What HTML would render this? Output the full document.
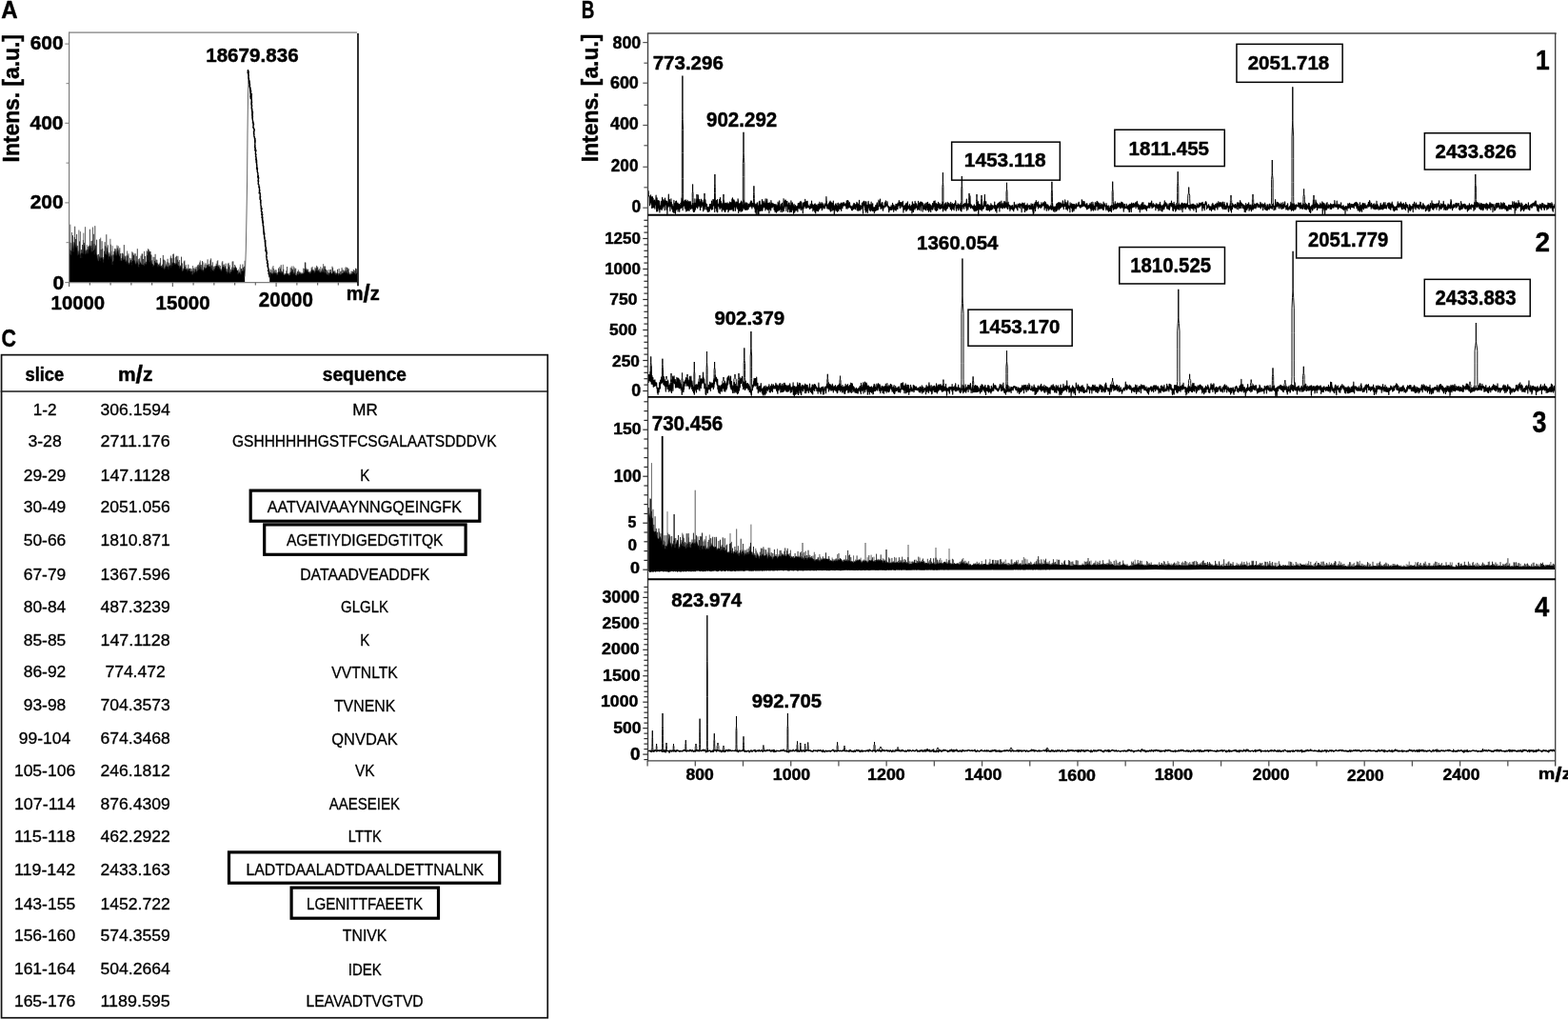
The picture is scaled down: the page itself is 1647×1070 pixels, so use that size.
<!DOCTYPE html>
<html lang="en">
<head>
<meta charset="utf-8">
<title>Figure: MALDI-TOF spectra and peptide table</title>
<style>
html,body{margin:0;padding:0;background:#fff;}
body{width:1647px;height:1070px;overflow:hidden;}
svg{display:block;font-family:"Liberation Sans",sans-serif;}
</style>
</head>
<body>
<svg width="1647" height="1070" viewBox="0 0 1647 1070">
<rect width="1647" height="1070" fill="#fff"/>
<text transform="translate(1.30,18.70) scale(0.9060,1)" font-size="26.52" font-weight="bold" fill="#000" stroke="#000" stroke-width="0.45" stroke-linejoin="round">A</text>
<text transform="translate(610.70,18.70) scale(0.7122,1)" font-size="26.52" font-weight="bold" fill="#000" stroke="#000" stroke-width="0.45" stroke-linejoin="round">B</text>
<text transform="translate(1.40,363.54) scale(0.8121,1)" font-size="26.34" font-weight="bold" fill="#000" stroke="#000" stroke-width="0.45" stroke-linejoin="round">C</text>
<path d="M73.0 296.4L73.0 261.0L73.5 261.8L74.0 263.5L74.5 263.0L75.0 263.1L75.5 259.8L76.0 252.7L76.5 257.0L77.0 262.0L77.5 258.2L78.0 254.7L78.5 254.2L79.0 255.8L79.5 258.6L80.0 261.0L80.5 259.1L81.0 256.7L81.5 263.1L82.0 267.9L82.5 265.7L83.0 261.6L83.5 264.9L84.0 268.6L84.5 266.6L85.0 265.7L85.5 265.5L86.0 266.3L86.5 265.6L87.0 265.7L87.5 260.6L88.0 257.1L88.5 257.3L89.0 259.0L89.5 263.5L90.0 267.3L90.5 263.9L91.0 261.0L91.5 263.4L92.0 266.8L92.5 265.8L93.0 262.5L93.5 260.9L94.0 256.1L94.5 258.6L95.0 259.3L95.5 261.2L96.0 265.4L96.5 260.9L97.0 255.5L97.5 259.1L98.0 263.0L98.5 263.1L99.0 262.3L99.5 260.7L100.0 257.1L100.5 262.9L101.0 266.4L101.5 267.6L102.0 269.7L102.5 271.6L103.0 274.3L103.5 274.3L104.0 273.6L104.5 271.5L105.0 269.5L105.5 270.8L106.0 271.4L106.5 270.2L107.0 270.1L107.5 270.6L108.0 271.9L108.5 272.6L109.0 272.5L109.5 269.7L110.0 265.8L110.5 266.8L111.0 267.6L111.5 267.1L112.0 263.8L112.5 263.7L113.0 262.9L113.5 265.3L114.0 268.9L114.5 269.4L115.0 269.4L115.5 268.4L116.0 265.6L116.5 267.3L117.0 267.8L117.5 271.4L118.0 275.8L118.5 274.5L119.0 273.9L119.5 270.0L120.0 265.9L120.5 263.6L121.0 262.5L121.5 265.9L122.0 269.1L122.5 265.6L123.0 262.2L123.5 264.2L124.0 263.4L124.5 266.5L125.0 267.7L125.5 268.9L126.0 269.4L126.5 271.7L127.0 273.3L127.5 273.4L128.0 274.5L128.5 270.3L129.0 268.1L129.5 270.2L130.0 273.3L130.5 272.4L131.0 270.9L131.5 273.3L132.0 275.5L132.5 274.1L133.0 272.5L133.5 274.1L134.0 275.0L134.5 275.6L135.0 276.9L135.5 277.6L136.0 277.8L136.5 275.6L137.0 272.8L137.5 275.3L138.0 276.2L138.5 275.0L139.0 273.8L139.5 274.1L140.0 273.7L140.5 272.5L141.0 273.1L141.5 273.4L142.0 275.0L142.5 276.9L143.0 277.7L143.5 274.8L144.0 273.3L144.5 275.6L145.0 276.8L145.5 277.8L146.0 277.9L146.5 277.9L147.0 276.7L147.5 275.7L148.0 276.0L148.5 277.2L149.0 278.1L149.5 277.8L150.0 277.7L150.5 278.4L151.0 277.7L151.5 276.4L152.0 275.7L152.5 276.5L153.0 278.1L153.5 277.3L154.0 276.3L154.5 275.0L155.0 273.0L155.5 273.0L156.0 272.9L156.5 274.7L157.0 275.8L157.5 275.4L158.0 274.2L158.5 274.0L159.0 274.2L159.5 276.3L160.0 277.2L160.5 276.9L161.0 278.2L161.5 278.3L162.0 279.3L162.5 277.1L163.0 275.0L163.5 275.8L164.0 276.3L164.5 276.4L165.0 274.9L165.5 277.6L166.0 281.0L166.5 279.5L167.0 277.9L167.5 279.1L168.0 280.1L168.5 279.8L169.0 279.2L169.5 280.8L170.0 281.1L170.5 279.3L171.0 277.5L171.5 279.8L172.0 282.5L172.5 281.6L173.0 280.4L173.5 280.2L174.0 279.3L174.5 279.3L175.0 279.5L175.5 279.4L176.0 280.1L176.5 280.3L177.0 280.4L177.5 280.7L178.0 280.1L178.5 279.0L179.0 278.1L179.5 278.7L180.0 279.5L180.5 278.2L181.0 276.3L181.5 276.5L182.0 275.6L182.5 275.6L183.0 276.3L183.5 277.0L184.0 277.9L184.5 277.2L185.0 277.0L185.5 276.2L186.0 276.6L186.5 278.0L187.0 278.7L187.5 278.9L188.0 279.1L188.5 280.2L189.0 280.4L189.5 280.6L190.0 280.3L190.5 280.6L191.0 280.9L191.5 283.5L192.0 284.8L192.5 283.7L193.0 283.2L193.5 282.3L194.0 281.9L194.5 282.1L195.0 282.4L195.5 283.1L196.0 283.5L196.5 283.8L197.0 284.9L197.5 284.1L198.0 282.9L198.5 283.7L199.0 283.8L199.5 284.6L200.0 285.1L200.5 285.0L201.0 283.9L201.5 285.9L202.0 288.4L202.5 285.7L203.0 284.1L203.5 285.0L204.0 286.4L204.5 284.2L205.0 282.2L205.5 283.3L206.0 283.1L206.5 284.4L207.0 285.2L207.5 284.2L208.0 283.5L208.5 283.5L209.0 283.2L209.5 282.4L210.0 281.9L210.5 280.2L211.0 279.4L211.5 281.4L212.0 283.0L212.5 283.9L213.0 284.7L213.5 283.8L214.0 283.7L214.5 281.8L215.0 280.6L215.5 281.8L216.0 281.6L216.5 281.2L217.0 281.6L217.5 279.2L218.0 278.0L218.5 278.6L219.0 278.7L219.5 280.0L220.0 280.2L220.5 279.4L221.0 279.2L221.5 281.4L222.0 282.9L222.5 282.9L223.0 282.9L223.5 284.1L224.0 284.6L224.5 283.9L225.0 283.4L225.5 282.5L226.0 281.0L226.5 280.6L227.0 279.5L227.5 278.8L228.0 278.6L228.5 279.4L229.0 279.7L229.5 280.0L230.0 279.7L230.5 281.1L231.0 281.8L231.5 282.8L232.0 284.0L232.5 283.4L233.0 282.5L233.5 280.8L234.0 279.9L234.5 279.8L235.0 279.8L235.5 280.8L236.0 281.4L236.5 281.5L237.0 281.5L237.5 283.5L238.0 285.5L238.5 286.3L239.0 286.8L239.5 286.0L240.0 285.6L240.5 286.3L241.0 287.4L241.5 287.1L242.0 286.6L242.5 285.6L243.0 284.6L243.5 284.0L244.0 282.8L244.5 283.3L245.0 283.4L245.5 283.2L246.0 283.6L246.5 282.2L247.0 281.2L247.5 281.2L248.0 281.5L248.5 282.9L249.0 284.2L249.5 285.3L250.0 287.0L250.5 287.2L251.0 287.1L251.5 285.5L252.0 283.7L252.5 286.0L253.0 287.8L253.5 286.2L254.0 284.2L254.5 284.6L255.0 284.5L255.5 284.6L256.0 285.4L256.5 283.7L257.0 282.0L257.2 296.4L257.2 296.4L245.2 296.4L233.2 296.4L221.2 296.4L209.2 296.4L197.2 296.4L185.2 296.4L173.2 296.4L161.2 296.4L149.2 296.4L137.2 296.4L125.2 296.4L113.2 296.4L101.2 296.4L89.2 296.4L77.2 296.4Z" fill="#000"/>
<path d="M73.2 266.0V254.2M73.8 267.1V235.7M74.7 267.8V255.1M75.4 264.0V244.0M77.2 264.4V254.2M81.6 268.3V258.1M82.9 266.8V241.5M84.4 270.9V243.1M85.9 270.6V262.1M87.4 266.6V252.0M87.8 263.1V244.6M89.5 267.2V238.2M91.2 266.4V257.1M97.5 264.1V238.5M99.0 267.3V256.0M105.7 274.2V249.6M108.6 275.6V270.1M112.2 268.3V259.5M112.6 267.6V260.8M114.2 272.5V266.8M115.9 269.8V250.8M116.4 270.5V256.7M117.0 272.0V263.6M118.1 278.0V258.1M119.4 273.9V268.2M122.9 267.7V257.5M126.3 273.8V266.5M129.4 272.8V266.4M133.6 276.6V263.5M138.3 278.3V271.0M141.2 276.2V266.3M145.3 279.8V272.0M145.9 280.5V273.4M151.5 279.2V263.8M158.4 277.4V267.5M160.9 280.2V269.7M170.6 281.3V277.6M172.6 283.2V272.7M173.6 282.1V273.6M175.1 281.5V275.3M176.7 282.6V275.4M177.4 282.6V279.2M179.5 281.1V268.5M180.9 279.3V275.3M182.8 278.2V270.8M188.6 282.2V273.0M191.0 283.2V275.9M191.6 285.1V276.7M196.6 285.7V281.9M200.3 286.4V281.8M202.1 288.7V284.4M202.6 286.9V279.0M204.1 287.2V282.2M205.9 285.0V281.9M206.8 286.3V280.0M210.3 282.8V273.5M211.8 284.0V278.2M213.8 285.4V275.4M215.0 282.7V277.8M222.1 284.9V281.1M224.7 285.2V282.2M228.8 281.7V273.2M230.3 282.6V278.2M232.3 285.1V282.3M233.2 283.5V275.5M235.6 282.7V277.5M238.9 287.7V284.5M241.8 287.8V285.5M243.5 285.3V280.7M245.4 284.9V280.8M249.9 287.8V284.0M250.3 288.1V282.7M252.0 285.5V280.5M252.4 286.8V277.6M252.9 288.4V286.1M257.1 284.2V273.8" fill="none" stroke="#333" stroke-width="0.75"/>
<path d="M76.5 262.4V247.1M78.3 260.3V249.0M78.7 260.4V237.7M79.6 263.9V251.0M80.6 264.0V246.0M82.0 271.4V263.6M83.5 269.4V253.4M85.3 269.6V262.3M86.5 270.2V257.0M88.4 262.8V254.9M90.1 269.6V262.9M91.8 269.7V262.0M92.6 268.4V259.1M93.2 265.9V258.1M94.3 262.2V240.7M95.3 265.3V257.9M96.0 268.6V253.1M96.8 262.1V252.6M98.3 267.6V245.8M99.8 263.8V237.2M100.5 266.1V257.5M101.6 271.4V251.7M102.4 274.7V267.5M103.5 277.1V266.9M104.3 275.4V269.3M104.8 273.3V251.1M106.1 274.8V262.0M107.1 273.1V253.2M107.7 274.8V261.2M109.6 271.9V263.6M110.1 269.9V254.1M110.7 270.8V258.3M111.8 269.3V246.2M113.3 268.5V257.3M114.9 273.0V265.2M117.4 274.7V268.4M118.9 276.4V267.3M119.9 270.8V263.9M120.7 267.6V260.9M121.8 271.1V261.4M123.4 267.5V260.5M124.1 268.1V258.3M124.9 270.5V262.4M125.8 272.5V260.3M126.9 275.8V266.0M127.8 276.5V271.1M128.5 273.6V265.7M130.3 275.4V257.1M131.1 274.5V268.5M131.8 277.4V269.4M132.9 275.7V268.3M134.4 278.2V268.4M134.9 279.2V266.3M135.7 280.2V275.8M136.6 277.8V270.8M137.6 277.9V272.7M138.8 277.4V264.3M139.7 276.5V265.4M140.2 276.2V267.7M140.6 275.9V268.2M142.2 278.4V266.3M143.3 278.7V268.8M144.3 277.0V261.2M146.6 279.7V271.3M147.2 278.8V274.6M148.1 278.2V268.6M149.1 280.5V266.5M149.7 280.5V266.5M150.6 280.2V272.0M152.6 279.3V269.0M153.4 279.4V274.8M154.2 277.9V263.3M154.6 276.8V268.1M155.2 275.9V264.2M155.6 275.9V261.2M156.1 276.2V265.0M156.5 277.0V262.4M157.0 278.0V265.8M157.5 277.6V264.0M158.1 277.4V264.1M159.0 277.4V267.6M159.8 278.9V273.2M162.0 281.2V269.9M162.5 279.5V273.9M163.1 277.8V266.8M164.0 278.8V272.6M164.9 278.0V272.8M165.7 281.4V276.5M166.5 281.6V277.9M167.2 280.7V277.0M168.0 281.8V275.7M168.6 281.5V270.9M169.5 282.4V278.9M171.3 281.3V267.9M171.7 283.1V272.6M174.7 281.6V277.5M176.1 282.4V271.8M177.8 282.5V276.3M178.3 281.8V278.4M179.1 280.6V270.7M180.3 280.9V271.2M181.8 278.2V267.1M182.3 278.1V266.4M183.8 279.9V276.0M184.7 279.5V269.8M185.4 279.2V268.7M186.4 279.9V272.7M186.9 280.9V268.8M187.7 281.2V274.8M189.2 282.8V278.5M189.8 282.5V279.0M190.5 282.8V269.6M192.7 285.2V281.8M193.3 284.2V274.5M193.9 283.5V273.5M194.4 283.6V279.8M195.2 284.1V278.1M196.2 285.1V281.6M197.0 286.3V283.2M197.8 285.3V277.7M198.4 285.2V282.0M198.9 285.6V281.9M199.3 286.0V281.8M201.2 286.2V282.3M201.6 287.7V284.9M203.3 286.0V281.5M205.1 284.2V280.4M207.4 286.0V278.4M208.2 285.0V280.5M208.7 284.9V277.7M209.2 284.6V278.9M209.8 283.8V275.5M210.9 281.6V278.0M212.5 285.1V274.1M213.1 285.8V283.1M214.4 284.3V280.4M216.0 283.8V276.3M217.1 282.7V277.8M218.1 280.3V272.4M218.9 281.2V277.7M219.9 282.2V277.1M220.9 281.6V273.3M221.6 283.5V271.4M222.5 284.8V278.6M223.3 285.1V275.3M224.2 285.9V279.8M225.3 284.3V279.5M226.3 282.6V279.0M227.2 281.3V276.8M228.2 280.9V274.2M229.3 281.9V278.5M231.3 284.4V278.9M233.8 282.5V274.2M234.8 281.8V277.9M236.5 283.4V279.4M237.2 284.2V276.6M238.3 287.2V282.3M239.6 287.5V277.1M240.0 287.2V275.9M240.6 287.9V280.3M241.3 288.1V278.3M242.4 287.1V282.8M244.1 284.5V274.6M244.9 284.7V274.4M246.2 284.8V281.0M246.7 283.6V278.0M247.5 283.0V279.6M248.4 284.1V281.2M249.5 286.9V283.9M250.9 288.3V285.7M253.5 287.4V282.2M253.9 286.2V282.0M254.9 286.0V277.5M255.5 286.4V280.8M256.6 285.1V279.8" fill="none" stroke="#000" stroke-width="0.75"/>
<path d="M257 290.5l0.6 -7.5l0.7 -21l0.7 -37l0.6 -35l0.4 -50l0.5 -40l0.5 -16l0.5 -9.2" fill="none" stroke="#555" stroke-width="0.9" stroke-linejoin="round" />
<path d="M259.9 74.8l0.7 -1.3l-0.5 2.9l1 -1.6l-0.5 3.2l0.1 -0.2l0.3 1.8l0.3 -0.7l-0.5 2.3l0.3 -0.1l-0.1 1.7l0.5 -0.5l-0.1 2.1l0.1 -0.9l-0.1 2.5l0.2 -1l-0.1 2.6l0.4 -2.4l0.6 4l0.2 -0.1l-0.7 1.7l0.2 -1.5l0.4 3.1l0 -1.2l0.5 2.8l-0.1 -2l0.2 3.6l0.2 -0.2l-0.5 1.8l0.8 -2.2l-0.3 3.8l0.1 0l0 1.6l0.3 -2.3l-0.8 3.9l0.9 -0.9l-0.4 2.5l0.6 -1.1l0.1 2.7l0.3 -0.3l-0.4 1.9l0.3 -1.1l-0.4 2.7l0.7 -1.3l-0.7 2.9l0.5 -0.1l0.2 1.7l-0.1 -1.1l-0.4 2.7l0.1 -0.1l0.1 1.7l0.5 -0.8l-0.4 2.4l0.6 -0.5l-0.3 2.1l0.4 -0.1l0.2 1.7l0.1 -2.2l-0.8 3.8l0.4 -2.3l0.4 3.9l-0.3 -0.3l-0.2 1.9l0.4 -0.7l-0.2 2.3l0.1 -0.9l0.3 2.5l0.2 -0.5l-0.5 2.1l0.7 -1.2l0.4 2.8l-0.5 -0.3l0.1 1.9l0.6 -2.2l-0.9 3.8l0.8 -0.1l0.2 1.7l0.4 -0.2l-0.2 1.8l0.1 -0.4l-0.6 2l0.9 -2.4l-0.9 4l0.4 -1l0.2 2.6l-0.3 -1.7l0.2 3.3l0.4 -0.2l0 1.8l0.1 -0.8l0.3 2.4l0.3 -1.4l-0.1 3l-0.3 -2l0.1 3.6l0.5 -2.4l-0.4 4l-0.1 -0.5l0.4 2.1l-0.3 -1.5l-0.3 3.1l0.5 -0.6l-0.1 2.2l0.6 -0.8l-0.8 2.4l0.4 -0.5l0.5 2.1l0.4 -1.9l-0.8 3.5l0.2 -0.7l0.1 2.3l0.6 -0.7l-0.7 2.3l0.3 -0.2l0.3 1.8l0.2 -1.2l-0.5 2.8l0.3 -2.2l0.7 3.8l-0.6 -1.6l0 3.2l0.6 -0.5l-0.2 2.1l0.1 -1.6l0 3.2l0.2 -1.5l0.2 3.1l-0.1 -1.7l-0.4 3.3l0.9 0l-0.4 1.6l0.5 -2.2l-0.3 3.8l0.2 -0.3l0.4 1.9l0.2 -0.3l-0.2 1.9l0.1 -0.5l0.2 2.1l-0.5 -0.1l0.4 1.7l0.4 -2.5l0 4.1l0.4 -1.7l-0.9 3.3l0.2 -0.4l0.3 2l0.3 -1.6l-0.6 3.2l0.5 -0.1l0.4 1.7l0 -0.6l-0.1 2.2l-0.1 -0.1l0.7 1.7l0 -2l0.1 3.6l-0.1 -1.5l-0.1 3.1l0.6 -1.3l-0.9 2.9l1 0l0.1 1.6l0 -2l0.1 3.6l0 -2.4l-0.3 4l0.7 -1.1l-0.8 2.7l0.5 -0.9l0.3 2.5l0.4 -0.3l-0.6 1.9l0.4 -2.4l0.1 4l-0.4 -2.5l0.4 4.1l-0.2 -0.6l0.4 2.2l0.2 -0.8l-0.3 2.4l0.2 -1.5l0.1 3.1l0.8 -1.5l-0.9 3.1l0.2 -0.3l0.7 1.9l0.2 -1.3l-0.8 2.9l0.7 -0.4l-0.1 2l0.7 -1.8l-1 3.4l1 -0.6l-0.1 2.2l-0.4 -1.8l0.1 3.4l0.2 -1.5l0 3.1l0.4 -2.3l-0.1 3.9l0.6 -1.9l-0.5 3.5l0.2 -0.5l0.1 2.1l0.4 -1l0.1 2.6l-0.4 -2.5l0.3 4.1l-0.1 -2.5l0.6 4.1l-0.5 -1.6l0.1 3.2l0.6 -0.6l-0.6 2.2l1 -1l-0.3 2.6l0 -0.3l-0.1 1.9l0.5 -0.4l-0.3 2l0.3 -2l0.2 3.6l0.3 -0.1l-0.4 1.7l0.9 -1.3l-0.6 2.9l0.5 -0.9l-0.2 2.5l-0.2 -1.7l0.1 3.3l0.2 -2.4l0.3 4l0.5 -0.5l-0.2 2.1l-0.4 -0.5l-0.1 2.1l1 -0.9l0 2.5l-0.4 -1.5l0.5 3.1l0.4 -1.6l-0.6 3.2l0 -1.4l-0.1 3l0.6 -0.6l-0.3 2.2l0.1 -0.4l0 2l0.4 -0.7l0.7 2.3l-0.3 -1l-0.5 2.6l0.4 -0.9l0.4 2.5l0.2 -1.7l-0.5 3.3l0.7 -2.1l-0.2 3.7l0.1 -1.6l0.5 3.2l0.2 -0.4l-0.8 2l0.9 -0.4l-0.1 2l0.3 -2l-0.4 3.6l0.8 -1.8l-0.2 3.4l0.4 -0.9l-0.2 2.5l0.2 -1.8" fill="none" stroke="#000" stroke-width="1.3" stroke-linejoin="round" />
<path d="M262 84l0.6 12l-0.4 -8l1 16l1.4 -6l-0.4 12l0.8 14" fill="none" stroke="#000" stroke-width="0.8" stroke-linejoin="round" />
<path d="M283.2 296.4L283.2 288.0L283.7 286.8L284.2 285.9L284.7 286.3L285.2 286.5L285.7 287.2L286.2 287.1L286.7 286.5L287.2 285.5L287.7 285.3L288.2 285.6L288.7 286.0L289.2 286.4L289.7 286.3L290.2 286.9L290.7 287.3L291.2 288.3L291.7 287.5L292.2 285.8L292.7 286.0L293.2 285.7L293.7 286.1L294.2 286.7L294.7 286.0L295.2 285.3L295.7 286.3L296.2 286.7L296.7 285.8L297.2 285.2L297.7 287.0L298.2 288.9L298.7 288.8L299.2 288.3L299.7 288.0L300.2 287.6L300.7 286.9L301.2 287.0L301.7 286.9L302.2 287.7L302.7 288.2L303.2 288.7L303.7 288.4L304.2 288.7L304.7 287.6L305.2 286.4L305.7 285.5L306.2 284.8L306.7 284.7L307.2 284.6L307.7 286.1L308.2 287.0L308.7 285.8L309.2 285.4L309.7 286.9L310.2 288.6L310.7 288.9L311.2 289.2L311.7 288.6L312.2 287.8L312.7 288.1L313.2 288.2L313.7 288.1L314.2 287.9L314.7 287.1L315.2 286.3L315.7 287.0L316.2 287.9L316.7 287.9L317.2 287.8L317.7 287.5L318.2 287.0L318.7 286.9L319.2 286.2L319.7 285.1L320.2 283.1L320.7 283.2L321.2 283.1L321.7 283.1L322.2 283.1L322.7 284.4L323.2 285.1L323.7 285.8L324.2 286.1L324.7 286.2L325.2 286.8L325.7 286.5L326.2 286.0L326.7 284.5L327.2 282.3L327.7 283.2L328.2 284.0L328.7 284.6L329.2 284.4L329.7 285.2L330.2 285.4L330.7 284.9L331.2 284.0L331.7 283.5L332.2 283.5L332.7 284.4L333.2 284.6L333.7 284.7L334.2 283.9L334.7 284.1L335.2 283.2L335.7 284.7L336.2 285.7L336.7 285.7L337.2 284.5L337.7 285.1L338.2 286.2L338.7 285.2L339.2 283.6L339.7 284.6L340.2 285.4L340.7 286.2L341.2 286.8L341.7 286.3L342.2 286.2L342.7 286.8L343.2 287.5L343.7 287.9L344.2 288.0L344.7 288.4L345.2 288.7L345.7 287.5L346.2 286.1L346.7 286.0L347.2 285.3L347.7 286.5L348.2 287.8L348.7 287.4L349.2 286.7L349.7 285.9L350.2 285.8L350.7 285.7L351.2 286.1L351.7 287.0L352.2 287.7L352.7 288.2L353.2 288.4L353.7 287.3L354.2 286.6L354.7 287.6L355.2 288.7L355.7 288.1L356.2 287.1L356.7 287.6L357.2 287.9L357.7 287.9L358.2 288.5L358.7 287.5L359.2 286.9L359.7 286.9L360.2 287.1L360.7 286.8L361.2 285.7L361.7 285.5L362.2 285.4L362.7 285.5L363.2 285.6L363.7 286.1L364.2 286.6L364.7 286.6L365.2 287.2L365.7 287.4L366.2 287.2L366.7 287.8L367.2 288.4L367.7 288.6L368.2 288.5L368.7 287.7L369.2 287.0L369.7 287.5L370.2 287.7L370.7 286.8L371.2 286.1L371.7 286.5L372.2 286.0L372.7 287.0L373.2 288.4L373.7 288.0L374.2 287.3L374.7 287.0L375.2 287.1L375.4 296.4L375.4 296.4L363.4 296.4L351.4 296.4L339.4 296.4L327.4 296.4L315.4 296.4L303.4 296.4L291.4 296.4Z" fill="#000"/>
<path d="M283.4 288.8V286.7M285.2 287.8V283.5M286.2 288.4V280.5M287.0 287.4V279.0M287.6 286.9V282.0M288.7 287.1V284.0M289.1 287.4V283.1M291.0 289.1V285.8M291.8 288.2V286.1M295.7 287.3V284.2M297.3 286.9V277.8M299.7 289.0V287.0M300.6 288.3V284.3M303.8 289.6V286.9M304.7 288.4V285.7M306.2 286.5V279.5M308.1 288.0V279.3M311.8 289.4V286.8M313.4 289.0V283.3M315.8 288.5V285.7M318.6 288.0V281.6M319.6 286.5V282.0M321.7 284.8V281.5M325.6 287.6V285.4M326.3 287.0V284.5M328.1 285.4V279.9M330.1 286.8V284.1M330.9 285.8V280.6M331.3 285.3V281.9M334.7 285.5V282.9M335.7 286.2V282.1M336.8 286.7V280.0M337.2 286.3V283.5M339.6 285.9V277.1M341.9 287.5V282.7M343.5 288.6V284.1M344.9 289.3V283.2M346.4 287.3V283.2M351.1 287.6V284.8M352.3 288.9V286.1M355.5 289.3V287.1M357.0 288.7V286.7M357.6 289.0V285.1M362.8 286.9V281.4M363.2 287.2V280.2M365.1 288.3V280.9M368.9 288.5V284.5M371.9 287.4V284.5M375.1 288.0V285.5" fill="none" stroke="#333" stroke-width="0.75"/>
<path d="M284.1 287.5V282.7M290.1 287.8V283.4M292.5 287.2V281.6M293.3 287.0V284.7M293.9 287.4V280.1M294.4 287.5V282.1M295.2 286.9V278.2M296.3 287.7V285.2M297.8 288.8V282.7M298.8 289.7V287.5M301.6 288.2V280.0M302.8 289.2V287.0M305.2 287.5V281.2M306.7 286.3V281.8M307.4 286.5V283.0M309.1 286.7V280.7M309.8 288.4V282.7M310.7 289.7V281.7M312.4 289.0V285.3M313.0 289.0V284.8M314.2 289.1V286.4M314.7 288.2V285.1M316.6 289.0V286.6M317.7 288.5V286.4M320.4 284.9V275.5M320.9 284.9V275.6M322.8 285.7V282.5M323.7 286.8V282.8M324.8 287.6V285.1M327.2 284.2V280.9M328.9 285.8V282.8M329.3 286.0V283.6M332.1 285.4V281.4M332.7 285.8V278.9M333.2 286.2V280.5M333.8 285.9V280.5M338.3 287.0V281.5M338.8 286.1V282.8M340.3 286.7V279.5M340.9 287.4V282.4M341.5 287.7V279.5M342.6 287.7V282.9M344.4 289.2V285.9M345.6 288.6V286.7M347.4 287.2V283.0M348.2 288.9V286.9M349.0 288.2V279.7M349.6 287.5V281.3M350.4 287.1V284.5M351.9 288.4V284.2M352.9 289.2V287.0M353.8 288.4V286.4M354.5 288.3V282.8M356.1 288.5V282.0M358.2 289.3V284.6M359.1 288.4V281.1M360.2 288.4V283.1M361.0 287.5V284.3M362.0 286.6V283.9M363.6 287.4V284.3M364.4 287.9V280.9M365.7 288.2V283.1M366.1 288.2V282.0M366.8 288.9V285.9M367.4 289.5V287.7M368.2 289.5V287.1M369.9 288.5V285.0M370.6 288.3V285.1M371.3 287.6V283.0M372.8 288.6V283.9M373.5 289.1V281.7M374.4 288.1V282.3" fill="none" stroke="#000" stroke-width="0.75"/>
<line x1="72.60" y1="34.10" x2="375.00" y2="34.10" stroke="#7f7f7f" stroke-width="1.2"/>
<line x1="72.60" y1="33.50" x2="72.60" y2="297.20" stroke="#7f7f7f" stroke-width="1.2"/>
<line x1="72.60" y1="296.60" x2="376.00" y2="296.60" stroke="#7f7f7f" stroke-width="1.2"/>
<line x1="376.00" y1="35.00" x2="376.00" y2="300.30" stroke="#000" stroke-width="1.6"/>
<line x1="68.30" y1="46.10" x2="72.60" y2="46.10" stroke="#7f7f7f" stroke-width="1.1"/>
<line x1="68.30" y1="129.30" x2="72.60" y2="129.30" stroke="#7f7f7f" stroke-width="1.1"/>
<line x1="68.30" y1="212.90" x2="72.60" y2="212.90" stroke="#7f7f7f" stroke-width="1.1"/>
<line x1="68.30" y1="296.60" x2="72.60" y2="296.60" stroke="#7f7f7f" stroke-width="1.1"/>
<line x1="69.50" y1="87.70" x2="72.60" y2="87.70" stroke="#7f7f7f" stroke-width="1.0"/>
<line x1="69.50" y1="171.10" x2="72.60" y2="171.10" stroke="#7f7f7f" stroke-width="1.0"/>
<line x1="69.50" y1="254.70" x2="72.60" y2="254.70" stroke="#7f7f7f" stroke-width="1.0"/>
<line x1="72.60" y1="296.60" x2="72.60" y2="301.00" stroke="#666" stroke-width="1.2"/>
<line x1="94.35" y1="296.60" x2="94.35" y2="299.60" stroke="#666" stroke-width="1.2"/>
<line x1="116.10" y1="296.60" x2="116.10" y2="299.60" stroke="#666" stroke-width="1.2"/>
<line x1="137.85" y1="296.60" x2="137.85" y2="299.60" stroke="#666" stroke-width="1.2"/>
<line x1="159.60" y1="296.60" x2="159.60" y2="299.60" stroke="#666" stroke-width="1.2"/>
<line x1="181.35" y1="296.60" x2="181.35" y2="301.00" stroke="#666" stroke-width="1.2"/>
<line x1="203.10" y1="296.60" x2="203.10" y2="299.60" stroke="#666" stroke-width="1.2"/>
<line x1="224.85" y1="296.60" x2="224.85" y2="299.60" stroke="#666" stroke-width="1.2"/>
<line x1="246.60" y1="296.60" x2="246.60" y2="299.60" stroke="#666" stroke-width="1.2"/>
<line x1="268.35" y1="296.60" x2="268.35" y2="299.60" stroke="#666" stroke-width="1.2"/>
<line x1="290.10" y1="296.60" x2="290.10" y2="301.00" stroke="#666" stroke-width="1.2"/>
<line x1="311.85" y1="296.60" x2="311.85" y2="299.60" stroke="#666" stroke-width="1.2"/>
<line x1="333.60" y1="296.60" x2="333.60" y2="299.60" stroke="#666" stroke-width="1.2"/>
<line x1="355.35" y1="296.60" x2="355.35" y2="299.60" stroke="#666" stroke-width="1.2"/>
<text transform="translate(31.70,52.49) scale(1.0025,1)" font-size="20.85" font-weight="bold" fill="#000" stroke="#000" stroke-width="0.45" stroke-linejoin="round">600</text>
<text transform="translate(31.50,135.90) scale(1.0363,1)" font-size="20.28" font-weight="bold" fill="#000" stroke="#000" stroke-width="0.45" stroke-linejoin="round">400</text>
<text transform="translate(31.70,219.20) scale(1.0233,1)" font-size="20.42" font-weight="bold" fill="#000" stroke="#000" stroke-width="0.45" stroke-linejoin="round">200</text>
<text transform="translate(55.40,303.99) scale(1.0182,1)" font-size="20.70" font-weight="bold" fill="#000" stroke="#000" stroke-width="0.45" stroke-linejoin="round">0</text>
<text transform="translate(53.60,324.69) scale(0.9901,1)" font-size="20.56" font-weight="bold" fill="#000" stroke="#000" stroke-width="0.45" stroke-linejoin="round">10000</text>
<text transform="translate(163.60,325.20) scale(1.0127,1)" font-size="20.28" font-weight="bold" fill="#000" stroke="#000" stroke-width="0.45" stroke-linejoin="round">15000</text>
<text transform="translate(271.80,321.78) scale(0.9470,1)" font-size="21.69" font-weight="bold" fill="#000" stroke="#000" stroke-width="0.45" stroke-linejoin="round">20000</text>
<text transform="translate(363.80,314.70) scale(0.9913,1)" font-size="20.19" font-weight="bold" fill="#000" stroke="#000" stroke-width="0.45" stroke-linejoin="round">m<tspan font-size="25.77" dy="2.78">/</tspan><tspan dy="-2.78">z</tspan></text>
<text transform="translate(216.20,65.10) scale(1.0164,1)" font-size="20.28" font-weight="bold" fill="#000" stroke="#000" stroke-width="0.45" stroke-linejoin="round">18679.836</text>
<text transform="translate(19.60,170.40) rotate(-90) scale(0.9659,1)" font-size="23.62" font-weight="bold" fill="#000" stroke="#000" stroke-width="0.45" stroke-linejoin="round">Intens. [a.u.]</text>
<path d="M681.1 200.4l0.2 4.5l0.2 0.9l0.2 0.1l0.2 -0.1l0.2 0.1l0.2 1.8l0.2 8l0.2 -3.9l0.2 -3.4l0.2 0.4l0.2 3.4l0.2 -7.3l0.2 6l0.2 -0.5l0.2 3.7l0.2 -1.2l0.2 -6.1l0.2 11.7l0.2 -7.3l0.2 -0.4l0.2 -4.3l0.2 8.6l0.2 -7.2l0.2 10.2l0.2 -9.8l0.2 7.6l0.2 -1.9l0.2 1.6l0.2 2.1l0.2 -6.8l0.2 5.6l0.2 -6.4l0.2 3.2l0.2 5.9l0.2 -3.9l0.2 -3.3l0.2 3.2l0.2 -0.8l0.2 -5l0.2 -4.4l0.2 8.2l0.2 0.3l0.2 8.4l0.2 -6.2l0.2 -7.8l0.2 8.3l0.2 -5.6l0.2 11.2l0.2 -4.2l0.2 -6.6l0.2 4.2l0.2 -4.6l0.2 3.8l0.2 3.9l0.2 -2l0.2 3.8l0.2 -9.1l0.2 4.8l0.2 7.1l0.2 -6.3l0.2 -0.6l0.2 3.8l0.2 -0.8l0.2 -1l0.2 1.2l0.2 -4.8l0.2 -3l0.2 7.2l0.2 -3.2l0.2 5.3l0.2 -1.3l0.2 -10.2l0.2 -1.9l0.2 10.3l0.2 1l0.2 -6.6l0.2 -2.1l0.2 5.3l0.2 -5.5l0.2 0.5l0.2 6.6l0.2 0l0.2 -1.7l0.2 -3.5l0.2 9.2l0.2 -6.7l0.2 -6l0.2 7.1l0.2 -1.3l0.2 -1.2l0.2 1.1l0.2 -0.2l0.2 -2.8l0.2 5.6l0.2 3.7l0.2 -0.9l0.2 -1l0.2 -6.6l0.2 14.2l0.2 -10l0.2 2l0.2 -4.4l0.2 3.3l0.2 0.8l0.2 -4.4l0.2 -9l0.2 11.3l0.2 0.8l0.2 -0.8l0.2 -0.8l0.2 -5.1l0.2 3.3l0.2 4.1l0.2 4.7l0.2 -9.1l0.2 3l0.2 0l0.2 1.1l0.2 -7.8l0.2 7.3l0.2 -3.9l0.2 6l0.2 -0.9l0.2 2.3l0.2 -5l0.2 2.2l0.2 -0.6l0.2 6.1l0.2 -0.6l0.2 -1l0.2 -3.9l0.2 0.6l0.2 5.5l0.2 -12.5l0.2 13.1l0.2 -6.6l0.2 4l0.2 -3.6l0.2 -0.4l0.2 -3.4l0.2 0.8l0.2 10l0.2 -12.8l0.2 5.7l0.2 3.6l0.2 -6.8l0.2 -2.9l0.2 3.8l0.2 3.3l0.2 1.3l0.2 -4.2l0.2 3.7l0.2 -4.5l0.2 -1.5l0.2 9l0.2 -8.3l0.2 6l0.2 -3.7l0.2 0.8l0.2 -2l0.2 0.9l0.2 -1.1l0.2 7.6l0.2 -3.6l0.2 1l0.2 -1.4l0.2 -2.7l0.2 1.9l0.2 -4.1l0.2 5.2l0.2 -4.1l0.2 2.1l0.2 -1.4l0.2 2.8l0.2 -9.8l0.2 6.2l0.2 -1.4l0.2 0.8l0.2 -4l0.2 11l0.2 -7.7l0.2 3.6l0.2 -5.4l0.2 2.9l0.2 0.8l0.2 -1.9l0.2 0.6l0.2 2.5l0.2 0l0.2 -5.6l0.2 8.6l0.2 -8.5l0.2 3.4l0.2 -1.3l0.2 -2.8l0.2 2.9l0.2 2.9l0.2 6.2l0.2 -10.4l0.2 5.6l0.2 -0.7l0.2 2.9l0.2 1.9l0.2 -7.2l0.2 -3.8l0.2 5.9l0.2 -4.2l0.2 9l0.2 -5.4l0.2 1.9l0.2 3.5l0.2 -6.7l0.2 -2.7l0.2 7.7l0.2 1.9l0.2 -3.1l0.2 -6.2l0.2 6.2l0.2 -2.3l0.2 -2.4l0.2 -1.6l0.2 7.7l0.2 -3.8l0.2 2.1l0.2 1.1l0.2 -0.8l0.2 -2.1l0.2 2.7l0.2 -0.1l0.2 0.4l0.2 -2.1l0.2 -3.2l0.2 0l0.2 2.5l0.2 5.2l0.2 -4.1l0.2 5.2l0.2 -0.8l0.2 -4.9l0.2 1.2l0.2 -4.9l0.2 9.2l0.2 -1l0.2 -12.3l0.2 5.8l0.2 5l0.2 0.2l0.2 -6.3l0.2 2.9l0.2 -3.5l0.2 4.6l0.2 -0.5l0.2 -6.2l0.2 2.1l0.2 4.1l0.2 -7.4l0.2 1.5l0.2 7.6l0.2 -4.1l0.2 -0.2l0.2 -9.7l0.2 6.9l0.2 -1.8l0.2 2.1l0.2 4.9l0.2 -6.9l0.2 2l0.2 -2.7l0.2 5.8l0.2 -2.5l0.2 0l0.2 8l0.2 -7.6l0.2 4.2l0.2 -5.9l0.2 2.5l0.2 -4.6l0.2 8.5l0.2 -5.1l0.2 -2.2l0.2 5.3l0.2 0l0.2 -0.2l0.2 -0.6l0.2 -2l0.2 3.8l0.2 1.6l0.2 3.3l0.2 -2.8l0.2 -8.3l0.2 5l0.2 -1l0.2 -4.6l0.2 6.4l0.2 3.7l0.2 -2.2l0.2 -4.2l0.2 0.5l0.2 -4.4l0.2 4.1l0.2 0.1l0.2 2.6l0.2 -2.5l0.2 5.7l0.2 -4l0.2 -1.3l0.2 0.6l0.2 5.1l0.2 0.8l0.2 -3.5l0.2 5l0.2 -2.5l0.2 -0.4l0.2 -1.5l0.2 0.7l0.2 -0.7l0.2 0.7l0.2 3.6l0.2 -5.4l0.2 4.8l0.2 -0.4l0.2 -6.6l0.2 3.2l0.2 1.4l0.2 -5l0.2 2.6l0.2 -2.4l0.2 3.7l0.2 -1.2l0.2 -1.5l0.2 4.1l0.2 -8.5l0.2 9.2l0.2 -3.6l0.2 -0.9l0.2 3.1l0.2 -2l0.2 2.6l0.2 -10l0.2 6.5l0.2 -1.4l0.2 1.4l0.2 -0.3l0.2 -2.8l0.2 -3.4l0.2 0l0.2 -0.5l0.2 13.5l0.2 -4.2l0.2 -6.1l0.2 0.8l0.2 0.6l0.2 4.8l0.2 -6.9l0.2 6.6l0.2 -3.2l0.2 -4.3l0.2 9.6l0.2 1.7l0.2 -4.5l0.2 -0.9l0.2 -6.9l0.2 13.2l0.2 -8.4l0.2 2.1l0.2 -0.1l0.2 -1.1l0.2 0.9l0.2 -1.8l0.2 0.9l0.2 -2.5l0.2 5l0.2 -8.3l0.2 6.1l0.2 4l0.2 -2.5l0.2 -9.6l0.2 6l0.2 -0.9l0.2 5.5l0.2 -6.7l0.2 5.7l0.2 -3.5l0.2 1l0.2 1.4l0.2 6l0.2 -3.9l0.2 -2.3l0.2 3.9l0.2 -6.6l0.2 4l0.2 -1.1l0.2 4l0.2 -9.4l0.2 8l0.2 2.2l0.2 -9.6l0.2 9.4l0.2 0.4l0.2 -1.9l0.2 -5.9l0.2 9.2l0.2 -6l0.2 5.5l0.2 -4.5l0.2 -1.2l0.2 -2.3l0.2 -0.7l0.2 6.9l0.2 -5.2l0.2 1.5l0.2 -2.1l0.2 -0.4l0.2 5.5l0.2 -6.6l0.2 6.6l0.2 -2.7l0.2 -1.9l0.2 7.9l0.2 -4l0.2 -4.8l0.2 7.4l0.2 -7.3l0.2 4.3l0.2 -2.4l0.2 0.5l0.2 -4.2l0.2 8l0.2 -8l0.2 6l0.2 -4.9l0.2 2.7l0.2 -0.1l0.2 4.3l0.2 -7.4l0.2 -0.1l0.2 1.8l0.2 5.1l0.2 -10.5l0.2 6.2l0.2 3.4l0.2 -10.8l0.2 5.5l0.2 7.8l0.2 -5.5l0.2 -5.9l0.2 10.2l0.2 1.4l0.2 -10.1l0.2 -1.3l0.2 6.6l0.2 -4.1l0.2 3.1l0.2 -3.8l0.2 5.9l0.2 -3l0.2 6.6l0.2 -3.7l0.2 -2.4l0.2 -1.1l0.2 -1.9l0.2 2.5l0.2 -2.7l0.2 5.1l0.2 -0.3l0.2 1.6l0.2 -1.8l0.2 -4.3l0.2 7.3l0.2 -10.8l0.2 1.4l0.2 2.6l0.2 10.7l0.2 -9.2l0.2 2.2l0.2 0.9l0.2 2.9l0.2 1l0.2 -7.7l0.2 0.8l0.2 6.5l0.2 -1.6l0.2 -2.2l0.2 -4.3l0.2 9.5l0.2 -10.2l0.2 8.8l0.2 -9.9l0.2 6.8l0.2 -0.3l0.2 -5l0.2 9.2l0.2 -5l0.2 -0.2l0.2 4.2l0.2 -2.7l0.2 -3.2l0.2 0.4l0.2 2.3l0.2 -7.3l0.2 1.8l0.2 6.5l0.2 0.7l0.2 -2.8l0.2 2.4l0.2 -4.3l0.2 5.8l0.2 -4.8l0.2 -2.3l0.2 2l0.2 -2.4l0.2 2.7l0.2 4.8l0.2 -1.8l0.2 0.3l0.2 -3.1l0.2 -2.6l0.2 4.9l0.2 2.5l0.2 -3.3l0.2 -0.7l0.2 1.8l0.2 -0.9l0.2 -3.5l0.2 5.6l0.2 -4.5l0.2 2.2l0.2 -2l0.2 -0.6l0.2 2.8l0.2 -0.6l0.2 -0.1l0.2 -1.4l0.2 -1.9l0.2 -0.3l0.2 -0.9l0.2 2.4l0.2 1.8l0.2 -5.6l0.2 6.4l0.2 -4.3l0.2 -1.5l0.2 3.3l0.2 4.3l0.2 -5.9l0.2 0.9l0.2 1.9l0.2 -1.9l0.2 1.7l0.2 -2.2l0.2 3.7l0.2 -2.5l0.2 -0.9l0.2 2.5l0.2 -3.7l0.2 3.9l0.2 -0.8l0.2 3.2l0.2 -3l0.2 -1.8l0.2 8.7l0.2 -7.9l0.2 4.6l0.2 -2.9l0.2 5l0.2 3l0.2 -7.2l0.2 -3.3l0.2 5.5l0.2 -2l0.2 -4.8l0.2 0.5l0.2 5.8l0.2 5.6l0.2 -6.8l0.2 0.3l0.2 -0.2l0.2 -2.1l0.2 9.8l0.2 -6.7l0.2 -7.1l0.2 5.7l0.2 3.7l0.2 -2.6l0.2 -7.7l0.2 4.2l0.2 6.3l0.2 -0.6l0.2 -1.9l0.2 0.2l0.2 -4.2l0.2 1.9l0.2 0.9l0.2 2l0.2 1.7l0.2 -5.9l0.2 -6.1l0.2 3.6l0.2 7.9l0.2 -1.8l0.2 -0.8l0.2 -1l0.2 -4.2l0.2 3.8l0.2 -5.7l0.2 0.8l0.2 2.6l0.2 2.6l0.2 0.6l0.2 -0.8l0.2 -0.9l0.2 -0.2l0.2 -3.1l0.2 8l0.2 -12.1l0.2 3.2l0.2 -0.3l0.2 3.5l0.2 0.5l0.2 3.6l0.2 -6l0.2 3.6l0.2 -7.9l0.2 3.9l0.2 1.4l0.2 6.3l0.2 -6.3l0.2 -0.1l0.2 -0.9l0.2 6.2l0.2 -0.2l0.2 -5.1l0.2 -0.5l0.2 10l0.2 -6.9l0.2 -4.1l0.2 5.4l0.2 -3.6l0.2 4.8l0.2 -5l0.2 2.4l0.2 0.8l0.2 3.5l0.2 -10.5l0.2 2.9l0.2 2l0.2 -2.3l0.2 1.3l0.2 3.5l0.2 -0.3l0.2 0.2l0.2 -3.4l0.2 1.6l0.2 -2.7l0.2 1.7l0.2 1.1l0.2 0.2l0.2 0.9l0.2 -2.6l0.2 5.6l0.2 0.3l0.2 -4.4l0.2 3.6l0.2 -5.1l0.2 8l0.2 -6.5l0.2 5.1l0.2 -2.1l0.2 2.3l0.2 -6.7l0.2 1.1l0.2 7.3l0.2 -3.3l0.2 1.9l0.2 -5.2l0.2 -0.5l0.2 -0.3l0.2 6.1l0.2 -0.3l0.2 -9.5l0.2 9.3l0.2 -4.5l0.2 0.2l0.2 -0.1l0.2 -3.1l0.2 2.4l0.2 4.6l0.2 -9.9l0.2 5.7l0.2 -1.9l0.2 3.2l0.2 1.6l0.2 0.2l0.2 -1.5l0.2 4.2l0.2 -4.2l0.2 -1.8l0.2 -2l0.2 4.2l0.2 -0.2l0.2 1.9l0.2 -7.1l0.2 8.4l0.2 1.1l0.2 -3.4l0.2 -2l0.2 0.6l0.2 1.7l0.2 -2.5l0.2 -8.4l0.2 12.7l0.2 -7.5l0.2 -0.7l0.2 5.6l0.2 -5l0.2 -2.1l0.2 5.1l0.2 -6.6l0.2 1.7l0.2 4.2l0.2 -6l0.2 5.9l0.2 -4.6l0.2 10l0.2 -5.6l0.2 -4.3l0.2 2.7l0.2 -2.3l0.2 -0.3l0.2 4.5l0.2 -0.2l0.2 1.7l0.2 4.8l0.2 -7.3l0.2 4.7l0.2 -0.7l0.2 -5.5l0.2 -0.4l0.2 -0.3l0.2 0.3l0.2 2.5l0.2 4.4l0.2 2.6l0.2 -6.9l0.2 5.4l0.2 -5.2l0.2 3.8l0.2 2.2l0.2 -11.2l0.2 3l0.2 8.6l0.2 -8.6l0.2 3.5l0.2 -2.8l0.2 6.3l0.2 -7.9l0.2 1.4l0.2 4.3l0.2 -2.1l0.2 -0.8l0.2 0.6l0.2 7.9l0.2 -4.3l0.2 -2.7l0.2 -2.9l0.2 4.3l0.2 -0.7l0.2 5.1l0.2 -4.5l0.2 3.2l0.2 -2.6l0.2 -3.5l0.2 2.9l0.2 0.4l0.2 1.1l0.2 1l0.2 -4.1l0.2 2.4l0.2 -1.2l0.2 2.6l0.2 -4l0.2 3.4l0.2 -1.5l0.2 3.7l0.2 -6.9l0.2 -1.8l0.2 3.1l0.2 1.8l0.2 -4.4l0.2 0.8l0.2 -1.6l0.2 1.3l0.2 0.3l0.2 4.4l0.2 -2.1l0.2 -5l0.2 5.7l0.2 -3.4l0.2 0l0.2 -3.2l0.2 9.3l0.2 -4.1l0.2 -2.2l0.2 -1.7l0.2 1.6l0.2 3.9l0.2 -0.6l0.2 2.3l0.2 0.1l0.2 -2.4l0.2 6.3l0.2 -7l0.2 -3.8l0.2 2.4l0.2 3.5l0.2 -2.2l0.2 -1.7l0.2 -2.4l0.2 0.4l0.2 0.8l0.2 2.7l0.2 -1.7l0.2 -5.5l0.2 4.5l0.2 4.3l0.2 -5.6l0.2 5.1l0.2 -4.2l0.2 5.2l0.2 -7.1l0.2 3.1l0.2 3.6l0.2 -1l0.2 -1.6l0.2 -4.4l0.2 3.4l0.2 3l0.2 -2.8l0.2 1.6l0.2 0.4l0.2 0l0.2 1.1l0.2 -1.8l0.2 0.5l0.2 0.9l0.2 0.3l0.2 1.6l0.2 -2.1l0.2 1.7l0.2 -4.8l0.2 1.8l0.2 2.7l0.2 -1.6l0.2 0.1l0.2 1.3l0.2 -0.2l0.2 -7.2l0.2 6l0.2 0.2l0.2 -3.3l0.2 1l0.2 3l0.2 0l0.2 3.6l0.2 -6.3l0.2 1.6l0.2 3.1l0.2 -2.9l0.2 2l0.2 1.2l0.2 -5.7l0.2 0.9l0.2 4.3l0.2 2.6l0.2 -8.6l0.2 8.8l0.2 -2.2l0.2 3.6l0.2 -8.8l0.2 0.6l0.2 3.2l0.2 0.7l0.2 -1.3l0.2 2.8l0.2 -6.3l0.2 2l0.2 -0.2l0.2 1.3l0.2 3.5l0.2 -5.2l0.2 3.6l0.2 1.8l0.2 -7.5l0.2 3.9l0.2 1.7l0.2 -2.4l0.2 1.4l0.2 1.2l0.2 -7.8l0.2 2.7l0.2 -1l0.2 4.4l0.2 -1.7l0.2 0l0.2 1.6l0.2 -4.1l0.2 3.7l0.2 -1.6l0.2 -0.1l0.2 -3.6l0.2 8.3l0.2 -5.5l0.2 4.4l0.2 -0.2l0.2 -4.8l0.2 -0.8l0.2 1.2l0.2 0.5l0.2 1.4l0.2 0.7l0.2 0.1l0.2 1l0.2 -1.8l0.2 -0.1l0.2 -1.8l0.2 -1.3l0.2 4.9l0.2 -2.6l0.2 -0.7l0.2 0.8l0.2 -0.7l0.2 0.4l0.2 0l0.2 -9.3l0.2 4.6l0.2 1l0.2 1.5l0.2 5.1l0.2 -1l0.2 -1.5l0.2 1.3l0.2 -2.1l0.2 2.5l0.2 -3.3l0.2 5l0.2 -1.8l0.2 -2.4l0.2 -2.3l0.2 2l0.2 0.4l0.2 3.6l0.2 -7.2l0.2 2.9l0.2 6l0.2 -9.9l0.2 6.5l0.2 4.4l0.2 -8.3l0.2 2l0.2 -3.2l0.2 3.8l0.2 -3l0.2 2.4l0.2 5.8l0.2 -2.8l0.2 -3l0.2 -2.2l0.2 3.7l0.2 -2.7l0.2 5.9l0.2 -9.3l0.2 8.4l0.2 0.3l0.2 -2.2l0.2 -1.3l0.2 9.4l0.2 -9.3l0.2 3.2l0.2 -2.5l0.2 -1.5l0.2 0.3l0.2 -1.7l0.2 4.3l0.2 2.8l0.2 -4.5l0.2 1.3l0.2 0.2l0.2 -3.1l0.2 5.7l0.2 -7.3l0.2 6.5l0.2 2.3l0.2 -2.7l0.2 -3.1l0.2 2.2l0.2 1.1l0.2 -1.5l0.2 -5.1l0.2 8.3l0.2 -5.3l0.2 0.2l0.2 1.2l0.2 -1.5l0.2 2.5l0.2 -4.2l0.2 5.1l0.2 -2.1l0.2 -2.7l0.2 1.4l0.2 3.3l0.2 -6.4l0.2 7.2l0.2 1.3l0.2 -5.1l0.2 -2.5l0.2 2.7l0.2 -0.2l0.2 -2.4l0.2 4.6l0.2 -5.8l0.2 3.2l0.2 -2.2l0.2 1l0.2 -1.7l0.2 3.2l0.2 -2.4l0.2 1.8l0.2 -3l0.2 2.2l0.2 -1l0.2 0.8l0.2 -0.1l0.2 1.4l0.2 -1.3l0.2 0.5l0.2 1.3l0.2 -2.6l0.2 0l0.2 5l0.2 -1.7l0.2 -6.4l0.2 1.7l0.2 5.8l0.2 -7l0.2 8l0.2 -2.8l0.2 -6l0.2 2.9l0.2 0.3l0.2 -2.7l0.2 6.4l0.2 0l0.2 0.8l0.2 -2.6l0.2 -1.4l0.2 -1.1l0.2 -0.4l0.2 3.7l0.2 1.3l0.2 0l0.2 -1.5l0.2 2.1l0.2 0.3l0.2 -2.2l0.2 2.1l0.2 -0.9l0.2 3l0.2 -0.2l0.2 -0.9l0.2 -2.6l0.2 2.1l0.2 1.8l0.2 -1.6l0.2 -1.5l0.2 -2.6l0.2 2.7l0.2 -0.5l0.2 2.1l0.2 -6.1l0.2 3.5l0.2 1.7l0.2 -4.6l0.2 3.1l0.2 -1.2l0.2 3.4l0.2 -4.2l0.2 4.7l0.2 -2.5l0.2 0.4l0.2 -3.1l0.2 0.2l0.2 2.4l0.2 -0.5l0.2 -4.2l0.2 7.2l0.2 1.2l0.2 -6.4l0.2 -1.2l0.2 5l0.2 -4l0.2 7.1l0.2 -6.4l0.2 3l0.2 -1.2l0.2 3.6l0.2 -0.7l0.2 -9.2l0.2 6.2l0.2 0.2l0.2 4.3l0.2 -4.9l0.2 4l0.2 -4.5l0.2 0.7l0.2 1.1l0.2 -1.3l0.2 1.6l0.2 1.9l0.2 -0.6l0.2 -1l0.2 -2.8l0.2 -2.2l0.2 1.4l0.2 -0.4l0.2 0.4l0.2 0l0.2 9.6l0.2 -12l0.2 3.6l0.2 -1.3l0.2 -2.1l0.2 -1.1l0.2 3.6l0.2 -3.2l0.2 5.5l0.2 -3.5l0.2 0l0.2 7.1l0.2 -6.3l0.2 3.5l0.2 -6.2l0.2 11.2l0.2 -1.3l0.2 -9.6l0.2 5.5l0.2 3.8l0.2 0.1l0.2 -5.6l0.2 -0.4l0.2 0.6l0.2 7.4l0.2 -3.6l0.2 -0.4l0.2 -4.8l0.2 -3.3l0.2 2.1l0.2 2.8l0.2 1.8l0.2 -0.8l0.2 -2l0.2 5.8l0.2 -3.6l0.2 -1.6l0.2 -1.1l0.2 1l0.2 0.8l0.2 5.1l0.2 -1.6l0.2 -3.1l0.2 -4.8l0.2 6.3l0.2 1.8l0.2 -2.8l0.2 0.7l0.2 -3.3l0.2 6.7l0.2 -4.7l0.2 -3.1l0.2 7.5l0.2 -4l0.2 4.3l0.2 -0.7l0.2 -0.5l0.2 -0.1l0.2 -2.1l0.2 5.6l0.2 -5.6l0.2 -0.3l0.2 1l0.2 0.5l0.2 -2l0.2 4.1l0.2 -5.7l0.2 4.1l0.2 -0.5l0.2 -3.6l0.2 5.1l0.2 -6l0.2 4.2l0.2 -5.9l0.2 -0.2l0.2 3.3l0.2 4.2l0.2 -4l0.2 3.7l0.2 0l0.2 -0.9l0.2 -1.7l0.2 -7.4l0.2 3l0.2 -1.9l0.2 4.8l0.2 -2.2l0.2 2.7l0.2 -0.7l0.2 0.8l0.2 -7.5l0.2 6.9l0.2 0.6l0.2 2.8l0.2 -1.3l0.2 -3.7l0.2 0.3l0.2 3.7l0.2 -1.4l0.2 -4.2l0.2 0.2l0.2 -0.2l0.2 -0.1l0.2 7.4l0.2 -3.9l0.2 5l0.2 -5.1l0.2 3.1l0.2 -2.9l0.2 1l0.2 0.2l0.2 -1.1l0.2 0.9l0.2 0.6l0.2 -5.1l0.2 2.9l0.2 0.5l0.2 -1.4l0.2 -1.5l0.2 -2.5l0.2 4.2l0.2 2l0.2 -0.8l0.2 -1.1l0.2 0.3l0.2 -1.4l0.2 1.3l0.2 -3.8l0.2 1.1l0.2 3.4l0.2 1l0.2 0.3l0.2 -0.7l0.2 -0.3l0.2 2.6l0.2 0.3l0.2 3.5l0.2 -5.4l0.2 -0.1l0.2 1l0.2 2.6l0.2 -0.4l0.2 -2.3l0.2 0.9l0.2 -1.5l0.2 2.6l0.2 -2l0.2 2.1l0.2 -4.5l0.2 3.4l0.2 1.3l0.2 -2.6l0.2 0.3l0.2 -0.2l0.2 2l0.2 -6.6l0.2 1.2l0.2 2.1l0.2 -0.8l0.2 1.1l0.2 0.8l0.2 4.6l0.2 -6.9l0.2 2.6l0.2 1.8l0.2 -0.4l0.2 -0.9l0.2 -1.1l0.2 -0.6l0.2 3.6l0.2 -2.3l0.2 0.6l0.2 -4.3l0.2 6.7l0.2 -4.4l0.2 -0.8l0.2 4l0.2 -1.1l0.2 -4.5l0.2 5.2l0.2 -3.1l0.2 -1.8l0.2 4.9l0.2 -6.3l0.2 0.8l0.2 1.8l0.2 0.2l0.2 -2.8l0.2 -0.2l0.2 -2.4l0.2 4.7l0.2 -3.4l0.2 1.2l0.2 4.1l0.2 1.4l0.2 -6l0.2 2.6l0.2 -0.3l0.2 0.7l0.2 -1.5l0.2 -0.6l0.2 -0.9l0.2 5.2l0.2 -1.5l0.2 -3.5l0.2 -0.2l0.2 1.8l0.2 2.1l0.2 -0.4l0.2 -4.7l0.2 2.3l0.2 3.3l0.2 6.1l0.2 -6.5l0.2 -0.3l0.2 2.4l0.2 -1.8l0.2 3.2l0.2 -3l0.2 0.9l0.2 -2.5l0.2 4.2l0.2 -3.2l0.2 -0.1l0.2 -2l0.2 -0.5l0.2 7.8l0.2 -4.9l0.2 -1.6l0.2 -1.5l0.2 2.8l0.2 4.3l0.2 -4.4l0.2 -1.1l0.2 -3.5l0.2 3l0.2 4.5l0.2 -2.3l0.2 0.5l0.2 0.7l0.2 -2l0.2 1.2l0.2 0.6l0.2 1.1l0.2 0.7l0.2 -5.3l0.2 2.4l0.2 3.9l0.2 -1.7l0.2 -1.8l0.2 0.3l0.2 3l0.2 -3.3l0.2 -1.2l0.2 2.9l0.2 -1.3l0.2 -2.4l0.2 8.6l0.2 -4.2l0.2 -7.8l0.2 1.7l0.2 6l0.2 0.5l0.2 -1.6l0.2 3.9l0.2 -2.7l0.2 -5.5l0.2 2.7l0.2 -2l0.2 0.8l0.2 -0.5l0.2 3.6l0.2 1.4l0.2 -8.9l0.2 6.6l0.2 0.8l0.2 -1.3l0.2 -4.2l0.2 1l0.2 3.7l0.2 -1.6l0.2 -2.1l0.2 1.4l0.2 0.4l0.2 2.7l0.2 -2.1l0.2 3.8l0.2 -0.2l0.2 -3.2l0.2 0l0.2 -5.6l0.2 1.9l0.2 4.2l0.2 1.9l0.2 -6.2l0.2 7.1l0.2 -2.9l0.2 -3.1l0.2 -0.6l0.2 2.5l0.2 -0.6l0.2 -3.5l0.2 1.1l0.2 7.9l0.2 -4.1l0.2 -4.9l0.2 0.6l0.2 2.5l0.2 -2.6l0.2 1.5l0.2 -1.8l0.2 2.8l0.2 2.1l0.2 4.9l0.2 -5.7l0.2 -2.9l0.2 3.7l0.2 -1.7l0.2 3.6l0.2 -1.4l0.2 -1.3l0.2 1.1l0.2 2.5l0.2 -3.9l0.2 -1.7l0.2 -0.4l0.2 5.2l0.2 -0.6l0.2 -1.5l0.2 3.4l0.2 -1.8l0.2 2.1l0.2 -7.6l0.2 5.1l0.2 -2.1l0.2 2.2l0.2 -2.3l0.2 -3.3l0.2 3.9l0.2 3.7l0.2 -8l0.2 7.6l0.2 -2.9l0.2 0.2l0.2 -1.1l0.2 6l0.2 -7.9l0.2 7.2l0.2 -0.4l0.2 -3.7l0.2 -3.3l0.2 0.3l0.2 5.5l0.2 -3.7l0.2 -0.8l0.2 3.1l0.2 4l0.2 -6.7l0.2 0.1l0.2 3.7l0.2 0l0.2 -2.1l0.2 -0.2l0.2 -0.2l0.2 1l0.2 -4.6l0.2 6.7l0.2 -1.6l0.2 0.4l0.2 -3.6l0.2 1.8l0.2 -4.1l0.2 -1.8l0.2 4.9l0.2 0.5l0.2 -1.7l0.2 -3.1l0.2 7.8l0.2 -8.8l0.2 9.9l0.2 -5l0.2 -0.9l0.2 5.8l0.2 -6.1l0.2 -1.1l0.2 7.9l0.2 -6.7l0.2 2.1l0.2 -2.6l0.2 6.2l0.2 -5.1l0.2 5.5l0.2 -1.8l0.2 -4.1l0.2 2.7l0.2 -5.3l0.2 1.7l0.2 3.8l0.2 -3.4l0.2 2.3l0.2 0l0.2 2.1l0.2 -3.8l0.2 -1.4l0.2 5.8l0.2 -3.2l0.2 -0.6l0.2 3.4l0.2 -1.6l0.2 -1.7l0.2 -0.5l0.2 0.8l0.2 2.7l0.2 -4.3l0.2 1.3l0.2 2l0.2 -2.7l0.2 -0.5l0.2 -2.3l0.2 7.7l0.2 2l0.2 -2.2l0.2 -2.4l0.2 -0.5l0.2 1.7l0.2 -0.3l0.2 0.1l0.2 -3.7l0.2 5l0.2 1.1l0.2 -2.3l0.2 -0.5l0.2 -4.4l0.2 4.8l0.2 -2.5l0.2 -2.9l0.2 8.3l0.2 -5.9l0.2 3.5l0.2 -3.6l0.2 4.2l0.2 -4l0.2 0.8l0.2 -2.5l0.2 -1.3l0.2 6.1l0.2 -3.1l0.2 -0.6l0.2 -0.9l0.2 1.4l0.2 1.1l0.2 -1.8l0.2 -1.2l0.2 2.8l0.2 0.9l0.2 -1.9l0.2 0.7l0.2 -1l0.2 1.6l0.2 3.1l0.2 -1.8l0.2 -5.5l0.2 3.1l0.2 1.1l0.2 -0.1l0.2 4.5l0.2 -5.4l0.2 -1l0.2 3.5l0.2 -4.4l0.2 3.8l0.2 0.2l0.2 1.8l0.2 -3.5l0.2 2.2l0.2 -3.4l0.2 -0.2l0.2 2.6l0.2 3.7l0.2 -4.4l0.2 1.1l0.2 -3.5l0.2 -0.6l0.2 1.1l0.2 -0.2l0.2 0.8l0.2 -4.4l0.2 1.7l0.2 6.7l0.2 -3.4l0.2 5.6l0.2 -5.6l0.2 0.7l0.2 1.1l0.2 -1.8l0.2 1.7l0.2 0.5l0.2 0.9l0.2 -5.1l0.2 2.2l0.2 4.7l0.2 -4.5l0.2 3.2l0.2 -1.5l0.2 -3.1l0.2 3.3l0.2 -0.8l0.2 0.2l0.2 0.1l0.2 -2.1l0.2 5l0.2 -4.2l0.2 3.8l0.2 -6.6l0.2 7.9l0.2 -7.7l0.2 3.4l0.2 5l0.2 -5.8l0.2 0.8l0.2 -1.2l0.2 3.3l0.2 0l0.2 -2.5l0.2 -1.2l0.2 -0.5l0.2 0.3l0.2 1.4l0.2 0.4l0.2 -1.5l0.2 -0.9l0.2 4.6l0.2 -3.6l0.2 0.8l0.2 -3l0.2 1.6l0.2 1.3l0.2 -2.6l0.2 1.8l0.2 0l0.2 0.7l0.2 -1.4l0.2 3.6l0.2 -6l0.2 -3.4l0.2 12l0.2 -5.1l0.2 -2l0.2 2.6l0.2 -2.5l0.2 2.1l0.2 -1.3l0.2 5.2l0.2 -6l0.2 2.2l0.2 0.6l0.2 -0.9l0.2 -1.5l0.2 2.4l0.2 -2.3l0.2 2.4l0.2 -2l0.2 -9.2l0.2 7.1l0.2 2.9l0.2 2.9l0.2 -4.1l0.2 1.3l0.2 0.4l0.2 -0.6l0.2 -0.3l0.2 2.3l0.2 -1.6l0.2 2.3l0.2 0.5l0.2 -2.2l0.2 1l0.2 -0.3l0.2 1l0.2 1l0.2 -1.7l0.2 -1.5l0.2 5l0.2 -2l0.2 -4.2l0.2 4.4l0.2 -2.3l0.2 4.8l0.2 -4.3l0.2 -1.3l0.2 1.1l0.2 2l0.2 0.4l0.2 1.1l0.2 0.7l0.2 -2.9l0.2 -1.8l0.2 3.6l0.2 -2.2l0.2 -4l0.2 6.2l0.2 -2.3l0.2 -5l0.2 3.3l0.2 -4.9l0.2 2.5l0.2 12.1l0.2 -7.9l0.2 1.4l0.2 -1.5l0.2 -3.6l0.2 2.5l0.2 -2.6l0.2 5.4l0.2 -2.6l0.2 -2.1l0.2 2.3l0.2 0l0.2 2.7l0.2 -1.5l0.2 -1.4l0.2 1l0.2 -1.9l0.2 -2.9l0.2 7.9l0.2 -9.3l0.2 2.7l0.2 3.8l0.2 0.3l0.2 0.2l0.2 0.4l0.2 -2l0.2 -1.3l0.2 1.9l0.2 0.7l0.2 -4.3l0.2 -3l0.2 1.6l0.2 3l0.2 -11.6l0.2 11.6l0.2 0.7l0.2 -3.8l0.2 2.5l0.2 -0.1l0.2 -0.8l0.2 -3l0.2 5l0.2 3.9l0.2 -4.2l0.2 1l0.2 -1.6l0.2 1.8l0.2 0.4l0.2 2.9l0.2 -4.5l0.2 -1.7l0.2 3l0.2 0.6l0.2 1.9l0.2 -4.3l0.2 4.7l0.2 -1.9l0.2 -2.7l0.2 2.9l0.2 2.9l0.2 -2.4l0.2 -2.8l0.2 1.6l0.2 -2.2l0.2 4.4l0.2 -4.2l0.2 -2.3l0.2 6.3l0.2 -2l0.2 2.1l0.2 -4.7l0.2 1.4l0.2 2.7l0.2 0.1l0.2 -3.2l0.2 -0.5l0.2 0.7l0.2 -0.1l0.2 1.2l0.2 -1.7l0.2 1.2l0.2 -0.5l0.2 2.5l0.2 -2.7l0.2 0.9l0.2 -5.3l0.2 5.6l0.2 0.9l0.2 -0.1l0.2 -2.2l0.2 5.2l0.2 -6l0.2 4.2l0.2 -1.9l0.2 -0.4l0.2 -1.3l0.2 7.1l0.2 -7l0.2 2.5l0.2 -3.5l0.2 -1l0.2 1.6l0.2 -0.3l0.2 2.7l0.2 -2.1l0.2 -2.7l0.2 3.4l0.2 -1.7l0.2 1l0.2 -0.9l0.2 -2.7l0.2 9.5l0.2 -10l0.2 0l0.2 6.2l0.2 -2.4l0.2 -0.5l0.2 2.2l0.2 -2.7l0.2 0.3l0.2 -0.4l0.2 -3.7l0.2 7.5l0.2 -3.2l0.2 -1.4l0.2 4.7l0.2 -1.3l0.2 -0.4l0.2 2.1l0.2 -0.9l0.2 -2.6l0.2 -2.2l0.2 4.5l0.2 -2.4l0.2 2.2l0.2 -6l0.2 5.9l0.2 -2.6l0.2 0l0.2 3.6l0.2 -3.3l0.2 -3.4l0.2 3.6l0.2 2l0.2 -2.5l0.2 2l0.2 -3.3l0.2 2.3l0.2 0.7l0.2 -3.8l0.2 5.8l0.2 -3l0.2 2.2l0.2 -2.5l0.2 4.2l0.2 -5.1l0.2 -1l0.2 -1.1l0.2 3.9l0.2 -0.6l0.2 -0.2l0.2 -0.2l0.2 2.8l0.2 1.3l0.2 -2.1l0.2 -1.6l0.2 5.9l0.2 -1.2l0.2 -2.6l0.2 0.8l0.2 0.6l0.2 -2.7l0.2 -0.4l0.2 2.5l0.2 -0.7l0.2 -0.5l0.2 2.1l0.2 -3.3l0.2 3.7l0.2 -0.7l0.2 -3.6l0.2 4.7l0.2 -2.5l0.2 1.7l0.2 -0.6l0.2 2.9l0.2 -3.1l0.2 0.2l0.2 -6.4l0.2 2.4l0.2 4.3l0.2 -1.3l0.2 -2.2l0.2 0.6l0.2 1.3l0.2 -1.5l0.2 0.3l0.2 -1.6l0.2 2.9l0.2 -2.1l0.2 1.6l0.2 1.8l0.2 -1.9l0.2 0.8l0.2 -1.7l0.2 4.2l0.2 0.6l0.2 -6.7l0.2 0.5l0.2 1.4l0.2 -1.3l0.2 1l0.2 -0.8l0.2 2.3l0.2 -3l0.2 -0.1l0.2 -0.3l0.2 4l0.2 0.7l0.2 -4.7l0.2 2l0.2 -0.4l0.2 -0.8l0.2 0l0.2 -0.2l0.2 1.6l0.2 -0.6l0.2 7.3l0.2 -4.6l0.2 -4.3l0.2 -0.7l0.2 0l0.2 3l0.2 -2.8l0.2 1.8l0.2 2.5l0.2 0.9l0.2 0.1l0.2 -1.5l0.2 -3.3l0.2 2l0.2 -1.9l0.2 -1l0.2 7.2l0.2 2.3l0.2 -5.1l0.2 0.3l0.2 1.9l0.2 -3.9l0.2 4.6l0.2 0.3l0.2 -3.4l0.2 -1.5l0.2 5.5l0.2 -0.8l0.2 -4.6l0.2 -0.2l0.2 -1.7l0.2 5.8l0.2 -0.2l0.2 0.5l0.2 -3.6l0.2 1.2l0.2 -1.6l0.2 -0.2l0.2 1.1l0.2 -0.3l0.2 -1l0.2 2.2l0.2 1.5l0.2 -3.5l0.2 3.4l0.2 0.5l0.2 -3.2l0.2 0.9l0.2 0.7l0.2 -0.2l0.2 -4.1l0.2 5.4l0.2 -3.6l0.2 0.3l0.2 3.8l0.2 -2.4l0.2 0.7l0.2 -3.6l0.2 2l0.2 5.7l0.2 -1.7l0.2 4.1l0.2 -7.6l0.2 5.1l0.2 1.7l0.2 -9.6l0.2 2l0.2 0.4l0.2 2.4l0.2 -3.1l0.2 1.3l0.2 -4.5l0.2 8.8l0.2 -8.6l0.2 3.8l0.2 1.3l0.2 -7.4l0.2 2.2l0.2 -0.4l0.2 2.7l0.2 0l0.2 -2.4l0.2 3.8l0.2 -0.5l0.2 1l0.2 -0.9l0.2 -0.1l0.2 3.1l0.2 -7.1l0.2 5.9l0.2 -3.5l0.2 2.1l0.2 1.3l0.2 -0.2l0.2 -1l0.2 -0.8l0.2 -0.4l0.2 0.2l0.2 0.6l0.2 1.5l0.2 1l0.2 -3.7l0.2 2.2l0.2 -0.8l0.2 -3.6l0.2 3.8l0.2 0.8l0.2 -1.5l0.2 0.1l0.2 -0.7l0.2 -0.1l0.2 -1.3l0.2 2.2l0.2 -1.1l0.2 -2.2l0.2 2.1l0.2 0.8l0.2 -2.6l0.2 3.2l0.2 -0.9l0.2 4.9l0.2 -8.6l0.2 2.5l0.2 4l0.2 -2.6l0.2 -1.3l0.2 2.1l0.2 -3.6l0.2 2.8l0.2 2.9l0.2 -3.4l0.2 6.3l0.2 -2.3l0.2 0.2l0.2 -4.5l0.2 4l0.2 -0.6l0.2 -2.7l0.2 0.4l0.2 -0.6l0.2 2.4l0.2 3.4l0.2 -2.5l0.2 -1.5l0.2 -0.4l0.2 3.4l0.2 -1.6l0.2 -0.7l0.2 0.7l0.2 -1.1l0.2 0.1l0.2 1.6l0.2 -3.2l0.2 3.4l0.2 -1l0.2 -1.6l0.2 3.9l0.2 -1.8l0.2 -1.8l0.2 0.8l0.2 -1.9l0.2 1.1l0.2 -3l0.2 6.1l0.2 -1.8l0.2 -1.1l0.2 2.2l0.2 2.4l0.2 -3.5l0.2 1.8l0.2 -0.3l0.2 -2.7l0.2 3.1l0.2 -1.4l0.2 3.8l0.2 -4.7l0.2 0.5l0.2 -0.1l0.2 -1.4l0.2 1.7l0.2 -0.3l0.2 3.6l0.2 -6.5l0.2 -1.1l0.2 6.9l0.2 -2.8l0.2 -0.5l0.2 -0.5l0.2 -3.7l0.2 6.6l0.2 -2.4l0.2 -3.5l0.2 -1.2l0.2 0.9l0.2 -1.5l0.2 2l0.2 4.8l0.2 0.9l0.2 -3.9l0.2 -1.4l0.2 -2.2l0.2 0.4l0.2 5.6l0.2 -0.1l0.2 -3.9l0.2 3.2l0.2 -4.9l0.2 4.5l0.2 -3.4l0.2 0l0.2 3.2l0.2 -2.9l0.2 2.1l0.2 -0.9l0.2 -0.2l0.2 -0.1l0.2 -4.6l0.2 6l0.2 -5.2l0.2 6.2l0.2 -2.3l0.2 4.2l0.2 -5.2l0.2 2.5l0.2 -0.9l0.2 0.3l0.2 0.3l0.2 -1.9l0.2 -4.8l0.2 6.4l0.2 -0.3l0.2 0.3l0.2 -3l0.2 6.3l0.2 -2.3l0.2 -4.7l0.2 6.1l0.2 -5l0.2 5.4l0.2 0.2l0.2 -5.1l0.2 6.7l0.2 -3.7l0.2 -6.4l0.2 4.5l0.2 2.9l0.2 -1.2l0.2 0.7l0.2 -1.7l0.2 2.6l0.2 -0.4l0.2 1.1l0.2 -2.4l0.2 -0.9l0.2 6.7l0.2 -9.8l0.2 2.3l0.2 -0.6l0.2 2.4l0.2 -0.3l0.2 0.7l0.2 0.5l0.2 0.4l0.2 -4.6l0.2 4l0.2 -2.5l0.2 6.9l0.2 -7.6l0.2 7.6l0.2 -4l0.2 -3.8l0.2 0.2l0.2 2.3l0.2 2.9l0.2 -1.7l0.2 3.3l0.2 -5.7l0.2 -1l0.2 4.3l0.2 -1.5l0.2 0.8l0.2 0.8l0.2 -3.3l0.2 2.3l0.2 -1.6l0.2 -2.2l0.2 4.7l0.2 -3.9l0.2 -1.2l0.2 2.6l0.2 0.9l0.2 -1.7l0.2 0.6l0.2 -0.3l0.2 -0.3l0.2 0.8l0.2 -1l0.2 -2l0.2 -0.4l0.2 2.9l0.2 0l0.2 -3.7l0.2 1.6l0.2 3l0.2 -0.5l0.2 1l0.2 -1.7l0.2 1.7l0.2 -0.8l0.2 1.8l0.2 -1.4l0.2 -1.5l0.2 -0.1l0.2 1.3l0.2 0.8l0.2 -0.6l0.2 -7.1l0.2 1.5l0.2 3.9l0.2 1.4l0.2 -2l0.2 -0.8l0.2 2.8l0.2 0.3l0.2 -5.6l0.2 1.2l0.2 3.7l0.2 -0.1l0.2 -1.1l0.2 1l0.2 -4.2l0.2 3.7l0.2 0.1l0.2 1.4l0.2 -1.9l0.2 2.2l0.2 -2.1l0.2 1.7l0.2 -2l0.2 3.2l0.2 -4.1l0.2 2.8l0.2 3.1l0.2 -3.1l0.2 -3l0.2 4.5l0.2 1.3l0.2 -3.7l0.2 3.4l0.2 -2.2l0.2 -0.3l0.2 1.9l0.2 -1.5l0.2 -1.5l0.2 2.9l0.2 -1.3l0.2 -2.2l0.2 0.3l0.2 1.2l0.2 -2.8l0.2 0.4l0.2 5l0.2 -1.4l0.2 -0.7l0.2 -2.7l0.2 7.1l0.2 -8.8l0.2 6.8l0.2 -2.7l0.2 -1.5l0.2 -0.2l0.2 5.3l0.2 -4.9l0.2 2.5l0.2 -5.7l0.2 4.9l0.2 -2.5l0.2 4l0.2 2.5l0.2 -5.1l0.2 2.1l0.2 1.9l0.2 -2.4l0.2 0.3l0.2 0.2l0.2 -1.3l0.2 -4.2l0.2 2.8l0.2 5.2l0.2 -2.5l0.2 -3.2l0.2 -1.5l0.2 1l0.2 2l0.2 -0.2l0.2 -4.8l0.2 5.1l0.2 -2l0.2 -0.5l0.2 -2.2l0.2 8.9l0.2 -6.5l0.2 0.4l0.2 -1.6l0.2 5.9l0.2 -3.8l0.2 -1.7l0.2 5.8l0.2 -4.6l0.2 1.2l0.2 2.2l0.2 -1.5l0.2 -1.5l0.2 3.7l0.2 0.6l0.2 -5.9l0.2 2.4l0.2 0.1l0.2 0.7l0.2 0.2l0.2 1.8l0.2 0.3l0.2 -4.3l0.2 0.5l0.2 2.1l0.2 -1l0.2 0.1l0.2 3.8l0.2 -2.5l0.2 -2.7l0.2 -2.9l0.2 8.1l0.2 -3.6l0.2 -1.1l0.2 -1.2l0.2 1.1l0.2 -1.4l0.2 2.2l0.2 -0.5l0.2 0.3l0.2 1.3l0.2 0.4l0.2 1.5l0.2 -2.9l0.2 4.6l0.2 -7.2l0.2 4.5l0.2 -0.4l0.2 -1.9l0.2 3.3l0.2 -0.1l0.2 -1.1l0.2 2.2l0.2 -3.4l0.2 4.2l0.2 -1.6l0.2 -3.4l0.2 6.3l0.2 -1l0.2 -2.8l0.2 0.4l0.2 -0.4l0.2 0.5l0.2 2.5l0.2 -1l0.2 -4.1l0.2 3.6l0.2 1.5l0.2 -2.5l0.2 -0.9l0.2 2.8l0.2 -4.9l0.2 6.5l0.2 -6.7l0.2 2.3l0.2 -2l0.2 -0.3l0.2 2.2l0.2 -1.2l0.2 1.3l0.2 -2l0.2 4.3l0.2 -0.6l0.2 -4.6l0.2 -1.1l0.2 5.3l0.2 -2.1l0.2 1.8l0.2 -2.1l0.2 2.4l0.2 -2.3l0.2 -5.3l0.2 6.2l0.2 -0.3l0.2 -0.2l0.2 1.9l0.2 -0.8l0.2 -4.1l0.2 4.7l0.2 -0.6l0.2 -1.4l0.2 -2.6l0.2 -1.5l0.2 5.1l0.2 -1.4l0.2 -1.4l0.2 -1.1l0.2 1.7l0.2 -2.2l0.2 3.2l0.2 -1.3l0.2 0.9l0.2 0.6l0.2 -3.8l0.2 -0.2l0.2 0.9l0.2 0.5l0.2 2.1l0.2 2.2l0.2 -2.7l0.2 -1.4l0.2 -0.2l0.2 -1.3l0.2 2.5l0.2 -3.6l0.2 6.1l0.2 -3.7l0.2 3.3l0.2 -4.9l0.2 -0.4l0.2 3.6l0.2 1.7l0.2 -1.2l0.2 -3l0.2 1.5l0.2 3l0.2 4l0.2 -7.3l0.2 3.1l0.2 -2.1l0.2 3.4l0.2 -0.8l0.2 -4.1l0.2 3.6l0.2 0.1l0.2 0l0.2 -0.2l0.2 0.2l0.2 -0.8l0.2 1.5l0.2 -0.5l0.2 -4l0.2 3.3l0.2 1l0.2 -2.4l0.2 2.7l0.2 -2.8l0.2 1.7l0.2 0.7l0.2 1.6l0.2 -0.5l0.2 -3l0.2 -1l0.2 1.2l0.2 0.8l0.2 4.9l0.2 -8.1l0.2 8.1l0.2 -6.2l0.2 1.3l0.2 -2l0.2 1.2l0.2 1.9l0.2 -4.2l0.2 1.8l0.2 3.2l0.2 3l0.2 -6.1l0.2 -3.2l0.2 4.8l0.2 -0.3l0.2 -0.5l0.2 -2.6l0.2 2.7l0.2 0.6l0.2 -0.4l0.2 -4.1l0.2 4l0.2 -1l0.2 -2.4l0.2 0.9l0.2 2.3l0.2 -0.4l0.2 -1.2l0.2 1l0.2 -2.7l0.2 2.9l0.2 -0.3l0.2 -2.2l0.2 -1.6l0.2 6.1l0.2 -5.9l0.2 3.3l0.2 0.6l0.2 -2.2l0.2 0.9l0.2 -4l0.2 0.8l0.2 1.1l0.2 4.2l0.2 -1.9l0.2 -1.4l0.2 5l0.2 -1.7l0.2 2.1l0.2 -3.1l0.2 -0.5l0.2 2.7l0.2 -3.7l0.2 3.4l0.2 -1.2l0.2 5.6l0.2 -5.6l0.2 1.8l0.2 1.2l0.2 -4.5l0.2 0.3l0.2 -1.2l0.2 -0.1l0.2 1.2l0.2 1.6l0.2 2.5l0.2 -6.7l0.2 -0.4l0.2 1.1l0.2 0.6l0.2 5l0.2 -5l0.2 3.4l0.2 -5.4l0.2 6.7l0.2 -2.1l0.2 1.6l0.2 -0.1l0.2 0.3l0.2 -3.5l0.2 0.5l0.2 0l0.2 -0.8l0.2 3.8l0.2 -1.7l0.2 2.7l0.2 -0.8l0.2 -3l0.2 1.1l0.2 -1.1l0.2 0.3l0.2 4.7l0.2 -4l0.2 1.1l0.2 -1.1l0.2 -0.3l0.2 0.3l0.2 0.5l0.2 0.6l0.2 -1.8l0.2 -1.3l0.2 2.4l0.2 -4.5l0.2 1.3l0.2 3.4l0.2 0.3l0.2 -0.3l0.2 -4.1l0.2 4.5l0.2 -4.6l0.2 -0.6l0.2 1.3l0.2 -0.1l0.2 0.6l0.2 0.5l0.2 1.4l0.2 -1.3l0.2 -4.4l0.2 4.9l0.2 2.7l0.2 -1.8l0.2 -1.6l0.2 2.5l0.2 -0.1l0.2 -0.3l0.2 -3.8l0.2 4l0.2 -1.8l0.2 1.5l0.2 -1.2l0.2 -1.1l0.2 1.6l0.2 -0.9l0.2 -0.2l0.2 1l0.2 -0.9l0.2 2l0.2 -0.8l0.2 4l0.2 -2.8l0.2 -4l0.2 3.8l0.2 -1.7l0.2 1.1l0.2 -3.1l0.2 1.2l0.2 3.6l0.2 -3.2l0.2 3l0.2 -3.3l0.2 0.1l0.2 1l0.2 -1l0.2 5.9l0.2 -6.9l0.2 2.2l0.2 0.8l0.2 -2.2l0.2 0.9l0.2 0.7l0.2 4l0.2 -8.4l0.2 5.2l0.2 -1.8l0.2 2l0.2 -2.8l0.2 1.3l0.2 1l0.2 3.8l0.2 -1.4l0.2 -1.3l0.2 -2.2l0.2 5.6l0.2 0.2l0.2 -1.9l0.2 -1.2l0.2 -3.7l0.2 3.7l0.2 -1.8l0.2 -1.4l0.2 4l0.2 -2.9l0.2 -2.7l0.2 5.3l0.2 -5.1l0.2 -3.5l0.2 5.3l0.2 1l0.2 -1.9l0.2 -1.2l0.2 1.9l0.2 -3.1l0.2 0.5l0.2 1.2l0.2 -1.3l0.2 3.4l0.2 -2.2l0.2 4.5l0.2 -1l0.2 -0.5l0.2 0.4l0.2 -1.7l0.2 3l0.2 -2.4l0.2 -2.6l0.2 3.3l0.2 -1.1l0.2 3.5l0.2 -2.4l0.2 -0.6l0.2 -0.9l0.2 4.4l0.2 -6.6l0.2 4.4l0.2 -3.9l0.2 -0.6l0.2 0.7l0.2 -0.3l0.2 1l0.2 0.6l0.2 0.8l0.2 -5.3l0.2 2.9l0.2 3l0.2 -0.8l0.2 -2.7l0.2 3.1l0.2 0.7l0.2 3.6l0.2 -6.7l0.2 6l0.2 1.3l0.2 -5.1l0.2 0.4l0.2 -4.5l0.2 5.5l0.2 -0.2l0.2 -1.9l0.2 3.6l0.2 -4.6l0.2 4.9l0.2 -2.7l0.2 5.1l0.2 -5.1l0.2 0.3l0.2 3.7l0.2 -4.6l0.2 3.7l0.2 -6.3l0.2 2.9l0.2 1.6l0.2 -0.4l0.2 -1.8l0.2 0.8l0.2 2.6l0.2 -4.3l0.2 3.2l0.2 1.1l0.2 -0.7l0.2 -3.4l0.2 4.5l0.2 -6l0.2 6.5l0.2 -2l0.2 -2.9l0.2 0.1l0.2 1.3l0.2 -0.9l0.2 -0.7l0.2 0.2l0.2 4.7l0.2 -3.8l0.2 1.6l0.2 -4.1l0.2 2.6l0.2 1.6l0.2 -1.7l0.2 -3.3l0.2 4.1l0.2 5.5l0.2 -7.8l0.2 4.5l0.2 -4.4l0.2 -1.1l0.2 4.8l0.2 -3.6l0.2 1.2l0.2 -0.2l0.2 -1.9l0.2 3.4l0.2 -3.9l0.2 0.3l0.2 2.7l0.2 1.4l0.2 1.5l0.2 -2.1l0.2 -3.3l0.2 4.9l0.2 -4.1l0.2 0l0.2 2.2l0.2 -3l0.2 2.5l0.2 0.5l0.2 -0.3l0.2 -3.6l0.2 2.7l0.2 -0.9l0.2 2.1l0.2 -1.1l0.2 1.8l0.2 0.4l0.2 -2.7l0.2 3.7l0.2 -0.9l0.2 -0.6l0.2 0.8l0.2 -3.2l0.2 4.1l0.2 1.5l0.2 -4.9l0.2 1.2l0.2 0.9l0.2 -3.1l0.2 0.6l0.2 1.2l0.2 -1.8l0.2 3.6l0.2 -1l0.2 -3.1l0.2 2.8l0.2 0.6l0.2 1.3l0.2 -3.2l0.2 -2l0.2 4l0.2 -2.6l0.2 -0.7l0.2 6.3l0.2 -3.5l0.2 0.7l0.2 -3l0.2 2.7l0.2 -2.9l0.2 2.2l0.2 1.1l0.2 -0.7l0.2 -1.9l0.2 3.6l0.2 -1.5l0.2 -1.3l0.2 6.1l0.2 -5.1l0.2 -0.9l0.2 -0.6l0.2 -2.3l0.2 2.9l0.2 -1.4l0.2 2l0.2 0.9l0.2 -2.4l0.2 1l0.2 -0.4l0.2 -1.6l0.2 3l0.2 -2.6l0.2 1.6l0.2 -3.7l0.2 1.2l0.2 0.1l0.2 1.3l0.2 -1.7l0.2 3.1l0.2 -1.7l0.2 -0.1l0.2 0l0.2 -2.2l0.2 1.3l0.2 0.7l0.2 -0.3l0.2 0.7l0.2 -2.1l0.2 4.7l0.2 3.1l0.2 -8.8l0.2 0.2l0.2 1.8l0.2 -0.3l0.2 0.4l0.2 1.6l0.2 2.5l0.2 -4l0.2 1.2l0.2 1.2l0.2 1.3l0.2 2.5l0.2 -4.7l0.2 -1.7l0.2 -0.2l0.2 -1.7l0.2 1.1l0.2 -0.6l0.2 -1.4l0.2 3.4l0.2 -0.9l0.2 -1.2l0.2 6.6l0.2 -2.1l0.2 -1.2l0.2 -0.3l0.2 1.4l0.2 -0.4l0.2 0.8l0.2 0.7l0.2 -1.3l0.2 0l0.2 -2.3l0.2 0.1l0.2 1.4l0.2 0l0.2 2.1l0.2 1l0.2 1.1l0.2 -3.5l0.2 3.1l0.2 -2.6l0.2 0.6l0.2 -1l0.2 -0.2l0.2 3.5l0.2 -1.2l0.2 2.3l0.2 -3.7l0.2 0.5l0.2 -3.5l0.2 3.8l0.2 1.3l0.2 -2l0.2 -4.5l0.2 6l0.2 -1.8l0.2 -2.5l0.2 0.5l0.2 3.7l0.2 0.6l0.2 -3.3l0.2 -0.4l0.2 2.3l0.2 0.6l0.2 1.8l0.2 -4.9l0.2 -1.4l0.2 3.4l0.2 -1.1l0.2 -2l0.2 2.1l0.2 1.1l0.2 -3.5l0.2 1.4l0.2 -2.9l0.2 4.6l0.2 -0.2l0.2 -3.5l0.2 6l0.2 -1.8l0.2 -1.3l0.2 -1.8l0.2 1.1l0.2 -4.4l0.2 1.2l0.2 1.7l0.2 0.7l0.2 1.2l0.2 1l0.2 -1.2l0.2 -3.4l0.2 2.1l0.2 -2.3l0.2 2.6l0.2 1l0.2 -3.2l0.2 3l0.2 0.6l0.2 -2.3l0.2 -1.7l0.2 2.6l0.2 1.2l0.2 1.8l0.2 -0.5l0.2 0.8l0.2 -1.6l0.2 -5l0.2 5.2l0.2 2.6l0.2 -4.4l0.2 -0.3l0.2 0.9l0.2 -1.5l0.2 2.1l0.2 -4.3l0.2 6.9l0.2 -4.9l0.2 5.3l0.2 -3.1l0.2 -0.1l0.2 2.1l0.2 0.1l0.2 -1.2l0.2 -1.2l0.2 3.6l0.2 -4.2l0.2 2.7l0.2 -5.1l0.2 3.7l0.2 -3.9l0.2 4.6l0.2 -3l0.2 3.2l0.2 -1.6l0.2 2.1l0.2 2.9l0.2 1.1l0.2 -0.6l0.2 -4.5l0.2 1.7l0.2 -2.9l0.2 1.2l0.2 -0.9l0.2 1.8l0.2 -0.6l0.2 -3.6l0.2 6.7l0.2 -1.3l0.2 -2.8l0.2 1.9l0.2 2.8l0.2 1.7l0.2 -6.5l0.2 0.2l0.2 -0.2l0.2 2.8l0.2 0.3l0.2 -5.9l0.2 0.9l0.2 1.9l0.2 -0.8l0.2 -0.6l0.2 0.6l0.2 1.3l0.2 0.7l0.2 -1.5l0.2 0.9l0.2 0.7l0.2 -2.6l0.2 2.9l0.2 -3.4l0.2 0.1l0.2 3.5l0.2 -3.7l0.2 1.5l0.2 0.8l0.2 0.3l0.2 -0.4l0.2 1.5l0.2 -2l0.2 3.2l0.2 -5.9l0.2 -0.6l0.2 3.6l0.2 -0.1l0.2 -2.9l0.2 2.8l0.2 -3.4l0.2 7l0.2 -5.4l0.2 -1.4l0.2 5.2l0.2 -3.2l0.2 2.3l0.2 -0.3l0.2 1.4l0.2 -1l0.2 -6.9l0.2 1.4l0.2 3.6l0.2 2.8l0.2 -5.9l0.2 1.2l0.2 2l0.2 -0.9l0.2 -0.5l0.2 -0.6l0.2 2.6l0.2 -2.3l0.2 4.5l0.2 -1.7l0.2 -0.6l0.2 1.4l0.2 -2.8l0.2 0.8l0.2 3.3l0.2 -3.5l0.2 2.9l0.2 0.3l0.2 -3.1l0.2 7l0.2 -1.9l0.2 -4.4l0.2 4.1l0.2 -2.3l0.2 -1.6l0.2 6.2l0.2 -9.1l0.2 2.7l0.2 3.4l0.2 -4.5l0.2 0.5l0.2 2.1l0.2 2.7l0.2 -1l0.2 -3.1l0.2 -1.9l0.2 4.1l0.2 -1.5l0.2 0.5l0.2 -2.4l0.2 2.2l0.2 -4.4l0.2 3.5l0.2 4.9l0.2 -0.9l0.2 -0.7l0.2 -2.6l0.2 -1.8l0.2 2.7l0.2 -0.6l0.2 2.3l0.2 -4.2l0.2 -0.4l0.2 0.9l0.2 3.4l0.2 2.3l0.2 -4l0.2 2.4l0.2 -2.9l0.2 0.9l0.2 -3.6l0.2 5.2l0.2 -1.8l0.2 0.4l0.2 1.7l0.2 -4.3l0.2 2.9l0.2 -1.7l0.2 1.9l0.2 -2.5l0.2 1l0.2 -3.2l0.2 4.4l0.2 -0.5l0.2 -1.8l0.2 1.2l0.2 -1.8l0.2 -0.9l0.2 4.2l0.2 -4.7l0.2 0.4l0.2 2.8l0.2 -3.4l0.2 1.1l0.2 -1.8l0.2 0.7l0.2 0.5l0.2 -0.4l0.2 1.3l0.2 2.4l0.2 -3.5l0.2 1.4l0.2 -1.4l0.2 2.1l0.2 -0.6l0.2 -0.2l0.2 1.9l0.2 -0.6l0.2 -0.2l0.2 0.4l0.2 -2.2l0.2 2.7l0.2 -5.2l0.2 6.5l0.2 -6l0.2 5.3l0.2 -2.6l0.2 -1.1l0.2 2.7l0.2 -1.9l0.2 0.7l0.2 -1.2l0.2 -0.4l0.2 -0.6l0.2 2.4l0.2 2.6l0.2 1.8l0.2 -5.4l0.2 -0.1l0.2 -0.2l0.2 1.3l0.2 0.4l0.2 -1.9l0.2 2.9l0.2 -2.4l0.2 4.4l0.2 -6.6l0.2 5.3l0.2 -1.4l0.2 -1.8l0.2 3.5l0.2 1.7l0.2 -0.6l0.2 -0.2l0.2 -0.9l0.2 2.1l0.2 -4.1l0.2 2.5l0.2 -4.3l0.2 6l0.2 -2.3l0.2 -0.5l0.2 -3.1l0.2 1.7l0.2 2.6l0.2 -1l0.2 -0.7l0.2 0.3l0.2 0.2l0.2 1.9l0.2 -5.7l0.2 1l0.2 1.4l0.2 -1.8l0.2 2.5l0.2 1.1l0.2 -0.7l0.2 0.6l0.2 -0.8l0.2 -1l0.2 0.2l0.2 2l0.2 -1.8l0.2 0.8l0.2 1.6l0.2 -1.4l0.2 -3.4l0.2 1.6l0.2 0.2l0.2 0.3l0.2 -2.8l0.2 3.4l0.2 -0.1l0.2 3.5l0.2 -4l0.2 3l0.2 -1.8l0.2 -0.2l0.2 2.4l0.2 -3.3l0.2 -1.9l0.2 -5.3l0.2 10.5l0.2 -3.5l0.2 1l0.2 -2.4l0.2 1.4l0.2 0.3l0.2 -1.5l0.2 -3l0.2 4.5l0.2 -0.2l0.2 -1.5l0.2 -2.1l0.2 -0.5l0.2 2.6l0.2 1.2l0.2 -0.4l0.2 2.8l0.2 -2.6l0.2 -1.7l0.2 -0.8l0.2 2.2l0.2 -1.5l0.2 1.8l0.2 -0.9l0.2 2.1l0.2 1.6l0.2 -3.6l0.2 -0.6l0.2 2.3l0.2 -1.7l0.2 -2.3l0.2 0.6l0.2 1.7l0.2 4.2l0.2 -4.1l0.2 0.8l0.2 2l0.2 -2.3l0.2 -0.7l0.2 2.5l0.2 -5.1l0.2 6.4l0.2 -1.8l0.2 0.3l0.2 1l0.2 -1.9l0.2 -2.3l0.2 0.6l0.2 2.1l0.2 -5.1l0.2 4.6l0.2 -0.4l0.2 0.9l0.2 -0.8l0.2 1.4l0.2 2.3l0.2 -2.4l0.2 1.6l0.2 -1.1l0.2 -2.4l0.2 4.1l0.2 -3.9l0.2 3.3l0.2 -1.5l0.2 -3.9l0.2 6.5l0.2 0.6l0.2 -3l0.2 1.5l0.2 -1.2l0.2 0.1l0.2 0.1l0.2 0.5l0.2 -2.1l0.2 1.7l0.2 0l0.2 1.4l0.2 -0.2l0.2 -4l0.2 1.6l0.2 -4.9l0.2 4.4l0.2 -2.4l0.2 7l0.2 -6.9l0.2 4.2l0.2 0.9l0.2 0l0.2 0.9l0.2 -5.3l0.2 -1.4l0.2 2.7l0.2 -0.1l0.2 0.6l0.2 4.3l0.2 -7.2l0.2 0.1l0.2 2.1l0.2 -1.3l0.2 5l0.2 -2.3l0.2 -1.1l0.2 -1.3l0.2 4.6l0.2 -2.8l0.2 2.8l0.2 -4.4l0.2 3.4l0.2 -3.2l0.2 0.8l0.2 -1.7l0.2 2.3l0.2 -0.6l0.2 -0.1l0.2 -0.3l0.2 0.6l0.2 -0.7l0.2 0l0.2 -1l0.2 -0.7l0.2 -1.3l0.2 3.9l0.2 0.7l0.2 -3l0.2 -1.2l0.2 3.9l0.2 -2.5l0.2 -0.2l0.2 3.3l0.2 1.3l0.2 -5.8l0.2 4.6l0.2 -5.1l0.2 0.8l0.2 4.6l0.2 -2.1l0.2 1.6l0.2 1.3l0.2 -2.1l0.2 1.5l0.2 -3.2l0.2 0.9l0.2 3.3l0.2 -1.9l0.2 -4l0.2 1.6l0.2 0.6l0.2 -1.4l0.2 1.7l0.2 0.9l0.2 1.6l0.2 0.7l0.2 -1.5l0.2 -1.2l0.2 3l0.2 -4.2l0.2 3.5l0.2 -5.6l0.2 5.8l0.2 0.7l0.2 -2.6l0.2 3.1l0.2 -2.9l0.2 -2.5l0.2 4.7l0.2 -4.9l0.2 3.9l0.2 -1.7l0.2 -0.1l0.2 -0.6l0.2 0.3l0.2 0.4l0.2 2.6l0.2 -1.9l0.2 -4.1l0.2 4.4l0.2 2.5l0.2 -6.7l0.2 8.7l0.2 -2.4l0.2 -1.9l0.2 -1.1l0.2 0.3l0.2 1.7l0.2 4.6l0.2 -1.2l0.2 -4.7l0.2 0l0.2 -1l0.2 2.6l0.2 -1.3l0.2 -2.5l0.2 2.2l0.2 -0.6l0.2 4l0.2 -3.4l0.2 2.4l0.2 -3.6l0.2 -3.2l0.2 -0.9l0.2 -1.9l0.2 4.7l0.2 -0.5l0.2 4.4l0.2 -3.5l0.2 2l0.2 -1.1l0.2 1.9l0.2 -4.2l0.2 2.5l0.2 -1.9l0.2 -4.6l0.2 7.5l0.2 -5.8l0.2 2.4l0.2 -1.3l0.2 2.6l0.2 -0.2l0.2 5.1l0.2 -6.5l0.2 3.2l0.2 0.6l0.2 0.4l0.2 0.8l0.2 -2.6l0.2 -1.5l0.2 3.3l0.2 -2.8l0.2 2.4l0.2 -1.1l0.2 0l0.2 1.3l0.2 -2.2l0.2 -1.2l0.2 4.2l0.2 -5.7l0.2 1l0.2 3l0.2 0l0.2 -1.3l0.2 2.2l0.2 -1.6l0.2 -1.7l0.2 3.9l0.2 -1.2l0.2 -5.4l0.2 4l0.2 8.8l0.2 -8.1l0.2 -3.6l0.2 4.2l0.2 0.7l0.2 -0.9l0.2 0.2l0.2 2.1l0.2 -5.9l0.2 7.3l0.2 -1.2l0.2 0.8l0.2 4.8l0.2 -10.2l0.2 5.3l0.2 -1.6l0.2 0.5l0.2 -1.2l0.2 -1.9l0.2 4.2l0.2 -6.5l0.2 5l0.2 1.3l0.2 -3.1l0.2 -4.4l0.2 4.2l0.2 0.7l0.2 -0.2l0.2 0.9l0.2 -1.7l0.2 2.4l0.2 -2.2l0.2 -0.9l0.2 -1l0.2 2.6l0.2 -1.7l0.2 0l0.2 0.8l0.2 0.7l0.2 1.7l0.2 0.7l0.2 -3.4l0.2 -2.2l0.2 0.5l0.2 3l0.2 1.7l0.2 -1.2l0.2 1.5l0.2 -0.9l0.2 -3.8l0.2 2l0.2 1.1l0.2 -1l0.2 0.3l0.2 -2.3l0.2 2.7l0.2 0l0.2 0.7l0.2 -3.6l0.2 3.3l0.2 -3l0.2 1l0.2 0.1l0.2 -5.5l0.2 5l0.2 -1.7l0.2 3.2l0.2 -1.7l0.2 1.9l0.2 -0.9l0.2 0.7l0.2 -2l0.2 1.2l0.2 -0.2l0.2 1.5l0.2 -6.4l0.2 4.1l0.2 0.7l0.2 -1.1l0.2 0.9l0.2 3.8l0.2 -4.7l0.2 4.3l0.2 -3.8l0.2 3.1l0.2 -0.2l0.2 -0.8l0.2 -2.9l0.2 1.6l0.2 -1l0.2 1.1l0.2 1.6l0.2 -1.7l0.2 0l0.2 -1.3l0.2 2.6l0.2 1l0.2 -5.6l0.2 5.7l0.2 -0.7l0.2 -0.6l0.2 -0.5l0.2 -0.2l0.2 0.4l0.2 2.6l0.2 -2.4l0.2 -0.6l0.2 0.2l0.2 -0.6l0.2 -0.5l0.2 5l0.2 -3.8l0.2 3l0.2 -1.6l0.2 1.4l0.2 -1.9l0.2 2l0.2 -0.5l0.2 -1.7l0.2 6.9l0.2 -7.8l0.2 1.8l0.2 1.1l0.2 -2.8l0.2 1l0.2 0l0.2 -0.6l0.2 2.7l0.2 -1.2l0.2 2.6l0.2 -4.7l0.2 1.8l0.2 -0.1l0.2 -4.4l0.2 3.2l0.2 -2.8l0.2 1.6l0.2 -0.3l0.2 3.2l0.2 -2l0.2 -1.5l0.2 -1.9l0.2 2.2l0.2 2.1l0.2 -3.5l0.2 -0.1l0.2 5.6l0.2 -2.4l0.2 -1.1l0.2 1.5l0.2 -1.6l0.2 1l0.2 -2.6l0.2 2.2l0.2 0.4l0.2 0.7l0.2 -0.1l0.2 -0.6l0.2 -2.4l0.2 2.6l0.2 0.4l0.2 -1.8l0.2 0.7l0.2 -1.9l0.2 0.2l0.2 3.9l0.2 -3.8l0.2 -1.6l0.2 0.5l0.2 2.1l0.2 -1l0.2 1.1l0.2 -2.5l0.2 -1l0.2 0.4l0.2 0.7l0.2 2.6l0.2 0.4l0.2 -4.3l0.2 6.4l0.2 -4l0.2 0.7l0.2 -2.1l0.2 3.2l0.2 0.7l0.2 3.7l0.2 -3.2l0.2 -3.3l0.2 5.4l0.2 -0.8l0.2 -0.5l0.2 2.3l0.2 -4l0.2 1.1l0.2 -1.1l0.2 5.5l0.2 -9.6l0.2 7.5l0.2 -2.2l0.2 3.2l0.2 -1.7l0.2 0.1l0.2 -4l0.2 3.7l0.2 -2.3l0.2 2.1l0.2 3.2l0.2 -1l0.2 -6.7l0.2 -0.1l0.2 3.2l0.2 -4.3l0.2 4.8l0.2 0.9l0.2 -1.2l0.2 -4.3l0.2 6.2l0.2 -2.9l0.2 1.6l0.2 -3.9l0.2 0.3l0.2 3.3l0.2 -2.5l0.2 -2.1l0.2 3.7l0.2 -0.8l0.2 -1.2l0.2 3.1l0.2 -2.9l0.2 1.1l0.2 0.9l0.2 -0.3l0.2 0.8l0.2 -1l0.2 1.4l0.2 -2.9l0.2 0.1l0.2 0.9l0.2 -2.1l0.2 1.8l0.2 -1.2l0.2 -2.7l0.2 4.3l0.2 0.6l0.2 -2.8l0.2 2.1l0.2 -1.8l0.2 -4.2l0.2 2.3l0.2 -1l0.2 4.3l0.2 0.6l0.2 -1.1l0.2 0.9l0.2 -1.7l0.2 4.3l0.2 -2.6l0.2 -3.2l0.2 3.8l0.2 0.1l0.2 -0.9l0.2 -0.3l0.2 1.4l0.2 -1.6l0.2 2.9l0.2 -3.8l0.2 -0.5l0.2 2.9l0.2 -0.3l0.2 2.3l0.2 -3.1l0.2 2.3l0.2 -0.4l0.2 -4.3l0.2 2.4l0.2 3.8l0.2 -0.9l0.2 -0.6l0.2 -3.5l0.2 2.2l0.2 1.5l0.2 -0.1l0.2 0.1l0.2 1l0.2 -8.5l0.2 5.6l0.2 -0.3l0.2 2.7l0.2 -1.5l0.2 -3l0.2 2.5l0.2 0.2l0.2 0.9l0.2 -1.9l0.2 3.9l0.2 -3.2l0.2 2l0.2 -1.2l0.2 0.2l0.2 -0.7l0.2 2.5l0.2 -1.8l0.2 -0.5l0.2 -2.8l0.2 4.7l0.2 -6.2l0.2 6.3l0.2 -4.6l0.2 1.5l0.2 0.7l0.2 -2l0.2 4.3l0.2 -1.7l0.2 -1.1l0.2 0.5l0.2 -1.3l0.2 4.1l0.2 -4l0.2 -1.9l0.2 0.8l0.2 4.3l0.2 -6.5l0.2 2l0.2 1.8l0.2 1l0.2 1.1l0.2 -1.8l0.2 -0.3l0.2 -1.8l0.2 -2.1l0.2 5.9l0.2 -0.7l0.2 0.2l0.2 -1.1l0.2 -1l0.2 3.3l0.2 -2l0.2 0.7l0.2 -0.4l0.2 -1.9l0.2 0.3l0.2 -2.2l0.2 1.5l0.2 0.8l0.2 -1.8l0.2 -0.1l0.2 -1l0.2 5.5l0.2 -3.3l0.2 2.6l0.2 -4.6l0.2 5.5l0.2 -0.6l0.2 -5.2l0.2 2.3l0.2 4.3l0.2 -5.1l0.2 3.9l0.2 1.9l0.2 -5.4l0.2 -0.9l0.2 2.6l0.2 0.6l0.2 -0.4l0.2 1l0.2 -5.8l0.2 5.2l0.2 -3.5l0.2 4.3l0.2 -2.9l0.2 0.6l0.2 4.7l0.2 -4.5l0.2 3.8l0.2 -1.6l0.2 3.7l0.2 -2.5l0.2 -1.7l0.2 -0.6l0.2 4l0.2 -2.7l0.2 -0.8l0.2 2.9l0.2 -2.6l0.2 1.8l0.2 -2.6l0.2 1.9l0.2 -2.1l0.2 3.2l0.2 -3.2l0.2 0l0.2 3.6l0.2 -4.1l0.2 -1.7l0.2 0.9l0.2 -3.6l0.2 5l0.2 -2.2l0.2 1.2l0.2 -1.5l0.2 3.4l0.2 0.1l0.2 -4l0.2 1.9l0.2 0.3l0.2 -2.2l0.2 2.2l0.2 0.2l0.2 0.7l0.2 -2.2l0.2 1l0.2 -3.8l0.2 4.9l0.2 1.2l0.2 -1.8l0.2 -2.5l0.2 6l0.2 -5.7l0.2 2.4l0.2 -0.9l0.2 0.4l0.2 -0.4l0.2 -1l0.2 5l0.2 -1.1l0.2 -5.1l0.2 0.2l0.2 2.2l0.2 -1.4l0.2 3.7l0.2 1l0.2 -2.4l0.2 2.4l0.2 -3.8l0.2 1.3l0.2 0.4l0.2 3.4l0.2 -7.9l0.2 3.5l0.2 0.5l0.2 0.7l0.2 0l0.2 -2.7l0.2 1.4l0.2 2.3l0.2 -0.1l0.2 -1.6l0.2 -1.2l0.2 3.4l0.2 -0.9l0.2 5.3l0.2 -4.7l0.2 1.3l0.2 -0.9l0.2 1.4l0.2 -2.3l0.2 -3l0.2 5.1l0.2 -5.3l0.2 3.8l0.2 3l0.2 -4.7l0.2 0.2l0.2 -0.8l0.2 4.1l0.2 -1l0.2 -1.8l0.2 1.3l0.2 -1.4l0.2 -0.3l0.2 -0.5l0.2 0.5l0.2 0.8l0.2 1.3l0.2 -4.9l0.2 8.3l0.2 -8.4l0.2 3.3l0.2 1.4l0.2 -0.3l0.2 -1.6l0.2 -0.5l0.2 -4.3l0.2 4l0.2 0l0.2 -0.2l0.2 -1l0.2 3l0.2 1.1l0.2 0.8l0.2 -3.7l0.2 -3.2l0.2 2.9l0.2 1l0.2 0.6l0.2 -2.4l0.2 0.7l0.2 0.4l0.2 0.8l0.2 1.2l0.2 0.6l0.2 -0.3l0.2 -2.1l0.2 -1.4l0.2 1.8l0.2 1.4l0.2 -2.9l0.2 2.1l0.2 2.3l0.2 -1.3l0.2 -1.4l0.2 -2.6l0.2 1.6l0.2 -3.8l0.2 4.5l0.2 -1.3l0.2 -2.7l0.2 5.7l0.2 -2.3l0.2 2.3l0.2 -1.2l0.2 -0.7l0.2 -0.4l0.2 3.5l0.2 -2.8l0.2 -0.6l0.2 0.9l0.2 -3.3l0.2 4.5l0.2 -4.6l0.2 5l0.2 0.7l0.2 -4l0.2 3.1l0.2 -0.6l0.2 -0.2l0.2 0.5l0.2 -2.2l0.2 0.2l0.2 1.2l0.2 -0.4l0.2 4.7l0.2 -2.6l0.2 0.4l0.2 -1.2l0.2 2l0.2 -1.5l0.2 1.8l0.2 -4.6l0.2 4.6l0.2 -3.5l0.2 -0.8l0.2 2.3l0.2 -3.3l0.2 1.6l0.2 2l0.2 -4l0.2 1.2l0.2 5.8l0.2 -4l0.2 1.7l0.2 1.1l0.2 -4.6l0.2 5.3l0.2 -5.2l0.2 4.1l0.2 -6.8l0.2 5.1l0.2 -1.5l0.2 1.4l0.2 -1.2l0.2 -0.1l0.2 -0.7l0.2 -1.4l0.2 -4.2l0.2 6.8l0.2 0.3l0.2 1.5l0.2 -2.8l0.2 2.9l0.2 -5.9l0.2 2.3l0.2 0.1l0.2 4.1l0.2 -3l0.2 -1l0.2 -1.8l0.2 2.6l0.2 0.6l0.2 0.9l0.2 -0.9l0.2 -0.5l0.2 -2.5l0.2 2.6l0.2 0l0.2 -1.4l0.2 -1.7l0.2 1.8l0.2 0.8l0.2 3.3l0.2 -6l0.2 0.5l0.2 -0.3l0.2 2.2l0.2 1.1l0.2 -2.9l0.2 0.1l0.2 -0.6l0.2 -0.6l0.2 2.4l0.2 0.4l0.2 0.2l0.2 -5.7l0.2 10l0.2 -4.4l0.2 2.6l0.2 -0.9l0.2 -0.4l0.2 0.9l0.2 -3l0.2 2.8l0.2 0.5l0.2 -5l0.2 5.7l0.2 -4.2l0.2 -0.4l0.2 0.9l0.2 2.5l0.2 -0.4l0.2 -0.9l0.2 -2.7l0.2 3l0.2 -2.6l0.2 1.2l0.2 0.5l0.2 -5.2l0.2 2.3l0.2 1.7l0.2 4.9l0.2 -4l0.2 2.1l0.2 -0.7l0.2 -0.5l0.2 -2.3l0.2 3.7l0.2 1.6l0.2 0.3l0.2 -5l0.2 1.7l0.2 0.3l0.2 -0.1l0.2 1.1l0.2 -0.4l0.2 2.2l0.2 0.4l0.2 -3.7l0.2 1.8l0.2 -3l0.2 3.7l0.2 -5.3l0.2 0.2l0.2 4.4l0.2 -1.1l0.2 -0.7l0.2 -1.3l0.2 -0.5l0.2 2.5l0.2 -1.3l0.2 1.8l0.2 0.7l0.2 -0.7l0.2 -1.6l0.2 -3.7l0.2 6.2l0.2 -9.4l0.2 7.8l0.2 -6.6l0.2 7l0.2 -0.6l0.2 0l0.2 -0.1l0.2 1.7l0.2 1.9l0.2 -2l0.2 -3.5l0.2 0.2l0.2 3.1l0.2 -3.8l0.2 2.3l0.2 0l0.2 -1.5l0.2 2.2l0.2 -2.8l0.2 1l0.2 -0.4l0.2 -0.3l0.2 1.1l0.2 -1.2l0.2 2.1l0.2 -3.8l0.2 4.9l0.2 -2.8l0.2 1.7l0.2 -3.3l0.2 0.2l0.2 -0.8l0.2 4.2l0.2 -1.2l0.2 -2.2l0.2 1.3l0.2 -1.5l0.2 0.5l0.2 0.6l0.2 0.6l0.2 0.7l0.2 -2.5l0.2 -0.3l0.2 6.2l0.2 -4l0.2 0.6l0.2 3.2l0.2 1.1l0.2 -2.8l0.2 -0.8l0.2 0.8l0.2 1.8l0.2 -4.3l0.2 -3.7l0.2 7.8l0.2 0.2l0.2 -0.6l0.2 -1.2l0.2 -3.7l0.2 3.1l0.2 0.4l0.2 1.5l0.2 -2.1l0.2 0.5l0.2 -2.5l0.2 0.2l0.2 -0.9l0.2 0.2l0.2 0.9l0.2 0.9l0.2 1.8l0.2 -3.7l0.2 1.6l0.2 3l0.2 -4.7l0.2 0.2l0.2 1.9l0.2 2.9l0.2 -2.4l0.2 -1.1l0.2 1.2l0.2 -0.8l0.2 2.6l0.2 -0.7l0.2 0.5l0.2 -2.5l0.2 1.7l0.2 4.1l0.2 -2.6l0.2 -1.7l0.2 -2.1l0.2 1.3l0.2 2.8l0.2 1l0.2 -0.2l0.2 -2.5l0.2 -0.4l0.2 -3.8l0.2 5.5l0.2 -3.8l0.2 1l0.2 -0.3l0.2 0.3l0.2 0.6l0.2 1.9l0.2 -3.1l0.2 3.8l0.2 -4.1l0.2 -0.6l0.2 1.9l0.2 0.6l0.2 0.2l0.2 -1.7l0.2 -0.7l0.2 -0.1l0.2 1.8l0.2 -1.6l0.2 0.6l0.2 2l0.2 -0.9l0.2 4.3l0.2 -5.6l0.2 3.7l0.2 -6.5l0.2 4.3l0.2 2.7l0.2 -7.1l0.2 2.3l0.2 4.4l0.2 -3.4l0.2 1.3l0.2 -4.4l0.2 -1.2l0.2 2.9l0.2 0.3l0.2 1.1l0.2 -1l0.2 2.7l0.2 -5.4l0.2 3l0.2 -1.2l0.2 2.3l0.2 -3.5l0.2 1.7l0.2 1.3l0.2 -1.5l0.2 3.1l0.2 -0.5l0.2 -2.4l0.2 4.1l0.2 -5.8l0.2 3.5l0.2 -1.9l0.2 2.7l0.2 2.1l0.2 0.5l0.2 -2.5l0.2 -0.6l0.2 -1.7l0.2 -1.5l0.2 6.6l0.2 -0.1l0.2 -6.2l0.2 2.1l0.2 3.6l0.2 -2.6l0.2 -1.5l0.2 -0.8l0.2 4.8l0.2 1.4l0.2 -3.7l0.2 -2.8l0.2 5.4l0.2 -1.5l0.2 -2.7l0.2 -1l0.2 0.9l0.2 2.5l0.2 -1.6l0.2 0.7l0.2 0.6l0.2 -3l0.2 1l0.2 3.5l0.2 -1.1l0.2 -1.4l0.2 -3.3l0.2 1l0.2 0.7l0.2 3.6l0.2 0.1l0.2 1.8l0.2 -6.3l0.2 2.1l0.2 -1.2l0.2 3.7l0.2 -1l0.2 -1.9l0.2 1.3l0.2 0.4l0.2 -0.3l0.2 -3l0.2 4.3l0.2 -2.7l0.2 -0.6l0.2 -2.9l0.2 4.2l0.2 -0.6l0.2 -0.9l0.2 5l0.2 -6.4l0.2 3.3l0.2 -2.2l0.2 2.4l0.2 -3.1l0.2 1.7l0.2 0.6l0.2 -2l0.2 -0.1l0.2 0.5l0.2 7.7l0.2 -7l0.2 -0.3l0.2 -0.2l0.2 0.9l0.2 -1.5l0.2 2.2l0.2 0.3l0.2 3.9l0.2 -2.7l0.2 1.3l0.2 -0.8l0.2 2l0.2 -0.1l0.2 -5.8l0.2 4.6l0.2 -2.2l0.2 -3.4l0.2 2.3l0.2 0.9l0.2 -1.5l0.2 -2.2l0.2 4.8l0.2 -2.8l0.2 -1.7l0.2 0l0.2 1.8l0.2 -0.4l0.2 2.3l0.2 -1.5l0.2 1.4l0.2 -4l0.2 2.5l0.2 -2.1l0.2 4.6l0.2 -0.5l0.2 1.8l0.2 -2.7l0.2 -0.6l0.2 0.7l0.2 0.9l0.2 -1.3l0.2 -0.3l0.2 -3.4l0.2 6.4l0.2 -4.1l0.2 1.9l0.2 1.2l0.2 -1.9l0.2 2.9l0.2 -5.5l0.2 5l0.2 0.3l0.2 -3.4l0.2 0.5l0.2 0.7l0.2 -4.1l0.2 3.9l0.2 2.1l0.2 -3.6l0.2 2.7l0.2 -2.6l0.2 -1.6l0.2 4.7l0.2 -1.9l0.2 3.4l0.2 -2l0.2 0.7l0.2 -2.5l0.2 -0.1l0.2 0.7l0.2 1.5l0.2 2.9l0.2 -3.6l0.2 3.9l0.2 -4.6l0.2 1.8l0.2 -1.2l0.2 1.9l0.2 -0.9l0.2 2.9l0.2 -1l0.2 -3.4l0.2 -1.4l0.2 3.4l0.2 -0.6l0.2 -3l0.2 3l0.2 1.5l0.2 -1.9l0.2 0.2l0.2 -2.6l0.2 3.9l0.2 -0.8l0.2 -2l0.2 2.4l0.2 1l0.2 -4.3l0.2 0.7l0.2 -0.8l0.2 1.8l0.2 -2l0.2 2.1l0.2 -2.4l0.2 -3.3l0.2 3.2l0.2 1.8l0.2 1.4l0.2 -1.6l0.2 1.6l0.2 -0.3l0.2 -1.1l0.2 -4.8l0.2 3.9l0.2 -0.4l0.2 -0.1l0.2 8.9l0.2 -9.9l0.2 1.2l0.2 -2.3l0.2 4.5l0.2 2.9l0.2 0l0.2 -7.8l0.2 3.2l0.2 -1.4l0.2 0l0.2 3.4l0.2 -1.8l0.2 -0.3l0.2 -2.2l0.2 4.8l0.2 -0.8l0.2 -2.5l0.2 1.4l0.2 -6l0.2 6.6l0.2 -1.3l0.2 -0.1l0.2 -1.8l0.2 1.5l0.2 -2.4l0.2 3.5l0.2 -1.8l0.2 1.2l0.2 -0.1l0.2 1l0.2 4.8l0.2 -6.5l0.2 2.4l0.2 -4.4l0.2 -0.1l0.2 2.9l0.2 2.9l0.2 1.4l0.2 -5.9l0.2 2.9l0.2 0.4l0.2 1.9l0.2 -1.5l0.2 0.2l0.2 0.4l0.2 -2.4l0.2 5.2l0.2 -2.2l0.2 -0.2l0.2 -0.7l0.2 -3l0.2 3.6l0.2 0.8l0.2 -3.4l0.2 -0.8l0.2 3.4l0.2 -4.8l0.2 1.2l0.2 2l0.2 -1.1l0.2 -1.7l0.2 4.5l0.2 -1.7l0.2 -0.3l0.2 -0.5l0.2 0.9l0.2 -0.4l0.2 -1.5l0.2 1l0.2 3l0.2 -6.8l0.2 3.6l0.2 3.3l0.2 -2.2l0.2 0.5l0.2 -1.8l0.2 4.3l0.2 0.2l0.2 -4.6l0.2 0.7l0.2 -0.7l0.2 -0.9l0.2 0l0.2 1.1l0.2 0.1l0.2 1.6l0.2 -2.4l0.2 -1.2l0.2 1.7l0.2 2l0.2 -0.7l0.2 -0.6l0.2 0.4l0.2 -3.9l0.2 0.3l0.2 2.3l0.2 -1l0.2 -0.2l0.2 -0.4l0.2 -1l0.2 -0.4l0.2 2l0.2 1.4l0.2 -0.3l0.2 -3l0.2 -1.3l0.2 -0.5l0.2 1.8l0.2 2.8l0.2 0.3l0.2 -5l0.2 3.8l0.2 1.1l0.2 -0.8l0.2 2.7l0.2 -2.3l0.2 -0.5l0.2 5.8l0.2 -5.9l0.2 3.1l0.2 -3.1l0.2 3.6l0.2 -1.4l0.2 4.9l0.2 -0.3l0.2 -5.8l0.2 2.4l0.2 -1.3l0.2 0.3l0.2 -1.2l0.2 -1.4l0.2 -0.4l0.2 3.3l0.2 1.2l0.2 -3.1l0.2 -0.7l0.2 1l0.2 -0.2l0.2 3.5l0.2 1.1l0.2 -6.3l0.2 4.2l0.2 -5l0.2 4.4l0.2 -1l0.2 0.6l0.2 -3.9l0.2 1.9l0.2 0.1l0.2 -1.1l0.2 3l0.2 1.3l0.2 -2.4l0.2 3.4l0.2 0.8l0.2 -0.3l0.2 -5.2l0.2 -0.1l0.2 2.5l0.2 0.8l0.2 -2.6l0.2 1.6l0.2 -0.4l0.2 0.7l0.2 -0.7l0.2 -1.2l0.2 1.1l0.2 3.4l0.2 -2.4l0.2 -1.6l0.2 -0.5l0.2 3.6l0.2 -3.8l0.2 -2.2l0.2 2.2l0.2 0.4l0.2 -0.7l0.2 3.9l0.2 -5.6l0.2 1l0.2 -0.6l0.2 1.4l0.2 1.6l0.2 -1.1l0.2 1.9l0.2 -4l0.2 0.7l0.2 1.2l0.2 3.2l0.2 -4.3l0.2 1l0.2 1.8l0.2 -1.9l0.2 -2.6l0.2 4.9l0.2 -1.6l0.2 4.8l0.2 -6.4l0.2 5l0.2 -1.2l0.2 3.9l0.2 -5l0.2 -0.4l0.2 2l0.2 -0.2l0.2 -2.2l0.2 1l0.2 -0.8l0.2 -2.2" fill="none" stroke="#000" stroke-width="1.15" stroke-linejoin="round" />
<path d="M715.4 214.7L716.2 210.6L716.3 203.9L716.3 187.7L716.3 160.6L716.3 136.3L716.6 125.5L716.9 117.4L716.9 79.6L716.9 79.6L716.9 117.4L717.2 125.5L717.6 136.3L717.6 160.6L717.6 187.7L717.6 203.9L717.7 210.6L718.6 214.7M726.6 216.9L726.8 216.2L727.0 215.0L727.2 212.2L727.2 207.5L727.2 203.3L727.4 201.5L727.6 200.1L727.6 193.5L727.6 193.5L727.6 200.1L727.8 201.5L728.0 203.3L728.0 207.5L728.1 212.2L728.3 215.0L728.5 216.2L728.6 216.9M749.9 215.5L750.2 214.5L750.4 212.9L750.5 209.0L750.5 202.5L750.5 196.6L750.7 194.0L750.9 192.1L750.9 183.0L750.9 183.0L750.9 192.1L751.1 194.0L751.3 196.6L751.3 202.5L751.4 209.0L751.5 212.9L751.7 214.5L751.9 215.5M779.3 216.6L780.0 214.3L780.3 210.4L780.3 201.0L780.3 185.5L780.3 171.5L780.7 165.2L781.0 160.6L781.0 138.8L781.0 138.8L781.0 160.6L781.4 165.2L781.8 171.5L781.8 185.5L781.8 201.0L781.8 210.4L782.1 214.3L782.9 216.6M790.9 217.1L791.1 216.4L791.3 215.3L791.4 212.7L791.5 208.4L791.5 204.4L791.7 202.7L791.9 201.4L791.9 195.3L791.9 195.3L791.9 201.4L792.1 202.7L792.3 204.4L792.3 208.4L792.4 212.7L792.6 215.3L792.8 216.4L792.9 217.1M989.3 217.5L989.5 216.4L989.8 214.6L989.9 210.2L989.9 203.0L989.9 196.4L990.2 193.5L990.4 191.4L990.4 181.2L990.4 181.2L990.4 191.4L990.7 193.5L990.9 196.4L990.9 203.0L990.9 210.2L991.1 214.6L991.3 216.4L991.7 217.5M1009.2 216.6L1009.4 215.7L1009.6 214.1L1009.8 210.3L1009.8 204.0L1009.8 198.3L1010.1 195.8L1010.3 193.9L1010.3 185.0L1010.3 185.0L1010.3 193.9L1010.6 195.8L1010.8 198.3L1010.8 204.0L1010.8 210.3L1011.0 214.1L1011.3 215.7L1011.6 216.6M1056.4 215.8L1056.6 215.0L1056.8 213.8L1057.0 211.0L1057.0 206.2L1057.0 201.9L1057.3 199.9L1057.5 198.5L1057.5 191.8L1057.5 191.8L1057.5 198.5L1057.8 199.9L1058.0 201.9L1058.0 206.2L1058.1 211.0L1058.3 213.8L1058.5 215.0L1058.8 215.8M1103.8 217.7L1104.0 216.8L1104.2 215.5L1104.4 212.3L1104.4 206.9L1104.4 202.1L1104.7 199.9L1104.9 198.3L1104.9 190.8L1104.9 190.8L1104.9 198.3L1105.2 199.9L1105.4 202.1L1105.4 206.9L1105.5 212.3L1105.7 215.5L1105.9 216.8L1106.2 217.7M1167.6 216.5L1167.8 215.7L1168.0 214.5L1168.2 211.4L1168.2 206.2L1168.2 201.5L1168.5 199.5L1168.7 197.9L1168.7 190.7L1168.7 190.7L1168.7 197.9L1169.0 199.5L1169.2 201.5L1169.2 206.2L1169.3 211.4L1169.5 214.5L1169.7 215.7L1170.0 216.5M1235.9 217.3L1236.2 216.2L1236.5 214.4L1236.6 209.9L1236.7 202.5L1236.7 195.8L1236.9 192.8L1237.2 190.6L1237.2 180.2L1237.2 180.2L1237.2 190.6L1237.5 192.8L1237.8 195.8L1237.8 202.5L1237.8 209.9L1238.0 214.4L1238.3 216.2L1238.7 217.3M1246.4 217.1L1246.8 216.5L1247.2 215.5L1247.6 213.0L1247.7 208.9L1247.8 205.2L1248.2 203.6L1248.7 202.3L1248.7 196.6L1248.7 196.6L1248.7 202.3L1249.2 203.6L1249.7 205.2L1249.7 208.9L1249.9 213.0L1250.4 215.5L1250.8 216.5L1251.2 217.1M1334.6 216.9L1335.1 215.4L1335.5 213.0L1335.6 207.1L1335.6 197.3L1335.6 188.5L1336.0 184.6L1336.3 181.7L1336.3 168.0L1336.3 168.0L1336.3 181.7L1336.7 184.6L1337.1 188.5L1337.1 197.3L1337.1 207.1L1337.2 213.0L1337.6 215.4L1338.2 216.9M1355.9 216.5L1356.9 212.8L1357.0 206.5L1357.0 191.5L1357.0 166.4L1357.0 143.9L1357.4 133.9L1357.8 126.4L1357.8 91.3L1357.8 91.3L1357.8 126.4L1358.2 133.9L1358.7 143.9L1358.7 166.4L1358.7 191.5L1358.7 206.5L1358.8 212.8L1359.9 216.5M1368.1 217.4L1368.3 216.9L1368.6 215.9L1368.8 213.6L1369.0 209.8L1369.0 206.4L1369.3 204.9L1369.6 203.7L1369.6 198.4L1369.6 198.4L1369.6 203.7L1369.9 204.9L1370.3 206.4L1370.3 209.8L1370.4 213.6L1370.7 215.9L1371.0 216.9L1371.3 217.4M1548.5 216.2L1548.8 215.2L1549.0 213.6L1549.2 209.6L1549.3 202.9L1549.3 197.0L1549.5 194.3L1549.8 192.3L1549.8 183.0L1549.8 183.0L1549.8 192.3L1550.1 194.3L1550.4 197.0L1550.4 202.9L1550.4 209.6L1550.6 213.6L1550.9 215.2L1551.3 216.2M731.4 215.6L731.5 215.3L731.5 214.7L731.6 213.3L731.6 211.0L731.6 208.9L731.8 208.0L732.0 207.3L732.0 204.0L732.0 204.0L732.0 207.3L732.2 208.0L732.4 208.9L732.4 211.0L732.5 213.3L732.6 214.7L732.6 215.3L732.6 215.6M739.4 215.8L739.5 215.4L739.5 214.8L739.6 213.2L739.6 210.7L739.6 208.4L739.8 207.3L740.0 206.6L740.0 203.0L740.0 203.0L740.0 206.6L740.2 207.3L740.4 208.4L740.4 210.7L740.5 213.2L740.5 214.8L740.6 215.4L740.6 215.8M759.4 217.7L759.5 217.3L759.5 216.6L759.6 214.9L759.6 212.2L759.6 209.7L759.8 208.7L760.0 207.8L760.0 204.0L760.0 204.0L760.0 207.8L760.2 208.7L760.4 209.7L760.4 212.2L760.5 214.9L760.5 216.6L760.6 217.3L760.6 217.7M1017.4 215.3L1017.5 214.9L1017.5 214.3L1017.6 212.8L1017.6 210.4L1017.6 208.1L1017.8 207.2L1018.0 206.4L1018.0 203.0L1018.0 203.0L1018.0 206.4L1018.2 207.2L1018.4 208.1L1018.4 210.4L1018.5 212.8L1018.6 214.3L1018.6 214.9L1018.6 215.3M1025.4 217.0L1025.5 216.6L1025.5 215.9L1025.6 214.4L1025.6 211.8L1025.6 209.5L1025.8 208.4L1026.0 207.6L1026.0 204.0L1026.0 204.0L1026.0 207.6L1026.2 208.4L1026.4 209.5L1026.4 211.8L1026.5 214.4L1026.5 215.9L1026.6 216.6L1026.6 217.0M1030.3 216.8L1030.3 216.5L1030.4 215.9L1030.5 214.5L1030.5 212.1L1030.5 210.0L1030.8 209.0L1031.0 208.3L1031.0 205.0L1031.0 205.0L1031.0 208.3L1031.3 209.0L1031.5 210.0L1031.5 212.1L1031.6 214.5L1031.7 215.9L1031.7 216.5L1031.8 216.8M1315.1 217.5L1315.1 217.1L1315.2 216.4L1315.3 214.8L1315.4 212.1L1315.4 209.7L1315.7 208.6L1316.0 207.8L1316.0 204.0L1316.0 204.0L1316.0 207.8L1316.3 208.6L1316.7 209.7L1316.7 212.1L1316.8 214.8L1316.9 216.4L1317.0 217.1L1317.0 217.5M1292.1 218.2L1292.1 217.8L1292.2 217.1L1292.3 215.5L1292.4 212.9L1292.4 210.5L1292.7 209.5L1293.0 208.7L1293.0 205.0L1293.0 205.0L1293.0 208.7L1293.3 209.5L1293.7 210.5L1293.7 212.9L1293.8 215.5L1293.9 217.1L1294.0 217.8L1294.0 218.2M1379.1 216.1L1379.1 215.8L1379.2 215.2L1379.3 213.9L1379.3 211.7L1379.4 209.7L1379.7 208.8L1380.0 208.1L1380.0 205.0L1380.0 205.0L1380.0 208.1L1380.3 208.8L1380.7 209.7L1380.7 211.7L1380.8 213.9L1380.9 215.2L1381.0 215.8L1381.0 216.1" fill="none" stroke="#000" stroke-width="0.95" stroke-linejoin="round"/>
<path d="M681.1 402l0.2 -8.3l0.2 0.4l0.2 0.2l0.2 -0.8l0.2 4.1l0.2 2.2l0.2 -5.6l0.2 2l0.2 -0.5l0.2 -5.3l0.2 10.3l0.2 -4.4l0.2 1.1l0.2 -12.5l0.2 12.1l0.2 6.2l0.2 -7.9l0.2 4.9l0.2 -5.8l0.2 8.5l0.2 -1.8l0.2 -3.1l0.2 5.5l0.2 -7l0.2 6.5l0.2 3.3l0.2 -5.1l0.2 1.6l0.2 -3.3l0.2 3.2l0.2 -1.4l0.2 4.2l0.2 -4.1l0.2 -2.6l0.2 3.8l0.2 -0.8l0.2 3l0.2 -3l0.2 0.2l0.2 2.9l0.2 -2.7l0.2 0l0.2 -0.3l0.2 5.8l0.2 -0.2l0.2 -0.4l0.2 5.4l0.2 -3.1l0.2 -2.1l0.2 6.9l0.2 -2.9l0.2 -1.4l0.2 -2.2l0.2 1.7l0.2 2.4l0.2 -3.1l0.2 -2.4l0.2 -4.5l0.2 -0.2l0.2 6.6l0.2 -3.7l0.2 3.1l0.2 -8.6l0.2 0.1l0.2 2l0.2 1.8l0.2 -1.4l0.2 -5.5l0.2 0.7l0.2 3.8l0.2 -3.3l0.2 4.7l0.2 -3.7l0.2 1.6l0.2 -1.2l0.2 -9.5l0.2 9.4l0.2 1.4l0.2 3.7l0.2 -7.2l0.2 0.6l0.2 -1.3l0.2 8.5l0.2 -2.7l0.2 2.6l0.2 1.2l0.2 -0.2l0.2 -4.7l0.2 3.3l0.2 2.2l0.2 5.2l0.2 -10.6l0.2 5.1l0.2 -5.3l0.2 5.4l0.2 -1.1l0.2 -4.1l0.2 0.8l0.2 0.4l0.2 6.7l0.2 -4.2l0.2 4.1l0.2 -8.4l0.2 1.3l0.2 5.6l0.2 0.9l0.2 -0.7l0.2 4.2l0.2 -1.8l0.2 -4.8l0.2 5.6l0.2 -0.7l0.2 0.3l0.2 -6.1l0.2 -1l0.2 3.3l0.2 -1.7l0.2 2.2l0.2 4.8l0.2 -6.9l0.2 2.5l0.2 5.6l0.2 -9l0.2 -0.7l0.2 1.9l0.2 2.8l0.2 -6.7l0.2 -5.7l0.2 15.2l0.2 -8.3l0.2 -1.2l0.2 -2l0.2 -0.7l0.2 -1.2l0.2 -2l0.2 7.4l0.2 -0.3l0.2 0.8l0.2 -0.6l0.2 1l0.2 -4.7l0.2 8.4l0.2 -5.4l0.2 -0.1l0.2 1.4l0.2 1.8l0.2 2.2l0.2 -5.2l0.2 -5.3l0.2 10.3l0.2 -3.4l0.2 1.1l0.2 -6.9l0.2 2.3l0.2 6.5l0.2 0.7l0.2 -3.5l0.2 -6.4l0.2 1l0.2 4.2l0.2 -3.8l0.2 9.3l0.2 -1.2l0.2 -3.3l0.2 -3.8l0.2 7.6l0.2 1l0.2 -6.1l0.2 2.4l0.2 2.3l0.2 0.6l0.2 -2.4l0.2 -1l0.2 3.7l0.2 4l0.2 2.9l0.2 -1.9l0.2 -1.7l0.2 -3.9l0.2 4.3l0.2 -2.7l0.2 -3.5l0.2 4.6l0.2 1.8l0.2 -4.3l0.2 -6.1l0.2 7.5l0.2 -7l0.2 3.6l0.2 0.1l0.2 -4.4l0.2 0l0.2 -1.4l0.2 0l0.2 -0.6l0.2 3.4l0.2 -5.7l0.2 2l0.2 2.8l0.2 4l0.2 -0.4l0.2 -4.1l0.2 2l0.2 -3.3l0.2 3.7l0.2 -4.9l0.2 6.2l0.2 0.5l0.2 -0.4l0.2 -3.3l0.2 4.3l0.2 -0.6l0.2 -5.8l0.2 0.4l0.2 8.8l0.2 -8.5l0.2 -4.5l0.2 11.9l0.2 -10.7l0.2 4.1l0.2 5.2l0.2 -5.9l0.2 2.7l0.2 -7.7l0.2 7.7l0.2 -0.2l0.2 0.3l0.2 5.6l0.2 -8.3l0.2 1.6l0.2 2.2l0.2 0.4l0.2 6.1l0.2 -2.4l0.2 -1.1l0.2 1.2l0.2 4l0.2 -2.7l0.2 2.7l0.2 -5.7l0.2 7.8l0.2 -1.8l0.2 -4.6l0.2 -3.5l0.2 4.9l0.2 -2l0.2 0l0.2 -2.9l0.2 4.4l0.2 -4.8l0.2 0.4l0.2 7.7l0.2 -7.1l0.2 -1.1l0.2 0.2l0.2 4.7l0.2 -0.2l0.2 -3.2l0.2 -0.5l0.2 0l0.2 -0.6l0.2 -2.4l0.2 -0.5l0.2 7.7l0.2 -4.1l0.2 -3.4l0.2 1.1l0.2 3l0.2 4.6l0.2 -9.1l0.2 -3l0.2 6.8l0.2 0.1l0.2 0.8l0.2 -1.5l0.2 3.3l0.2 -9.8l0.2 6.5l0.2 -2.9l0.2 -1l0.2 -0.4l0.2 -1.8l0.2 4l0.2 -0.2l0.2 -5.4l0.2 4.5l0.2 -10l0.2 7.7l0.2 -2.7l0.2 5.1l0.2 1.8l0.2 -5.1l0.2 0.6l0.2 9.3l0.2 -2.8l0.2 -1.5l0.2 1l0.2 -1.3l0.2 0.4l0.2 10.2l0.2 -6.8l0.2 3l0.2 4.6l0.2 -1.8l0.2 -5.3l0.2 1.9l0.2 -2.7l0.2 2.6l0.2 -1.7l0.2 0.2l0.2 4.8l0.2 -1.8l0.2 -3.3l0.2 1.2l0.2 -4.5l0.2 0.4l0.2 2.2l0.2 0.3l0.2 1.6l0.2 -1.6l0.2 1.3l0.2 -7.2l0.2 0.2l0.2 2.1l0.2 2.6l0.2 4.3l0.2 -5.6l0.2 -1.4l0.2 3.3l0.2 -4.9l0.2 5.1l0.2 -3.3l0.2 0.8l0.2 0l0.2 1.6l0.2 -3l0.2 -0.8l0.2 4.2l0.2 0.3l0.2 -1.1l0.2 2.8l0.2 -6.1l0.2 -2.9l0.2 7.2l0.2 -3l0.2 -4.8l0.2 4.1l0.2 -5.5l0.2 3l0.2 -6.3l0.2 4.1l0.2 0.5l0.2 -0.4l0.2 -0.5l0.2 1.5l0.2 1.2l0.2 -4.3l0.2 4.5l0.2 1.1l0.2 1.6l0.2 1.1l0.2 -5.7l0.2 -0.6l0.2 10.4l0.2 -0.8l0.2 -3.3l0.2 6.4l0.2 -5.2l0.2 4.4l0.2 2.4l0.2 -0.5l0.2 -6.7l0.2 -0.4l0.2 4.8l0.2 -0.9l0.2 4.5l0.2 -4.5l0.2 0.3l0.2 -2l0.2 -2.3l0.2 3.7l0.2 2.3l0.2 -3.1l0.2 -2.6l0.2 -1.3l0.2 2.1l0.2 5l0.2 -4.2l0.2 -2l0.2 1.1l0.2 1.7l0.2 -4.3l0.2 2.6l0.2 -3.4l0.2 3.4l0.2 2.8l0.2 0.3l0.2 1.7l0.2 -4.4l0.2 -6l0.2 9.6l0.2 -0.8l0.2 1.2l0.2 0.9l0.2 -4.2l0.2 -3.1l0.2 0.6l0.2 -1.7l0.2 2.7l0.2 3.5l0.2 -7.5l0.2 -0.9l0.2 6.6l0.2 -10.1l0.2 1.6l0.2 -2.4l0.2 7.7l0.2 -8.1l0.2 1.9l0.2 1.2l0.2 -3.3l0.2 3.1l0.2 -4l0.2 1.2l0.2 1.3l0.2 5.8l0.2 -3l0.2 0.3l0.2 -1.1l0.2 6l0.2 1.5l0.2 -11.6l0.2 9.5l0.2 3.8l0.2 -4.7l0.2 3.8l0.2 -7l0.2 5.8l0.2 1.4l0.2 2.3l0.2 -3.5l0.2 3.4l0.2 2.6l0.2 -7.6l0.2 0.5l0.2 2.1l0.2 -0.4l0.2 -0.8l0.2 -0.9l0.2 7l0.2 -11.2l0.2 2.7l0.2 0.9l0.2 -1l0.2 7.1l0.2 -7.5l0.2 3l0.2 0l0.2 5.6l0.2 -5.1l0.2 5.3l0.2 -6.9l0.2 1.1l0.2 -0.3l0.2 1.9l0.2 -0.9l0.2 2.8l0.2 3.7l0.2 -7.5l0.2 3.8l0.2 1.1l0.2 1.6l0.2 -2.1l0.2 -10.5l0.2 10.4l0.2 -5.2l0.2 4.2l0.2 -2.5l0.2 -2.9l0.2 -7.4l0.2 8.5l0.2 -3.9l0.2 0.6l0.2 0l0.2 -3.6l0.2 2.6l0.2 1.7l0.2 -5.1l0.2 2.1l0.2 -0.1l0.2 -2l0.2 -1.7l0.2 -0.3l0.2 7.9l0.2 2.2l0.2 -1l0.2 -0.5l0.2 4.6l0.2 -7.7l0.2 6.2l0.2 -5.3l0.2 2.3l0.2 0l0.2 3.5l0.2 -6.5l0.2 8.4l0.2 -4.6l0.2 4.4l0.2 -2.1l0.2 1.1l0.2 -8.3l0.2 6.9l0.2 0.6l0.2 -3.4l0.2 0.7l0.2 0.5l0.2 -2.5l0.2 3.1l0.2 1.6l0.2 -1.6l0.2 -3.6l0.2 1.3l0.2 2.7l0.2 2.9l0.2 -2.8l0.2 -0.6l0.2 -1.9l0.2 3.5l0.2 -1.3l0.2 3.1l0.2 2.4l0.2 -5.8l0.2 2.3l0.2 -1.9l0.2 4l0.2 -2.1l0.2 4.2l0.2 -2.5l0.2 3.9l0.2 0.9l0.2 0.7l0.2 -5.1l0.2 0.3l0.2 -2.2l0.2 -0.1l0.2 0.8l0.2 -3.9l0.2 -0.9l0.2 2.8l0.2 -2.7l0.2 1.7l0.2 -1.9l0.2 -3.9l0.2 4.4l0.2 -7.3l0.2 4.5l0.2 -3.4l0.2 -0.3l0.2 0.2l0.2 7.2l0.2 -8l0.2 4.6l0.2 -4.5l0.2 4.2l0.2 0.9l0.2 1.7l0.2 -3l0.2 -5.3l0.2 6.1l0.2 6.1l0.2 -1.9l0.2 0.6l0.2 -0.9l0.2 -3.8l0.2 3.4l0.2 6.9l0.2 -4.7l0.2 3.5l0.2 -4.9l0.2 1.3l0.2 2.4l0.2 -4.5l0.2 0.1l0.2 2.3l0.2 -2.3l0.2 5.8l0.2 -5.1l0.2 3.7l0.2 -1.8l0.2 -3.4l0.2 -2.5l0.2 3.5l0.2 2.9l0.2 2l0.2 0.5l0.2 -0.8l0.2 2.3l0.2 -0.6l0.2 -4.3l0.2 5l0.2 -4.5l0.2 6.5l0.2 -7.9l0.2 2.7l0.2 0l0.2 2.6l0.2 -6.7l0.2 7.7l0.2 -3.3l0.2 5l0.2 -8.1l0.2 0.6l0.2 -1.8l0.2 8.1l0.2 -8.8l0.2 6.1l0.2 -1.9l0.2 0.2l0.2 3.1l0.2 -4.2l0.2 -0.3l0.2 -1.5l0.2 -0.5l0.2 2.1l0.2 1l0.2 1l0.2 -0.6l0.2 -2.3l0.2 1.4l0.2 -2.4l0.2 -0.6l0.2 2.8l0.2 -0.8l0.2 -4l0.2 4.8l0.2 3.2l0.2 -4.6l0.2 0.1l0.2 -0.2l0.2 1.4l0.2 3.5l0.2 -6.4l0.2 0.4l0.2 -0.9l0.2 5.7l0.2 -4.2l0.2 3.2l0.2 -6.3l0.2 4.5l0.2 0.8l0.2 -1.1l0.2 3.9l0.2 -6.2l0.2 3.1l0.2 -1.1l0.2 -3.5l0.2 1.1l0.2 2.1l0.2 -1.6l0.2 2.4l0.2 -1.4l0.2 -1l0.2 1.8l0.2 1l0.2 -2.5l0.2 2l0.2 0.1l0.2 -3.7l0.2 -1.8l0.2 2.1l0.2 2l0.2 2.3l0.2 1.6l0.2 -0.6l0.2 -5.7l0.2 0.8l0.2 7.2l0.2 -3.1l0.2 4.4l0.2 -5.6l0.2 0.6l0.2 -3.2l0.2 4.3l0.2 -3.3l0.2 3.5l0.2 -2.3l0.2 -4.2l0.2 2l0.2 -1l0.2 1.5l0.2 2.2l0.2 0.5l0.2 -5.8l0.2 9.5l0.2 -7.2l0.2 6.7l0.2 -6.5l0.2 1.2l0.2 4.1l0.2 0.8l0.2 0.4l0.2 -0.2l0.2 -8.1l0.2 6.7l0.2 1.6l0.2 -6.1l0.2 4.5l0.2 -1.5l0.2 0.2l0.2 2.4l0.2 -8.8l0.2 2.6l0.2 2.5l0.2 3l0.2 -2.2l0.2 -5.8l0.2 3.9l0.2 1.6l0.2 -2.4l0.2 3.5l0.2 0.5l0.2 -5.1l0.2 6.5l0.2 -6l0.2 0l0.2 1.3l0.2 0.1l0.2 5l0.2 -5.1l0.2 2.2l0.2 2.9l0.2 -3l0.2 -3.4l0.2 1l0.2 0.9l0.2 1.8l0.2 2.2l0.2 -2.8l0.2 -3.2l0.2 4l0.2 0.4l0.2 -0.7l0.2 -5.6l0.2 1.9l0.2 0.5l0.2 7l0.2 -4l0.2 -0.7l0.2 -0.4l0.2 3.4l0.2 -3.6l0.2 4.7l0.2 -0.6l0.2 -1.7l0.2 -2.7l0.2 2.2l0.2 -2.4l0.2 -0.8l0.2 1.2l0.2 -5l0.2 12.4l0.2 -8.9l0.2 6.6l0.2 -5.3l0.2 4.2l0.2 5.8l0.2 -9.8l0.2 -1.2l0.2 3l0.2 0.9l0.2 -0.6l0.2 5.2l0.2 -4.2l0.2 -0.5l0.2 -3.3l0.2 3.2l0.2 -2.9l0.2 0.9l0.2 6.1l0.2 -3.7l0.2 2.2l0.2 -6.4l0.2 -3.6l0.2 7.4l0.2 -0.6l0.2 -3l0.2 8.8l0.2 -10.1l0.2 3.8l0.2 0.8l0.2 0.6l0.2 -3.9l0.2 -3.3l0.2 5.3l0.2 5.3l0.2 -7.7l0.2 -2.6l0.2 4.9l0.2 2.3l0.2 1.4l0.2 -5.1l0.2 4.7l0.2 3.7l0.2 -6.2l0.2 1.5l0.2 -5.1l0.2 3.3l0.2 1.1l0.2 -2.7l0.2 -2.3l0.2 4.2l0.2 2.2l0.2 -3.9l0.2 -0.6l0.2 1.4l0.2 -1.8l0.2 1.9l0.2 -2.2l0.2 -0.5l0.2 4l0.2 -4.7l0.2 8.4l0.2 -9.5l0.2 1l0.2 3.6l0.2 0.1l0.2 4.8l0.2 0.1l0.2 -2.9l0.2 -5.6l0.2 6.3l0.2 -3.1l0.2 1.5l0.2 1l0.2 -5.6l0.2 2.5l0.2 -0.3l0.2 3l0.2 -0.9l0.2 2l0.2 1.8l0.2 -3.1l0.2 -0.5l0.2 -1.2l0.2 -1.2l0.2 0.1l0.2 -3.4l0.2 6.8l0.2 0.3l0.2 -1.8l0.2 3.1l0.2 -2.2l0.2 2.2l0.2 -3.7l0.2 -0.8l0.2 0.8l0.2 4.9l0.2 -6.3l0.2 2.4l0.2 -4.7l0.2 3.8l0.2 -3.3l0.2 9.3l0.2 -9.9l0.2 3.2l0.2 -1.9l0.2 4.2l0.2 -1.8l0.2 -1.1l0.2 1.9l0.2 -4.8l0.2 -0.2l0.2 6.9l0.2 -6.8l0.2 1.1l0.2 3.1l0.2 -3.4l0.2 1.3l0.2 1.2l0.2 0.5l0.2 0.7l0.2 0l0.2 -2l0.2 4.4l0.2 -2.1l0.2 -0.7l0.2 2l0.2 -1.5l0.2 -0.7l0.2 5.6l0.2 -2.9l0.2 -1.3l0.2 1.1l0.2 -8l0.2 5.2l0.2 -0.6l0.2 4.2l0.2 -1.9l0.2 0.5l0.2 -1.7l0.2 4.1l0.2 -0.7l0.2 -0.3l0.2 -1.7l0.2 4.4l0.2 -6.3l0.2 1l0.2 -0.9l0.2 3.6l0.2 -4.3l0.2 0.1l0.2 1.1l0.2 1.2l0.2 -2.1l0.2 1.8l0.2 1l0.2 4.2l0.2 -7.9l0.2 5.4l0.2 -2.4l0.2 0l0.2 4.7l0.2 -5.1l0.2 2.2l0.2 -2l0.2 -2l0.2 1.8l0.2 -0.3l0.2 -2.2l0.2 2.1l0.2 -2.1l0.2 6.7l0.2 -2.5l0.2 -2.7l0.2 0.6l0.2 -2.9l0.2 -1.7l0.2 1.8l0.2 1.3l0.2 -1.4l0.2 1l0.2 0.2l0.2 -0.1l0.2 1.5l0.2 -1.8l0.2 -4.4l0.2 9.2l0.2 -4.1l0.2 2.9l0.2 -4.5l0.2 -1.1l0.2 1l0.2 -1.7l0.2 0.3l0.2 4.5l0.2 0.8l0.2 -1l0.2 -3.7l0.2 5.9l0.2 -5l0.2 2.8l0.2 1.2l0.2 -3.7l0.2 4.1l0.2 -2.7l0.2 -3.7l0.2 4.5l0.2 -3.1l0.2 4.5l0.2 -0.5l0.2 3.4l0.2 -6l0.2 2.1l0.2 1.9l0.2 -3.3l0.2 1.7l0.2 0.9l0.2 -3.6l0.2 2.7l0.2 -1l0.2 -1.8l0.2 -1l0.2 5.7l0.2 -2.2l0.2 2.1l0.2 -2.1l0.2 2.6l0.2 -2.6l0.2 -2l0.2 4.9l0.2 1.7l0.2 -7.1l0.2 4.4l0.2 1.9l0.2 -4.2l0.2 -3.3l0.2 2.3l0.2 0.5l0.2 1.2l0.2 1.3l0.2 -5.1l0.2 1.6l0.2 -3.1l0.2 6.2l0.2 -3.1l0.2 -2.7l0.2 4.1l0.2 3.6l0.2 -4.8l0.2 -0.4l0.2 -0.4l0.2 4.1l0.2 -3.7l0.2 1.5l0.2 -1.2l0.2 3.8l0.2 1l0.2 1.1l0.2 -7.8l0.2 3.7l0.2 0.1l0.2 0.5l0.2 -1.9l0.2 1l0.2 3.4l0.2 1l0.2 -6.1l0.2 3.6l0.2 3.4l0.2 -7.1l0.2 2.8l0.2 1.6l0.2 2.9l0.2 -3.5l0.2 -6.4l0.2 4.9l0.2 1.8l0.2 -3.8l0.2 -0.9l0.2 0.6l0.2 3.4l0.2 -2.7l0.2 -2l0.2 0.7l0.2 1.7l0.2 1.1l0.2 -4.7l0.2 8.7l0.2 -2.1l0.2 -3.7l0.2 5.7l0.2 -5.4l0.2 3.6l0.2 -4.7l0.2 2.8l0.2 0.4l0.2 -4.3l0.2 0.2l0.2 7.1l0.2 -1l0.2 -0.6l0.2 -1.8l0.2 -6.2l0.2 2.8l0.2 2.2l0.2 5.3l0.2 -7.5l0.2 1.7l0.2 -4.1l0.2 5.6l0.2 -5.1l0.2 2.4l0.2 3.4l0.2 2.7l0.2 -5.5l0.2 2.1l0.2 -2.3l0.2 3l0.2 1.2l0.2 -3.5l0.2 1.8l0.2 -0.7l0.2 0.5l0.2 3.8l0.2 -2.6l0.2 -0.2l0.2 -0.1l0.2 3l0.2 -2.9l0.2 -0.7l0.2 -1.3l0.2 1.2l0.2 4l0.2 -3.3l0.2 2.4l0.2 -1l0.2 2.3l0.2 -4.5l0.2 1.8l0.2 -0.4l0.2 3.2l0.2 -3.9l0.2 -0.1l0.2 -1.2l0.2 -0.4l0.2 1.4l0.2 -0.4l0.2 1l0.2 1.4l0.2 -5l0.2 3.6l0.2 0.8l0.2 1.2l0.2 -5.9l0.2 6.7l0.2 1.3l0.2 -11.2l0.2 6.9l0.2 -1.6l0.2 -2.9l0.2 3.1l0.2 2.2l0.2 0.3l0.2 -0.5l0.2 -0.2l0.2 -2.9l0.2 2.1l0.2 -7l0.2 11.2l0.2 -2.2l0.2 -1.8l0.2 0.1l0.2 -2.1l0.2 -2.1l0.2 -1.5l0.2 -2.3l0.2 6.7l0.2 3.9l0.2 -9.9l0.2 3.3l0.2 3.2l0.2 0.7l0.2 -2.9l0.2 0.4l0.2 -4.4l0.2 6.2l0.2 -5l0.2 2.9l0.2 4.5l0.2 -5.3l0.2 8.9l0.2 -4.4l0.2 -2.4l0.2 4.1l0.2 -6.7l0.2 4.6l0.2 -2.1l0.2 -1.6l0.2 3.8l0.2 -1.2l0.2 5.7l0.2 -5.7l0.2 2.3l0.2 -4.3l0.2 5.1l0.2 -1l0.2 0.7l0.2 -3.2l0.2 -1.1l0.2 3.2l0.2 -4.2l0.2 6.5l0.2 -2.5l0.2 -2.9l0.2 0l0.2 2.2l0.2 -2l0.2 3.6l0.2 3.1l0.2 -3.9l0.2 3.7l0.2 -6.6l0.2 -2l0.2 4.4l0.2 -6l0.2 3.5l0.2 3.8l0.2 -1.1l0.2 -5.5l0.2 6.4l0.2 -4.4l0.2 3l0.2 1.3l0.2 -2.7l0.2 -0.7l0.2 2.1l0.2 -2.1l0.2 0.8l0.2 -4.7l0.2 3.2l0.2 -0.2l0.2 3.9l0.2 -3.4l0.2 1.6l0.2 -3.2l0.2 -0.4l0.2 -1.9l0.2 1.5l0.2 1.6l0.2 -1.9l0.2 6.4l0.2 -3.1l0.2 -3l0.2 4.6l0.2 -5l0.2 1l0.2 5.5l0.2 2.3l0.2 -5.6l0.2 3.5l0.2 -1.3l0.2 1l0.2 -2.2l0.2 0.1l0.2 -2.8l0.2 2.2l0.2 1.8l0.2 -2.1l0.2 1l0.2 4.4l0.2 -6.7l0.2 5l0.2 -2l0.2 2.4l0.2 0.7l0.2 -5.8l0.2 6.9l0.2 -4.3l0.2 -2.3l0.2 1l0.2 -2l0.2 3.8l0.2 -2.5l0.2 3.7l0.2 -2.9l0.2 -4.4l0.2 6.7l0.2 -2.3l0.2 2.9l0.2 1.7l0.2 -6.3l0.2 1.9l0.2 2.7l0.2 -8l0.2 5.3l0.2 -1.1l0.2 2.5l0.2 -3.2l0.2 5.6l0.2 -4.6l0.2 4.7l0.2 -5.8l0.2 2l0.2 -3.2l0.2 6.4l0.2 -5.6l0.2 4.1l0.2 -2.7l0.2 0.9l0.2 -0.2l0.2 -4.1l0.2 -0.1l0.2 4.3l0.2 -3.8l0.2 1.1l0.2 3.5l0.2 0.6l0.2 -4.7l0.2 3.9l0.2 2.9l0.2 -1.6l0.2 -1.3l0.2 -0.3l0.2 2.2l0.2 -3.8l0.2 3.7l0.2 2.1l0.2 -2.1l0.2 -3.7l0.2 -1.9l0.2 8.9l0.2 -3.3l0.2 -2.3l0.2 5.1l0.2 -3.5l0.2 1.6l0.2 -0.3l0.2 -5.2l0.2 3.3l0.2 -1.8l0.2 3l0.2 0.4l0.2 -0.9l0.2 -1.6l0.2 -0.1l0.2 0.9l0.2 1.3l0.2 -2.3l0.2 1.5l0.2 -2.5l0.2 3.5l0.2 1.5l0.2 -0.6l0.2 -5.1l0.2 1.2l0.2 -1.2l0.2 5.4l0.2 -3.1l0.2 0l0.2 1.2l0.2 1.2l0.2 1.4l0.2 -3.5l0.2 2.7l0.2 -4.5l0.2 -3.9l0.2 5.9l0.2 -1.1l0.2 -4l0.2 4.4l0.2 -5.7l0.2 6.3l0.2 -4.6l0.2 4.4l0.2 -0.2l0.2 0.6l0.2 -7.1l0.2 6.6l0.2 -0.7l0.2 -0.2l0.2 2.2l0.2 -3.7l0.2 -1l0.2 7.7l0.2 0.1l0.2 -3.7l0.2 -0.9l0.2 -3.4l0.2 1.6l0.2 -3.6l0.2 2.4l0.2 4.2l0.2 3.4l0.2 -1.1l0.2 -7.4l0.2 6.7l0.2 -2.4l0.2 -1.7l0.2 2.6l0.2 2.4l0.2 -1l0.2 -6.7l0.2 3.8l0.2 1.9l0.2 -3.1l0.2 4.5l0.2 -6.7l0.2 9.7l0.2 -5.2l0.2 -0.4l0.2 1.8l0.2 0l0.2 -2.1l0.2 3l0.2 -1.2l0.2 -2.5l0.2 -3.4l0.2 5.4l0.2 -3.9l0.2 0.7l0.2 2.8l0.2 -2.1l0.2 3.6l0.2 -1.8l0.2 0l0.2 1.9l0.2 -2l0.2 -0.5l0.2 -0.6l0.2 2.2l0.2 -5.6l0.2 4.8l0.2 -4l0.2 6.5l0.2 -0.2l0.2 -5.2l0.2 -1.3l0.2 1.4l0.2 1.1l0.2 1.6l0.2 -1.2l0.2 0.9l0.2 -2.6l0.2 3l0.2 -1.4l0.2 0.7l0.2 -2.4l0.2 2.9l0.2 0.4l0.2 -1.2l0.2 -0.1l0.2 0l0.2 1l0.2 0.9l0.2 -2.3l0.2 2l0.2 -2.3l0.2 1.2l0.2 1.3l0.2 -1.4l0.2 3l0.2 -1.3l0.2 -0.3l0.2 -3.4l0.2 5.2l0.2 -2.3l0.2 -3.3l0.2 3.8l0.2 2.2l0.2 -5.2l0.2 0.7l0.2 -0.2l0.2 3.1l0.2 -2l0.2 0.1l0.2 -3.7l0.2 3.5l0.2 4.5l0.2 -6l0.2 4.8l0.2 -2.9l0.2 1.9l0.2 -4.4l0.2 1.9l0.2 1.2l0.2 2.3l0.2 -0.7l0.2 -1.7l0.2 -0.8l0.2 -0.4l0.2 0.7l0.2 -1.5l0.2 1.1l0.2 1.1l0.2 0.9l0.2 -2.3l0.2 5.7l0.2 -5.7l0.2 -2.2l0.2 -1.4l0.2 3.1l0.2 3.2l0.2 -4l0.2 4.3l0.2 -3.9l0.2 -1l0.2 -0.2l0.2 2l0.2 -0.5l0.2 0.1l0.2 4.9l0.2 -4.6l0.2 -4.3l0.2 -1.7l0.2 4.2l0.2 -0.8l0.2 3.9l0.2 -3.8l0.2 5.3l0.2 0.2l0.2 -1.6l0.2 -1l0.2 1l0.2 1.4l0.2 -6.1l0.2 1.9l0.2 3.2l0.2 4l0.2 -1.6l0.2 1.1l0.2 -4.9l0.2 0l0.2 -2.4l0.2 0.1l0.2 3.6l0.2 -2.3l0.2 0.2l0.2 1.3l0.2 -3.4l0.2 3l0.2 3l0.2 -0.1l0.2 -6.1l0.2 2.9l0.2 3.1l0.2 -2.5l0.2 0.9l0.2 -2.4l0.2 4.5l0.2 -5.5l0.2 3.3l0.2 -6.8l0.2 4.5l0.2 -1.4l0.2 5l0.2 2.1l0.2 -4l0.2 -1.2l0.2 -2l0.2 5.4l0.2 -7.1l0.2 4.7l0.2 0l0.2 -2.5l0.2 3.8l0.2 -3.4l0.2 2.5l0.2 -5l0.2 1.5l0.2 -1.4l0.2 1.3l0.2 3.5l0.2 -0.8l0.2 -4.6l0.2 3.3l0.2 1.7l0.2 1.1l0.2 -1.9l0.2 0.8l0.2 -3.4l0.2 6l0.2 -5.3l0.2 2l0.2 -0.7l0.2 -2.4l0.2 6.2l0.2 -6.1l0.2 2.2l0.2 3.6l0.2 -0.4l0.2 -3.8l0.2 1.8l0.2 1.5l0.2 -0.9l0.2 -0.6l0.2 -2.1l0.2 3.7l0.2 -3l0.2 3.1l0.2 -3.1l0.2 0.7l0.2 -4.2l0.2 5.1l0.2 -0.5l0.2 3.3l0.2 -3.3l0.2 7.2l0.2 -7.9l0.2 2.3l0.2 -1.1l0.2 0.1l0.2 -0.4l0.2 0.8l0.2 1.3l0.2 -1.5l0.2 -1.1l0.2 -0.3l0.2 -0.9l0.2 5l0.2 -2.4l0.2 4l0.2 -1.3l0.2 -5.5l0.2 1.9l0.2 -2l0.2 2.6l0.2 -1.7l0.2 0.8l0.2 0.8l0.2 -1.9l0.2 -0.3l0.2 -0.2l0.2 1.3l0.2 3.1l0.2 -7.2l0.2 5.9l0.2 -2.8l0.2 7.5l0.2 -5.2l0.2 0.9l0.2 -1.7l0.2 -1.8l0.2 2.6l0.2 -0.9l0.2 1.3l0.2 -2.4l0.2 1.5l0.2 0l0.2 -3.4l0.2 0.8l0.2 4.9l0.2 -3.8l0.2 -4.2l0.2 5l0.2 -1.4l0.2 2l0.2 -1.4l0.2 3.9l0.2 -1.7l0.2 -1l0.2 0.7l0.2 -0.9l0.2 -0.1l0.2 -1.2l0.2 3.3l0.2 -0.3l0.2 -1l0.2 -4.4l0.2 3.8l0.2 0l0.2 -0.6l0.2 1.9l0.2 -1.8l0.2 3.8l0.2 0.4l0.2 0.2l0.2 0.2l0.2 -0.8l0.2 1.3l0.2 -4.5l0.2 -0.6l0.2 3.2l0.2 -0.6l0.2 1.1l0.2 -2.6l0.2 0.3l0.2 -0.4l0.2 0.5l0.2 -3.3l0.2 -1.5l0.2 4.9l0.2 0l0.2 3.6l0.2 -7.5l0.2 4.5l0.2 -2.4l0.2 3.4l0.2 -2.1l0.2 -0.1l0.2 2.9l0.2 -2.1l0.2 -0.2l0.2 -0.6l0.2 -0.2l0.2 -4.5l0.2 6.7l0.2 -1.1l0.2 2.8l0.2 -1.7l0.2 -0.1l0.2 -3.3l0.2 0.9l0.2 1.1l0.2 -1.7l0.2 -1.3l0.2 2.1l0.2 -3.2l0.2 -0.6l0.2 2.6l0.2 4.5l0.2 -5.4l0.2 -1.2l0.2 -0.3l0.2 2.2l0.2 0.9l0.2 -1.5l0.2 -1.2l0.2 4l0.2 -3.3l0.2 -1.2l0.2 -2l0.2 0.8l0.2 3.7l0.2 2.8l0.2 2.7l0.2 -2.4l0.2 -0.3l0.2 -1.2l0.2 0.2l0.2 0.2l0.2 -2.7l0.2 0.8l0.2 5.1l0.2 -1.7l0.2 -2.5l0.2 0.4l0.2 2.9l0.2 -2.2l0.2 2.3l0.2 0.2l0.2 -5.8l0.2 4.6l0.2 -5.1l0.2 2.1l0.2 4.1l0.2 -1.9l0.2 -5l0.2 2.9l0.2 -2l0.2 6.2l0.2 -0.6l0.2 -3.6l0.2 -2.4l0.2 6.1l0.2 -2.8l0.2 0.8l0.2 -3.9l0.2 0.4l0.2 5.7l0.2 -2.8l0.2 -0.6l0.2 2.2l0.2 -3.3l0.2 0.5l0.2 3.4l0.2 -1.5l0.2 0.4l0.2 0.7l0.2 0.4l0.2 -0.2l0.2 -2.8l0.2 5.2l0.2 -4.2l0.2 -3.4l0.2 0l0.2 4.3l0.2 -2.1l0.2 -1.2l0.2 5.1l0.2 -8l0.2 2.8l0.2 4.3l0.2 -0.9l0.2 -2.6l0.2 -2.8l0.2 2.6l0.2 1.1l0.2 -2l0.2 2.9l0.2 -2.3l0.2 0.1l0.2 1.7l0.2 2.3l0.2 -3.9l0.2 0.3l0.2 -1.7l0.2 6.6l0.2 -3.1l0.2 -4.5l0.2 6.3l0.2 -1.5l0.2 5.2l0.2 -7.2l0.2 3.3l0.2 -2.5l0.2 0.4l0.2 -0.8l0.2 -0.1l0.2 0.7l0.2 2.1l0.2 -3.4l0.2 -2.1l0.2 2.6l0.2 3.7l0.2 -6.6l0.2 3.8l0.2 3.6l0.2 -4.4l0.2 -1.9l0.2 0.3l0.2 4.3l0.2 -1.9l0.2 2.7l0.2 -0.3l0.2 -1.7l0.2 2.8l0.2 -0.2l0.2 -2.9l0.2 4.2l0.2 -4l0.2 -3.6l0.2 4.4l0.2 1.5l0.2 -2.7l0.2 -1.5l0.2 3.3l0.2 -0.6l0.2 -1.4l0.2 1.6l0.2 0.1l0.2 -4.9l0.2 -2.2l0.2 7.3l0.2 -3.9l0.2 1.2l0.2 -2l0.2 -0.7l0.2 1.4l0.2 0.2l0.2 -1.4l0.2 3.1l0.2 -0.8l0.2 -2.6l0.2 0.8l0.2 0l0.2 3.4l0.2 -1.3l0.2 1.5l0.2 0l0.2 -1.6l0.2 1.3l0.2 -0.6l0.2 1.1l0.2 1.3l0.2 -0.3l0.2 -2l0.2 2.5l0.2 -0.8l0.2 -1.4l0.2 -0.7l0.2 -1.1l0.2 2.3l0.2 -0.3l0.2 -3.2l0.2 -0.3l0.2 -1.7l0.2 1l0.2 1.5l0.2 -0.9l0.2 2.1l0.2 -2.5l0.2 5.3l0.2 0.3l0.2 -5.5l0.2 -1.1l0.2 3l0.2 3.4l0.2 -0.8l0.2 -2.3l0.2 0.3l0.2 2.3l0.2 -4l0.2 2.3l0.2 -5.9l0.2 7.7l0.2 -1.2l0.2 -1l0.2 4l0.2 -2.9l0.2 3.7l0.2 -2.5l0.2 -1.4l0.2 0.5l0.2 1.4l0.2 0.5l0.2 3.3l0.2 -3.4l0.2 -0.5l0.2 1.6l0.2 -3.3l0.2 -1.8l0.2 4.6l0.2 -7.2l0.2 3.6l0.2 -1.5l0.2 4.7l0.2 -4.2l0.2 -2.2l0.2 1.7l0.2 -1l0.2 4.2l0.2 1l0.2 -0.1l0.2 1.3l0.2 -2.8l0.2 0.5l0.2 0.8l0.2 0.3l0.2 -4.4l0.2 4.6l0.2 -2.7l0.2 0.9l0.2 -0.6l0.2 1.5l0.2 2.7l0.2 -5.6l0.2 -0.4l0.2 0.1l0.2 2.7l0.2 -1.1l0.2 0l0.2 -1.2l0.2 0l0.2 -0.3l0.2 3.2l0.2 -1.6l0.2 -0.8l0.2 -1.8l0.2 0.8l0.2 -0.4l0.2 -0.5l0.2 0.2l0.2 -0.2l0.2 1.5l0.2 -0.9l0.2 -0.2l0.2 2.6l0.2 -2.6l0.2 0.3l0.2 2.2l0.2 1.5l0.2 -2.9l0.2 2.3l0.2 -3l0.2 0.8l0.2 1.5l0.2 -0.4l0.2 0.3l0.2 3.5l0.2 -3.8l0.2 2l0.2 0.3l0.2 -3.7l0.2 0.6l0.2 1.6l0.2 2.1l0.2 -0.5l0.2 2.8l0.2 -3.9l0.2 -2.1l0.2 4.4l0.2 -2.4l0.2 1.3l0.2 -2.1l0.2 2.7l0.2 0.1l0.2 -4.5l0.2 3l0.2 0.2l0.2 0.2l0.2 -0.6l0.2 -4.9l0.2 5l0.2 -1.7l0.2 -2.8l0.2 3.5l0.2 -3.6l0.2 3.2l0.2 -3.4l0.2 0.3l0.2 2.3l0.2 5l0.2 -8.5l0.2 3.3l0.2 0.9l0.2 -0.5l0.2 -3.1l0.2 3.4l0.2 -2.1l0.2 0.9l0.2 2.6l0.2 -5.2l0.2 2.2l0.2 0.2l0.2 4.7l0.2 -3l0.2 -0.5l0.2 -0.7l0.2 -1.1l0.2 0.7l0.2 -2.6l0.2 3.6l0.2 1.9l0.2 -2.1l0.2 2.2l0.2 -2l0.2 -1.6l0.2 2.1l0.2 -5.7l0.2 5.5l0.2 -1.5l0.2 0.5l0.2 -2.6l0.2 3.5l0.2 0.9l0.2 0.1l0.2 0.4l0.2 -0.1l0.2 -0.6l0.2 0.4l0.2 0.4l0.2 -2.6l0.2 2.6l0.2 -4.2l0.2 2.2l0.2 -0.5l0.2 0.3l0.2 2.3l0.2 1.1l0.2 -3.8l0.2 0.4l0.2 3.1l0.2 -0.3l0.2 -3.2l0.2 -3l0.2 2.4l0.2 3.7l0.2 -2l0.2 -1.7l0.2 8.1l0.2 -4.9l0.2 1.4l0.2 -3.7l0.2 3l0.2 3.3l0.2 -0.1l0.2 -3.4l0.2 -2.3l0.2 4.5l0.2 -4.7l0.2 0.8l0.2 -0.6l0.2 1.9l0.2 1.5l0.2 -5.8l0.2 5l0.2 -5.3l0.2 2.5l0.2 1.6l0.2 -1.3l0.2 0.5l0.2 -1.6l0.2 1.2l0.2 -1.4l0.2 2l0.2 -3.6l0.2 0.8l0.2 2.4l0.2 -1.4l0.2 2.8l0.2 -0.7l0.2 -4.5l0.2 -1.1l0.2 7.6l0.2 -4.2l0.2 1.6l0.2 -2.2l0.2 2l0.2 1.9l0.2 -1.5l0.2 -1.8l0.2 -0.8l0.2 1.1l0.2 1.2l0.2 1.4l0.2 0.8l0.2 -3.9l0.2 5.3l0.2 -7.4l0.2 6.4l0.2 -3.6l0.2 4.9l0.2 -4l0.2 -1.1l0.2 2.8l0.2 -1.4l0.2 -2.8l0.2 0.5l0.2 3.3l0.2 2l0.2 -5.1l0.2 3.3l0.2 -2.3l0.2 0.3l0.2 1.3l0.2 -2l0.2 -0.1l0.2 7.4l0.2 -6.2l0.2 1l0.2 -0.8l0.2 0.5l0.2 0.1l0.2 3.8l0.2 -5.5l0.2 2.7l0.2 2.9l0.2 -4.7l0.2 -1l0.2 6.3l0.2 -6.3l0.2 1.3l0.2 0.3l0.2 0.3l0.2 -3.7l0.2 -0.4l0.2 2.9l0.2 -1.7l0.2 -0.1l0.2 1l0.2 2.6l0.2 -3.2l0.2 -0.1l0.2 -2.1l0.2 4.2l0.2 -4.4l0.2 5.5l0.2 -1.6l0.2 1.5l0.2 -3.1l0.2 1.8l0.2 3.7l0.2 -5.9l0.2 2.2l0.2 4l0.2 -4.2l0.2 0.2l0.2 0.1l0.2 2.4l0.2 -0.6l0.2 -5.4l0.2 7.2l0.2 0.5l0.2 0.2l0.2 -6.3l0.2 2.8l0.2 0.4l0.2 -3l0.2 2.6l0.2 -0.1l0.2 -4l0.2 3l0.2 2.3l0.2 -1.8l0.2 -0.1l0.2 -1.1l0.2 3.9l0.2 -1.7l0.2 5.7l0.2 -6.1l0.2 -1.1l0.2 0.2l0.2 5.3l0.2 -7.6l0.2 -1.6l0.2 4.2l0.2 -0.7l0.2 7l0.2 -1.9l0.2 -2.4l0.2 2.2l0.2 -4.9l0.2 3.3l0.2 1.2l0.2 -2.4l0.2 1.1l0.2 -1.9l0.2 -4l0.2 -1.6l0.2 2.6l0.2 4.2l0.2 -3l0.2 -0.9l0.2 3.2l0.2 0.3l0.2 -1l0.2 -0.3l0.2 -0.1l0.2 -3.3l0.2 4l0.2 -2.1l0.2 -1.5l0.2 0.6l0.2 3.4l0.2 -4.3l0.2 1.1l0.2 4.7l0.2 -11l0.2 6.6l0.2 -0.3l0.2 1l0.2 0.4l0.2 0.4l0.2 -2.3l0.2 2.9l0.2 -2.4l0.2 2.7l0.2 -0.4l0.2 3.5l0.2 -0.1l0.2 -7l0.2 6l0.2 0.3l0.2 -2.7l0.2 1.7l0.2 -0.2l0.2 -0.3l0.2 -2l0.2 1.4l0.2 6.6l0.2 -6.8l0.2 0.5l0.2 2.7l0.2 -2.9l0.2 -2.8l0.2 3.4l0.2 -0.1l0.2 -4.8l0.2 5.9l0.2 -1l0.2 0.4l0.2 -3.5l0.2 -0.3l0.2 6.6l0.2 -2.8l0.2 -1.6l0.2 2.3l0.2 -3.1l0.2 4.4l0.2 -4.4l0.2 0.5l0.2 6.4l0.2 -6.9l0.2 -0.3l0.2 0l0.2 -5.4l0.2 1.7l0.2 -0.1l0.2 2.9l0.2 0.1l0.2 0.5l0.2 1.5l0.2 0.6l0.2 -2.8l0.2 3.5l0.2 -4.4l0.2 -1.5l0.2 3.7l0.2 -2.8l0.2 0.5l0.2 0.5l0.2 6.5l0.2 -3.2l0.2 -2.4l0.2 0.5l0.2 2.7l0.2 -1.3l0.2 -2.5l0.2 4.4l0.2 -0.7l0.2 -1.3l0.2 2l0.2 -3.3l0.2 -2.2l0.2 6.1l0.2 -4.1l0.2 0.3l0.2 0.8l0.2 1.7l0.2 -5.4l0.2 3.4l0.2 -1.2l0.2 4.8l0.2 -3.6l0.2 -1.3l0.2 5.7l0.2 -3l0.2 -2.2l0.2 0.6l0.2 4.5l0.2 -2.5l0.2 2l0.2 -0.9l0.2 0.3l0.2 -1.4l0.2 0.8l0.2 -0.3l0.2 0.2l0.2 1.2l0.2 -1l0.2 1.1l0.2 -3.3l0.2 -0.5l0.2 3.1l0.2 -7.9l0.2 5l0.2 -1.1l0.2 0.8l0.2 -0.8l0.2 1.1l0.2 -1.2l0.2 -1.3l0.2 1.1l0.2 2.1l0.2 -2.5l0.2 2.6l0.2 3.7l0.2 -3.1l0.2 -3.3l0.2 1.9l0.2 -0.7l0.2 -0.3l0.2 0.9l0.2 1l0.2 -1.6l0.2 1.3l0.2 1.2l0.2 -3.3l0.2 6.2l0.2 -4.8l0.2 -1.4l0.2 -2.2l0.2 2l0.2 0.7l0.2 -3l0.2 5.8l0.2 -3.4l0.2 0.8l0.2 -2.2l0.2 1.6l0.2 2.8l0.2 -0.1l0.2 -2.7l0.2 2.8l0.2 -5.4l0.2 2.5l0.2 1.2l0.2 0.5l0.2 3.1l0.2 -1.7l0.2 -1.2l0.2 -2.1l0.2 -0.2l0.2 3.6l0.2 0.8l0.2 1.2l0.2 -4.5l0.2 -1l0.2 2.2l0.2 3.8l0.2 -4.3l0.2 0.7l0.2 -1.5l0.2 -0.1l0.2 1.4l0.2 0l0.2 2.2l0.2 -5.3l0.2 0.7l0.2 -2.4l0.2 4l0.2 -0.2l0.2 1.1l0.2 -2.2l0.2 -1l0.2 2.9l0.2 -4l0.2 1.1l0.2 5.7l0.2 -3l0.2 -2l0.2 2.6l0.2 -3.1l0.2 6l0.2 -5.6l0.2 3.6l0.2 -1.8l0.2 -1.6l0.2 -0.3l0.2 2.5l0.2 1.8l0.2 -2.3l0.2 0.7l0.2 0.2l0.2 3.1l0.2 -3.5l0.2 -0.1l0.2 -4.5l0.2 4.5l0.2 0l0.2 2.8l0.2 -8.9l0.2 -0.1l0.2 5.8l0.2 -4l0.2 4.6l0.2 -2.5l0.2 1.7l0.2 -0.3l0.2 0l0.2 1.2l0.2 0.4l0.2 -1.6l0.2 3.3l0.2 -2.1l0.2 -0.7l0.2 2.5l0.2 -2.8l0.2 1.1l0.2 1.9l0.2 -0.8l0.2 4.3l0.2 -2.1l0.2 -4.3l0.2 0.8l0.2 -3.9l0.2 4.2l0.2 -3.1l0.2 -2.1l0.2 7.6l0.2 -2.1l0.2 1.1l0.2 -3.5l0.2 2.3l0.2 -1.8l0.2 -0.6l0.2 -2.5l0.2 2.3l0.2 0.3l0.2 -0.6l0.2 -0.4l0.2 1.6l0.2 -3.4l0.2 6.3l0.2 -1l0.2 -4.6l0.2 4.5l0.2 -2.6l0.2 -0.7l0.2 0.4l0.2 1.8l0.2 1.2l0.2 -3.8l0.2 3.4l0.2 0.1l0.2 -2.2l0.2 0.7l0.2 0.7l0.2 -4.1l0.2 2.5l0.2 0.8l0.2 2.8l0.2 -5.6l0.2 3.2l0.2 -1.8l0.2 0.8l0.2 2.6l0.2 -1.8l0.2 -0.5l0.2 3.8l0.2 -4.1l0.2 4.2l0.2 -6l0.2 6.3l0.2 -3l0.2 0.1l0.2 0.4l0.2 1.7l0.2 -2.3l0.2 2.5l0.2 -3.9l0.2 1l0.2 1.5l0.2 -0.1l0.2 0.2l0.2 1.4l0.2 2.3l0.2 -1.8l0.2 -1.3l0.2 -0.2l0.2 1.4l0.2 -2.3l0.2 -0.5l0.2 1.4l0.2 -2.8l0.2 0.3l0.2 1.8l0.2 -0.2l0.2 -0.6l0.2 0.1l0.2 1.7l0.2 -2.7l0.2 -0.5l0.2 -1l0.2 0.2l0.2 -5l0.2 7.1l0.2 -0.4l0.2 -4.2l0.2 4.3l0.2 1.5l0.2 -1.1l0.2 -0.8l0.2 1.5l0.2 -4.8l0.2 2.2l0.2 1.5l0.2 -0.3l0.2 0.4l0.2 -1.4l0.2 1.1l0.2 -1.9l0.2 -0.1l0.2 1l0.2 0.9l0.2 -3.4l0.2 4.5l0.2 -3.5l0.2 3.4l0.2 -2l0.2 0.6l0.2 0l0.2 -2.2l0.2 4.2l0.2 -2.8l0.2 1.6l0.2 1.9l0.2 2.2l0.2 -3.9l0.2 1.7l0.2 -0.3l0.2 -1.7l0.2 0.9l0.2 -1.2l0.2 0.9l0.2 1.7l0.2 -0.6l0.2 1.3l0.2 -2.9l0.2 -1.5l0.2 3.2l0.2 1.5l0.2 -2l0.2 -1.5l0.2 3.7l0.2 -3.6l0.2 0.3l0.2 -4l0.2 4.9l0.2 -3.1l0.2 1.7l0.2 -0.3l0.2 6.2l0.2 -4.3l0.2 -4.7l0.2 5.6l0.2 -1.1l0.2 2.3l0.2 -0.2l0.2 -3.2l0.2 0l0.2 -0.6l0.2 -0.3l0.2 1.8l0.2 1.4l0.2 -4.7l0.2 1.7l0.2 4.2l0.2 -4.7l0.2 0.8l0.2 -1.1l0.2 1.9l0.2 -0.5l0.2 -2.4l0.2 2.2l0.2 -1.3l0.2 6.3l0.2 -8.9l0.2 4.3l0.2 -0.9l0.2 0.4l0.2 0.5l0.2 -2.6l0.2 -0.6l0.2 2.6l0.2 0.7l0.2 -0.9l0.2 -1.3l0.2 -1.3l0.2 2.9l0.2 -0.6l0.2 0.9l0.2 -1.9l0.2 3.8l0.2 -4.8l0.2 2.5l0.2 -1.2l0.2 2.4l0.2 0.8l0.2 -0.5l0.2 -1.1l0.2 1.9l0.2 -0.9l0.2 -1.6l0.2 -1.1l0.2 4.4l0.2 -1.4l0.2 0.9l0.2 0.4l0.2 1.2l0.2 0.7l0.2 -4l0.2 4.3l0.2 -5.6l0.2 2.9l0.2 -2.3l0.2 6.4l0.2 -6.3l0.2 -0.3l0.2 3.8l0.2 -2.3l0.2 0.1l0.2 -0.2l0.2 -0.5l0.2 -1.1l0.2 1.1l0.2 -2.1l0.2 2.2l0.2 0.9l0.2 -3.3l0.2 0.4l0.2 4.6l0.2 -2.9l0.2 -2l0.2 0.6l0.2 3.4l0.2 -2l0.2 1.9l0.2 -0.7l0.2 -1.7l0.2 2l0.2 -4.5l0.2 6.7l0.2 -2.7l0.2 -1.4l0.2 0.7l0.2 -3.2l0.2 0.4l0.2 -0.9l0.2 3.3l0.2 0.7l0.2 -3.7l0.2 5.5l0.2 -2.5l0.2 -2.5l0.2 0.1l0.2 -0.7l0.2 0.9l0.2 1l0.2 2.1l0.2 -0.7l0.2 0.8l0.2 -2.8l0.2 0.9l0.2 0.5l0.2 -1.5l0.2 -0.2l0.2 3.8l0.2 -3l0.2 6.2l0.2 -5.1l0.2 1l0.2 2.7l0.2 -3.2l0.2 1.2l0.2 1.8l0.2 -2.2l0.2 1l0.2 -1.8l0.2 4.2l0.2 -7l0.2 5.5l0.2 -3l0.2 1.3l0.2 -4.4l0.2 1.6l0.2 1.2l0.2 -0.7l0.2 2.9l0.2 -4l0.2 4.2l0.2 0.9l0.2 -4.1l0.2 1.5l0.2 0.7l0.2 0.2l0.2 -3.3l0.2 5.2l0.2 -6.8l0.2 2.3l0.2 4l0.2 -0.1l0.2 -1.5l0.2 0l0.2 -0.1l0.2 1.7l0.2 -0.8l0.2 -0.5l0.2 -1.3l0.2 -0.1l0.2 -1.3l0.2 1l0.2 -4.4l0.2 7.2l0.2 -4.3l0.2 -1l0.2 1.8l0.2 1.5l0.2 -2.3l0.2 2.3l0.2 0.7l0.2 -1.3l0.2 -1.7l0.2 4.7l0.2 -7.5l0.2 1.1l0.2 2.4l0.2 -2.4l0.2 -1.2l0.2 2.4l0.2 3.2l0.2 -0.6l0.2 -0.6l0.2 -3.7l0.2 0.4l0.2 2.2l0.2 2.8l0.2 -1.4l0.2 0.8l0.2 -0.9l0.2 5.4l0.2 -3.7l0.2 5l0.2 -1.7l0.2 -4.6l0.2 2.1l0.2 1.9l0.2 -1.6l0.2 -1.1l0.2 2.8l0.2 1.6l0.2 -8.1l0.2 -1.4l0.2 4.6l0.2 -3.7l0.2 3.4l0.2 -4.2l0.2 4.5l0.2 -2.1l0.2 1.1l0.2 -0.2l0.2 -3.2l0.2 7l0.2 -0.3l0.2 -3l0.2 -2.5l0.2 5.9l0.2 -3.1l0.2 3.9l0.2 -6.9l0.2 6l0.2 -3.3l0.2 -0.9l0.2 -2l0.2 3.1l0.2 -2.3l0.2 0l0.2 4.2l0.2 -1.9l0.2 -0.2l0.2 0.2l0.2 -2.8l0.2 2.1l0.2 -2l0.2 5.4l0.2 -5.7l0.2 3.9l0.2 -3.2l0.2 1.6l0.2 -0.2l0.2 -1.7l0.2 0.2l0.2 -2.1l0.2 4.8l0.2 0.4l0.2 -1.3l0.2 0.4l0.2 -2.4l0.2 -0.5l0.2 -3.3l0.2 3.8l0.2 1.3l0.2 0.8l0.2 -0.9l0.2 0.4l0.2 -1.3l0.2 1l0.2 0.3l0.2 0.8l0.2 3.3l0.2 -4.9l0.2 2.3l0.2 -2.6l0.2 8.4l0.2 -5.6l0.2 -1l0.2 0.8l0.2 -1l0.2 5.2l0.2 -5.9l0.2 3.3l0.2 -3.2l0.2 0.5l0.2 1.2l0.2 1.7l0.2 -6.1l0.2 6.6l0.2 1l0.2 -5.6l0.2 -0.2l0.2 3.8l0.2 -4.3l0.2 0.4l0.2 -1l0.2 3.1l0.2 1.8l0.2 -1.8l0.2 -0.4l0.2 0.9l0.2 0.4l0.2 -2.8l0.2 2.3l0.2 2.5l0.2 -3.6l0.2 -1.2l0.2 -2.6l0.2 7.5l0.2 -2.6l0.2 -6.6l0.2 7.7l0.2 -1.2l0.2 -0.4l0.2 -0.9l0.2 1l0.2 -6l0.2 7.7l0.2 0.6l0.2 -0.4l0.2 -4.8l0.2 2.3l0.2 -0.2l0.2 -2.3l0.2 0.9l0.2 0.9l0.2 -0.5l0.2 4.7l0.2 -5.4l0.2 6.7l0.2 -3.1l0.2 -0.2l0.2 -2.4l0.2 0.4l0.2 3.2l0.2 -2l0.2 -3.8l0.2 0.9l0.2 2.5l0.2 -2.6l0.2 1.9l0.2 1.7l0.2 -1.9l0.2 -2.6l0.2 2.5l0.2 1.9l0.2 -2.1l0.2 -1l0.2 -2.1l0.2 0.9l0.2 1.1l0.2 -1.8l0.2 3.1l0.2 1.5l0.2 -3.3l0.2 1.9l0.2 -2.1l0.2 2.7l0.2 1.9l0.2 1.7l0.2 1.3l0.2 -2.3l0.2 -4.6l0.2 2.4l0.2 2l0.2 0.7l0.2 -2.9l0.2 3.1l0.2 -2.1l0.2 4.5l0.2 -3l0.2 -3.1l0.2 4.5l0.2 -2.4l0.2 -0.2l0.2 -2.6l0.2 4.4l0.2 0.3l0.2 -1.7l0.2 -4.5l0.2 6.4l0.2 -3.7l0.2 0.9l0.2 -2.5l0.2 0.4l0.2 1.7l0.2 -1l0.2 -0.4l0.2 1.2l0.2 -4.2l0.2 1l0.2 1.2l0.2 2.1l0.2 3.4l0.2 -5.4l0.2 2.3l0.2 2.6l0.2 -2.5l0.2 0.4l0.2 3.2l0.2 -0.5l0.2 -3.7l0.2 1.2l0.2 -2.6l0.2 1l0.2 -4.3l0.2 -0.8l0.2 5.3l0.2 -0.2l0.2 -0.2l0.2 -3l0.2 4.4l0.2 -0.8l0.2 -4.2l0.2 0.6l0.2 6.8l0.2 -4.7l0.2 0.2l0.2 0.6l0.2 -2.2l0.2 -2.5l0.2 0.3l0.2 5.7l0.2 -0.9l0.2 1.6l0.2 -1.2l0.2 2.7l0.2 -2.2l0.2 4.3l0.2 -5.9l0.2 3.2l0.2 -2.1l0.2 -2l0.2 5.3l0.2 -1.7l0.2 -3.4l0.2 4.2l0.2 -4l0.2 3.5l0.2 1.2l0.2 -4l0.2 3.3l0.2 -1.6l0.2 1.6l0.2 -2.8l0.2 1.4l0.2 -2.7l0.2 1.2l0.2 -0.5l0.2 -0.1l0.2 -1.4l0.2 2.4l0.2 -0.9l0.2 1l0.2 2.1l0.2 -4.9l0.2 3.9l0.2 -0.8l0.2 -0.7l0.2 3.1l0.2 -0.2l0.2 -0.9l0.2 0.1l0.2 -1.3l0.2 1.4l0.2 -1.2l0.2 -2.1l0.2 4.6l0.2 0.5l0.2 -5.3l0.2 2.4l0.2 -0.6l0.2 -1.4l0.2 0.2l0.2 -2.4l0.2 0.9l0.2 -0.4l0.2 5.9l0.2 -4.5l0.2 -2.9l0.2 3l0.2 1.3l0.2 -1.4l0.2 -0.9l0.2 0.7l0.2 1.7l0.2 0.3l0.2 -3.8l0.2 5.8l0.2 1.4l0.2 -3l0.2 0.6l0.2 -0.9l0.2 1l0.2 -1.8l0.2 -1.9l0.2 2.3l0.2 0.1l0.2 -1.2l0.2 3.8l0.2 -0.5l0.2 -0.9l0.2 -0.9l0.2 -0.7l0.2 0.5l0.2 3.2l0.2 -3.9l0.2 0.4l0.2 -0.1l0.2 5.8l0.2 -6.5l0.2 4.7l0.2 -3.8l0.2 1.8l0.2 -2.4l0.2 4.6l0.2 -3.2l0.2 -0.3l0.2 0.2l0.2 1.1l0.2 -2.5l0.2 -0.7l0.2 0.2l0.2 1.7l0.2 4l0.2 -2.5l0.2 3.8l0.2 -4.1l0.2 1.6l0.2 -2.3l0.2 0.2l0.2 0l0.2 -2.9l0.2 2.3l0.2 1.9l0.2 -3l0.2 -1.9l0.2 -0.1l0.2 0.1l0.2 -0.2l0.2 -0.3l0.2 2.1l0.2 -1.1l0.2 4l0.2 0.3l0.2 -3l0.2 0.6l0.2 3.2l0.2 -2.8l0.2 -0.4l0.2 3.7l0.2 -4l0.2 -0.2l0.2 0.7l0.2 1.3l0.2 -0.8l0.2 -3.7l0.2 4.4l0.2 0.9l0.2 -1.4l0.2 1l0.2 -6.2l0.2 3.1l0.2 -1.8l0.2 5l0.2 -12l0.2 12.6l0.2 0.2l0.2 -4.2l0.2 0.9l0.2 1.8l0.2 -5.7l0.2 5.8l0.2 -2l0.2 -3.7l0.2 3.9l0.2 2.2l0.2 -0.5l0.2 2.4l0.2 -5.3l0.2 4.5l0.2 -2.7l0.2 0.1l0.2 -1.8l0.2 1.7l0.2 0.5l0.2 1.8l0.2 5.1l0.2 -6.7l0.2 0.4l0.2 3l0.2 -1.2l0.2 -3.6l0.2 -0.4l0.2 0.1l0.2 2.6l0.2 0.4l0.2 -3.7l0.2 0.3l0.2 -3.5l0.2 4.2l0.2 1.8l0.2 -0.1l0.2 -1.2l0.2 -0.9l0.2 1.8l0.2 -1.7l0.2 -0.2l0.2 3.2l0.2 -1.4l0.2 0l0.2 -2.7l0.2 2.4l0.2 -2.4l0.2 -0.4l0.2 5.7l0.2 -0.6l0.2 -0.5l0.2 -1l0.2 -4l0.2 1.2l0.2 1.2l0.2 2.8l0.2 -4.8l0.2 2.6l0.2 -2.2l0.2 0.2l0.2 -2.7l0.2 2l0.2 2.8l0.2 -1.1l0.2 1.4l0.2 -2.4l0.2 -1l0.2 2.7l0.2 -3.1l0.2 4.4l0.2 -0.2l0.2 -2.2l0.2 -2.2l0.2 1.5l0.2 -2l0.2 3.2l0.2 -2.8l0.2 2.2l0.2 3.1l0.2 -1.1l0.2 0.6l0.2 0.6l0.2 2.7l0.2 -3.6l0.2 -1.2l0.2 2.9l0.2 -0.6l0.2 1.2l0.2 0.4l0.2 -4.4l0.2 3.5l0.2 0.4l0.2 -2.2l0.2 -1.9l0.2 -3.3l0.2 7.1l0.2 -6.2l0.2 3.1l0.2 0.5l0.2 -1.8l0.2 2.4l0.2 0.5l0.2 1.4l0.2 -2.9l0.2 0.7l0.2 0.6l0.2 0.4l0.2 -2.5l0.2 0.8l0.2 2.5l0.2 -2.2l0.2 1l0.2 1l0.2 -0.4l0.2 -0.7l0.2 -0.7l0.2 0.2l0.2 -1l0.2 5.1l0.2 -2.5l0.2 -5.2l0.2 1.8l0.2 -0.3l0.2 2.4l0.2 -3.1l0.2 2.4l0.2 -2.2l0.2 0l0.2 2.2l0.2 -1.2l0.2 -1.9l0.2 7.5l0.2 -7.1l0.2 -0.6l0.2 0.2l0.2 3.2l0.2 -3l0.2 -0.6l0.2 3.8l0.2 -3.8l0.2 1.1l0.2 3.6l0.2 -2.7l0.2 2.4l0.2 -1.9l0.2 0.1l0.2 0.9l0.2 0.7l0.2 1.7l0.2 -6.4l0.2 4l0.2 -0.7l0.2 2.2l0.2 0.1l0.2 0.2l0.2 -1.9l0.2 -0.2l0.2 -0.2l0.2 2.6l0.2 0l0.2 -1.5l0.2 -3.2l0.2 2.4l0.2 -1.9l0.2 -1.4l0.2 1.3l0.2 3l0.2 -2.6l0.2 -1.2l0.2 2.7l0.2 -1.1l0.2 -2.2l0.2 5.3l0.2 -1.1l0.2 -1.5l0.2 2l0.2 -1.3l0.2 2l0.2 5.1l0.2 -6.9l0.2 -0.3l0.2 -1l0.2 3.6l0.2 -2.8l0.2 2.9l0.2 4.7l0.2 -5.9l0.2 -2.9l0.2 3l0.2 -3.9l0.2 3.3l0.2 1.4l0.2 -4.5l0.2 1.4l0.2 -0.9l0.2 -1l0.2 1.4l0.2 -0.4l0.2 0.5l0.2 1.2l0.2 -2.6l0.2 -0.6l0.2 -0.5l0.2 -0.4l0.2 2.1l0.2 1.4l0.2 1.2l0.2 -4.4l0.2 2.1l0.2 2.7l0.2 -1.8l0.2 0.4l0.2 -2.4l0.2 0.1l0.2 0.7l0.2 4.6l0.2 -2.9l0.2 -0.5l0.2 -1.9l0.2 3.7l0.2 2.2l0.2 -5.3l0.2 2.2l0.2 -0.2l0.2 -3.3l0.2 1.5l0.2 2.1l0.2 -2.3l0.2 3.1l0.2 -1l0.2 -1.5l0.2 1.7l0.2 -0.8l0.2 1.2l0.2 0l0.2 -3.3l0.2 2.9l0.2 3.1l0.2 -3.1l0.2 0.7l0.2 4.7l0.2 -4.2l0.2 1.9l0.2 -5.4l0.2 2.4l0.2 1.8l0.2 -2.5l0.2 2.4l0.2 -3.1l0.2 -2.3l0.2 3.2l0.2 1.7l0.2 -1.2l0.2 0.9l0.2 2.5l0.2 -2.5l0.2 1.9l0.2 -5.1l0.2 1.2l0.2 -3.2l0.2 1.9l0.2 2.3l0.2 0.4l0.2 -2.5l0.2 -0.4l0.2 3.2l0.2 -5.1l0.2 0.9l0.2 1.1l0.2 4.3l0.2 -4.1l0.2 0.2l0.2 4.1l0.2 -6l0.2 2.3l0.2 0.3l0.2 -0.8l0.2 2.4l0.2 -0.4l0.2 -2.4l0.2 -4.2l0.2 7.7l0.2 -2.7l0.2 2.4l0.2 0.7l0.2 -1.1l0.2 -0.5l0.2 1.3l0.2 -1.8l0.2 -1.3l0.2 3.6l0.2 3.7l0.2 -7l0.2 2.3l0.2 1.6l0.2 -4.1l0.2 -1l0.2 1.7l0.2 1.8l0.2 -2.4l0.2 -1.6l0.2 0.9l0.2 3.8l0.2 0.2l0.2 -0.8l0.2 1.2l0.2 0l0.2 0.6l0.2 -3.2l0.2 -0.6l0.2 0.3l0.2 0.9l0.2 0.5l0.2 -3.2l0.2 -0.3l0.2 2.6l0.2 3.1l0.2 -2.5l0.2 -1.6l0.2 1.4l0.2 1.9l0.2 -3.5l0.2 3.8l0.2 0.1l0.2 0.3l0.2 -2.5l0.2 -3.2l0.2 2.7l0.2 1.9l0.2 -5.9l0.2 2.8l0.2 2.6l0.2 -5.3l0.2 0.2l0.2 -0.4l0.2 3.2l0.2 -3.3l0.2 -0.6l0.2 6.3l0.2 0.9l0.2 -3.5l0.2 1.2l0.2 2.3l0.2 -4.3l0.2 1.3l0.2 -2.3l0.2 4.5l0.2 0l0.2 -1.4l0.2 -0.4l0.2 0.6l0.2 0.3l0.2 -2.8l0.2 4.1l0.2 -1l0.2 0.9l0.2 -2.5l0.2 1.4l0.2 -3.6l0.2 3.8l0.2 -1l0.2 0.3l0.2 -0.3l0.2 -3l0.2 4.7l0.2 0.2l0.2 5.2l0.2 -10.5l0.2 3.6l0.2 -1.3l0.2 0l0.2 3.3l0.2 -1.9l0.2 -0.2l0.2 -2.4l0.2 2.4l0.2 1.1l0.2 -0.8l0.2 -2.8l0.2 3.9l0.2 -4l0.2 3.5l0.2 -2.1l0.2 1.4l0.2 4.6l0.2 -1.6l0.2 -4.8l0.2 2.4l0.2 0.7l0.2 -4l0.2 1.4l0.2 0.9l0.2 -2.6l0.2 1.6l0.2 3.1l0.2 2.3l0.2 -4.8l0.2 1.3l0.2 -4.2l0.2 4.3l0.2 -2.7l0.2 2.8l0.2 -2.2l0.2 -0.1l0.2 -1.2l0.2 0.9l0.2 0.2l0.2 0.3l0.2 1.3l0.2 1l0.2 -1.5l0.2 -2.2l0.2 1.1l0.2 2l0.2 -3.9l0.2 4.6l0.2 -3.8l0.2 7.7l0.2 -6.7l0.2 0.5l0.2 2.1l0.2 0.9l0.2 -2.9l0.2 4.3l0.2 -3.4l0.2 2.8l0.2 -2.6l0.2 1.1l0.2 -2l0.2 -1.2l0.2 5.5l0.2 -1.6l0.2 -3.3l0.2 2.4l0.2 -3.5l0.2 2.3l0.2 -0.7l0.2 0.3l0.2 -0.1l0.2 1.7l0.2 -1.4l0.2 -0.4l0.2 3l0.2 -3.8l0.2 3.2l0.2 -3.4l0.2 0l0.2 3.3l0.2 -0.3l0.2 -2l0.2 0.1l0.2 0.9l0.2 -1.9l0.2 4l0.2 -3.4l0.2 3.6l0.2 -6.4l0.2 6.3l0.2 -0.5l0.2 -1.6l0.2 -1.5l0.2 2.4l0.2 -0.6l0.2 -2.6l0.2 5.7l0.2 -6.1l0.2 1.4l0.2 -6l0.2 9.5l0.2 -3.3l0.2 -1.1l0.2 0.4l0.2 -5.2l0.2 4.7l0.2 -1.7l0.2 4.4l0.2 1.1l0.2 -3.5l0.2 0.8l0.2 0.9l0.2 2.6l0.2 -2.5l0.2 2.2l0.2 0.7l0.2 -2l0.2 -1.2l0.2 4.7l0.2 -0.7l0.2 -4.4l0.2 0l0.2 -2.6l0.2 2.9l0.2 -3.7l0.2 5.3l0.2 -5.2l0.2 4.6l0.2 3.8l0.2 -3.3l0.2 5.4l0.2 -9.1l0.2 2.9l0.2 0.4l0.2 -2l0.2 1.6l0.2 -0.1l0.2 0l0.2 -3.4l0.2 3.6l0.2 1l0.2 -2.1l0.2 -0.1l0.2 3.8l0.2 -3.5l0.2 4l0.2 -3.9l0.2 0.4l0.2 0.2l0.2 -1.9l0.2 5.6l0.2 -3.2l0.2 -3.3l0.2 -0.6l0.2 0.9l0.2 2.5l0.2 0.5l0.2 -3.1l0.2 0.6l0.2 -0.7l0.2 -2.2l0.2 2.2l0.2 -0.9l0.2 2l0.2 -0.2l0.2 -1.5l0.2 3l0.2 0.2l0.2 0.3l0.2 -3.7l0.2 0.9l0.2 3.8l0.2 -2.3l0.2 4.9l0.2 -3.6l0.2 2.7l0.2 -4.6l0.2 0.1l0.2 4.1l0.2 2l0.2 -0.7l0.2 -5.3l0.2 0.8l0.2 3l0.2 -1.9l0.2 -1.9l0.2 1.9l0.2 -0.2l0.2 0.6l0.2 3.4l0.2 -6.2l0.2 0.9l0.2 -1.7l0.2 6.9l0.2 -4.1l0.2 -1.2l0.2 0.3l0.2 4.6l0.2 -3.8l0.2 0.3l0.2 -1.9l0.2 5.4l0.2 -2.1l0.2 -0.6l0.2 -1l0.2 2.4l0.2 -1.5l0.2 2l0.2 -5.1l0.2 2.7l0.2 -1.2l0.2 -1.4l0.2 4.7l0.2 -4.7l0.2 2.9l0.2 -2l0.2 -2.1l0.2 6.4l0.2 -2.5l0.2 -0.2l0.2 -7.8l0.2 6.9l0.2 -2.5l0.2 3.1l0.2 4.3l0.2 -6.3l0.2 -0.4l0.2 0.8l0.2 1.3l0.2 -2.5l0.2 0.1l0.2 1.6l0.2 -1.6l0.2 0.2l0.2 3.6l0.2 -1.9l0.2 -1l0.2 2.3l0.2 -0.6l0.2 -1.4l0.2 3.2l0.2 -2l0.2 1.6l0.2 -2.4l0.2 1.7l0.2 1.1l0.2 -1l0.2 -3.5l0.2 4.3l0.2 -1l0.2 -0.3l0.2 0.7l0.2 -0.6l0.2 -1l0.2 0l0.2 2.5l0.2 -0.5l0.2 -5.5l0.2 5.8l0.2 -1.1l0.2 -6.3l0.2 5.6l0.2 -3l0.2 2.6l0.2 0l0.2 0.3l0.2 2.5l0.2 -0.8l0.2 -0.8l0.2 2.4l0.2 -1.6l0.2 0.4l0.2 -3.2l0.2 0l0.2 0.1l0.2 0.3l0.2 3.7l0.2 -0.8l0.2 -3.6l0.2 1.9l0.2 -3l0.2 3.1l0.2 -4.2l0.2 2l0.2 2.2l0.2 -1.3l0.2 -2l0.2 -1.9l0.2 3.1l0.2 5.4l0.2 -6.6l0.2 1l0.2 -2.1l0.2 0.4l0.2 1.7l0.2 -1.2l0.2 0.1l0.2 0.6l0.2 -2.5l0.2 5.7l0.2 -0.2l0.2 0.3l0.2 -2.1l0.2 0.2l0.2 1.4l0.2 -3l0.2 3.2l0.2 0.3l0.2 -2.4l0.2 3.6l0.2 -3.6l0.2 2.5l0.2 -1.5l0.2 1.5l0.2 -0.4l0.2 -2.9l0.2 2.8l0.2 -1.7l0.2 1.1l0.2 0.2l0.2 -1.2l0.2 -1.6l0.2 2.1l0.2 2.9l0.2 -6.7l0.2 3.9l0.2 -0.3l0.2 -0.7l0.2 7.4l0.2 -3.9l0.2 -1.7l0.2 -1.1l0.2 3.4l0.2 -1.1l0.2 0.8l0.2 -0.7l0.2 0.1l0.2 3.6l0.2 -8.6l0.2 5l0.2 -1.6l0.2 3.4l0.2 -2.7l0.2 0.6l0.2 -2.9l0.2 -1.7l0.2 0.3l0.2 2.8l0.2 -3.6l0.2 2.6l0.2 0.8l0.2 -1.2l0.2 -0.5l0.2 -0.1l0.2 -0.6l0.2 0.2l0.2 2.9l0.2 -3.1l0.2 -0.4l0.2 2.8l0.2 -0.3l0.2 -1.5l0.2 1.5l0.2 1l0.2 -1.3l0.2 0.4l0.2 -1.3l0.2 5.6l0.2 -4.5l0.2 1.7l0.2 -2.1l0.2 -1.1l0.2 -1.2l0.2 1.5l0.2 -3l0.2 5.5l0.2 -1.7l0.2 3.5l0.2 -3.9l0.2 1.6l0.2 -1l0.2 -0.9l0.2 -0.1l0.2 2.4l0.2 1.6l0.2 -3.8l0.2 -2.5l0.2 3l0.2 0.3l0.2 1.9l0.2 1.7l0.2 -0.1l0.2 -2.7l0.2 -1.1l0.2 -0.9l0.2 0.6l0.2 4.5l0.2 -0.1l0.2 -1.3l0.2 -1.7l0.2 1.4l0.2 -1.5l0.2 -1l0.2 3.6l0.2 1.6l0.2 1.9l0.2 -5.2l0.2 1.4l0.2 -1.3l0.2 -1.7l0.2 2.6l0.2 -0.3l0.2 -2.1l0.2 1.6l0.2 -2.7l0.2 -1.7l0.2 3.8l0.2 -0.4l0.2 -0.5l0.2 -1.9l0.2 2.8l0.2 -2.8l0.2 1.5l0.2 1.2l0.2 1.6l0.2 0.9l0.2 -0.9l0.2 0.3l0.2 -3.4l0.2 1.3l0.2 1.4l0.2 -4.7l0.2 3.2l0.2 -1.8l0.2 3l0.2 -2.3l0.2 0.1l0.2 -0.6l0.2 -1.4l0.2 -0.5l0.2 1l0.2 -1.6l0.2 -0.2l0.2 -0.4l0.2 -0.9l0.2 5.7l0.2 -2.8l0.2 3.7l0.2 -6l0.2 4.2l0.2 -2.9l0.2 1.8l0.2 2.2l0.2 0.9l0.2 -0.3l0.2 -4.3l0.2 4.8l0.2 -1l0.2 4l0.2 -2.7l0.2 -1.6l0.2 0.2l0.2 -0.4l0.2 -1.4l0.2 4l0.2 -1l0.2 0.2l0.2 -3.3l0.2 2.7l0.2 -1.8l0.2 -0.2l0.2 1.7l0.2 1.8l0.2 -2.2l0.2 -2.4l0.2 2.4l0.2 1.1l0.2 0.5l0.2 -5l0.2 4l0.2 -1.7l0.2 -2.9l0.2 2.3l0.2 2l0.2 -2.2l0.2 2.2l0.2 2.6l0.2 -2.3l0.2 -1.6l0.2 2.1l0.2 0.2l0.2 1.1l0.2 -0.8l0.2 -1.1l0.2 2.8l0.2 -1.4l0.2 -1.3l0.2 0.1l0.2 -0.2l0.2 -2.5l0.2 4.2l0.2 -2.9l0.2 2.2l0.2 -2.5l0.2 -2.9l0.2 2.5l0.2 -0.4l0.2 1.1l0.2 -1.9l0.2 0.5l0.2 -1.1l0.2 1.1l0.2 0.5l0.2 -2.4l0.2 3.4l0.2 -1.7l0.2 -2l0.2 3.6l0.2 -1.6l0.2 0.2l0.2 0.7l0.2 -2.7l0.2 3.4l0.2 2.3l0.2 -3l0.2 0.8l0.2 -0.9l0.2 3.3l0.2 -2.5l0.2 1.3l0.2 -1.7l0.2 -1.3l0.2 2.2l0.2 -1.6l0.2 3.4l0.2 0.4l0.2 -3.9l0.2 -1.1l0.2 -1.1l0.2 4.4l0.2 -2.3l0.2 4.6l0.2 -1.9l0.2 3l0.2 -3.2l0.2 -3.5l0.2 3.5l0.2 1.7l0.2 -2.8l0.2 3.6l0.2 -2.2l0.2 2.7l0.2 -4.2l0.2 -1.5l0.2 0.4l0.2 3l0.2 1l0.2 -2.6l0.2 -0.8l0.2 2.8l0.2 -0.8l0.2 -0.8l0.2 4l0.2 -0.7l0.2 -4.5l0.2 1.6l0.2 -1.1l0.2 2.6l0.2 -2.3l0.2 2.7l0.2 -1.8l0.2 0.7l0.2 -2.2l0.2 0.4l0.2 0l0.2 -1.7l0.2 1.5l0.2 -3.5l0.2 5.2l0.2 -5.7l0.2 4.6l0.2 -2.2l0.2 5.3l0.2 -4.6l0.2 -1.7l0.2 0l0.2 1.6l0.2 -3.3l0.2 3.1l0.2 -0.4l0.2 2.5l0.2 -2.7l0.2 0.8l0.2 -2.2l0.2 4.5l0.2 0.4l0.2 -3.6l0.2 4.2l0.2 -0.2l0.2 -2.9l0.2 1.3l0.2 -0.1l0.2 -3.2l0.2 3.5l0.2 0.5l0.2 -2l0.2 3.2l0.2 -3.2l0.2 4.7l0.2 -5.6l0.2 3.5l0.2 -3.5l0.2 2.5l0.2 -0.8l0.2 -0.6l0.2 2.9l0.2 -1.1l0.2 -2.6l0.2 0.5l0.2 5.8l0.2 0.5l0.2 -9l0.2 5.8l0.2 -0.5l0.2 0.2l0.2 0.3l0.2 -2.3l0.2 4.1l0.2 -2.5l0.2 4.2l0.2 -4.8l0.2 1.5l0.2 -1.9l0.2 0.5l0.2 1l0.2 -2.6l0.2 5.6l0.2 -1.9l0.2 0l0.2 1.2l0.2 -4.4l0.2 2.3l0.2 -1.4l0.2 -1.9l0.2 0.1l0.2 0.4l0.2 1.7l0.2 -2.2l0.2 -0.1l0.2 0.7l0.2 -0.9l0.2 2.1l0.2 -1l0.2 1.7l0.2 -2.3l0.2 0.5l0.2 1.6l0.2 -0.5l0.2 -4.1l0.2 2.1l0.2 4.6l0.2 -3.6l0.2 3.3l0.2 -2.3l0.2 -1.5l0.2 2.4l0.2 -0.2l0.2 -4.2l0.2 3.1l0.2 -3.3l0.2 6.6l0.2 -6.3l0.2 -1.4l0.2 3.7l0.2 1.7l0.2 -2.4l0.2 -1.2l0.2 0.6l0.2 -2.7l0.2 4.4l0.2 -3.7l0.2 0.8l0.2 3.4l0.2 0.7l0.2 0.5l0.2 -3.2l0.2 1.2l0.2 -2.4l0.2 5.3l0.2 -2.8l0.2 1.2l0.2 2.1l0.2 -4.3l0.2 6l0.2 -3.5l0.2 2.5l0.2 -4l0.2 -0.3l0.2 0.9l0.2 1.4l0.2 0.1l0.2 -1.5l0.2 -0.7l0.2 5.8l0.2 -6.6l0.2 2.6l0.2 0.8l0.2 0.1l0.2 -1.9l0.2 2.8l0.2 -3.3l0.2 -3l0.2 4.3l0.2 -1.6l0.2 1.6l0.2 0.8l0.2 -3.9l0.2 -0.6l0.2 3.1l0.2 2.2l0.2 -3.4l0.2 3.8l0.2 -3.5l0.2 1.2l0.2 0.1l0.2 -3.2l0.2 9.5l0.2 -1.3l0.2 -5.1l0.2 -2.9l0.2 4.8l0.2 -6.5l0.2 0.9l0.2 2.1l0.2 2.5l0.2 -4l0.2 5.9l0.2 -4.6l0.2 2.5l0.2 -2.8l0.2 -2.6l0.2 1.4l0.2 3.1l0.2 -1.7l0.2 3.2l0.2 -5.2l0.2 1.3l0.2 0.1l0.2 2l0.2 1.6l0.2 -4.5l0.2 -2.1l0.2 2.2l0.2 1.3l0.2 3.8l0.2 -1.2l0.2 0.1l0.2 -0.3l0.2 -1.5l0.2 0.2l0.2 -2.7l0.2 2.2l0.2 1.6l0.2 -2l0.2 1.3l0.2 0.5l0.2 -2.4l0.2 3.3l0.2 -3.7l0.2 3.6l0.2 -2.2l0.2 1.9l0.2 -3.6l0.2 1.5l0.2 -1.5l0.2 4l0.2 0.8l0.2 -0.3l0.2 0.5l0.2 -0.6l0.2 -3.5l0.2 1.5l0.2 2.2l0.2 -1.6l0.2 -2.6l0.2 3.2l0.2 -2.4l0.2 1.5l0.2 1.6l0.2 0.6l0.2 -0.8l0.2 0.2l0.2 -0.7l0.2 -2.5l0.2 -2.4l0.2 6.8l0.2 -3.1l0.2 2.8l0.2 -4.9l0.2 3.6l0.2 -4.5l0.2 2.2l0.2 0l0.2 0.6l0.2 -0.7l0.2 0.5l0.2 -1.3l0.2 0l0.2 -0.7l0.2 -0.5l0.2 3.8l0.2 -3.5l0.2 -2.6l0.2 5.4l0.2 -3.2l0.2 0.7l0.2 -3l0.2 3.6l0.2 0l0.2 2.4l0.2 -1.6l0.2 -3.5l0.2 3l0.2 -1.5l0.2 0.8l0.2 3.9l0.2 -4l0.2 2.8l0.2 -1l0.2 2.7l0.2 -4.7l0.2 3.6l0.2 0.7l0.2 -0.1l0.2 2l0.2 -2.8l0.2 2.4l0.2 -2.2l0.2 -1.9l0.2 4.1l0.2 0l0.2 -3.1l0.2 -1.4l0.2 3.4l0.2 -1.2l0.2 -0.1l0.2 1.5l0.2 -3.1l0.2 1.7l0.2 -1.1l0.2 1.6l0.2 -3.9l0.2 4.9l0.2 -2.5l0.2 -0.5l0.2 0.7l0.2 0.1l0.2 -1l0.2 2.3l0.2 -0.4l0.2 -1.6l0.2 0l0.2 -2.9l0.2 3.6l0.2 -1.4l0.2 1.7l0.2 -0.5l0.2 0.2l0.2 1l0.2 -2.4l0.2 2.7l0.2 -1.6l0.2 0.7l0.2 -0.4l0.2 -0.4l0.2 -3.1l0.2 4l0.2 -1.1l0.2 -3l0.2 2l0.2 2.1l0.2 0l0.2 -6.3l0.2 4l0.2 -2.9l0.2 -1.2l0.2 0.3l0.2 5.9l0.2 -0.5l0.2 -0.1l0.2 -2.5l0.2 4.1l0.2 -1.2l0.2 -3.5l0.2 4.2l0.2 -2.9l0.2 -3.2l0.2 2.7l0.2 0.4l0.2 0.8l0.2 -0.2l0.2 -1.6l0.2 0.2l0.2 1.9l0.2 -1.9l0.2 4.2l0.2 1.5l0.2 -2.7l0.2 2l0.2 -4.1l0.2 3.2l0.2 -2.1l0.2 3.1l0.2 -4.3l0.2 -0.8l0.2 -1.1l0.2 2.5l0.2 3.1l0.2 -2.4l0.2 1.6l0.2 0.9l0.2 -0.8l0.2 -2l0.2 4.3l0.2 -1.9l0.2 2.1l0.2 -5.1l0.2 1l0.2 -0.9l0.2 5.5l0.2 -1.1l0.2 -4.2l0.2 0.4l0.2 2.3l0.2 -4.3l0.2 3.9l0.2 -2.1l0.2 2.1l0.2 -0.6l0.2 0l0.2 2.7l0.2 -3.9l0.2 1.2l0.2 -0.8l0.2 -0.1l0.2 0.5l0.2 -2.1l0.2 3.4l0.2 -1.4l0.2 -2.8l0.2 1.3l0.2 1.5l0.2 0.1l0.2 -3.1l0.2 -1.7l0.2 2.4l0.2 2.9l0.2 -0.2l0.2 0.1l0.2 0.4l0.2 -3.7l0.2 -1.2l0.2 1.7l0.2 2.9l0.2 1.4l0.2 -3.5l0.2 -0.8l0.2 0.4l0.2 2.5l0.2 -3.6l0.2 5.1l0.2 -4.1l0.2 1.6l0.2 -0.4l0.2 1l0.2 -0.5l0.2 -5.2l0.2 2.9l0.2 2.4l0.2 3.4l0.2 -3.2l0.2 0.5l0.2 -1.2l0.2 1.4l0.2 0.1l0.2 -1.7l0.2 2.5l0.2 -0.3l0.2 2l0.2 0.4l0.2 -4.4l0.2 3.7l0.2 -2.2l0.2 1.3l0.2 -2.6l0.2 1.2l0.2 -1.6l0.2 1.7l0.2 0.4l0.2 -0.3l0.2 -1.6l0.2 0.4l0.2 -0.6l0.2 0.7l0.2 -2.5l0.2 -0.7l0.2 3.8l0.2 -2.8l0.2 1.4l0.2 2.8l0.2 -6.1l0.2 2.8l0.2 2.2l0.2 -2.5l0.2 -0.8l0.2 6.6l0.2 -3.4l0.2 -4.1l0.2 3.9l0.2 -0.9l0.2 -2.3l0.2 2.3l0.2 4l0.2 -4.8l0.2 1.1l0.2 -1.2l0.2 0.3l0.2 2.8l0.2 0.4l0.2 -5.9l0.2 -0.8l0.2 4.2l0.2 -1.9l0.2 1.1l0.2 1.3l0.2 -1.1l0.2 -1.3l0.2 1.2l0.2 1.4l0.2 -2.4l0.2 0l0.2 6.1l0.2 -4.7l0.2 -0.7l0.2 7l0.2 -5.8l0.2 0.9l0.2 -1.3l0.2 2.6l0.2 0l0.2 -0.2l0.2 1.9l0.2 -3.2l0.2 2.3l0.2 -0.1l0.2 -0.5l0.2 -0.8l0.2 -2l0.2 0.2l0.2 0.7l0.2 0.5l0.2 -0.5l0.2 2.7l0.2 -0.2l0.2 0.2l0.2 -1.5l0.2 -0.6l0.2 0l0.2 -1.1l0.2 0.9l0.2 1.5l0.2 -1.4l0.2 0.5l0.2 -5.2l0.2 1.5l0.2 1.4l0.2 0.3l0.2 1.3l0.2 0l0.2 -0.3l0.2 -4.3l0.2 5.6l0.2 -2.4l0.2 -1.8l0.2 4.8l0.2 -4.7l0.2 1.8l0.2 1l0.2 -5.6l0.2 3.5l0.2 -2.2l0.2 1.5l0.2 1l0.2 -1.9l0.2 2.1l0.2 -5.2l0.2 4.3l0.2 3.5l0.2 -2.8l0.2 -1.7l0.2 2.4l0.2 -1.2l0.2 0.1l0.2 -2.5l0.2 1.2l0.2 6l0.2 -4.8l0.2 -1l0.2 5.6l0.2 -0.8l0.2 -0.7l0.2 1.3l0.2 -1.6l0.2 1.6l0.2 -2.8l0.2 3.2l0.2 -0.5l0.2 -3.2l0.2 1.7l0.2 0.4l0.2 -2.2l0.2 4.2l0.2 -4.5l0.2 2.2l0.2 -3.6l0.2 1.6l0.2 0.8l0.2 1.2l0.2 -4.5l0.2 0.8l0.2 2.8l0.2 -1.6l0.2 1.7l0.2 -2.4l0.2 1l0.2 5.9l0.2 -4.6l0.2 -0.9l0.2 -3.5l0.2 2.8l0.2 -0.3l0.2 -6.6l0.2 7.5l0.2 -0.4l0.2 2.3l0.2 -1.7l0.2 0l0.2 3.5l0.2 -2.9l0.2 -1.5l0.2 -1.9l0.2 2.1l0.2 -0.1l0.2 3.4l0.2 -2.3l0.2 3.9l0.2 2l0.2 -4.2l0.2 -4l0.2 6.3l0.2 -2.3l0.2 -3.6l0.2 -0.6l0.2 1.8l0.2 0.3l0.2 -1.9l0.2 3.6l0.2 -0.1l0.2 -1.5l0.2 -0.6l0.2 -0.3l0.2 1.8l0.2 0.7l0.2 0.7l0.2 -2.8l0.2 -0.9l0.2 3.1l0.2 -1.3l0.2 3.6l0.2 3l0.2 -7.5l0.2 0.5l0.2 1.6l0.2 2.1l0.2 -4.8l0.2 1.8l0.2 -2.8l0.2 1.9l0.2 -0.2l0.2 2l0.2 1.7l0.2 -1.1l0.2 -2l0.2 1.3l0.2 -0.5l0.2 -0.3l0.2 1l0.2 0.6l0.2 -3.9l0.2 3.2l0.2 -2.6l0.2 2.6l0.2 -3.3l0.2 -2.1l0.2 5.3l0.2 -3.2l0.2 0.3l0.2 0l0.2 7.4l0.2 -7l0.2 1.9l0.2 -0.3l0.2 -0.9l0.2 1l0.2 1l0.2 -4.2l0.2 4.1l0.2 -2.8l0.2 0.7l0.2 0.1l0.2 1.6l0.2 -1.3l0.2 0.7l0.2 -5l0.2 6.7l0.2 -2.7l0.2 0.4l0.2 -2.2l0.2 4l0.2 -3.3l0.2 -0.2l0.2 1.9l0.2 4.6l0.2 -4.1l0.2 0.4l0.2 -2.5l0.2 4l0.2 -0.6l0.2 -0.9l0.2 3.5l0.2 -1.3l0.2 -2.7l0.2 1.4l0.2 0.3l0.2 -1.1l0.2 2.8l0.2 -0.7l0.2 -3.6l0.2 3.7l0.2 -3.6l0.2 3.5l0.2 -1.4l0.2 -3.1l0.2 2.6l0.2 0l0.2 1l0.2 1.4l0.2 0.2l0.2 -7.3l0.2 -1.1l0.2 4.9l0.2 1.1l0.2 1.7l0.2 -4.4l0.2 -2.5l0.2 4.2l0.2 1.2l0.2 1.5l0.2 -1.6l0.2 -0.4l0.2 3.2l0.2 -5l0.2 -1.3l0.2 -0.3l0.2 3.2l0.2 -3.3l0.2 5.1" fill="none" stroke="#000" stroke-width="1.15" stroke-linejoin="round" />
<path d="M682.6 396.7L682.8 396.0L683.0 394.9L683.2 392.2L683.2 387.8L683.3 383.8L683.5 382.0L683.7 380.6L683.7 374.4L683.7 374.4L683.7 380.6L683.9 382.0L684.2 383.8L684.2 387.8L684.3 392.2L684.5 394.9L684.7 396.0L684.9 396.7M694.8 397.9L695.0 397.3L695.2 396.2L695.4 393.7L695.4 389.4L695.5 385.6L695.7 383.9L695.9 382.6L695.9 376.7L695.9 376.7L695.9 382.6L696.1 383.9L696.4 385.6L696.4 389.4L696.5 393.7L696.7 396.2L696.9 397.3L697.1 397.9M715.0 409.9L715.2 409.4L715.5 408.5L715.8 406.3L715.9 402.6L715.9 399.2L716.2 397.8L716.5 396.7L716.5 391.5L716.5 391.5L716.5 396.7L716.8 397.8L717.2 399.2L717.2 402.6L717.3 406.3L717.6 408.5L717.9 409.4L718.1 409.9M728.2 410.4L728.4 409.5L728.7 407.9L728.8 404.3L728.9 398.2L728.9 392.8L729.1 390.3L729.3 388.5L729.3 380.0L729.3 380.0L729.3 388.5L729.5 390.3L729.8 392.8L729.8 398.2L729.8 404.3L730.0 407.9L730.2 409.5L730.5 410.4M741.4 410.1L741.7 408.8L741.9 406.8L742.0 401.9L742.1 393.6L742.1 386.3L742.3 383.0L742.5 380.5L742.5 369.0L742.5 369.0L742.5 380.5L742.7 383.0L743.0 386.3L743.0 393.6L743.0 401.9L743.1 406.8L743.4 408.8L743.7 410.1M749.3 400.6L749.5 400.0L749.7 398.9L750.0 396.5L750.1 392.4L750.1 388.6L750.3 387.0L750.6 385.8L750.6 380.0L750.6 380.0L750.6 385.8L750.9 387.0L751.2 388.6L751.2 392.4L751.3 396.5L751.5 398.9L751.8 400.0L752.0 400.6M780.3 404.3L780.7 403.1L781.0 401.2L781.2 396.5L781.2 388.7L781.2 381.7L781.5 378.6L781.8 376.3L781.8 365.4L781.8 365.4L781.8 376.3L782.1 378.6L782.5 381.7L782.5 388.7L782.5 396.5L782.7 401.2L783.0 403.1L783.4 404.3M787.3 410.0L787.8 408.1L788.1 405.0L788.2 397.6L788.2 385.2L788.2 374.0L788.6 369.1L788.9 365.4L788.9 348.0L788.9 348.0L788.9 365.4L789.3 369.1L789.6 374.0L789.6 385.2L789.6 397.6L789.7 405.0L790.1 408.1L790.7 410.0M868.6 406.8L868.7 406.3L868.7 405.6L868.8 404.0L868.8 401.2L868.8 398.7L869.1 397.5L869.3 396.7L869.3 392.8L869.3 392.8L869.3 396.7L869.5 397.5L869.8 398.7L869.8 401.2L869.8 404.0L869.9 405.6L870.0 406.3L870.0 406.8M881.7 406.7L881.8 406.4L881.8 405.8L881.9 404.3L882.0 401.9L882.0 399.8L882.2 398.8L882.5 398.1L882.5 394.7L882.5 394.7L882.5 398.1L882.8 398.8L883.1 399.8L883.1 401.9L883.2 404.3L883.2 405.8L883.3 406.4L883.4 406.7M1008.5 409.2L1009.8 405.1L1009.9 398.2L1009.9 381.7L1009.9 354.1L1009.9 329.3L1010.4 318.3L1010.9 310.1L1010.9 271.5L1010.9 271.5L1010.9 310.1L1011.4 318.3L1012.0 329.3L1012.0 354.1L1012.0 381.7L1012.0 398.2L1012.2 405.1L1013.5 409.2M1021.3 408.7L1021.4 408.3L1021.4 407.7L1021.5 406.1L1021.6 403.4L1021.6 401.0L1021.8 399.9L1022.1 399.1L1022.1 395.4L1022.1 395.4L1022.1 399.1L1022.4 399.9L1022.7 401.0L1022.7 403.4L1022.7 406.1L1022.8 407.7L1022.9 408.3L1023.0 408.7M1056.0 408.5L1056.4 407.3L1056.7 405.3L1056.9 400.4L1056.9 392.4L1056.9 385.2L1057.2 382.0L1057.5 379.5L1057.5 368.3L1057.5 368.3L1057.5 379.5L1057.8 382.0L1058.2 385.2L1058.2 392.4L1058.2 400.4L1058.3 405.3L1058.7 407.3L1059.1 408.5M990.0 408.2L990.1 408.0L990.1 407.5L990.2 406.3L990.3 404.4L990.3 402.6L990.6 401.9L990.9 401.3L990.9 398.6L990.9 398.6L990.9 401.3L991.2 401.9L991.6 402.6L991.6 404.4L991.7 406.3L991.8 407.5L991.8 408.0L991.9 408.2M1167.5 407.7L1167.5 407.3L1167.6 406.8L1167.7 405.5L1167.8 403.4L1167.8 401.5L1168.2 400.6L1168.6 400.0L1168.6 397.0L1168.6 397.0L1168.6 400.0L1169.0 400.6L1169.4 401.5L1169.5 403.4L1169.6 405.5L1169.7 406.8L1169.8 407.3L1169.8 407.7M1235.1 408.9L1236.3 405.7L1236.7 400.5L1236.7 387.9L1236.7 366.8L1236.7 347.9L1237.2 339.5L1237.8 333.2L1237.8 303.8L1237.8 303.8L1237.8 333.2L1238.4 339.5L1239.0 347.9L1239.0 366.8L1239.0 387.9L1239.1 400.5L1239.4 405.7L1240.8 408.9M1247.2 408.8L1247.5 408.3L1247.9 407.5L1248.3 405.6L1248.6 402.4L1248.6 399.5L1249.1 398.2L1249.6 397.3L1249.6 392.8L1249.6 392.8L1249.6 397.3L1250.1 398.2L1250.7 399.5L1250.7 402.4L1251.0 405.6L1251.5 407.5L1251.9 408.3L1252.2 408.8M1313.2 408.4L1313.3 408.1L1313.3 407.6L1313.4 406.4L1313.5 404.5L1313.5 402.7L1313.9 401.9L1314.2 401.3L1314.2 398.6L1314.2 398.6L1314.2 401.3L1314.6 401.9L1315.0 402.7L1315.0 404.5L1315.1 406.4L1315.2 407.6L1315.2 408.1L1315.3 408.4M1335.5 408.5L1335.8 407.8L1336.0 406.7L1336.3 404.1L1336.4 399.7L1336.4 395.7L1336.7 393.9L1337.0 392.6L1337.0 386.4L1337.0 386.4L1337.0 392.6L1337.3 393.9L1337.7 395.7L1337.7 399.7L1337.8 404.1L1338.0 406.7L1338.3 407.8L1338.6 408.5M1348.7 408.7L1348.7 408.4L1348.8 407.9L1348.9 406.8L1349.0 404.9L1349.0 403.2L1349.4 402.4L1349.8 401.8L1349.8 399.2L1349.8 399.2L1349.8 401.8L1350.2 402.4L1350.6 403.2L1350.7 404.9L1350.8 406.8L1350.9 407.9L1351.0 408.4L1351.0 408.7M1355.4 406.7L1356.8 402.4L1357.0 395.3L1357.0 378.1L1357.0 349.6L1357.0 323.8L1357.5 312.4L1358.1 303.8L1358.1 263.8L1358.1 263.8L1358.1 303.8L1358.7 312.4L1359.3 323.8L1359.3 349.6L1359.3 378.1L1359.3 395.3L1359.5 402.4L1361.1 406.7M1367.5 407.7L1367.8 407.0L1368.1 405.9L1368.4 403.1L1368.5 398.6L1368.6 394.4L1368.9 392.6L1369.3 391.2L1369.3 384.8L1369.3 384.8L1369.3 391.2L1369.7 392.6L1370.1 394.4L1370.1 398.6L1370.2 403.1L1370.6 405.9L1371.0 407.0L1371.3 407.7M1547.3 409.1L1548.5 407.0L1549.0 403.5L1549.1 395.1L1549.1 381.1L1549.1 368.5L1549.8 362.8L1550.4 358.6L1550.4 339.0L1550.4 339.0L1550.4 358.6L1551.1 362.8L1551.8 368.5L1551.8 381.1L1551.8 395.1L1551.9 403.5L1552.5 407.0L1553.8 409.1M1542.9 408.7L1542.9 408.5L1543.0 408.1L1543.1 407.1L1543.2 405.6L1543.2 404.1L1543.6 403.5L1544.0 403.0L1544.0 400.8L1544.0 400.8L1544.0 403.0L1544.4 403.5L1544.9 404.1L1544.9 405.6L1545.0 407.1L1545.1 408.1L1545.2 408.5L1545.2 408.7M698.3 403.8L698.4 403.5L698.5 403.1L698.7 402.0L698.8 400.3L698.8 398.7L699.4 398.0L700.0 397.5L700.0 395.0L700.0 395.0L700.0 397.5L700.6 398.0L701.3 398.7L701.3 400.3L701.5 402.0L701.6 403.1L701.7 403.5L701.8 403.8M705.9 401.1L705.9 400.9L706.0 400.7L706.0 400.1L706.1 399.0L706.2 398.1L706.6 397.7L706.9 397.4L707.0 396.0L707.0 396.0L707.1 397.4L707.5 397.7L707.9 398.1L708.0 399.0L708.1 400.1L708.1 400.7L708.2 400.9L708.2 401.1M733.7 403.7L733.7 403.4L733.8 402.9L733.9 401.8L734.0 399.8L734.1 398.1L734.5 397.3L735.0 396.7L735.0 394.0L735.0 394.0L735.0 396.7L735.5 397.3L736.0 398.1L736.1 399.8L736.2 401.8L736.3 402.9L736.4 403.4L736.5 403.7M758.3 406.1L758.4 405.8L758.5 405.3L758.7 404.1L758.8 402.1L758.9 400.2L759.4 399.4L760.0 398.8L760.0 396.0L760.0 396.0L760.0 398.8L760.6 399.4L761.3 400.2L761.3 402.1L761.4 404.1L761.6 405.3L761.7 405.8L761.8 406.1M770.3 405.7L770.4 405.3L770.6 404.7L770.7 403.1L770.8 400.6L770.9 398.3L771.4 397.3L772.0 396.5L772.0 393.0L772.0 393.0L772.0 396.5L772.6 397.3L773.2 398.3L773.3 400.6L773.4 403.1L773.6 404.7L773.7 405.3L773.8 405.7M774.2 407.3L774.4 406.8L774.7 406.0L775.0 404.2L775.2 401.2L775.2 398.4L775.6 397.2L776.0 396.3L776.0 392.0L776.0 392.0L776.0 396.3L776.4 397.2L776.8 398.4L776.9 401.2L777.1 404.2L777.5 406.0L777.8 406.8L778.0 407.3M703.9 408.3L704.0 407.8L704.2 407.0L704.4 405.0L704.5 401.8L704.5 398.8L704.8 397.5L705.0 396.6L705.0 392.0L705.0 392.0L705.0 396.6L705.2 397.5L705.5 398.8L705.5 401.8L705.6 405.0L705.9 407.0L706.0 407.8L706.2 408.3M721.3 402.1L721.4 401.8L721.4 401.4L721.5 400.3L721.5 398.5L721.5 396.8L721.8 396.1L722.0 395.5L722.0 393.0L722.0 393.0L722.0 395.5L722.3 396.1L722.5 396.8L722.5 398.5L722.6 400.3L722.7 401.4L722.7 401.8L722.7 402.1" fill="none" stroke="#000" stroke-width="0.95" stroke-linejoin="round"/>
<line x1="695.70" y1="596.60" x2="695.70" y2="457.90" stroke="#000" stroke-width="1.8"/>
<line x1="684.40" y1="596.60" x2="684.40" y2="486.10" stroke="#555" stroke-width="0.9"/>
<line x1="730.20" y1="596.60" x2="730.20" y2="514.70" stroke="#444" stroke-width="0.9"/>
<line x1="701.00" y1="596.60" x2="701.00" y2="537.10" stroke="#666" stroke-width="0.9"/>
<line x1="708.10" y1="596.60" x2="708.10" y2="540.00" stroke="#111" stroke-width="1.3"/>
<line x1="686.00" y1="596.60" x2="686.00" y2="534.70" stroke="#666" stroke-width="1.2"/>
<line x1="773.70" y1="596.60" x2="773.70" y2="555.40" stroke="#444" stroke-width="0.9"/>
<line x1="788.90" y1="596.60" x2="788.90" y2="550.60" stroke="#444" stroke-width="0.8"/>
<line x1="703.50" y1="596.60" x2="703.50" y2="561.40" stroke="#444" stroke-width="0.9"/>
<line x1="717.60" y1="596.60" x2="717.60" y2="561.40" stroke="#444" stroke-width="0.9"/>
<line x1="723.40" y1="596.60" x2="723.40" y2="564.40" stroke="#555" stroke-width="0.8"/>
<line x1="737.50" y1="596.60" x2="737.50" y2="559.50" stroke="#222" stroke-width="1.0"/>
<line x1="745.30" y1="596.60" x2="745.30" y2="561.40" stroke="#555" stroke-width="0.9"/>
<line x1="748.00" y1="596.60" x2="748.00" y2="565.30" stroke="#555" stroke-width="0.8"/>
<line x1="752.60" y1="596.60" x2="752.60" y2="565.80" stroke="#555" stroke-width="0.8"/>
<line x1="843.00" y1="596.60" x2="843.00" y2="570.00" stroke="#222" stroke-width="0.9"/>
<line x1="909.00" y1="596.60" x2="909.00" y2="570.00" stroke="#222" stroke-width="0.8"/>
<line x1="954.00" y1="596.60" x2="954.00" y2="572.00" stroke="#333" stroke-width="0.8"/>
<line x1="983.00" y1="596.60" x2="983.00" y2="575.00" stroke="#333" stroke-width="0.8"/>
<line x1="997.00" y1="596.60" x2="997.00" y2="576.00" stroke="#444" stroke-width="0.8"/>
<line x1="931.00" y1="596.60" x2="931.00" y2="577.00" stroke="#111" stroke-width="1.2"/>
<line x1="767.00" y1="596.60" x2="767.00" y2="560.00" stroke="#444" stroke-width="0.8"/>
<path d="M681.2 599.8L681.2 541.0L681.7 540.6L682.2 538.6L682.7 541.8L683.2 546.2L683.7 543.1L684.2 541.7L684.7 543.9L685.2 545.3L685.7 551.0L686.2 557.8L686.7 557.5L687.2 559.0L687.7 557.8L688.2 558.2L688.7 557.8L689.2 557.4L689.7 560.9L690.2 563.9L690.7 565.0L691.2 566.3L691.7 564.9L692.2 565.6L692.7 565.5L693.2 562.7L693.7 564.0L694.2 564.5L694.7 567.1L695.2 570.0L695.7 569.4L696.2 572.0L696.7 571.9L697.2 571.0L697.7 573.0L698.2 572.9L698.7 573.0L699.2 573.5L699.7 572.8L700.2 573.9L700.7 572.5L701.2 569.5L701.7 568.1L702.2 564.4L702.7 566.8L703.2 569.4L703.7 570.7L704.2 569.2L704.7 572.5L705.2 574.9L705.7 573.6L706.2 572.0L706.7 572.3L707.2 571.3L707.7 572.6L708.2 571.5L708.7 572.8L709.2 570.9L709.7 571.6L710.2 571.1L710.7 568.7L711.2 567.8L711.7 567.3L712.2 567.7L712.7 570.4L713.2 574.3L713.7 574.1L714.2 575.2L714.7 572.2L715.2 571.5L715.7 570.5L716.2 568.4L716.7 568.6L717.2 570.1L717.7 570.0L718.2 570.6L718.7 570.3L719.2 569.5L719.7 570.9L720.2 573.5L720.7 572.4L721.2 571.0L721.7 571.7L722.2 571.1L722.7 570.1L723.2 568.6L723.7 569.2L724.2 570.2L724.7 570.6L725.2 572.2L725.7 572.0L726.2 571.2L726.7 570.6L727.2 569.3L727.7 570.1L728.2 571.5L728.7 570.8L729.2 569.5L729.7 570.4L730.2 570.9L730.7 569.2L731.2 568.4L731.7 567.9L732.2 569.2L732.7 570.9L733.2 572.1L733.7 573.3L734.2 572.8L734.7 573.7L735.2 575.3L735.7 573.4L736.2 572.9L736.7 573.1L737.2 573.3L737.7 573.7L738.2 573.5L738.7 573.1L739.2 572.7L739.7 574.0L740.2 573.2L740.7 572.7L741.2 571.9L741.7 573.9L742.2 576.2L742.7 575.2L743.2 573.5L743.7 575.0L744.2 576.7L744.7 575.6L745.2 575.9L745.7 574.6L746.2 574.6L746.7 573.3L747.2 571.5L747.7 573.1L748.2 572.3L748.7 573.0L749.2 575.0L749.7 574.6L750.2 574.4L750.7 575.1L751.2 574.0L751.7 573.9L752.2 574.6L752.7 576.3L753.2 577.4L753.7 576.1L754.2 576.1L754.7 576.0L755.2 575.6L755.7 576.2L756.2 578.5L756.7 578.7L757.2 577.4L757.7 577.6L758.2 576.9L758.7 574.4L759.2 573.9L759.7 574.8L760.2 574.2L760.7 575.1L761.2 575.1L761.7 574.9L762.2 576.8L762.7 577.3L763.2 579.5L763.7 579.8L764.2 580.2L764.7 579.8L765.2 579.7L765.7 580.3L766.2 580.5L766.7 579.8L767.2 578.2L767.7 577.8L768.2 577.8L768.7 577.9L769.2 579.0L769.7 580.2L770.2 581.6L770.7 580.6L771.2 578.4L771.7 579.4L772.2 580.3L772.7 580.2L773.2 580.3L773.7 579.0L774.2 578.6L774.7 579.1L775.2 581.3L775.7 581.5L776.2 581.0L776.7 580.7L777.2 578.7L777.7 580.1L778.2 580.4L778.7 580.6L779.2 579.2L779.7 579.1L780.2 578.5L780.7 578.3L781.2 578.5L781.7 580.4L782.2 582.1L782.7 581.3L783.2 581.6L783.7 580.1L784.2 580.3L784.7 580.1L785.2 579.5L785.7 580.0L786.2 580.0L786.7 579.1L787.2 578.7L787.7 578.2L788.2 577.7L788.7 578.5L789.2 579.3L789.7 580.0L790.2 579.9L790.7 581.5L791.2 583.2L791.7 583.4L792.2 583.1L792.7 582.8L793.2 582.4L793.7 583.3L794.2 584.1L794.7 583.3L795.2 582.2L795.7 582.3L796.2 582.8L796.7 583.7L797.2 585.3L797.7 584.0L798.2 582.7L798.7 583.4L799.2 583.8L799.7 583.4L800.2 581.6L800.7 582.2L801.2 581.0L801.7 582.9L802.2 583.5L802.7 583.7L803.2 583.6L803.7 583.5L804.2 583.6L804.7 583.2L805.2 582.8L805.7 583.5L806.2 585.1L806.7 583.9L807.2 583.3L807.7 582.5L808.2 582.6L808.7 583.0L809.2 583.6L809.7 583.8L810.2 584.5L810.7 584.9L811.2 585.7L811.7 585.4L812.2 584.0L812.7 584.8L813.2 585.0L813.7 583.8L814.2 583.8L814.7 583.6L815.2 584.3L815.7 584.3L816.2 584.0L816.7 585.2L817.2 585.3L817.7 584.1L818.2 584.0L818.7 583.5L819.2 583.4L819.7 584.0L820.2 584.4L820.7 583.1L821.2 582.6L821.7 582.6L822.2 582.4L822.7 582.8L823.2 584.2L823.7 582.7L824.2 582.1L824.7 582.5L825.2 584.2L825.7 583.7L826.2 583.3L826.7 583.2L827.2 582.0L827.7 582.2L828.2 582.3L828.7 583.2L829.2 583.6L829.7 583.9L830.2 583.3L830.7 584.3L831.2 584.9L831.7 585.1L832.2 585.2L832.7 585.7L833.2 585.9L833.7 585.6L834.2 585.8L834.7 585.4L835.2 584.8L835.7 584.0L836.2 584.2L836.7 584.6L837.2 585.1L837.7 584.3L838.2 584.4L838.7 585.0L839.2 585.4L839.7 585.2L840.2 585.0L840.7 585.2L841.2 584.6L841.7 584.3L842.2 583.9L842.7 584.9L843.2 586.2L843.7 585.8L844.2 585.5L844.7 586.0L845.2 586.6L845.7 585.9L846.2 586.0L846.7 585.8L847.2 586.5L847.7 585.8L848.2 586.2L848.7 585.6L849.2 585.3L849.7 585.0L850.2 585.4L850.7 585.1L851.2 585.1L851.7 585.3L852.2 586.0L852.7 586.0L853.2 585.4L853.7 586.5L854.2 587.0L854.7 587.3L855.2 587.1L855.7 587.8L856.2 588.0L856.7 588.0L857.2 588.3L857.7 588.1L858.2 587.2L858.7 587.1L859.2 587.4L859.7 587.4L860.2 588.3L860.7 588.2L861.2 587.8L861.7 587.7L862.2 587.7L862.7 587.2L863.2 587.2L863.7 587.4L864.2 587.6L864.7 587.0L865.2 586.9L865.7 586.7L866.2 586.7L866.7 587.2L867.2 587.4L867.7 587.1L868.2 587.0L868.7 586.8L869.2 587.4L869.7 587.4L870.2 586.9L870.7 587.1L871.2 587.7L871.7 587.8L872.2 588.8L872.7 588.5L873.2 589.1L873.7 588.6L874.2 588.3L874.7 588.9L875.2 590.0L875.7 589.4L876.2 589.0L876.7 588.5L877.2 587.9L877.7 588.1L878.2 587.1L878.7 587.5L879.2 587.8L879.7 587.7L880.2 587.6L880.7 587.2L881.2 587.6L881.7 587.5L882.2 587.5L882.7 587.5L883.2 587.0L883.7 588.1L884.2 588.3L884.7 589.3L885.2 589.8L885.7 588.9L886.2 588.1L886.7 588.1L887.2 588.7L887.7 588.2L888.2 587.7L888.7 587.7L889.2 587.5L889.7 588.3L890.2 589.4L890.7 588.6L891.2 588.1L891.7 588.6L892.2 588.7L892.7 588.9L893.2 589.2L893.7 589.5L894.2 589.6L894.7 589.5L895.2 589.8L895.7 589.7L896.2 590.4L896.7 589.7L897.2 589.5L897.7 590.0L898.2 590.1L898.7 589.6L899.2 588.7L899.7 588.4L900.2 588.3L900.7 588.3L901.2 588.5L901.7 588.8L902.2 588.2L902.7 587.8L903.2 587.2L903.7 587.7L904.2 588.3L904.7 589.4L905.2 590.1L905.7 590.0L906.2 589.2L906.7 589.2L907.2 589.0L907.7 589.6L908.2 589.9L908.7 589.0L909.2 588.6L909.7 589.0L910.2 589.2L910.7 589.6L911.2 589.8L911.7 589.6L912.2 589.5L912.7 588.5L913.2 588.0L913.7 588.5L914.2 589.1L914.7 588.5L915.2 587.4L915.7 587.7L916.2 588.1L916.7 589.1L917.2 589.5L917.7 589.1L918.2 588.7L918.7 588.6L919.2 588.8L919.7 588.2L920.2 587.7L920.7 587.6L921.2 588.2L921.7 587.9L922.2 587.6L922.7 588.2L923.2 588.6L923.7 587.9L924.2 588.1L924.7 587.6L925.2 587.8L925.7 588.1L926.2 588.5L926.7 588.9L927.2 589.8L927.7 589.2L928.2 589.0L928.7 588.7L929.2 588.9L929.7 589.3L930.2 589.4L930.7 589.9L931.2 590.2L931.7 590.6L932.2 590.5L932.7 590.7L933.2 590.8L933.7 591.3L934.2 591.0L934.7 591.2L935.2 590.7L935.7 590.7L936.2 590.8L936.7 590.6L937.2 590.3L937.7 590.4L938.2 590.4L938.7 589.8L939.2 589.7L939.7 589.9L940.2 590.6L940.7 590.8L941.2 590.4L941.7 590.7L942.2 590.5L942.7 590.5L943.2 591.1L943.7 591.0L944.2 591.0L944.7 590.5L945.2 590.0L945.7 589.9L946.2 589.9L946.7 590.3L947.2 590.6L947.7 590.7L948.2 590.6L948.7 590.2L949.2 590.0L949.7 590.4L950.2 590.3L950.7 590.5L951.2 590.6L951.7 591.2L952.2 591.6L952.7 591.3L953.2 591.6L953.7 590.9L954.2 590.9L954.7 591.3L955.2 591.9L955.7 591.9L956.2 591.5L956.7 591.9L957.2 592.2L957.7 592.0L958.2 591.5L958.7 591.3L959.2 591.2L959.7 590.5L960.2 590.3L960.7 590.5L961.2 591.0L961.7 591.1L962.2 591.1L962.7 591.3L963.2 591.5L963.7 591.2L964.2 590.8L964.7 590.5L965.2 589.7L965.7 590.3L966.2 590.0L966.7 590.2L967.2 590.2L967.7 590.1L968.2 590.0L968.7 590.0L969.2 589.9L969.7 590.1L970.2 590.1L970.7 590.5L971.2 591.2L971.7 591.1L972.2 591.1L972.7 591.3L973.2 591.2L973.7 591.6L974.2 592.0L974.7 591.4L975.2 590.9L975.7 591.5L976.2 592.0L976.7 592.0L977.2 592.3L977.7 591.7L978.2 591.5L978.7 591.7L979.2 591.8L979.7 591.7L980.2 591.0L980.7 591.2L981.2 591.6L981.7 591.8L982.2 591.7L982.7 591.7L983.2 591.8L983.7 591.4L984.2 590.8L984.7 591.4L985.2 591.6L985.7 591.2L986.2 590.6L986.7 591.2L987.2 591.0L987.7 591.1L988.2 590.2L988.7 591.0L989.2 591.2L989.7 591.3L990.2 591.2L990.7 591.4L991.2 591.2L991.7 590.9L992.2 590.1L992.7 590.5L993.2 590.2L993.7 590.7L994.2 591.3L994.7 591.2L995.2 591.7L995.7 591.5L996.2 591.2L996.7 591.1L997.2 590.8L997.7 590.9L998.2 591.1L998.7 591.7L999.2 592.0L999.7 592.0L1000.2 591.9L1000.7 591.9L1001.2 591.9L1001.7 591.8L1002.2 591.5L1002.7 591.9L1003.2 592.0L1003.7 592.3L1004.2 592.3L1004.7 592.0L1005.2 591.7L1005.7 591.8L1006.2 591.6L1006.7 591.9L1007.2 592.6L1007.7 591.9L1008.2 591.2L1008.7 591.7L1009.2 591.6L1009.7 591.4L1010.2 590.8L1010.7 590.8L1011.2 590.4L1011.7 590.6L1012.2 590.9L1012.7 591.6L1013.2 592.3L1013.7 592.3L1014.2 592.2L1014.7 591.9L1015.2 591.8L1015.7 591.6L1016.2 591.7L1016.7 592.1L1017.2 592.7L1017.7 592.7L1018.2 593.0L1018.7 592.8L1019.2 592.3L1019.7 593.1L1020.2 593.7L1020.7 593.5L1021.2 593.3L1021.7 593.2L1022.2 593.1L1022.7 592.6L1023.2 592.5L1023.7 592.2L1024.2 592.1L1024.7 592.4L1025.2 592.9L1025.7 592.5L1026.2 592.0L1026.7 592.4L1027.2 592.2L1027.7 592.4L1028.2 592.6L1028.7 592.9L1029.2 593.3L1029.7 592.9L1030.2 592.2L1030.7 592.5L1031.2 592.7L1031.7 592.8L1032.2 592.6L1032.7 592.6L1033.2 592.7L1033.7 592.3L1034.2 592.0L1034.7 592.1L1035.2 592.3L1035.7 592.6L1036.2 592.7L1036.7 593.1L1037.2 593.1L1037.7 593.0L1038.2 592.8L1038.7 592.5L1039.2 592.4L1039.7 592.1L1040.2 592.0L1040.7 591.8L1041.2 591.9L1041.7 592.1L1042.2 592.1L1042.7 591.9L1043.2 592.4L1043.7 592.2L1044.2 591.8L1044.7 592.0L1045.2 592.6L1045.7 592.2L1046.2 591.8L1046.7 591.8L1047.2 591.4L1047.7 591.5L1048.2 591.7L1048.7 592.3L1049.2 592.8L1049.7 592.9L1050.2 592.9L1050.7 592.4L1051.2 592.0L1051.7 592.2L1052.2 592.1L1052.7 592.2L1053.2 591.8L1053.7 591.7L1054.2 592.1L1054.7 592.3L1055.2 592.3L1055.7 592.3L1056.2 591.7L1056.7 592.1L1057.2 592.5L1057.7 592.7L1058.2 593.3L1058.7 593.1L1059.2 593.4L1059.7 593.3L1060.2 593.4L1060.7 593.4L1061.2 593.1L1061.7 592.8L1062.2 592.1L1062.7 592.7L1063.2 593.1L1063.7 592.6L1064.2 591.9L1064.7 592.2L1065.2 592.3L1065.7 592.2L1066.2 592.1L1066.7 591.8L1067.2 591.1L1067.7 591.6L1068.2 591.8L1068.7 591.9L1069.2 592.4L1069.7 592.6L1070.2 592.5L1070.7 592.5L1071.2 592.2L1071.7 592.3L1072.2 592.5L1072.7 592.8L1073.2 593.2L1073.7 592.8L1074.2 592.8L1074.7 592.4L1075.2 592.0L1075.7 592.4L1076.2 592.6L1076.7 592.6L1077.2 592.3L1077.7 592.4L1078.2 592.6L1078.7 592.4L1079.2 592.3L1079.7 592.5L1080.2 592.4L1080.7 592.2L1081.2 592.2L1081.7 592.4L1082.2 592.3L1082.7 592.7L1083.2 592.8L1083.7 592.7L1084.2 592.6L1084.7 592.7L1085.2 592.9L1085.7 592.1L1086.2 592.0L1086.7 592.3L1087.2 592.5L1087.7 592.6L1088.2 592.6L1088.7 592.3L1089.2 591.4L1089.7 592.0L1090.2 592.6L1090.7 591.8L1091.2 591.3L1091.7 592.1L1092.2 592.4L1092.7 592.1L1093.2 592.2L1093.7 592.4L1094.2 592.4L1094.7 592.3L1095.2 591.8L1095.7 592.0L1096.2 592.1L1096.7 592.1L1097.2 592.3L1097.7 592.0L1098.2 592.0L1098.7 591.9L1099.2 591.7L1099.7 592.1L1100.2 592.3L1100.7 591.8L1101.2 591.8L1101.7 592.2L1102.2 592.1L1102.7 592.6L1103.2 592.9L1103.7 592.8L1104.2 592.6L1104.7 592.6L1105.2 592.5L1105.7 592.5L1106.2 592.0L1106.7 592.5L1107.2 592.5L1107.7 592.5L1108.2 592.2L1108.7 592.4L1109.2 592.4L1109.7 592.1L1110.2 592.0L1110.7 592.4L1111.2 592.9L1111.7 592.8L1112.2 592.8L1112.7 592.6L1113.2 593.0L1113.7 593.1L1114.2 593.3L1114.7 593.1L1115.2 593.0L1115.7 592.7L1116.2 593.0L1116.7 593.1L1117.2 593.2L1117.7 592.8L1118.2 592.5L1118.7 592.6L1119.2 592.5L1119.7 592.7L1120.2 593.3L1120.7 593.4L1121.2 593.2L1121.7 593.2L1122.2 592.8L1122.7 593.3L1123.2 593.6L1123.7 593.5L1124.2 593.6L1124.7 593.8L1125.2 594.0L1125.7 593.9L1126.2 593.9L1126.7 593.9L1127.2 593.9L1127.7 593.4L1128.2 593.0L1128.7 593.0L1129.2 593.2L1129.7 592.9L1130.2 593.0L1130.7 592.9L1131.2 592.9L1131.7 593.2L1132.2 593.5L1132.7 593.2L1133.2 593.3L1133.7 593.6L1134.2 593.8L1134.7 593.8L1135.2 593.8L1135.7 593.6L1136.2 593.2L1136.7 593.1L1137.2 593.1L1137.7 593.0L1138.2 593.0L1138.7 593.2L1139.2 593.2L1139.7 593.1L1140.2 592.9L1140.7 593.0L1141.2 593.0L1141.7 592.6L1142.2 592.4L1142.7 592.0L1143.2 592.1L1143.7 592.5L1144.2 592.7L1144.7 592.5L1145.2 592.4L1145.7 593.0L1146.2 593.3L1146.7 593.3L1147.2 593.2L1147.7 592.9L1148.2 592.3L1148.7 592.6L1149.2 592.5L1149.7 592.6L1150.2 592.7L1150.7 592.6L1151.2 592.8L1151.7 593.3L1152.2 593.7L1152.7 593.3L1153.2 592.8L1153.7 592.9L1154.2 593.1L1154.7 593.1L1155.2 593.1L1155.7 593.1L1156.2 593.1L1156.7 592.7L1157.2 592.4L1157.7 592.5L1158.2 592.3L1158.7 592.5L1159.2 592.6L1159.7 592.6L1160.2 592.7L1160.7 592.5L1161.2 592.5L1161.7 592.4L1162.2 592.4L1162.7 592.8L1163.2 592.9L1163.7 593.0L1164.2 593.1L1164.7 592.8L1165.2 592.3L1165.7 592.6L1166.2 592.7L1166.7 592.6L1167.2 592.5L1167.7 592.6L1168.2 592.7L1168.7 592.8L1169.2 593.0L1169.7 593.2L1170.2 593.5L1170.7 593.8L1171.2 593.7L1171.7 593.7L1172.2 593.4L1172.7 593.3L1173.2 593.5L1173.7 593.4L1174.2 593.6L1174.7 593.7L1175.2 593.6L1175.7 593.8L1176.2 594.0L1176.7 593.6L1177.2 593.2L1177.7 593.5L1178.2 593.6L1178.7 593.4L1179.2 593.1L1179.7 592.9L1180.2 592.9L1180.7 593.0L1181.2 592.9L1181.7 593.1L1182.2 593.5L1182.7 593.5L1183.2 593.6L1183.7 593.5L1184.2 593.4L1184.7 593.9L1185.2 594.6L1185.7 594.3L1186.2 594.4L1186.7 594.0L1187.2 593.9L1187.7 593.9L1188.2 593.9L1188.7 593.9L1189.2 594.0L1189.7 593.8L1190.2 593.9L1190.7 593.4L1191.2 593.3L1191.7 593.0L1192.2 592.6L1192.7 592.8L1193.2 592.9L1193.7 592.7L1194.2 592.4L1194.7 592.5L1195.2 592.4L1195.7 592.1L1196.2 592.2L1196.7 592.6L1197.2 592.7L1197.7 592.9L1198.2 592.8L1198.7 593.0L1199.2 593.1L1199.7 593.1L1200.2 592.9L1200.7 593.2L1201.2 593.1L1201.7 593.4L1202.2 593.5L1202.7 593.5L1203.2 593.1L1203.7 593.5L1204.2 593.6L1204.7 593.6L1205.2 593.3L1205.7 593.4L1206.2 593.5L1206.7 593.0L1207.2 592.6L1207.7 593.0L1208.2 593.1L1208.7 592.8L1209.2 592.8L1209.7 593.3L1210.2 593.3L1210.7 593.2L1211.2 593.3L1211.7 593.1L1212.2 593.3L1212.7 593.1L1213.2 593.2L1213.7 593.1L1214.2 593.1L1214.7 593.0L1215.2 593.0L1215.7 593.5L1216.2 593.8L1216.7 593.8L1217.2 593.9L1217.7 593.4L1218.2 593.1L1218.7 593.1L1219.2 593.1L1219.7 593.4L1220.2 593.5L1220.7 593.2L1221.2 593.0L1221.7 593.1L1222.2 593.3L1222.7 593.5L1223.2 593.6L1223.7 593.6L1224.2 593.8L1224.7 593.8L1225.2 593.7L1225.7 593.4L1226.2 592.9L1226.7 592.6L1227.2 592.5L1227.7 592.6L1228.2 592.8L1228.7 593.0L1229.2 593.3L1229.7 593.3L1230.2 593.2L1230.7 593.4L1231.2 593.2L1231.7 593.4L1232.2 593.2L1232.7 593.4L1233.2 593.6L1233.7 593.5L1234.2 593.7L1234.7 593.3L1235.2 593.3L1235.7 593.2L1236.2 593.3L1236.7 593.3L1237.2 593.5L1237.7 593.3L1238.2 593.1L1238.7 592.9L1239.2 592.9L1239.7 593.2L1240.2 593.4L1240.7 593.4L1241.2 593.5L1241.7 593.5L1242.2 593.4L1242.7 593.5L1243.2 593.5L1243.7 593.6L1244.2 593.3L1244.7 593.5L1245.2 593.9L1245.7 593.7L1246.2 593.3L1246.7 593.4L1247.2 593.6L1247.7 593.5L1248.2 593.3L1248.7 593.2L1249.2 593.2L1249.7 593.1L1250.2 593.0L1250.7 593.0L1251.2 592.7L1251.7 592.7L1252.2 592.9L1252.7 593.1L1253.2 593.2L1253.7 593.3L1254.2 593.5L1254.7 593.7L1255.2 594.0L1255.7 593.6L1256.2 593.2L1256.7 593.2L1257.2 593.0L1257.7 593.2L1258.2 593.2L1258.7 593.4L1259.2 593.2L1259.7 593.0L1260.2 593.0L1260.7 592.9L1261.2 592.8L1261.7 593.2L1262.2 593.4L1262.7 593.4L1263.2 593.0L1263.7 593.2L1264.2 593.4L1264.7 593.2L1265.2 593.3L1265.7 593.1L1266.2 592.9L1266.7 593.0L1267.2 593.1L1267.7 593.1L1268.2 593.3L1268.7 593.6L1269.2 593.9L1269.7 593.5L1270.2 593.3L1270.7 593.7L1271.2 593.9L1271.7 593.7L1272.2 593.8L1272.7 593.4L1273.2 593.4L1273.7 593.5L1274.2 593.8L1274.7 594.0L1275.2 594.0L1275.7 593.6L1276.2 593.3L1276.7 593.4L1277.2 593.5L1277.7 593.8L1278.2 594.1L1278.7 594.0L1279.2 593.9L1279.7 594.0L1280.2 593.9L1280.7 593.9L1281.2 594.0L1281.7 594.2L1282.2 594.1L1282.7 593.8L1283.2 593.6L1283.7 593.9L1284.2 594.5L1284.7 594.4L1285.2 594.3L1285.7 594.2L1286.2 594.1L1286.7 594.0L1287.2 594.0L1287.7 594.0L1288.2 593.9L1288.7 593.8L1289.2 594.1L1289.7 594.2L1290.2 594.2L1290.7 594.1L1291.2 594.1L1291.7 593.8L1292.2 593.5L1292.7 593.8L1293.2 594.2L1293.7 593.9L1294.2 593.8L1294.7 593.6L1295.2 593.2L1295.7 593.7L1296.2 594.2L1296.7 594.0L1297.2 594.0L1297.7 593.9L1298.2 593.8L1298.7 593.6L1299.2 593.8L1299.7 593.7L1300.2 593.4L1300.7 593.7L1301.2 593.8L1301.7 593.8L1302.2 593.7L1302.7 593.4L1303.2 593.0L1303.7 593.4L1304.2 593.6L1304.7 593.2L1305.2 593.0L1305.7 593.2L1306.2 593.7L1306.7 593.3L1307.2 593.1L1307.7 593.1L1308.2 593.4L1308.7 593.3L1309.2 593.6L1309.7 593.7L1310.2 594.2L1310.7 594.3L1311.2 594.3L1311.7 594.0L1312.2 593.5L1312.7 593.6L1313.2 593.6L1313.7 593.5L1314.2 593.6L1314.7 593.2L1315.2 592.9L1315.7 593.0L1316.2 593.2L1316.7 593.7L1317.2 594.1L1317.7 593.5L1318.2 593.3L1318.7 593.2L1319.2 593.6L1319.7 593.5L1320.2 593.6L1320.7 593.8L1321.2 593.8L1321.7 593.6L1322.2 593.6L1322.7 593.2L1323.2 592.9L1323.7 593.2L1324.2 593.8L1324.7 594.0L1325.2 594.0L1325.7 594.1L1326.2 594.2L1326.7 594.1L1327.2 594.4L1327.7 594.3L1328.2 594.2L1328.7 594.1L1329.2 593.8L1329.7 594.1L1330.2 594.4L1330.7 594.2L1331.2 594.0L1331.7 593.6L1332.2 593.4L1332.7 593.4L1333.2 593.3L1333.7 593.6L1334.2 593.7L1334.7 594.0L1335.2 594.2L1335.7 594.3L1336.2 594.3L1336.7 594.2L1337.2 593.8L1337.7 594.1L1338.2 594.4L1338.7 594.3L1339.2 594.3L1339.7 594.5L1340.2 594.7L1340.7 594.8L1341.2 595.0L1341.7 594.7L1342.2 594.6L1342.7 594.3L1343.2 593.8L1343.7 593.7L1344.2 593.6L1344.7 593.9L1345.2 594.0L1345.7 594.1L1346.2 594.1L1346.7 594.3L1347.2 594.2L1347.7 594.2L1348.2 594.1L1348.7 594.2L1349.2 594.2L1349.7 593.9L1350.2 593.6L1350.7 594.1L1351.2 594.3L1351.7 594.3L1352.2 594.2L1352.7 594.0L1353.2 594.1L1353.7 594.0L1354.2 594.0L1354.7 594.4L1355.2 594.6L1355.7 594.2L1356.2 594.0L1356.7 593.8L1357.2 593.8L1357.7 594.0L1358.2 594.2L1358.7 594.0L1359.2 593.9L1359.7 593.8L1360.2 593.9L1360.7 593.7L1361.2 593.7L1361.7 593.3L1362.2 592.7L1362.7 593.2L1363.2 593.5L1363.7 593.4L1364.2 593.3L1364.7 593.9L1365.2 594.2L1365.7 594.3L1366.2 594.1L1366.7 593.7L1367.2 593.2L1367.7 593.1L1368.2 593.0L1368.7 593.2L1369.2 592.9L1369.7 593.2L1370.2 593.3L1370.7 593.5L1371.2 593.4L1371.7 593.5L1372.2 593.4L1372.7 593.7L1373.2 594.0L1373.7 593.9L1374.2 593.7L1374.7 593.7L1375.2 593.8L1375.7 593.8L1376.2 593.9L1376.7 593.7L1377.2 593.6L1377.7 593.8L1378.2 594.0L1378.7 594.1L1379.2 594.2L1379.7 594.4L1380.2 594.5L1380.7 594.4L1381.2 594.4L1381.7 594.2L1382.2 594.2L1382.7 593.9L1383.2 593.6L1383.7 593.4L1384.2 593.4L1384.7 593.2L1385.2 593.2L1385.7 593.4L1386.2 593.2L1386.7 593.5L1387.2 593.6L1387.7 594.0L1388.2 594.2L1388.7 593.9L1389.2 593.8L1389.7 593.9L1390.2 594.1L1390.7 594.3L1391.2 594.2L1391.7 593.9L1392.2 593.7L1392.7 593.7L1393.2 593.6L1393.7 593.7L1394.2 593.8L1394.7 593.7L1395.2 593.5L1395.7 593.6L1396.2 593.8L1396.7 593.5L1397.2 593.1L1397.7 593.2L1398.2 593.4L1398.7 593.4L1399.2 593.4L1399.7 593.5L1400.2 593.6L1400.7 593.4L1401.2 593.3L1401.7 593.4L1402.2 593.4L1402.7 593.5L1403.2 593.7L1403.7 593.7L1404.2 593.9L1404.7 593.7L1405.2 593.7L1405.7 593.8L1406.2 594.0L1406.7 593.7L1407.2 593.5L1407.7 593.7L1408.2 593.4L1408.7 593.8L1409.2 593.7L1409.7 594.2L1410.2 594.8L1410.7 594.4L1411.2 594.2L1411.7 594.2L1412.2 594.4L1412.7 594.2L1413.2 594.0L1413.7 594.3L1414.2 594.5L1414.7 594.7L1415.2 594.8L1415.7 594.6L1416.2 594.4L1416.7 594.4L1417.2 594.2L1417.7 594.4L1418.2 594.5L1418.7 594.4L1419.2 594.2L1419.7 594.3L1420.2 594.4L1420.7 594.4L1421.2 594.7L1421.7 594.7L1422.2 594.7L1422.7 594.4L1423.2 594.0L1423.7 594.0L1424.2 593.8L1424.7 593.6L1425.2 593.5L1425.7 593.5L1426.2 593.4L1426.7 593.2L1427.2 593.2L1427.7 593.2L1428.2 593.5L1428.7 593.7L1429.2 593.9L1429.7 594.1L1430.2 594.3L1430.7 594.2L1431.2 594.4L1431.7 594.1L1432.2 594.0L1432.7 594.2L1433.2 594.4L1433.7 594.4L1434.2 594.5L1434.7 594.5L1435.2 594.3L1435.7 594.5L1436.2 594.7L1436.7 594.7L1437.2 594.9L1437.7 594.7L1438.2 594.5L1438.7 594.4L1439.2 594.4L1439.7 594.5L1440.2 594.6L1440.7 594.5L1441.2 594.5L1441.7 594.5L1442.2 594.3L1442.7 594.4L1443.2 594.2L1443.7 594.2L1444.2 594.2L1444.7 594.2L1445.2 594.4L1445.7 594.3L1446.2 594.1L1446.7 594.2L1447.2 594.5L1447.7 594.1L1448.2 593.9L1448.7 594.0L1449.2 594.2L1449.7 594.3L1450.2 594.4L1450.7 594.1L1451.2 594.1L1451.7 594.3L1452.2 594.6L1452.7 594.6L1453.2 594.7L1453.7 594.5L1454.2 594.2L1454.7 594.2L1455.2 594.4L1455.7 594.5L1456.2 594.6L1456.7 594.6L1457.2 594.5L1457.7 594.5L1458.2 594.2L1458.7 594.4L1459.2 594.4L1459.7 594.2L1460.2 593.8L1460.7 594.1L1461.2 594.5L1461.7 594.4L1462.2 594.2L1462.7 594.1L1463.2 594.0L1463.7 594.1L1464.2 594.0L1464.7 593.8L1465.2 593.9L1465.7 593.9L1466.2 593.7L1466.7 593.7L1467.2 593.9L1467.7 593.9L1468.2 594.0L1468.7 594.3L1469.2 594.5L1469.7 594.3L1470.2 594.0L1470.7 594.3L1471.2 594.3L1471.7 594.7L1472.2 595.0L1472.7 595.0L1473.2 594.9L1473.7 594.7L1474.2 594.4L1474.7 594.4L1475.2 594.2L1475.7 594.7L1476.2 595.1L1476.7 595.1L1477.2 595.1L1477.7 594.8L1478.2 594.7L1478.7 594.7L1479.2 594.6L1479.7 594.4L1480.2 594.1L1480.7 594.2L1481.2 594.1L1481.7 594.4L1482.2 594.6L1482.7 594.5L1483.2 594.3L1483.7 594.3L1484.2 594.3L1484.7 594.1L1485.2 594.1L1485.7 594.2L1486.2 594.6L1486.7 594.6L1487.2 594.6L1487.7 594.7L1488.2 594.8L1488.7 594.6L1489.2 594.3L1489.7 594.4L1490.2 594.5L1490.7 594.2L1491.2 593.7L1491.7 593.8L1492.2 593.9L1492.7 593.9L1493.2 594.0L1493.7 594.2L1494.2 594.4L1494.7 594.2L1495.2 594.3L1495.7 594.1L1496.2 594.2L1496.7 594.1L1497.2 594.0L1497.7 594.0L1498.2 594.2L1498.7 594.2L1499.2 594.4L1499.7 594.1L1500.2 594.0L1500.7 593.9L1501.2 594.2L1501.7 594.3L1502.2 594.3L1502.7 594.3L1503.2 594.5L1503.7 594.5L1504.2 594.4L1504.7 594.2L1505.2 593.8L1505.7 594.1L1506.2 594.5L1506.7 594.3L1507.2 594.1L1507.7 594.1L1508.2 594.2L1508.7 594.1L1509.2 594.3L1509.7 594.1L1510.2 593.9L1510.7 593.6L1511.2 593.6L1511.7 593.5L1512.2 593.4L1512.7 593.4L1513.2 593.7L1513.7 593.9L1514.2 594.1L1514.7 594.2L1515.2 594.0L1515.7 594.0L1516.2 593.9L1516.7 594.0L1517.2 594.0L1517.7 594.1L1518.2 594.1L1518.7 593.9L1519.2 593.5L1519.7 593.8L1520.2 594.0L1520.7 593.8L1521.2 593.8L1521.7 593.7L1522.2 593.5L1522.7 594.0L1523.2 594.3L1523.7 594.1L1524.2 593.7L1524.7 594.2L1525.2 594.5L1525.7 594.6L1526.2 595.0L1526.7 595.1L1527.2 595.1L1527.7 595.2L1528.2 595.2L1528.7 595.0L1529.2 594.6L1529.7 594.6L1530.2 594.6L1530.7 594.4L1531.2 594.3L1531.7 594.2L1532.2 594.2L1532.7 594.5L1533.2 594.6L1533.7 594.5L1534.2 594.1L1534.7 594.0L1535.2 594.0L1535.7 594.0L1536.2 593.9L1536.7 593.9L1537.2 593.9L1537.7 593.8L1538.2 593.8L1538.7 593.6L1539.2 593.3L1539.7 593.5L1540.2 593.8L1540.7 594.1L1541.2 594.1L1541.7 594.3L1542.2 594.4L1542.7 594.1L1543.2 593.9L1543.7 594.0L1544.2 593.8L1544.7 593.8L1545.2 594.0L1545.7 593.9L1546.2 593.8L1546.7 594.1L1547.2 594.1L1547.7 594.0L1548.2 594.0L1548.7 594.0L1549.2 594.2L1549.7 594.3L1550.2 594.6L1550.7 594.4L1551.2 594.3L1551.7 594.5L1552.2 594.5L1552.7 594.4L1553.2 594.4L1553.7 594.3L1554.2 594.2L1554.7 594.1L1555.2 594.1L1555.7 594.3L1556.2 594.3L1556.7 594.5L1557.2 594.8L1557.7 594.3L1558.2 593.8L1558.7 593.8L1559.2 593.6L1559.7 593.6L1560.2 593.8L1560.7 593.7L1561.2 593.6L1561.7 593.8L1562.2 593.9L1562.7 593.8L1563.2 593.5L1563.7 593.6L1564.2 593.8L1564.7 593.7L1565.2 593.9L1565.7 593.7L1566.2 593.5L1566.7 593.5L1567.2 593.5L1567.7 593.8L1568.2 594.1L1568.7 593.7L1569.2 593.6L1569.7 593.9L1570.2 594.0L1570.7 594.3L1571.2 594.4L1571.7 594.1L1572.2 593.9L1572.7 594.2L1573.2 594.3L1573.7 594.0L1574.2 594.0L1574.7 594.0L1575.2 594.0L1575.7 594.1L1576.2 594.4L1576.7 594.3L1577.2 594.1L1577.7 594.0L1578.2 593.9L1578.7 594.0L1579.2 594.2L1579.7 594.2L1580.2 594.4L1580.7 594.2L1581.2 594.1L1581.7 594.3L1582.2 594.2L1582.7 594.3L1583.2 594.1L1583.7 594.0L1584.2 594.0L1584.7 593.9L1585.2 594.0L1585.7 594.3L1586.2 594.5L1586.7 594.8L1587.2 595.0L1587.7 594.7L1588.2 594.4L1588.7 594.5L1589.2 594.7L1589.7 594.6L1590.2 594.8L1590.7 594.4L1591.2 594.2L1591.7 594.2L1592.2 594.1L1592.7 594.0L1593.2 594.1L1593.7 594.1L1594.2 594.1L1594.7 594.2L1595.2 594.4L1595.7 594.5L1596.2 594.7L1596.7 594.9L1597.2 594.9L1597.7 595.0L1598.2 595.2L1598.7 594.9L1599.2 594.8L1599.7 594.6L1600.2 594.6L1600.7 594.8L1601.2 595.0L1601.7 594.9L1602.2 594.8L1602.7 594.8L1603.2 594.7L1603.7 594.7L1604.2 594.5L1604.7 594.4L1605.2 594.2L1605.7 594.2L1606.2 594.4L1606.7 594.5L1607.2 594.6L1607.7 594.9L1608.2 595.1L1608.7 594.8L1609.2 594.7L1609.7 594.8L1610.2 595.0L1610.7 594.7L1611.2 594.6L1611.7 594.8L1612.2 594.7L1612.7 594.7L1613.2 594.3L1613.7 594.5L1614.2 594.4L1614.7 594.3L1615.2 594.3L1615.7 594.3L1616.2 594.3L1616.7 594.7L1617.2 594.9L1617.7 594.9L1618.2 594.7L1618.7 594.5L1619.2 594.2L1619.7 594.3L1620.2 594.1L1620.7 594.1L1621.2 594.0L1621.7 594.1L1622.2 594.2L1622.7 594.3L1623.2 594.3L1623.7 594.1L1624.2 593.9L1624.7 593.8L1625.2 593.5L1625.7 593.4L1626.2 593.4L1626.7 593.7L1627.2 593.7L1627.7 593.7L1628.2 593.7L1628.7 594.0L1629.2 594.1L1629.7 593.9L1630.2 594.0L1630.7 594.1L1631.2 594.1L1631.7 594.0L1632.2 593.8L1632.7 594.2L1633.2 597.9L1633.2 597.9L1621.2 597.9L1609.2 598.0L1597.2 598.0L1585.2 598.0L1573.2 598.0L1561.2 598.0L1549.2 598.0L1537.2 598.0L1525.2 598.0L1513.2 598.0L1501.2 598.0L1489.2 598.0L1477.2 598.0L1465.2 598.0L1453.2 598.0L1441.2 598.0L1429.2 598.0L1417.2 598.0L1405.2 598.0L1393.2 598.0L1381.2 598.0L1369.2 598.1L1357.2 598.0L1345.2 598.1L1333.2 598.1L1321.2 598.1L1309.2 598.1L1297.2 598.1L1285.2 598.1L1273.2 598.1L1261.2 598.1L1249.2 598.2L1237.2 598.2L1225.2 598.2L1213.2 598.1L1201.2 598.2L1189.2 598.2L1177.2 598.3L1165.2 598.2L1153.2 598.2L1141.2 598.3L1129.2 598.3L1117.2 598.3L1105.2 598.3L1104.5 598.3L1103.8 598.3L1103.1 598.3L1102.4 598.4L1101.7 598.3L1101.0 598.3L1100.3 598.3L1099.6 598.3L1098.9 598.4L1098.2 598.4L1097.5 598.3L1096.8 598.3L1096.1 598.4L1095.4 598.3L1094.7 598.4L1094.0 598.3L1093.3 598.4L1092.6 598.4L1091.9 598.4L1091.2 598.3L1090.5 598.4L1089.8 598.3L1089.1 598.3L1088.4 598.3L1087.7 598.4L1087.0 598.3L1086.3 598.3L1085.6 598.4L1084.9 598.4L1084.2 598.4L1083.5 598.3L1082.8 598.3L1082.1 598.4L1081.4 598.3L1080.7 598.3L1080.0 598.4L1079.3 598.3L1078.6 598.3L1077.9 598.3L1077.2 598.4L1076.5 598.4L1075.8 598.4L1075.1 598.4L1074.4 598.5L1073.7 598.3L1073.0 598.3L1072.3 598.4L1071.6 598.4L1070.9 598.3L1070.2 598.4L1069.5 598.4L1068.8 598.3L1068.1 598.4L1067.4 598.3L1066.7 598.5L1066.0 598.3L1065.3 598.3L1064.6 598.4L1063.9 598.4L1063.2 598.4L1062.5 598.4L1061.8 598.5L1061.1 598.4L1060.4 598.4L1059.7 598.4L1059.0 598.4L1058.3 598.5L1057.6 598.5L1056.9 598.5L1056.2 598.4L1055.5 598.5L1054.8 598.4L1054.1 598.4L1053.4 598.5L1052.7 598.5L1052.0 598.4L1051.3 598.5L1050.6 598.5L1049.9 598.4L1049.2 598.4L1048.5 598.5L1047.8 598.4L1047.1 598.4L1046.4 598.5L1045.7 598.4L1045.0 598.4L1044.3 598.6L1043.6 598.4L1042.9 598.5L1042.2 598.3L1041.5 598.4L1040.8 598.5L1040.1 598.4L1039.4 598.6L1038.7 598.6L1038.0 598.4L1037.3 598.4L1036.6 598.6L1035.9 598.5L1035.2 598.5L1034.5 598.4L1033.8 598.4L1033.1 598.5L1032.4 598.5L1031.7 598.5L1031.0 598.4L1030.3 598.4L1029.6 598.5L1028.9 598.5L1028.2 598.5L1027.5 598.5L1026.8 598.5L1026.1 598.4L1025.4 598.5L1024.7 598.6L1024.0 598.4L1023.3 598.6L1022.6 598.5L1021.9 598.4L1021.2 598.4L1020.5 598.6L1019.8 598.4L1019.1 598.4L1018.4 598.4L1017.7 598.6L1017.0 598.5L1016.3 598.4L1015.6 598.5L1014.9 598.5L1014.2 598.5L1013.5 598.4L1012.8 598.6L1012.1 598.6L1011.4 598.5L1010.7 598.5L1010.0 598.5L1009.3 598.4L1008.6 598.6L1007.9 598.5L1007.2 598.6L1006.5 598.6L1005.8 598.5L1005.1 598.5L1004.4 598.5L1003.7 598.5L1003.0 598.4L1002.3 598.5L1001.6 598.5L1000.9 598.5L1000.2 598.6L999.5 598.6L998.8 598.6L998.1 598.5L997.4 598.6L996.7 598.5L996.0 598.7L995.3 598.6L994.6 598.5L993.9 598.6L993.2 598.6L992.5 598.5L991.8 598.7L991.1 598.5L990.4 598.5L989.7 598.5L989.0 598.6L988.3 598.5L987.6 598.5L986.9 598.5L986.2 598.7L985.5 598.5L984.8 598.7L984.1 598.7L983.4 598.7L982.7 598.5L982.0 598.7L981.3 598.7L980.6 598.7L979.9 598.7L979.2 598.6L978.5 598.6L977.8 598.7L977.1 598.6L976.4 598.5L975.7 598.5L975.0 598.7L974.3 598.6L973.6 598.8L972.9 598.5L972.2 598.6L971.5 598.7L970.8 598.7L970.1 598.8L969.4 598.7L968.7 598.8L968.0 598.8L967.3 598.8L966.6 598.7L965.9 598.6L965.2 598.7L964.5 598.6L963.8 598.6L963.1 598.7L962.4 598.7L961.7 598.6L961.0 598.5L960.3 598.8L959.6 598.6L958.9 598.7L958.2 598.6L957.5 598.7L956.8 598.8L956.1 598.8L955.4 598.7L954.7 598.8L954.0 598.7L953.3 598.7L952.6 598.7L951.9 598.9L951.2 598.6L950.5 598.6L949.8 598.8L949.1 598.6L948.4 598.6L947.7 598.7L947.0 598.7L946.3 598.7L945.6 598.6L944.9 598.7L944.2 598.7L943.5 598.6L942.8 598.7L942.1 598.6L941.4 598.6L940.7 598.9L940.0 598.9L939.3 598.7L938.6 598.8L937.9 598.6L937.2 598.6L936.5 598.8L935.8 598.9L935.1 598.6L934.4 598.8L933.7 598.9L933.0 598.6L932.3 598.8L931.6 598.7L930.9 598.9L930.2 598.9L929.5 598.9L928.8 598.9L928.1 598.6L927.4 598.9L926.7 598.8L926.0 598.7L925.3 598.7L924.6 598.8L923.9 598.8L923.2 598.8L922.5 599.0L921.8 598.7L921.1 599.0L920.4 598.7L919.7 598.9L919.0 598.8L918.3 598.8L917.6 598.8L916.9 598.7L916.2 598.7L915.5 598.8L914.8 598.7L914.1 599.0L913.4 598.9L912.7 598.9L912.0 598.9L911.3 598.7L910.6 598.7L909.9 598.7L909.2 599.0L908.5 598.9L907.8 599.1L907.1 598.8L906.4 598.8L905.7 598.9L905.0 599.0L904.3 598.9L903.6 598.9L902.9 598.8L902.2 598.8L901.5 599.1L900.8 599.1L900.1 598.9L899.4 598.8L898.7 599.1L898.0 598.9L897.3 599.0L896.6 598.9L895.9 598.7L895.2 599.0L894.5 598.8L893.8 599.1L893.1 598.8L892.4 598.9L891.7 598.7L891.0 598.8L890.3 599.0L889.6 598.8L888.9 598.8L888.2 598.8L887.5 598.7L886.8 599.0L886.1 598.8L885.4 599.1L884.7 599.1L884.0 599.0L883.3 599.2L882.6 599.2L881.9 598.9L881.2 599.1L880.5 599.1L879.8 598.8L879.1 599.1L878.4 598.8L877.7 599.1L877.0 599.2L876.3 599.1L875.6 599.1L874.9 599.1L874.2 599.0L873.5 598.8L872.8 599.0L872.1 598.9L871.4 599.2L870.7 599.2L870.0 599.3L869.3 599.0L868.6 599.3L867.9 599.3L867.2 598.8L866.5 599.1L865.8 598.9L865.1 598.9L864.4 599.0L863.7 599.2L863.0 598.9L862.3 599.0L861.6 599.1L860.9 599.1L860.2 598.9L859.5 598.9L858.8 598.8L858.1 599.0L857.4 599.4L856.7 598.9L856.0 599.3L855.3 599.2L854.6 599.3L853.9 599.3L853.2 598.9L852.5 599.0L851.8 599.3L851.1 599.2L850.4 599.3L849.7 598.9L849.0 599.3L848.3 599.1L847.6 599.3L846.9 599.2L846.2 599.1L845.5 599.2L844.8 598.9L844.1 599.4L843.4 599.4L842.7 599.3L842.0 599.3L841.3 599.3L840.6 599.2L839.9 599.0L839.2 599.3L838.5 599.5L837.8 599.4L837.1 599.4L836.4 599.0L835.7 599.1L835.0 599.1L834.3 599.3L833.6 599.5L832.9 599.3L832.2 599.3L831.5 599.2L830.8 599.1L830.1 599.1L829.4 599.6L828.7 599.5L828.0 599.4L827.3 599.4L826.6 599.1L825.9 599.0L825.2 599.0L824.5 599.0L823.8 599.1L823.1 599.6L822.4 599.3L821.7 599.1L821.0 599.0L820.3 599.0L819.6 599.0L818.9 599.1L818.2 599.2L817.5 599.1L816.8 599.2L816.1 599.4L815.4 599.1L814.7 599.1L814.0 599.5L813.3 599.2L812.6 599.4L811.9 599.2L811.2 599.5L810.5 599.0L809.8 599.2L809.1 599.6L808.4 599.2L807.7 599.5L807.0 599.2L806.3 599.1L805.6 599.4L804.9 599.4L804.2 599.1L803.5 599.4L802.8 599.4L802.1 599.3L801.4 599.6L800.7 599.7L800.0 599.4L799.3 599.3L798.6 599.6L797.9 599.6L797.2 599.5L796.5 599.5L795.8 599.4L795.1 599.6L794.4 599.5L793.7 599.7L793.0 599.3L792.3 599.2L791.6 599.8L790.9 599.6L790.2 599.7L789.5 599.7L788.8 599.7L788.1 599.4L787.4 599.8L786.7 599.6L786.0 599.5L785.3 599.3L784.6 599.2L783.9 599.3L783.2 599.4L782.5 599.4L781.8 599.7L781.1 599.9L780.4 599.6L779.7 599.7L779.0 599.2L778.3 599.7L777.6 599.6L776.9 599.8L776.2 599.5L775.5 599.7L774.8 599.6L774.1 599.8L773.4 599.6L772.7 599.9L772.0 599.9L771.3 599.7L770.6 599.6L769.9 599.8L769.2 599.7L768.5 600.1L767.8 600.0L767.1 599.7L766.4 599.8L765.7 599.3L765.0 600.0L764.3 599.8L763.6 599.3L762.9 599.3L762.2 600.0L761.5 600.0L760.8 599.8L760.1 599.6L759.4 599.5L758.7 599.7L758.0 600.1L757.3 599.9L756.6 599.3L755.9 599.5L755.2 599.4L754.5 600.1L753.8 600.1L753.1 600.2L752.4 599.7L751.7 599.6L751.0 599.4L750.3 599.6L749.6 599.7L748.9 599.7L748.2 599.7L747.5 600.0L746.8 600.2L746.1 599.7L745.4 600.1L744.7 599.6L744.0 599.6L743.3 600.1L742.6 599.5L741.9 599.5L741.2 600.3L740.5 599.9L739.8 599.8L739.1 600.2L738.4 600.3L737.7 599.8L737.0 600.2L736.3 599.6L735.6 600.3L734.9 599.8L734.2 599.8L733.5 599.5L732.8 599.5L732.1 599.8L731.4 599.6L730.7 600.1L730.0 600.5L729.3 599.8L728.6 600.2L727.9 600.1L727.2 600.1L726.5 600.3L725.8 600.0L725.1 600.4L724.4 599.7L723.7 600.2L723.0 600.1L722.3 599.7L721.6 599.8L720.9 600.5L720.2 600.2L719.5 600.1L718.8 600.1L718.1 600.5L717.4 600.2L716.7 599.8L716.0 600.6L715.3 600.5L714.6 600.4L713.9 600.3L713.2 600.3L712.5 599.9L711.8 600.7L711.1 600.4L710.4 599.8L709.7 600.5L709.0 600.1L708.3 599.7L707.6 600.6L706.9 599.9L706.2 600.1L705.5 599.7L704.8 600.2L704.1 600.3L703.4 600.6L702.7 600.8L702.0 600.7L701.3 600.4L700.6 600.1L699.9 600.8L699.2 599.9L698.5 600.0L697.8 600.4L697.1 600.1L696.4 600.4L695.7 599.8L695.0 600.0L694.3 599.7L693.6 600.2L692.9 600.0L692.2 600.7L691.5 600.0L690.8 600.0L690.1 600.6L689.4 600.0L688.7 600.8L688.0 600.4L687.3 599.9L686.6 600.6L685.9 601.0L685.2 600.2L684.5 600.5L683.8 600.5L683.1 601.0L682.4 601.1L681.7 599.9Z" fill="#000"/>
<path d="M681.4 547.4V533.0M683.5 551.5V523.9M685.4 552.6V543.8M688.1 563.5V542.2M692.7 569.0V558.5M695.5 573.6V554.7M697.1 575.3V567.6M700.0 576.9V562.1M705.7 576.5V562.9M711.3 571.8V566.9M717.5 573.8V563.7M723.2 572.2V560.0M729.9 573.5V566.3M733.0 574.8V563.4M734.5 577.0V567.1M735.4 577.6V563.1M737.2 576.1V563.5M738.9 576.5V568.5M740.1 576.8V566.3M745.6 578.3V573.6M747.1 575.8V570.5M752.4 578.1V563.8M758.2 579.4V572.2M762.9 581.0V572.6M765.2 582.2V578.8M772.9 582.4V577.4M775.3 583.4V573.2M777.4 581.9V577.7M787.3 581.0V573.7M792.3 585.2V581.2M795.3 584.2V580.3M798.3 584.8V579.6M799.3 585.7V575.6M800.3 584.1V575.8M802.8 585.3V576.7M808.0 584.7V580.7M820.2 586.4V577.8M821.2 584.2V580.6M826.6 584.9V578.2M828.3 584.7V581.6M829.8 585.5V580.9M831.7 586.8V583.8M833.5 587.4V584.0M835.1 586.3V581.0M836.7 586.5V583.8M846.1 587.5V578.7M850.0 586.9V582.6M852.4 587.5V584.0M854.0 588.4V583.5M859.5 588.8V585.3M860.2 589.5V587.7M863.0 588.7V586.2M865.5 588.2V586.3M866.3 588.1V586.2M870.7 588.6V584.0M875.4 591.0V588.7M881.0 588.9V581.0M884.9 590.7V588.2M887.0 589.6V586.8M890.6 590.1V577.9M891.2 589.5V583.2M894.5 590.7V589.3M898.8 590.6V587.6M900.1 589.7V583.4M909.8 590.2V588.6M912.8 590.0V583.1M920.6 589.2V581.6M931.1 591.1V589.1M933.6 592.0V585.3M934.7 591.9V586.5M936.9 591.5V585.9M938.2 591.3V589.5M943.3 591.9V588.8M944.4 591.9V585.2M946.4 591.3V588.4M947.7 591.6V584.6M959.9 591.5V589.7M963.5 592.1V589.1M967.3 591.3V588.9M969.5 591.0V586.5M970.6 591.5V589.2M974.3 592.7V586.8M975.9 592.4V589.4M978.6 592.6V589.7M984.5 592.0V587.7M996.4 591.9V588.3M1000.4 592.8V586.8M1002.6 592.6V591.1M1005.1 592.7V591.2M1006.3 592.4V591.4M1012.5 592.1V589.5M1013.1 592.9V590.9M1021.4 593.9V592.9M1022.6 593.5V591.7M1025.0 593.5V591.6M1026.2 592.9V589.8M1027.8 593.2V591.7M1028.4 593.4V590.7M1035.4 593.2V587.4M1037.1 593.8V592.9M1041.4 592.7V591.6M1043.7 592.8V587.8M1048.6 593.0V588.3M1049.9 593.6V591.9M1050.5 593.4V587.3M1052.4 592.9V589.8M1054.5 592.9V589.7M1057.3 593.2V592.3M1062.8 593.4V587.4M1065.6 593.0V590.2M1067.6 592.3V588.5M1068.2 592.5V590.1M1071.0 593.1V591.8M1071.9 593.1V591.1M1080.2 593.2V591.0M1081.4 593.0V591.2M1083.2 593.4V590.5M1092.0 593.0V591.0M1097.6 592.9V588.5M1098.5 592.7V586.7M1105.2 593.3V590.9M1106.4 593.0V587.2M1107.3 593.3V590.5M1108.6 593.0V590.0M1113.8 593.8V592.9M1115.4 593.6V590.8M1116.5 593.6V592.5M1118.5 593.3V588.3M1120.1 593.8V592.7M1121.7 593.7V592.8M1123.6 594.1V589.0M1125.9 594.4V589.8M1126.9 594.4V589.5M1127.6 594.1V592.2M1134.7 594.4V593.0M1137.0 593.7V591.6M1140.0 593.6V590.0M1140.9 593.7V589.9M1144.5 593.4V589.4M1147.6 593.5V592.7M1149.0 593.3V591.0M1150.1 593.3V590.6M1152.9 593.7V589.8M1154.2 593.8V591.1M1155.2 593.6V588.8M1156.0 593.6V592.4M1158.6 593.1V588.2M1159.3 593.3V591.5M1160.6 593.3V592.2M1162.1 593.1V591.6M1163.8 593.6V591.4M1164.5 593.5V591.7M1165.1 593.2V587.5M1167.1 593.2V589.9M1168.6 593.4V591.9M1174.1 594.1V591.1M1178.4 594.1V592.8M1179.1 593.9V592.4M1179.7 593.7V588.5M1180.5 593.5V591.6M1187.6 594.4V593.4M1190.3 594.3V589.5M1191.1 594.0V592.1M1193.9 593.2V591.6M1195.2 593.1V588.0M1197.6 593.5V588.7M1200.9 593.7V592.4M1206.3 594.0V592.2M1207.1 593.5V591.1M1209.2 593.6V590.5M1213.6 593.7V592.6M1217.7 594.1V590.4M1222.7 594.1V589.1M1225.6 593.9V592.4M1228.9 593.7V592.8M1231.7 593.8V592.7M1233.5 594.2V590.6M1245.3 594.4V589.2M1248.3 593.9V591.4M1249.8 593.7V590.2M1253.6 593.9V590.1M1254.3 594.2V589.1M1255.0 594.4V593.1M1256.2 593.9V588.9M1257.6 593.7V590.1M1258.7 593.8V592.0M1260.2 593.5V592.4M1264.2 593.9V588.5M1264.9 593.9V591.2M1265.6 593.8V591.2M1266.9 593.6V591.0M1271.4 594.4V591.6M1273.2 593.9V592.5M1274.6 594.4V593.7M1276.5 594.0V588.9M1277.1 594.0V593.2M1277.8 594.4V591.7M1284.0 594.8V592.1M1285.6 594.7V587.3M1288.6 594.5V591.8M1293.2 594.6V591.9M1298.3 594.2V592.9M1305.7 593.8V592.7M1308.1 593.9V592.4M1315.0 593.7V588.8M1315.8 593.7V589.4M1318.6 593.9V593.0M1319.5 594.1V589.2M1323.4 593.7V590.9M1329.7 594.6V590.0M1331.3 594.5V589.9M1332.9 594.0V591.6M1339.2 594.8V590.8M1343.3 594.4V589.3M1344.5 594.3V592.4M1346.7 594.7V593.8M1348.2 594.7V593.0M1350.4 594.3V593.2M1354.0 594.5V589.5M1355.0 594.9V593.5M1355.6 594.8V589.8M1356.7 594.4V590.3M1361.2 594.3V590.0M1370.5 593.9V592.7M1372.7 594.2V593.5M1376.8 594.3V589.9M1380.2 594.9V592.1M1384.5 593.9V591.0M1385.4 593.9V591.1M1393.6 594.2V591.0M1394.9 594.1V592.4M1397.3 593.7V592.9M1398.4 594.0V591.3M1399.9 594.1V592.3M1406.2 594.5V593.1M1406.9 594.3V589.3M1408.2 594.1V592.9M1408.8 594.3V590.6M1410.7 594.9V592.4M1413.6 594.7V594.1M1416.2 594.9V592.6M1425.3 594.1V589.6M1427.2 593.7V591.8M1429.5 594.5V593.9M1434.2 594.9V593.9M1438.6 594.9V592.7M1443.8 594.7V594.0M1444.9 594.8V594.0M1446.2 594.6V591.7M1448.0 594.5V593.1M1448.7 594.6V590.9M1449.6 594.7V589.6M1450.8 594.6V592.5M1452.2 595.0V593.6M1458.5 594.8V592.4M1465.1 594.4V592.3M1466.2 594.3V593.4M1467.6 594.4V592.4M1468.4 594.7V593.1M1469.0 594.9V593.8M1473.2 595.2V594.6M1482.6 594.9V593.3M1488.4 595.1V591.4M1490.7 594.5V593.0M1496.2 594.6V591.9M1500.9 594.6V591.2M1501.8 594.7V591.4M1503.2 594.9V594.2M1503.9 594.9V593.5M1508.3 594.6V593.9M1512.7 594.1V593.1M1513.9 594.4V592.2M1519.0 594.3V590.3M1521.1 594.3V593.1M1526.6 595.4V594.7M1531.7 594.7V591.0M1534.2 594.7V592.0M1535.9 594.4V593.5M1537.5 594.3V593.6M1539.9 594.2V593.4M1542.4 594.7V589.7M1543.9 594.4V591.8M1547.3 594.6V590.1M1548.5 594.4V593.3M1556.3 594.8V592.5M1558.9 594.2V591.8M1562.3 594.4V593.1M1563.3 594.1V589.9M1566.1 594.1V593.2M1569.5 594.2V592.6M1575.0 594.5V593.7M1576.0 594.8V590.1M1577.3 594.5V593.9M1581.6 594.7V591.8M1583.9 594.5V586.2M1584.8 594.5V593.5M1585.7 594.8V591.6M1587.7 595.1V594.2M1590.1 595.2V590.3M1592.7 594.6V590.3M1595.4 594.8V591.1M1597.0 595.3V591.9M1597.9 595.5V594.3M1598.8 595.3V594.6M1607.9 595.3V594.8" fill="none" stroke="#111" stroke-width="0.85"/>
<path d="M682.9 550.6V523.4M684.3 548.3V536.7M686.8 563.0V550.9M689.3 563.6V554.9M690.6 568.7V558.8M692.0 569.8V554.8M694.0 568.9V560.2M698.0 576.0V562.1M702.3 569.5V561.1M703.9 573.4V563.3M704.8 576.1V570.7M706.4 575.1V570.6M707.7 575.3V567.9M708.4 575.6V565.4M709.8 574.4V565.0M712.5 573.0V561.9M714.6 576.6V564.0M716.0 573.0V567.0M721.2 574.9V560.2M727.0 572.9V566.5M727.8 574.2V569.7M728.4 574.5V559.6M731.5 572.2V562.2M736.2 575.9V563.3M744.7 579.0V566.9M746.3 577.7V565.1M748.7 576.8V563.7M749.6 577.7V573.6M750.8 577.8V563.9M754.1 579.0V575.4M754.9 578.6V568.0M755.8 579.7V576.0M756.5 580.7V566.7M757.3 580.4V573.8M759.2 576.8V564.3M763.6 582.0V571.6M766.4 582.4V570.9M767.6 581.0V570.2M769.5 581.7V575.5M770.9 582.2V578.9M771.9 582.7V573.9M778.2 582.8V565.7M780.4 581.0V571.0M783.0 583.4V577.9M788.5 580.6V569.9M791.5 585.0V573.9M796.0 584.3V581.6M801.9 584.9V574.3M803.9 585.6V583.1M804.5 585.6V577.2M805.3 585.4V581.7M807.2 584.9V575.2M810.2 586.5V580.1M813.4 586.2V576.9M815.1 585.7V582.0M818.1 585.8V582.2M819.1 585.6V578.1M822.3 584.6V581.7M823.9 584.3V578.8M824.7 584.8V575.4M826.0 585.5V582.2M827.2 584.4V575.8M832.3 587.0V584.5M838.1 586.2V578.9M839.2 586.8V583.7M840.6 586.8V580.2M843.6 587.5V585.5M845.5 587.9V583.6M847.3 587.8V583.1M849.0 587.0V577.7M857.0 589.7V587.1M857.8 589.0V587.2M864.3 588.7V584.3M867.5 588.4V580.3M868.8 588.6V586.6M869.7 588.7V586.7M872.6 590.0V588.3M874.8 590.6V587.1M876.2 590.0V587.5M882.5 588.7V586.1M883.5 589.0V586.8M892.5 590.1V582.4M893.8 590.6V585.1M895.9 591.1V589.3M897.9 591.1V589.0M901.3 590.0V587.6M902.6 589.4V587.4M906.1 590.6V588.4M907.3 590.4V587.6M908.6 590.5V588.5M913.9 590.0V588.1M916.4 589.8V585.3M923.0 589.7V587.3M925.2 589.2V582.4M926.6 590.1V588.5M928.0 590.2V587.3M929.2 590.2V587.6M932.1 591.6V590.2M941.1 591.6V585.6M942.3 591.5V590.1M950.2 591.2V587.1M951.3 591.7V588.2M952.3 592.3V590.1M953.8 592.0V585.1M957.2 592.9V589.7M958.6 592.3V589.5M960.5 591.4V587.8M962.1 592.1V587.7M964.8 591.3V584.6M965.5 591.1V589.0M968.9 590.9V587.9M972.8 592.2V591.0M973.6 592.5V591.2M977.6 592.7V586.1M979.3 592.7V591.4M980.6 592.2V586.3M991.4 592.0V590.1M992.0 591.4V589.9M992.6 591.3V589.8M994.9 592.3V589.9M997.1 591.7V588.4M1003.6 592.9V591.9M1009.3 592.5V589.4M1010.5 591.8V587.4M1014.0 593.0V588.8M1015.0 592.8V591.1M1016.0 592.5V590.4M1019.1 593.2V592.3M1019.8 593.9V593.0M1024.1 592.9V591.5M1030.0 593.2V592.0M1033.2 593.4V592.0M1034.7 592.9V592.0M1036.2 593.5V592.6M1039.2 593.1V590.3M1042.5 592.8V587.9M1045.8 592.9V588.1M1047.2 592.4V588.4M1059.2 593.9V591.1M1060.3 594.1V591.7M1061.3 593.6V592.6M1066.8 592.5V590.2M1073.9 593.5V588.3M1076.9 593.1V586.6M1077.5 593.1V591.8M1085.9 592.9V591.9M1086.9 593.1V590.3M1088.4 593.2V589.2M1090.7 592.7V584.1M1093.7 593.0V587.4M1099.9 592.8V590.3M1111.7 593.5V587.8M1112.7 593.5V587.8M1117.7 593.5V589.4M1122.7 593.8V588.1M1130.2 593.6V588.3M1132.1 593.9V588.7M1138.2 593.6V592.6M1142.0 593.1V589.4M1143.0 592.8V586.0M1152.3 594.1V592.1M1157.1 593.2V592.3M1170.2 594.1V588.9M1176.4 594.4V589.8M1182.0 593.9V592.4M1186.7 594.6V593.9M1189.8 594.4V590.9M1195.8 592.9V591.3M1199.1 593.8V588.9M1199.7 593.7V592.6M1205.2 594.0V589.8M1208.0 593.6V592.7M1210.7 593.9V593.0M1215.5 593.9V592.7M1219.1 593.8V593.0M1220.0 594.0V591.1M1220.7 593.9V591.5M1224.4 594.3V592.3M1227.9 593.2V591.2M1232.6 594.0V591.7M1241.2 594.0V590.8M1260.8 593.4V591.4M1262.2 594.1V590.3M1263.4 593.7V588.9M1268.5 594.1V590.1M1270.5 594.0V590.2M1272.2 594.2V592.6M1278.9 594.5V592.4M1280.5 594.5V589.4M1290.0 594.6V590.3M1290.9 594.6V589.4M1292.4 594.3V591.6M1295.1 594.0V590.2M1296.7 594.6V593.9M1300.4 594.1V592.3M1303.2 593.6V591.7M1306.9 593.8V590.0M1316.3 593.9V588.8M1317.0 594.4V593.4M1320.7 594.3V593.5M1321.9 594.2V592.3M1324.2 594.3V591.8M1325.8 594.6V591.0M1327.4 594.8V593.3M1328.8 594.5V589.7M1333.8 594.0V589.1M1335.0 594.6V591.3M1336.6 594.6V590.1M1339.8 595.0V593.7M1342.4 594.8V594.1M1349.1 594.6V593.5M1351.9 594.7V593.8M1352.4 594.6V593.5M1359.7 594.4V593.6M1366.5 594.4V591.8M1367.3 593.8V593.0M1368.9 593.7V592.4M1373.8 594.3V591.7M1375.3 594.3V593.3M1378.0 594.5V593.6M1381.5 594.7V590.8M1386.9 594.0V592.4M1388.0 594.6V589.8M1391.9 594.4V592.3M1401.3 593.9V590.9M1402.3 593.9V589.1M1403.0 594.2V589.7M1409.9 594.9V593.0M1412.0 594.9V592.0M1417.6 594.8V590.2M1420.1 594.8V592.5M1423.9 594.5V593.7M1430.2 594.6V591.7M1432.5 594.7V593.5M1436.5 595.1V590.2M1442.0 594.8V589.8M1442.7 594.8V593.8M1453.7 594.8V593.1M1454.3 594.6V592.1M1455.8 595.0V590.7M1456.9 595.0V591.7M1463.9 594.4V592.0M1478.9 595.1V592.9M1481.6 594.8V593.3M1483.5 594.8V593.8M1484.3 594.7V593.9M1485.7 594.8V593.2M1489.3 594.7V590.0M1493.2 594.4V593.7M1495.3 594.7V591.4M1497.1 594.4V589.7M1505.5 594.5V593.8M1506.1 594.8V591.6M1507.7 594.6V589.7M1509.0 594.8V590.0M1511.2 594.2V591.0M1516.7 594.4V593.4M1518.0 594.6V593.9M1519.6 594.3V593.7M1521.9 594.2V592.9M1524.4 594.4V593.2M1529.5 595.1V592.9M1532.4 594.7V590.7M1533.1 595.0V593.8M1535.1 594.5V591.7M1538.3 594.2V589.8M1545.3 594.5V593.8M1551.8 594.9V590.9M1553.3 594.7V592.5M1554.8 594.6V594.0M1557.4 595.0V590.6M1561.4 594.2V593.5M1567.5 594.2V589.7M1568.3 594.5V591.9M1571.0 594.7V590.5M1571.9 594.6V592.4M1579.2 594.7V592.8M1580.2 594.7V592.4M1590.7 594.9V590.7M1600.0 595.1V593.7M1601.4 595.3V591.7M1602.8 595.1V592.6M1604.5 594.9V591.6M1606.8 595.0V593.9M1608.7 595.3V592.4M1611.1 595.1V590.7M1612.8 595.0V594.1M1618.5 595.0V591.3M1619.5 594.7V592.0M1620.5 594.6V590.7M1621.5 594.5V592.9M1625.0 594.1V592.9M1627.7 594.3V592.6M1629.9 594.5V593.5M1631.6 594.5V591.8M1632.7 594.6V592.6" fill="none" stroke="#000" stroke-width="0.85"/>
<path d="M698.6 576.3V568.8M701.6 571.5V559.6M709.0 575.2V569.8M713.0 576.0V571.4M716.8 573.2V559.6M718.6 573.8V565.1M719.5 574.1V569.0M720.4 575.8V570.0M722.1 574.6V560.3M724.4 574.5V569.0M725.6 575.1V569.2M737.8 576.6V566.6M740.8 575.9V568.1M741.7 577.1V562.8M743.3 576.8V569.0M759.9 577.5V565.3M761.5 578.2V565.2M768.5 580.8V568.9M774.5 581.5V578.3M776.3 583.5V580.5M779.1 582.2V577.2M782.0 583.4V577.2M784.2 582.4V577.4M785.0 581.9V576.2M786.6 581.8V575.8M790.1 582.5V579.3M793.8 585.4V575.9M794.4 585.8V578.2M797.4 586.5V583.9M806.2 586.4V579.7M808.8 585.2V575.3M811.3 587.3V580.9M812.0 586.4V581.1M816.5 586.3V576.3M830.5 585.9V577.6M841.7 586.2V579.1M842.8 586.9V581.4M844.6 587.6V580.1M847.9 587.6V583.2M850.9 586.6V583.0M855.3 588.7V579.7M856.1 589.3V582.1M858.9 588.5V585.4M860.9 589.3V581.9M861.6 589.2V584.6M871.5 589.1V586.7M874.1 589.5V585.5M877.4 589.3V586.8M878.3 588.9V586.2M879.7 589.2V582.1M885.8 590.1V588.3M888.5 589.0V583.1M889.2 589.1V587.3M896.6 591.0V583.3M904.1 589.5V585.6M905.1 591.1V589.3M911.2 591.0V585.2M915.1 589.0V582.6M918.0 590.0V584.6M919.4 589.9V588.1M922.1 589.2V586.8M924.5 589.1V587.3M927.3 590.7V586.2M930.4 590.8V588.2M936.0 591.6V590.4M938.9 590.9V589.6M939.5 591.0V584.9M945.6 591.0V588.2M948.7 591.4V587.7M954.8 592.4V589.3M955.8 592.6V589.5M966.1 591.2V585.5M971.8 592.2V589.6M976.5 592.8V588.1M981.3 592.4V590.2M982.4 592.7V585.7M983.6 592.3V585.7M985.8 592.0V589.6M986.4 591.8V587.8M987.8 591.7V586.1M989.0 592.1V588.3M990.5 592.3V591.2M994.2 592.0V586.9M997.8 592.0V587.7M999.1 592.9V591.1M1001.5 592.5V587.6M1007.8 592.7V590.1M1008.7 592.5V589.8M1011.8 591.7V586.0M1017.6 593.5V589.2M1018.5 593.4V592.4M1031.2 593.5V589.0M1031.9 593.3V591.8M1038.1 593.4V591.4M1039.9 592.8V586.9M1044.5 592.8V591.6M1046.6 592.5V591.0M1051.6 592.9V587.2M1053.5 592.7V591.2M1056.2 592.7V587.5M1058.1 593.7V591.2M1062.1 593.0V587.6M1064.0 593.0V591.0M1069.3 593.1V587.9M1070.1 593.3V591.9M1072.5 593.3V592.4M1073.1 593.6V592.7M1075.3 592.8V585.0M1079.0 593.0V587.4M1082.5 593.2V589.7M1084.8 593.4V592.5M1089.3 592.5V587.3M1089.8 592.9V591.8M1091.3 592.5V587.8M1094.7 593.0V590.7M1096.1 593.0V587.4M1101.2 592.6V590.3M1102.3 593.1V588.9M1103.6 593.5V591.9M1110.1 592.7V587.3M1124.8 594.4V590.2M1128.9 593.7V592.3M1131.1 593.4V588.3M1133.3 593.9V593.0M1135.7 594.1V593.0M1139.2 593.9V589.3M1143.6 593.1V590.8M1146.0 593.7V588.6M1150.9 593.4V588.7M1159.9 593.4V592.5M1163.1 593.5V591.1M1166.0 593.3V589.2M1171.0 594.3V592.2M1172.1 594.2V587.7M1172.8 594.0V588.8M1175.0 594.2V591.3M1175.8 594.4V590.2M1177.7 594.1V593.3M1183.4 594.2V592.7M1184.2 594.0V592.2M1185.6 594.9V593.8M1188.5 594.4V589.6M1192.2 593.4V587.7M1196.6 593.0V591.2M1198.2 593.5V591.9M1201.7 594.0V593.2M1202.9 593.9V592.4M1204.5 594.1V589.1M1212.2 593.8V592.3M1214.5 593.7V592.8M1217.0 594.3V592.3M1221.3 593.8V592.4M1223.4 594.2V590.0M1226.8 593.3V589.1M1230.2 593.9V591.6M1231.1 593.8V592.8M1234.6 594.0V591.6M1235.8 593.9V591.3M1237.0 594.0V589.2M1238.2 593.7V589.9M1239.7 593.7V592.9M1242.3 594.1V589.7M1243.3 594.1V591.0M1244.6 594.2V589.2M1246.8 594.1V590.1M1250.7 593.6V592.0M1252.3 593.6V589.8M1269.4 594.3V591.8M1275.2 594.4V593.2M1281.1 594.5V591.8M1282.0 594.6V593.2M1283.0 594.2V593.0M1287.2 594.6V591.6M1294.2 594.4V592.2M1299.1 594.3V590.9M1302.0 594.3V592.4M1304.3 594.1V589.6M1304.8 593.8V590.6M1309.6 594.3V589.5M1310.8 594.8V591.1M1312.4 594.1V590.6M1313.6 594.2V593.4M1320.1 594.2V593.2M1324.9 594.5V591.6M1328.2 594.7V594.1M1337.7 594.6V593.6M1341.0 595.3V590.9M1345.6 594.6V593.9M1347.5 594.7V593.2M1358.3 594.7V591.9M1362.8 593.8V591.4M1364.0 593.9V592.1M1365.3 594.7V591.4M1369.7 593.8V593.0M1371.9 594.0V591.6M1374.7 594.2V589.1M1379.0 594.6V593.3M1382.9 594.4V589.2M1389.4 594.4V589.6M1390.5 594.7V589.6M1396.3 594.2V590.3M1404.3 594.3V593.4M1405.6 594.3V592.0M1415.0 595.1V594.2M1418.6 594.9V590.3M1421.7 595.0V592.2M1422.3 595.0V590.9M1426.6 593.8V590.1M1428.2 594.0V588.9M1431.8 594.6V592.2M1433.6 594.9V593.1M1435.2 594.8V592.7M1437.8 595.1V591.1M1439.6 594.9V592.1M1440.9 594.9V594.2M1447.0 594.8V591.3M1457.5 594.9V594.2M1460.1 594.5V593.3M1461.6 594.8V593.3M1463.0 594.6V592.0M1470.4 594.6V593.7M1472.0 595.2V593.5M1474.6 594.9V593.5M1475.9 595.2V594.4M1477.2 595.4V592.4M1480.2 594.7V589.6M1486.9 595.0V590.2M1491.6 594.3V591.4M1492.3 594.4V591.1M1494.0 594.7V593.2M1498.2 594.6V592.5M1499.1 594.8V593.9M1499.8 594.6V593.4M1510.1 594.5V593.1M1514.6 594.5V591.0M1515.7 594.5V593.6M1523.3 594.7V590.4M1525.2 594.9V590.5M1528.1 595.5V594.7M1530.4 595.0V594.4M1540.9 594.6V593.3M1546.6 594.4V591.2M1549.8 594.9V591.7M1550.8 594.9V593.3M1559.8 594.2V593.1M1564.6 594.3V589.6M1573.1 594.7V592.1M1573.9 594.5V593.9M1578.6 594.5V591.9M1582.6 594.7V590.8M1587.2 595.3V594.1M1588.6 594.9V593.8M1591.9 594.6V590.5M1594.2 594.5V591.5M1602.1 595.3V593.8M1603.9 595.0V591.9M1605.3 594.6V592.8M1610.1 595.3V590.9M1613.6 594.8V591.9M1614.5 594.8V592.3M1615.9 594.8V592.5M1617.3 595.3V592.5M1623.1 594.7V592.8M1623.8 594.5V593.0M1626.5 594.1V593.2M1628.9 594.4V590.0M1630.9 594.6V592.7" fill="none" stroke="#444" stroke-width="0.85"/>
<path d="M681.1 788.8l0.4 -0.3l0.4 -0.1l0.4 -0.3l0.4 0.6l0.4 0.2l0.4 0.3l0.4 -1.2l0.4 0.6l0.4 0.9l0.4 -0.6l0.4 -0.3l0.4 -0.3l0.4 0.2l0.4 0.8l0.4 -1.4l0.4 0.9l0.4 -0.9l0.4 -0.2l0.4 0.5l0.4 0.3l0.4 0.1l0.4 0.4l0.4 -0.5l0.4 -0.6l0.4 0.5l0.4 -0.4l0.4 0.4l0.4 -0.7l0.4 1.1l0.4 -0.5l0.4 -0.4l0.4 0.3l0.4 -0.7l0.4 1l0.4 0.3l0.4 0.6l0.4 -1.6l0.4 1.3l0.4 -0.3l0.4 -1.1l0.4 1.7l0.4 -0.8l0.4 0.4l0.4 -1.3l0.4 2.3l0.4 -1.2l0.4 -0.3l0.4 -0.1l0.4 0.3l0.4 -0.2l0.4 0.2l0.4 -0.3l0.4 -0.1l0.4 0.3l0.4 1.7l0.4 -1.7l0.4 -0.7l0.4 0.4l0.4 0.4l0.4 -0.6l0.4 1l0.4 -0.7l0.4 -0.3l0.4 0l0.4 0.9l0.4 -0.3l0.4 -0.8l0.4 1l0.4 -0.9l0.4 0.2l0.4 0.3l0.4 0.9l0.4 -1.6l0.4 0.9l0.4 -0.9l0.4 0.2l0.4 -0.2l0.4 0.8l0.4 -0.2l0.4 0l0.4 0l0.4 1l0.4 -0.9l0.4 -0.2l0.4 0l0.4 0.5l0.4 0l0.4 0.1l0.4 -0.5l0.4 0.5l0.4 -1l0.4 0.2l0.4 -0.3l0.4 -0.3l0.4 0.7l0.4 -0.6l0.4 0.2l0.4 0.7l0.4 0.1l0.4 0.6l0.4 -0.8l0.4 -0.5l0.4 0.3l0.4 0.2l0.4 0.4l0.4 -0.1l0.4 -0.1l0.4 -1.3l0.4 1.3l0.4 -0.2l0.4 -0.4l0.4 -0.5l0.4 1.4l0.4 -0.2l0.4 0.2l0.4 -1.2l0.4 0.6l0.4 0.3l0.4 0.8l0.4 -0.8l0.4 0.1l0.4 -0.6l0.4 1.1l0.4 -1l0.4 -0.4l0.4 -0.5l0.4 1.3l0.4 -0.1l0.4 -0.8l0.4 0.8l0.4 -0.6l0.4 0.8l0.4 -0.1l0.4 0.2l0.4 -0.7l0.4 0l0.4 0l0.4 0.4l0.4 0.2l0.4 -0.6l0.4 -0.1l0.4 0.3l0.4 -1.1l0.4 0.4l0.4 0.3l0.4 0.5l0.4 -1.3l0.4 1l0.4 -0.3l0.4 0.5l0.4 1.5l0.4 -0.5l0.4 -1.1l0.4 0.1l0.4 0.9l0.4 -1.1l0.4 0.7l0.4 -0.4l0.4 0.1l0.4 -0.3l0.4 -0.3l0.4 0.4l0.4 0.1l0.4 1.3l0.4 -1.2l0.4 0.4l0.4 -0.1l0.4 0.4l0.4 -1.3l0.4 0.1l0.4 1.4l0.4 -1.5l0.4 -0.4l0.4 0.2l0.4 0.2l0.4 0l0.4 0.3l0.4 -0.4l0.4 1.4l0.4 -1.7l0.4 -0.2l0.4 0.4l0.4 0.5l0.4 0l0.4 0.3l0.4 0.3l0.4 -0.2l0.4 -0.7l0.4 1l0.4 -0.9l0.4 0.8l0.4 0.9l0.4 -1.1l0.4 0.5l0.4 -1.3l0.4 0l0.4 1l0.4 0.7l0.4 -0.8l0.4 -0.7l0.4 1.4l0.4 -0.2l0.4 -0.2l0.4 -1.2l0.4 -0.3l0.4 0.5l0.4 -0.1l0.4 -0.2l0.4 1.3l0.4 -0.4l0.4 -1.5l0.4 0.6l0.4 -0.2l0.4 1.2l0.4 -0.5l0.4 -0.5l0.4 0.7l0.4 0.1l0.4 0.1l0.4 -0.3l0.4 -0.1l0.4 0.2l0.4 0l0.4 -0.1l0.4 0l0.4 -0.2l0.4 0.4l0.4 0l0.4 -0.9l0.4 0.9l0.4 0.1l0.4 0.2l0.4 -1l0.4 1.2l0.4 -1l0.4 1.7l0.4 -1l0.4 -0.1l0.4 -0.7l0.4 0.1l0.4 0.9l0.4 -0.4l0.4 -0.3l0.4 0.4l0.4 0.1l0.4 -0.5l0.4 0.1l0.4 -0.6l0.4 -0.4l0.4 0.7l0.4 0.8l0.4 -0.4l0.4 0.9l0.4 -1.1l0.4 0.8l0.4 0.2l0.4 -0.4l0.4 0.4l0.4 -0.7l0.4 0.3l0.4 -0.3l0.4 -0.4l0.4 0.1l0.4 0.7l0.4 1l0.4 -1l0.4 -0.1l0.4 -0.5l0.4 -0.4l0.4 1.2l0.4 0l0.4 -1.1l0.4 1.1l0.4 -0.5l0.4 -0.3l0.4 -0.4l0.4 0.1l0.4 -0.4l0.4 1.1l0.4 -1.4l0.4 2l0.4 -0.8l0.4 0.6l0.4 -0.9l0.4 0.1l0.4 -0.2l0.4 0.4l0.4 -0.5l0.4 0.8l0.4 -0.3l0.4 -1l0.4 0.6l0.4 0.8l0.4 0l0.4 -0.6l0.4 -0.4l0.4 0.3l0.4 -0.4l0.4 1.3l0.4 -0.2l0.4 0.3l0.4 -0.6l0.4 -0.1l0.4 -1l0.4 0.8l0.4 -0.1l0.4 0.7l0.4 -0.4l0.4 -0.5l0.4 0.6l0.4 -0.9l0.4 0.2l0.4 -0.4l0.4 0.8l0.4 -0.2l0.4 -0.3l0.4 0.1l0.4 -0.6l0.4 1.2l0.4 -0.3l0.4 0.9l0.4 -1l0.4 0.7l0.4 0.1l0.4 -1.4l0.4 1.2l0.4 -0.1l0.4 0.5l0.4 -1.7l0.4 2.2l0.4 -1.9l0.4 1.4l0.4 -0.3l0.4 0.6l0.4 -0.2l0.4 -1.1l0.4 0.5l0.4 -0.3l0.4 0.3l0.4 -0.4l0.4 0.5l0.4 0l0.4 -0.1l0.4 0l0.4 0.2l0.4 -0.8l0.4 0.6l0.4 -0.7l0.4 0.3l0.4 -0.6l0.4 0.8l0.4 -0.4l0.4 0.2l0.4 -0.1l0.4 -1.1l0.4 1.1l0.4 0.5l0.4 -0.2l0.4 0.4l0.4 -0.7l0.4 0l0.4 0l0.4 1.4l0.4 -0.5l0.4 -0.2l0.4 0.8l0.4 -0.8l0.4 0l0.4 1.2l0.4 -2.2l0.4 1l0.4 -0.4l0.4 -0.5l0.4 0.9l0.4 -0.6l0.4 0.4l0.4 -0.5l0.4 0.6l0.4 -0.4l0.4 -1.2l0.4 1.3l0.4 -0.2l0.4 0.2l0.4 0.3l0.4 -0.4l0.4 -0.2l0.4 -0.8l0.4 0.4l0.4 -0.4l0.4 1.8l0.4 -0.1l0.4 -0.2l0.4 -1l0.4 1.3l0.4 -0.9l0.4 0.5l0.4 0.6l0.4 -1l0.4 -0.1l0.4 -0.5l0.4 1.1l0.4 -1.1l0.4 1.2l0.4 0.2l0.4 -0.7l0.4 -0.2l0.4 -0.4l0.4 0.4l0.4 0.9l0.4 0.1l0.4 -1l0.4 0.9l0.4 -1.1l0.4 0.3l0.4 -0.9l0.4 0.6l0.4 -0.2l0.4 0l0.4 0.1l0.4 0.5l0.4 -0.6l0.4 0.5l0.4 -0.3l0.4 0.1l0.4 0.3l0.4 -0.5l0.4 1.1l0.4 -0.2l0.4 -0.2l0.4 0.5l0.4 -0.3l0.4 0.4l0.4 -0.6l0.4 -0.8l0.4 0.3l0.4 0.1l0.4 -0.1l0.4 0.5l0.4 -0.6l0.4 0.1l0.4 0.5l0.4 -0.4l0.4 0.3l0.4 0.5l0.4 -1.4l0.4 0.5l0.4 -0.4l0.4 0.7l0.4 -0.1l0.4 0.2l0.4 -0.9l0.4 0.1l0.4 0.3l0.4 0.7l0.4 -0.4l0.4 -0.1l0.4 1.5l0.4 -0.8l0.4 -1.3l0.4 0.7l0.4 0.9l0.4 -0.1l0.4 0.6l0.4 -1.1l0.4 0.2l0.4 -0.7l0.4 0.3l0.4 0.3l0.4 0.5l0.4 -0.8l0.4 0l0.4 0.3l0.4 0.2l0.4 -0.5l0.4 -0.3l0.4 0.7l0.4 0.3l0.4 -0.6l0.4 0.5l0.4 -0.7l0.4 0l0.4 0l0.4 -0.8l0.4 0.2l0.4 -0.4l0.4 0.9l0.4 0.3l0.4 0.8l0.4 -1.5l0.4 1l0.4 -0.2l0.4 -0.4l0.4 0.1l0.4 0.6l0.4 0.2l0.4 -0.8l0.4 -0.1l0.4 0.1l0.4 -0.2l0.4 0.3l0.4 -0.1l0.4 0.4l0.4 -0.4l0.4 -0.2l0.4 0.4l0.4 0.1l0.4 0l0.4 -0.4l0.4 0.6l0.4 -0.7l0.4 0.3l0.4 -0.1l0.4 -1l0.4 0.2l0.4 1.2l0.4 -0.3l0.4 0.2l0.4 0.2l0.4 -0.4l0.4 -0.3l0.4 -0.1l0.4 1l0.4 -0.4l0.4 0.1l0.4 -0.1l0.4 0.4l0.4 -1.2l0.4 1.3l0.4 -1.4l0.4 0.8l0.4 -0.8l0.4 1.2l0.4 -0.4l0.4 0.6l0.4 -0.4l0.4 0.3l0.4 -0.1l0.4 -0.5l0.4 1.2l0.4 -0.9l0.4 -0.7l0.4 1l0.4 0.3l0.4 -1.2l0.4 0.5l0.4 -1.2l0.4 0.6l0.4 -0.2l0.4 0.9l0.4 -1.2l0.4 0.9l0.4 -0.6l0.4 1l0.4 -0.8l0.4 0.6l0.4 1l0.4 -1.2l0.4 -0.2l0.4 -0.1l0.4 1.2l0.4 -1.5l0.4 1.1l0.4 -0.6l0.4 0.7l0.4 -0.2l0.4 -0.5l0.4 0l0.4 0.4l0.4 -0.2l0.4 0.3l0.4 0.2l0.4 -1l0.4 0.4l0.4 -0.2l0.4 0.1l0.4 -0.6l0.4 1.3l0.4 -0.8l0.4 0.8l0.4 -1.8l0.4 0.4l0.4 -0.2l0.4 0.9l0.4 0l0.4 0.2l0.4 0l0.4 0.2l0.4 0.3l0.4 -1.2l0.4 0.1l0.4 0.5l0.4 0l0.4 -0.2l0.4 0.3l0.4 -0.9l0.4 1.9l0.4 0.1l0.4 -0.9l0.4 -0.5l0.4 -0.1l0.4 -0.1l0.4 -0.9l0.4 1.4l0.4 -0.1l0.4 0.1l0.4 -0.3l0.4 -0.2l0.4 0.5l0.4 -0.5l0.4 1.3l0.4 -1l0.4 -0.3l0.4 0.7l0.4 -1l0.4 0.6l0.4 -0.6l0.4 0.1l0.4 -0.3l0.4 1.2l0.4 -0.5l0.4 0.4l0.4 -0.5l0.4 -0.3l0.4 0.2l0.4 0.4l0.4 -0.5l0.4 -0.3l0.4 1.2l0.4 0.1l0.4 -0.8l0.4 0.1l0.4 0l0.4 1l0.4 -0.7l0.4 -0.8l0.4 0.9l0.4 -0.2l0.4 -0.1l0.4 1.3l0.4 -0.4l0.4 -0.2l0.4 -1.3l0.4 1.2l0.4 0l0.4 0.1l0.4 -0.2l0.4 0.3l0.4 -1.6l0.4 0.9l0.4 0.1l0.4 -0.3l0.4 -0.7l0.4 0.5l0.4 -0.4l0.4 1l0.4 -0.3l0.4 -1l0.4 0.7l0.4 0.5l0.4 -0.1l0.4 -0.3l0.4 1l0.4 -1l0.4 -0.3l0.4 0.2l0.4 0.7l0.4 -1.4l0.4 1l0.4 -0.3l0.4 0.3l0.4 0.5l0.4 -0.1l0.4 0.3l0.4 -0.3l0.4 -0.7l0.4 1.2l0.4 -0.3l0.4 0.2l0.4 -0.4l0.4 -0.6l0.4 -0.6l0.4 0.3l0.4 1l0.4 -0.2l0.4 -1l0.4 1l0.4 -0.8l0.4 0.3l0.4 0.1l0.4 0.3l0.4 0.3l0.4 -0.2l0.4 -0.5l0.4 -0.4l0.4 0.1l0.4 0.6l0.4 -0.3l0.4 0.7l0.4 -0.4l0.4 0.3l0.4 -0.1l0.4 -0.8l0.4 -0.3l0.4 -0.4l0.4 0.6l0.4 1.5l0.4 -0.7l0.4 0.5l0.4 -0.3l0.4 -0.5l0.4 0.1l0.4 1l0.4 -0.4l0.4 -1.1l0.4 0.3l0.4 0.4l0.4 -0.8l0.4 1l0.4 -1.1l0.4 1.5l0.4 0.1l0.4 -0.6l0.4 -0.3l0.4 0.4l0.4 -1.4l0.4 0.5l0.4 1.4l0.4 -1.2l0.4 0.7l0.4 -1.8l0.4 1.7l0.4 -0.1l0.4 -1.8l0.4 0.6l0.4 0.8l0.4 0.7l0.4 -1l0.4 -0.5l0.4 1.8l0.4 -0.8l0.4 -0.1l0.4 0.9l0.4 -0.9l0.4 0.6l0.4 -0.9l0.4 -0.4l0.4 1.2l0.4 0.5l0.4 -2.2l0.4 2.4l0.4 -0.9l0.4 0.8l0.4 0.1l0.4 -0.8l0.4 1.1l0.4 -1.3l0.4 0.4l0.4 0.1l0.4 -0.4l0.4 -0.6l0.4 1.8l0.4 -1.1l0.4 -0.7l0.4 0.9l0.4 -0.4l0.4 -0.7l0.4 0.3l0.4 0.4l0.4 0.9l0.4 -1.3l0.4 0.9l0.4 0l0.4 -0.8l0.4 -0.4l0.4 0.5l0.4 -1.1l0.4 0.9l0.4 0.2l0.4 -0.4l0.4 -0.2l0.4 0l0.4 0.6l0.4 0.5l0.4 0l0.4 -0.6l0.4 1.4l0.4 -1.1l0.4 0.2l0.4 0.5l0.4 -0.4l0.4 -0.9l0.4 0.9l0.4 -1.2l0.4 1.1l0.4 -0.4l0.4 -1.2l0.4 1.6l0.4 -0.2l0.4 0.7l0.4 -1.8l0.4 1.2l0.4 0.7l0.4 -1.6l0.4 1.2l0.4 -0.9l0.4 0.3l0.4 0.3l0.4 -1.3l0.4 1l0.4 -0.9l0.4 1.5l0.4 -0.3l0.4 0.5l0.4 -0.4l0.4 -0.4l0.4 0.8l0.4 -0.1l0.4 -0.3l0.4 -0.7l0.4 0.9l0.4 0l0.4 0.5l0.4 -1.4l0.4 1.3l0.4 -1.7l0.4 0.9l0.4 0l0.4 -0.5l0.4 0.6l0.4 0.4l0.4 -0.3l0.4 -0.6l0.4 0.4l0.4 0l0.4 -0.2l0.4 0.2l0.4 0.2l0.4 -0.9l0.4 0.5l0.4 -0.5l0.4 0l0.4 -0.1l0.4 0.3l0.4 0.5l0.4 0.2l0.4 -0.3l0.4 -0.2l0.4 -0.2l0.4 0.5l0.4 -0.6l0.4 0.8l0.4 -0.2l0.4 0l0.4 -0.2l0.4 -0.2l0.4 0.2l0.4 -1.1l0.4 1.8l0.4 -0.8l0.4 1.3l0.4 -0.4l0.4 0.3l0.4 -0.8l0.4 -0.6l0.4 0.6l0.4 -0.2l0.4 0.6l0.4 0l0.4 0.3l0.4 -0.3l0.4 -0.7l0.4 -0.2l0.4 0.3l0.4 -0.2l0.4 -0.8l0.4 1.1l0.4 0l0.4 0.3l0.4 0l0.4 -0.3l0.4 -0.2l0.4 0.6l0.4 -0.8l0.4 0.7l0.4 -0.7l0.4 0.6l0.4 0.2l0.4 0l0.4 -1.2l0.4 1.3l0.4 -0.7l0.4 0.4l0.4 -0.6l0.4 0.8l0.4 0.3l0.4 -0.5l0.4 0.4l0.4 -0.7l0.4 0.9l0.4 -0.9l0.4 0.7l0.4 -1.1l0.4 0.9l0.4 -0.9l0.4 -0.2l0.4 0.9l0.4 -0.4l0.4 -0.2l0.4 -0.5l0.4 0.9l0.4 0.6l0.4 -1.5l0.4 1.6l0.4 0l0.4 0l0.4 -0.8l0.4 0.6l0.4 -0.3l0.4 -0.5l0.4 0.7l0.4 0.5l0.4 -1.5l0.4 0.6l0.4 -0.1l0.4 1.4l0.4 -1.1l0.4 0.4l0.4 -0.6l0.4 0.3l0.4 0.2l0.4 -0.3l0.4 0.1l0.4 -0.7l0.4 0.1l0.4 0.7l0.4 -0.2l0.4 -0.8l0.4 0.3l0.4 0.4l0.4 0.1l0.4 -0.9l0.4 0.2l0.4 0.1l0.4 0l0.4 0.8l0.4 -0.5l0.4 -0.3l0.4 0.2l0.4 -0.3l0.4 0l0.4 0.6l0.4 0.8l0.4 -0.9l0.4 -0.3l0.4 -0.1l0.4 0.3l0.4 0.3l0.4 -0.6l0.4 1l0.4 -0.4l0.4 -0.1l0.4 -0.1l0.4 0.2l0.4 0l0.4 0.2l0.4 -0.7l0.4 0.6l0.4 0l0.4 -1l0.4 1.3l0.4 -0.6l0.4 -0.6l0.4 1.4l0.4 -1.2l0.4 -0.2l0.4 0.5l0.4 -0.3l0.4 0.5l0.4 0.5l0.4 -1.1l0.4 1l0.4 -0.4l0.4 -0.2l0.4 0.5l0.4 -0.9l0.4 0.3l0.4 -0.2l0.4 0.4l0.4 -0.3l0.4 0.6l0.4 0.6l0.4 -1.2l0.4 0.5l0.4 -0.6l0.4 0.3l0.4 0.5l0.4 0.4l0.4 -0.6l0.4 0.3l0.4 -0.1l0.4 -0.1l0.4 -0.6l0.4 0.5l0.4 -0.2l0.4 -0.7l0.4 -0.6l0.4 1.6l0.4 -0.9l0.4 0.1l0.4 -0.6l0.4 0.5l0.4 1.1l0.4 -1.2l0.4 1.4l0.4 -0.3l0.4 -0.4l0.4 -0.6l0.4 0.7l0.4 -0.2l0.4 0l0.4 0.7l0.4 -0.3l0.4 -0.3l0.4 -0.2l0.4 0.9l0.4 -1.2l0.4 0.6l0.4 -0.4l0.4 0.8l0.4 -0.4l0.4 0l0.4 0.3l0.4 -0.4l0.4 -0.1l0.4 -0.1l0.4 0l0.4 0l0.4 -0.2l0.4 -0.3l0.4 0.8l0.4 0.2l0.4 -0.6l0.4 -0.3l0.4 0.7l0.4 -1.5l0.4 2.3l0.4 -1.3l0.4 0.5l0.4 -0.6l0.4 0.5l0.4 0.4l0.4 0.2l0.4 -0.5l0.4 -0.2l0.4 0.9l0.4 0l0.4 -1.1l0.4 0.5l0.4 -1.1l0.4 1.5l0.4 -0.8l0.4 0.2l0.4 -0.4l0.4 0.9l0.4 0.3l0.4 -0.5l0.4 0.4l0.4 -1.1l0.4 0.3l0.4 0.1l0.4 0.7l0.4 -0.6l0.4 -0.8l0.4 0.5l0.4 0.9l0.4 -1.2l0.4 0l0.4 0.1l0.4 -0.3l0.4 0.8l0.4 0.7l0.4 -0.8l0.4 -0.1l0.4 0.4l0.4 0.2l0.4 -1.4l0.4 0.8l0.4 0.6l0.4 -0.8l0.4 0.3l0.4 0.1l0.4 -0.3l0.4 0.7l0.4 -0.3l0.4 0.2l0.4 -0.2l0.4 0.4l0.4 0.2l0.4 -0.9l0.4 0.3l0.4 -0.2l0.4 -1.2l0.4 0.9l0.4 0.9l0.4 -0.5l0.4 -0.4l0.4 -0.6l0.4 0.5l0.4 0.3l0.4 -0.2l0.4 -0.5l0.4 0.5l0.4 0.4l0.4 -0.8l0.4 0.9l0.4 -0.4l0.4 -0.1l0.4 0.8l0.4 -0.6l0.4 0.1l0.4 -0.4l0.4 0.3l0.4 0.3l0.4 -0.6l0.4 0.4l0.4 0.3l0.4 -1.1l0.4 1.9l0.4 -1.4l0.4 0.8l0.4 -1.2l0.4 1.3l0.4 -0.9l0.4 0.4l0.4 0.8l0.4 -1.1l0.4 -0.9l0.4 0.7l0.4 0.1l0.4 0.3l0.4 0.5l0.4 -1.2l0.4 1l0.4 -0.8l0.4 1.4l0.4 -0.2l0.4 -0.5l0.4 -0.8l0.4 0.8l0.4 -0.6l0.4 -0.2l0.4 0.7l0.4 -0.9l0.4 0.3l0.4 -0.1l0.4 0.7l0.4 -0.1l0.4 0.3l0.4 0.2l0.4 -0.3l0.4 -0.6l0.4 1.8l0.4 -1.8l0.4 0.9l0.4 -0.3l0.4 0.9l0.4 -0.9l0.4 -0.4l0.4 -0.6l0.4 1l0.4 0.3l0.4 -0.9l0.4 0.5l0.4 -0.5l0.4 0.9l0.4 -0.6l0.4 0.4l0.4 -0.7l0.4 0.1l0.4 0.5l0.4 -0.5l0.4 -0.7l0.4 0.2l0.4 0.1l0.4 0.3l0.4 0l0.4 0.3l0.4 -0.8l0.4 0.3l0.4 0.6l0.4 0.6l0.4 0.1l0.4 -0.5l0.4 0.1l0.4 1.2l0.4 -1.4l0.4 0.5l0.4 -1l0.4 -0.1l0.4 0.1l0.4 0.5l0.4 -0.5l0.4 0.2l0.4 0.6l0.4 -0.1l0.4 -0.9l0.4 0.3l0.4 1.3l0.4 -2l0.4 0.4l0.4 1l0.4 0.4l0.4 -0.7l0.4 0l0.4 0l0.4 -0.7l0.4 -0.1l0.4 0.1l0.4 -0.3l0.4 0.7l0.4 0l0.4 -0.3l0.4 0.8l0.4 -0.4l0.4 0.5l0.4 -0.1l0.4 -0.5l0.4 -0.4l0.4 0.9l0.4 0.3l0.4 -0.4l0.4 0.1l0.4 -0.5l0.4 0.5l0.4 -0.3l0.4 0.3l0.4 0l0.4 0.5l0.4 -0.3l0.4 0.3l0.4 -0.5l0.4 -0.2l0.4 0l0.4 0.2l0.4 -0.1l0.4 -0.3l0.4 0.5l0.4 -0.6l0.4 0.6l0.4 -0.6l0.4 0l0.4 -0.1l0.4 1l0.4 -0.2l0.4 -0.2l0.4 0.2l0.4 -0.3l0.4 -1.1l0.4 1.4l0.4 -0.8l0.4 -0.8l0.4 0.3l0.4 -0.1l0.4 0.5l0.4 0.1l0.4 0.6l0.4 -0.4l0.4 -0.7l0.4 1.2l0.4 -0.5l0.4 0.3l0.4 -0.2l0.4 0.3l0.4 1.1l0.4 -1.3l0.4 0.8l0.4 -0.7l0.4 -0.1l0.4 0.2l0.4 0.1l0.4 -0.5l0.4 -0.1l0.4 0.4l0.4 0.1l0.4 -0.2l0.4 -0.9l0.4 0l0.4 0.9l0.4 -0.1l0.4 0.2l0.4 0.1l0.4 -0.4l0.4 1l0.4 -2l0.4 0.5l0.4 -1.1l0.4 0.4l0.4 1.2l0.4 -0.2l0.4 0l0.4 0.5l0.4 -1.1l0.4 1.4l0.4 -0.4l0.4 -0.1l0.4 1.3l0.4 -1.6l0.4 0.6l0.4 0.5l0.4 -0.6l0.4 0.2l0.4 -0.6l0.4 0.7l0.4 0.1l0.4 -0.7l0.4 -0.3l0.4 0.1l0.4 0.8l0.4 -0.5l0.4 0.4l0.4 -1.4l0.4 0.4l0.4 0.3l0.4 0.4l0.4 -0.3l0.4 1l0.4 -1.4l0.4 0l0.4 0.3l0.4 -0.4l0.4 1l0.4 -1l0.4 0.2l0.4 -0.5l0.4 0.2l0.4 1l0.4 0.1l0.4 -0.9l0.4 0.1l0.4 0.1l0.4 0.9l0.4 -0.8l0.4 1l0.4 -0.2l0.4 -0.9l0.4 1.3l0.4 -0.4l0.4 -0.3l0.4 -0.3l0.4 0.7l0.4 -0.6l0.4 -0.1l0.4 0.3l0.4 -0.4l0.4 0l0.4 1.1l0.4 -0.4l0.4 -1.6l0.4 0.9l0.4 -0.2l0.4 0.3l0.4 -0.2l0.4 -0.5l0.4 1.1l0.4 -0.7l0.4 -0.1l0.4 -0.6l0.4 0.7l0.4 0.3l0.4 0.1l0.4 -0.4l0.4 1l0.4 -0.5l0.4 0.4l0.4 0l0.4 -0.3l0.4 0.1l0.4 0.6l0.4 -0.6l0.4 0.4l0.4 -0.3l0.4 -0.6l0.4 -0.2l0.4 1.5l0.4 -1.2l0.4 0l0.4 0l0.4 0.6l0.4 0l0.4 -0.3l0.4 -0.2l0.4 -0.8l0.4 1.3l0.4 -0.1l0.4 -0.8l0.4 0l0.4 0.2l0.4 0.3l0.4 -1.3l0.4 0.9l0.4 0l0.4 -0.1l0.4 0.1l0.4 -0.7l0.4 0.9l0.4 0.6l0.4 -0.4l0.4 0.1l0.4 0l0.4 -0.2l0.4 0.6l0.4 -0.5l0.4 0.3l0.4 -1l0.4 0.1l0.4 0.5l0.4 0.9l0.4 -1.2l0.4 0.9l0.4 -0.9l0.4 0.4l0.4 0.3l0.4 0.4l0.4 0.4l0.4 -0.5l0.4 -0.9l0.4 0.1l0.4 0.3l0.4 0.3l0.4 0.1l0.4 -1.4l0.4 -0.1l0.4 0.4l0.4 1l0.4 -0.7l0.4 0.6l0.4 0.2l0.4 -0.5l0.4 -0.1l0.4 -0.5l0.4 0.8l0.4 -0.2l0.4 -0.9l0.4 1.1l0.4 -1l0.4 0.7l0.4 1.1l0.4 -1.7l0.4 -0.1l0.4 -0.1l0.4 1.4l0.4 -0.8l0.4 1.1l0.4 -0.5l0.4 0.1l0.4 -0.3l0.4 -0.4l0.4 1l0.4 -0.4l0.4 0l0.4 -1.1l0.4 0.4l0.4 0.2l0.4 0.2l0.4 -0.7l0.4 0.5l0.4 -0.6l0.4 0.9l0.4 -0.9l0.4 1l0.4 0.5l0.4 -1.5l0.4 0.7l0.4 -0.1l0.4 -0.7l0.4 0.9l0.4 -0.5l0.4 0.2l0.4 0.1l0.4 -0.2l0.4 0.2l0.4 0.1l0.4 0.3l0.4 0l0.4 -0.1l0.4 -0.3l0.4 0.5l0.4 0.1l0.4 -0.3l0.4 0.7l0.4 -0.2l0.4 -0.8l0.4 0.7l0.4 -1.3l0.4 1l0.4 0.1l0.4 0.1l0.4 -0.7l0.4 0.4l0.4 -0.5l0.4 0.5l0.4 -0.3l0.4 0.2l0.4 -0.9l0.4 0.5l0.4 0.4l0.4 -0.9l0.4 1.5l0.4 -0.4l0.4 -0.7l0.4 0.3l0.4 -0.4l0.4 0l0.4 0l0.4 0.3l0.4 1.3l0.4 -0.6l0.4 0.8l0.4 -1.5l0.4 0.7l0.4 0l0.4 0.2l0.4 -1.2l0.4 -0.3l0.4 1l0.4 0.8l0.4 -1.4l0.4 0.6l0.4 0.2l0.4 -0.3l0.4 0.5l0.4 -0.3l0.4 0.1l0.4 -0.4l0.4 -0.4l0.4 0.2l0.4 0.3l0.4 -0.4l0.4 -0.5l0.4 0.1l0.4 0.9l0.4 -1.3l0.4 1.6l0.4 -0.9l0.4 0.9l0.4 0.5l0.4 -1.2l0.4 0.2l0.4 0.5l0.4 -0.2l0.4 1.1l0.4 -2.1l0.4 1.1l0.4 -0.1l0.4 -0.7l0.4 0.8l0.4 -0.4l0.4 -0.2l0.4 0.3l0.4 0.5l0.4 -0.4l0.4 0.2l0.4 -1.6l0.4 1.1l0.4 0l0.4 -0.3l0.4 0.3l0.4 0.9l0.4 -1.6l0.4 -0.1l0.4 1.1l0.4 -1.6l0.4 1.2l0.4 0.1l0.4 -1l0.4 1.3l0.4 0.5l0.4 -0.6l0.4 -0.2l0.4 0.3l0.4 0.5l0.4 -0.4l0.4 -0.3l0.4 0l0.4 -0.1l0.4 -0.2l0.4 0.6l0.4 0.5l0.4 -0.6l0.4 0.1l0.4 0l0.4 -0.7l0.4 -0.5l0.4 1.8l0.4 -1.5l0.4 0.2l0.4 0.9l0.4 -0.8l0.4 0.2l0.4 -0.6l0.4 0.7l0.4 -0.2l0.4 -0.5l0.4 -0.4l0.4 0.9l0.4 -0.2l0.4 -0.7l0.4 1.9l0.4 0.3l0.4 -1.4l0.4 0.6l0.4 0l0.4 0l0.4 -0.1l0.4 0.1l0.4 0.1l0.4 -0.4l0.4 -0.1l0.4 0.5l0.4 -0.8l0.4 0.9l0.4 0.2l0.4 -0.3l0.4 -0.4l0.4 0l0.4 -0.5l0.4 1.1l0.4 -0.2l0.4 0.4l0.4 -0.9l0.4 0.2l0.4 -0.1l0.4 0l0.4 -0.7l0.4 1.3l0.4 -1.2l0.4 -0.2l0.4 0.5l0.4 0.3l0.4 0.2l0.4 0.1l0.4 0.2l0.4 -1.4l0.4 1.1l0.4 -1l0.4 0.9l0.4 0.2l0.4 -0.2l0.4 0.6l0.4 -0.2l0.4 -0.8l0.4 0.6l0.4 0.5l0.4 -1.4l0.4 1.1l0.4 -0.4l0.4 0.4l0.4 -1.1l0.4 1.3l0.4 0.2l0.4 -0.4l0.4 -0.3l0.4 0.1l0.4 0.4l0.4 -1l0.4 0.4l0.4 -0.3l0.4 0.9l0.4 -1l0.4 -0.5l0.4 -0.1l0.4 0.2l0.4 0.1l0.4 0.6l0.4 0.5l0.4 0l0.4 -0.3l0.4 -0.4l0.4 1.5l0.4 -1.3l0.4 0.6l0.4 -0.4l0.4 0.2l0.4 -0.5l0.4 1.4l0.4 -1.3l0.4 0.3l0.4 0l0.4 -0.4l0.4 -0.2l0.4 0.8l0.4 0.5l0.4 -1.4l0.4 0.4l0.4 0.6l0.4 0.2l0.4 -0.5l0.4 -0.2l0.4 -0.5l0.4 0.4l0.4 -0.4l0.4 -0.2l0.4 0.1l0.4 1.2l0.4 -0.4l0.4 -0.8l0.4 0.6l0.4 -0.1l0.4 0.6l0.4 -1l0.4 0.5l0.4 0.2l0.4 -0.5l0.4 0.4l0.4 -1.3l0.4 2.6l0.4 -1.5l0.4 0.2l0.4 -0.1l0.4 0.9l0.4 -0.8l0.4 0.4l0.4 0.1l0.4 -0.8l0.4 0.7l0.4 -1.1l0.4 0.4l0.4 -0.5l0.4 0.8l0.4 -0.2l0.4 -1.1l0.4 0.8l0.4 0.3l0.4 0.2l0.4 -0.7l0.4 0.2l0.4 0.1l0.4 -0.4l0.4 -0.9l0.4 1.5l0.4 -0.3l0.4 0.1l0.4 -0.1l0.4 0l0.4 0.5l0.4 0l0.4 -0.1l0.4 0l0.4 -0.6l0.4 0.7l0.4 -0.2l0.4 0l0.4 -0.3l0.4 0.6l0.4 0.2l0.4 0l0.4 -0.2l0.4 0.2l0.4 0.1l0.4 -1.6l0.4 0.9l0.4 0.9l0.4 -0.5l0.4 -0.5l0.4 1.2l0.4 -0.7l0.4 0.5l0.4 0.2l0.4 -1.6l0.4 1l0.4 -0.3l0.4 -0.1l0.4 0.2l0.4 0.3l0.4 -1l0.4 0.2l0.4 -0.3l0.4 0.6l0.4 -0.4l0.4 1.9l0.4 -1.9l0.4 -0.2l0.4 0.4l0.4 0.5l0.4 0.2l0.4 0.2l0.4 -0.1l0.4 -1.1l0.4 0.3l0.4 -0.3l0.4 0.1l0.4 0.6l0.4 -0.8l0.4 1.2l0.4 -0.8l0.4 0.1l0.4 -0.4l0.4 0.3l0.4 1l0.4 -0.1l0.4 -0.6l0.4 -0.1l0.4 0l0.4 -0.6l0.4 -0.1l0.4 -0.1l0.4 0.7l0.4 -0.1l0.4 0.3l0.4 0l0.4 -0.2l0.4 -0.1l0.4 0.3l0.4 -1l0.4 0.5l0.4 -0.2l0.4 0.1l0.4 0.1l0.4 -0.5l0.4 0.3l0.4 0.8l0.4 0l0.4 -1.1l0.4 0.7l0.4 0.4l0.4 -0.2l0.4 0.5l0.4 -0.6l0.4 0.3l0.4 0l0.4 -0.5l0.4 0.8l0.4 -0.6l0.4 0.3l0.4 0.6l0.4 -0.7l0.4 0.5l0.4 -0.4l0.4 0.5l0.4 -0.8l0.4 -0.4l0.4 -0.2l0.4 1.6l0.4 -1.1l0.4 0.8l0.4 -1l0.4 0.7l0.4 0l0.4 0.1l0.4 -0.9l0.4 0.5l0.4 -0.7l0.4 0.6l0.4 -0.2l0.4 0.3l0.4 -1.1l0.4 1l0.4 -0.2l0.4 0.5l0.4 -1.1l0.4 1.1l0.4 -0.2l0.4 -0.7l0.4 0.6l0.4 0l0.4 -0.7l0.4 1.1l0.4 -0.6l0.4 0.8l0.4 -0.4l0.4 0.4l0.4 0.3l0.4 -0.5l0.4 -0.7l0.4 0.4l0.4 -0.5l0.4 0.9l0.4 -0.6l0.4 0.1l0.4 0.1l0.4 -0.6l0.4 0l0.4 0.2l0.4 -0.1l0.4 0.8l0.4 -0.3l0.4 0l0.4 0.1l0.4 -0.5l0.4 -0.2l0.4 0.8l0.4 -0.5l0.4 -0.4l0.4 0.3l0.4 -0.3l0.4 0.6l0.4 0.5l0.4 -0.2l0.4 -0.5l0.4 0.2l0.4 0l0.4 0.4l0.4 -0.3l0.4 -0.3l0.4 0.3l0.4 -0.2l0.4 0.2l0.4 0.2l0.4 0.5l0.4 -0.7l0.4 0.4l0.4 0.4l0.4 0.1l0.4 -1l0.4 -0.2l0.4 0.7l0.4 -1.6l0.4 1.2l0.4 0.2l0.4 -0.6l0.4 0.8l0.4 -0.4l0.4 -0.1l0.4 0.3l0.4 -1.1l0.4 0l0.4 0.5l0.4 0.1l0.4 0l0.4 1.1l0.4 -0.8l0.4 -0.9l0.4 2.1l0.4 -1.5l0.4 0.8l0.4 -0.6l0.4 0.4l0.4 0l0.4 0.4l0.4 -0.5l0.4 0.6l0.4 -0.7l0.4 -0.4l0.4 0.2l0.4 0.6l0.4 -1.3l0.4 0.9l0.4 0.4l0.4 -0.3l0.4 0.6l0.4 -1l0.4 -0.4l0.4 0.1l0.4 1.8l0.4 -1.3l0.4 0.1l0.4 0l0.4 0.4l0.4 -1.1l0.4 0.6l0.4 -1.5l0.4 0.9l0.4 0.2l0.4 0.3l0.4 -0.9l0.4 1.1l0.4 0.3l0.4 -0.5l0.4 0.1l0.4 0.7l0.4 -1l0.4 0.3l0.4 0.5l0.4 -0.2l0.4 0l0.4 -0.2l0.4 0.3l0.4 -0.9l0.4 1l0.4 0.6l0.4 -1.4l0.4 0.7l0.4 -0.5l0.4 0.6l0.4 -0.3l0.4 -0.2l0.4 0.4l0.4 0l0.4 0.2l0.4 0.2l0.4 -0.8l0.4 0.9l0.4 -1l0.4 0l0.4 -0.1l0.4 0.7l0.4 -1.1l0.4 0.2l0.4 -0.9l0.4 0.8l0.4 0.3l0.4 -0.2l0.4 0.5l0.4 -0.8l0.4 0.4l0.4 0.9l0.4 -0.7l0.4 0.4l0.4 -0.6l0.4 -0.4l0.4 0.4l0.4 0.2l0.4 0.9l0.4 -0.8l0.4 -0.2l0.4 0.2l0.4 0.4l0.4 -1.2l0.4 1.7l0.4 -0.9l0.4 0.2l0.4 -0.9l0.4 1.6l0.4 -2.1l0.4 1.7l0.4 -0.1l0.4 -1l0.4 0.4l0.4 -0.4l0.4 1l0.4 -0.7l0.4 -0.8l0.4 1.3l0.4 -0.5l0.4 -0.5l0.4 1.4l0.4 -0.2l0.4 0l0.4 -0.6l0.4 -0.1l0.4 0.7l0.4 -0.4l0.4 0.8l0.4 -0.4l0.4 -0.5l0.4 0.5l0.4 -0.6l0.4 0.4l0.4 -0.2l0.4 0l0.4 -0.8l0.4 0.9l0.4 0l0.4 0.1l0.4 0.7l0.4 0.2l0.4 -0.3l0.4 -0.6l0.4 0l0.4 -1.2l0.4 1.4l0.4 -1l0.4 1.1l0.4 -0.6l0.4 0.1l0.4 -0.4l0.4 -0.6l0.4 0.1l0.4 1.6l0.4 -0.8l0.4 -1.3l0.4 1.8l0.4 -0.7l0.4 0.9l0.4 0.1l0.4 -1.1l0.4 0.4l0.4 0.5l0.4 0.1l0.4 -0.5l0.4 -0.5l0.4 0.1l0.4 -0.2l0.4 0.4l0.4 -0.4l0.4 0.3l0.4 0.6l0.4 -0.1l0.4 -0.7l0.4 0.7l0.4 0.2l0.4 -0.1l0.4 -0.9l0.4 0.3l0.4 0l0.4 0l0.4 0.2l0.4 -0.1l0.4 -0.9l0.4 0.1l0.4 0.9l0.4 0.3l0.4 -1.3l0.4 0.5l0.4 0.1l0.4 0.4l0.4 -0.3l0.4 0.4l0.4 0.3l0.4 0.1l0.4 -0.3l0.4 0.4l0.4 0.4l0.4 -2.3l0.4 1.4l0.4 0.3l0.4 0.2l0.4 -0.4l0.4 0.6l0.4 -0.8l0.4 0l0.4 0.9l0.4 -0.5l0.4 -0.7l0.4 0.8l0.4 -0.3l0.4 -1l0.4 1l0.4 -0.2l0.4 0.2l0.4 -0.2l0.4 0.1l0.4 -0.8l0.4 0l0.4 0.2l0.4 0.8l0.4 -0.3l0.4 0.2l0.4 0.8l0.4 -1.2l0.4 1.8l0.4 -1.4l0.4 -0.6l0.4 1.5l0.4 -1.3l0.4 0.4l0.4 -0.5l0.4 0.5l0.4 0.6l0.4 -1.7l0.4 1l0.4 0.9l0.4 -0.2l0.4 -0.1l0.4 -0.7l0.4 -0.1l0.4 0.5l0.4 0.3l0.4 -0.3l0.4 0l0.4 -0.2l0.4 -0.2l0.4 -0.2l0.4 -0.2l0.4 0l0.4 0l0.4 0.3l0.4 -0.1l0.4 0l0.4 0.5l0.4 0.1l0.4 -0.1l0.4 -0.7l0.4 0.4l0.4 0.1l0.4 0.7l0.4 -0.5l0.4 0.7l0.4 -1l0.4 0.3l0.4 0.2l0.4 0l0.4 0.1l0.4 -0.4l0.4 0l0.4 0.7l0.4 -0.7l0.4 -0.3l0.4 0.9l0.4 -0.3l0.4 -2.2l0.4 2l0.4 0l0.4 -0.4l0.4 0.1l0.4 -0.8l0.4 0.5l0.4 -0.2l0.4 0.8l0.4 -0.6l0.4 -0.4l0.4 1.1l0.4 0l0.4 -0.4l0.4 -0.5l0.4 -0.4l0.4 0.8l0.4 0.2l0.4 -0.6l0.4 0.6l0.4 -0.4l0.4 0.6l0.4 -0.5l0.4 1.1l0.4 -0.2l0.4 -0.6l0.4 0.4l0.4 0.4l0.4 0l0.4 -1.4l0.4 0.8l0.4 -0.6l0.4 -0.2l0.4 0.5l0.4 -0.7l0.4 0.2l0.4 0.7l0.4 -1.5l0.4 1.8l0.4 -0.9l0.4 -0.4l0.4 -0.1l0.4 1.1l0.4 0.4l0.4 -1l0.4 -0.4l0.4 0.8l0.4 -1.1l0.4 1l0.4 0.4l0.4 -0.4l0.4 0.4l0.4 0l0.4 0l0.4 0.2l0.4 -0.3l0.4 -0.2l0.4 0.9l0.4 -0.6l0.4 0.6l0.4 -0.5l0.4 -0.7l0.4 0l0.4 0.9l0.4 -0.8l0.4 0.7l0.4 -0.6l0.4 0l0.4 -0.6l0.4 -0.5l0.4 1.9l0.4 0l0.4 -1.5l0.4 0.6l0.4 0.8l0.4 -1.1l0.4 0.8l0.4 0.3l0.4 -1.3l0.4 0.8l0.4 -0.1l0.4 -0.6l0.4 0.7l0.4 0l0.4 -0.7l0.4 0.7l0.4 -0.2l0.4 0.4l0.4 0.4l0.4 -0.1l0.4 -0.5l0.4 0.1l0.4 0.5l0.4 -1.2l0.4 0.5l0.4 0.4l0.4 -0.6l0.4 -0.2l0.4 1l0.4 -1.2l0.4 0.2l0.4 -0.1l0.4 1.6l0.4 -0.7l0.4 0.5l0.4 -1.2l0.4 -0.8l0.4 1.3l0.4 -0.2l0.4 -1.1l0.4 0.5l0.4 -0.3l0.4 0.6l0.4 -0.1l0.4 0.3l0.4 -0.5l0.4 0.8l0.4 -0.2l0.4 0.9l0.4 -0.7l0.4 -0.1l0.4 -1l0.4 0.2l0.4 1.9l0.4 -1.7l0.4 0.8l0.4 0l0.4 -0.9l0.4 0.6l0.4 0.5l0.4 -1l0.4 0.1l0.4 -0.1l0.4 1.7l0.4 -0.7l0.4 -0.8l0.4 0.9l0.4 -0.3l0.4 -0.4l0.4 1.2l0.4 -1.9l0.4 0l0.4 1.4l0.4 -0.6l0.4 -0.4l0.4 0.4l0.4 -1.4l0.4 0.3l0.4 0.9l0.4 -0.1l0.4 0l0.4 0.1l0.4 0l0.4 0.8l0.4 -0.5l0.4 1l0.4 -1.2l0.4 0.2l0.4 0.2l0.4 -1.2l0.4 0.3l0.4 0.7l0.4 -0.3l0.4 -0.2l0.4 0.5l0.4 -0.5l0.4 0.9l0.4 -0.9l0.4 0.7l0.4 -0.1l0.4 0.4l0.4 0.3l0.4 -1.3l0.4 1.8l0.4 -1.4l0.4 -0.4l0.4 0.5l0.4 -0.4l0.4 -0.7l0.4 0.4l0.4 -0.3l0.4 1l0.4 -0.6l0.4 0.8l0.4 -1.4l0.4 0.4l0.4 -0.4l0.4 1.2l0.4 0l0.4 -0.5" fill="none" stroke="#000" stroke-width="1.3" stroke-linejoin="round" />
<path d="M684.5 788.7L684.7 788.1L684.8 787.0L684.9 784.4L685.0 780.1L685.0 776.2L685.1 774.5L685.3 773.2L685.3 767.2L685.3 767.2L685.3 773.2L685.5 774.5L685.6 776.2L685.6 780.1L685.7 784.4L685.9 787.0L686.0 788.1L686.1 788.7M695.1 788.6L695.3 787.4L695.5 785.4L695.6 780.7L695.6 772.8L695.6 765.6L695.8 762.5L696.0 760.1L696.0 749.0L696.0 749.0L696.0 760.1L696.2 762.5L696.4 765.6L696.4 772.8L696.4 780.7L696.5 785.4L696.7 787.4L697.0 788.6M734.3 788.4L734.5 787.4L734.7 785.7L734.8 781.6L734.8 774.9L734.8 768.8L734.9 766.1L735.1 764.1L735.1 754.7L735.1 754.7L735.1 764.1L735.3 766.1L735.4 768.8L735.4 774.9L735.5 781.6L735.6 785.7L735.7 787.4L735.9 788.4M742.0 788.6L742.4 784.3L742.5 777.2L742.5 760.1L742.5 731.7L742.5 706.0L742.6 694.6L742.8 686.1L742.8 646.2L742.8 646.2L742.8 686.1L743.0 694.6L743.2 706.0L743.2 731.7L743.2 760.1L743.2 777.2L743.2 784.3L743.7 788.6M749.4 788.1L749.5 787.5L749.7 786.6L749.8 784.5L749.9 780.9L749.9 777.7L750.1 776.3L750.3 775.2L750.3 770.2L750.3 770.2L750.3 775.2L750.5 776.3L750.7 777.7L750.7 780.9L750.8 784.5L751.0 786.6L751.2 787.5L751.3 788.1M772.6 788.7L772.8 787.6L773.0 785.8L773.1 781.4L773.1 774.0L773.1 767.4L773.3 764.5L773.5 762.3L773.5 752.0L773.5 752.0L773.5 762.3L773.7 764.5L773.9 767.4L773.9 774.0L773.9 781.4L774.0 785.8L774.3 787.6L774.5 788.7M780.1 788.3L780.2 787.8L780.3 787.1L780.5 785.3L780.6 782.3L780.6 779.6L780.8 778.4L781.0 777.5L781.0 773.3L781.0 773.3L781.0 777.5L781.2 778.4L781.4 779.6L781.4 782.3L781.5 785.3L781.7 787.1L781.9 787.8L782.0 788.3M719.7 788.2L719.8 787.8L719.8 787.3L719.9 786.0L719.9 783.8L719.9 781.8L720.1 780.9L720.3 780.3L720.3 777.2L720.3 777.2L720.3 780.3L720.5 780.9L720.7 781.8L720.7 783.8L720.8 786.0L720.8 787.3L720.9 787.8L720.9 788.2M689.1 788.3L689.2 788.1L689.2 787.7L689.2 786.8L689.3 785.4L689.3 784.1L689.4 783.5L689.6 783.0L689.6 781.0L689.6 781.0L689.6 783.0L689.8 783.5L690.0 784.1L690.0 785.4L690.0 786.8L690.1 787.7L690.1 788.1L690.1 788.3M699.5 788.4L699.6 788.2L699.6 787.8L699.6 786.8L699.7 785.1L699.7 783.5L699.8 782.9L700.0 782.4L700.0 780.0L700.0 780.0L700.0 782.4L700.2 782.9L700.4 783.5L700.4 785.1L700.4 786.8L700.5 787.8L700.5 788.2L700.5 788.4M707.0 788.1L707.1 787.9L707.1 787.6L707.1 786.7L707.2 785.3L707.2 784.0L707.3 783.4L707.5 783.0L707.5 781.0L707.5 781.0L707.5 783.0L707.7 783.4L707.9 784.0L707.9 785.3L707.9 786.7L708.0 787.6L708.0 787.9L708.0 788.1M826.5 788.8L826.7 787.6L826.9 785.6L827.0 780.9L827.0 772.9L827.0 765.7L827.2 762.5L827.4 760.1L827.4 749.0L827.4 749.0L827.4 760.1L827.6 762.5L827.8 765.7L827.8 772.9L827.8 780.9L827.9 785.6L828.1 787.6L828.4 788.8M836.9 788.3L837.0 788.0L837.0 787.5L837.1 786.3L837.1 784.3L837.1 782.6L837.3 781.8L837.5 781.2L837.5 778.4L837.5 778.4L837.5 781.2L837.7 781.8L837.9 782.6L837.9 784.3L838.0 786.3L838.0 787.5L838.1 788.0L838.1 788.3M840.3 788.8L840.4 788.5L840.4 788.1L840.4 787.0L840.5 785.3L840.5 783.7L840.6 783.0L840.8 782.5L840.8 780.0L840.8 780.0L840.8 782.5L841.0 783.0L841.2 783.7L841.2 785.3L841.2 787.0L841.3 788.1L841.3 788.5L841.3 788.8M845.1 788.3L845.2 788.1L845.2 787.7L845.2 786.9L845.3 785.4L845.3 784.1L845.4 783.5L845.6 783.1L845.6 781.0L845.6 781.0L845.6 783.1L845.8 783.5L846.0 784.1L846.0 785.4L846.0 786.9L846.1 787.7L846.1 788.1L846.1 788.3M848.1 788.1L848.2 787.8L848.2 787.4L848.3 786.4L848.3 784.7L848.3 783.1L848.5 782.4L848.7 781.9L848.7 779.5L848.7 779.5L848.7 781.9L848.9 782.4L849.1 783.1L849.1 784.7L849.2 786.4L849.2 787.4L849.3 787.8L849.3 788.1M879.0 788.6L879.0 788.3L879.0 787.9L879.1 786.7L879.1 784.9L879.2 783.2L879.4 782.5L879.6 781.9L879.6 779.3L879.6 779.3L879.6 781.9L879.8 782.5L880.1 783.2L880.1 784.9L880.2 786.7L880.2 787.9L880.3 788.3L880.3 788.6M886.4 788.0L886.4 787.9L886.4 787.6L886.4 787.0L886.5 786.0L886.5 785.1L886.7 784.7L887.0 784.4L887.0 783.0L887.0 783.0L887.0 784.4L887.3 784.7L887.5 785.1L887.6 786.0L887.6 787.0L887.7 787.6L887.7 787.9L887.7 788.0M917.8 788.5L917.8 788.2L917.8 787.8L917.9 786.6L918.0 784.7L918.0 783.0L918.2 782.2L918.5 781.7L918.5 779.0L918.5 779.0L918.5 781.7L918.8 782.2L919.1 783.0L919.1 784.7L919.1 786.6L919.2 787.8L919.3 788.2L919.3 788.5M801.1 788.8L801.1 788.6L801.1 788.3L801.2 787.5L801.3 786.3L801.3 785.1L801.6 784.6L801.9 784.3L801.9 782.5L801.9 782.5L801.9 784.3L802.2 784.6L802.6 785.1L802.6 786.3L802.7 787.5L802.7 788.3L802.8 788.6L802.8 788.8M730.1 788.4L730.1 788.2L730.2 787.8L730.2 786.9L730.3 785.5L730.3 784.1L730.7 783.5L731.0 783.1L731.0 781.0L731.0 781.0L731.0 783.1L731.4 783.5L731.7 784.1L731.8 785.5L731.8 786.9L731.9 787.8L732.0 788.2L732.0 788.4M752.9 788.4L752.9 788.2L753.0 787.7L753.1 786.7L753.2 785.0L753.2 783.5L753.6 782.9L754.0 782.4L754.0 780.0L754.0 780.0L754.0 782.4L754.4 782.9L754.9 783.5L754.9 785.0L755.0 786.7L755.1 787.7L755.2 788.2L755.2 788.4M759.1 788.7L759.1 788.5L759.1 788.2L759.2 787.6L759.3 786.4L759.3 785.4L759.6 784.9L760.0 784.6L760.0 783.0L760.0 783.0L760.0 784.6L760.4 784.9L760.7 785.4L760.8 786.4L760.9 787.6L760.9 788.2L761.0 788.5L761.0 788.7M923.2 788.7L923.2 788.6L923.3 788.3L923.4 787.8L923.5 786.8L923.6 786.0L924.3 785.6L924.9 785.3L924.9 784.0L925.1 784.0L925.1 785.3L925.8 785.6L926.5 786.0L926.6 786.8L926.8 787.8L926.9 788.3L927.0 788.6L927.0 788.7M942.1 788.2L942.1 788.1L942.1 787.9L942.2 787.4L942.2 786.7L942.3 786.0L942.6 785.7L942.9 785.5L943.0 784.5L943.1 784.5L943.1 785.5L943.4 785.7L943.8 786.0L943.8 786.7L943.9 787.4L944.0 787.9L944.0 788.1L944.0 788.2M983.6 788.5L983.6 788.4L983.7 788.2L983.8 787.8L983.8 787.1L983.9 786.5L984.4 786.2L984.9 786.0L984.9 785.0L985.1 785.0L985.1 786.0L985.7 786.2L986.2 786.5L986.3 787.1L986.4 787.8L986.5 788.2L986.5 788.4L986.5 788.5M1060.6 788.5L1060.6 788.4L1060.7 788.2L1060.8 787.8L1060.8 787.1L1060.9 786.5L1061.4 786.2L1061.9 786.0L1061.9 785.0L1062.1 785.0L1062.1 786.0L1062.7 786.2L1063.2 786.5L1063.3 787.1L1063.4 787.8L1063.5 788.2L1063.5 788.4L1063.5 788.5M1098.6 788.4L1098.6 788.3L1098.7 788.1L1098.7 787.7L1098.8 787.1L1098.9 786.5L1099.4 786.3L1099.9 786.1L1099.9 785.2L1100.1 785.2L1100.2 786.1L1100.7 786.3L1101.2 786.5L1101.3 787.1L1101.4 787.7L1101.5 788.1L1101.5 788.3L1101.5 788.4" fill="none" stroke="#000" stroke-width="0.95" stroke-linejoin="round"/>
<line x1="679.90" y1="35.00" x2="1634.70" y2="35.00" stroke="#444" stroke-width="1.5"/>
<line x1="680.50" y1="35.00" x2="680.50" y2="799.50" stroke="#444" stroke-width="1.4"/>
<line x1="1633.70" y1="35.00" x2="1633.70" y2="804.50" stroke="#3a3a3a" stroke-width="1.3"/>
<line x1="679.90" y1="798.90" x2="1634.00" y2="798.90" stroke="#444" stroke-width="1.4"/>
<line x1="680.50" y1="225.80" x2="1634.00" y2="225.80" stroke="#000" stroke-width="1.9"/>
<line x1="680.50" y1="416.90" x2="1634.00" y2="416.90" stroke="#000" stroke-width="1.9"/>
<line x1="680.50" y1="608.30" x2="1634.00" y2="608.30" stroke="#000" stroke-width="1.9"/>
<line x1="675.30" y1="44.60" x2="680.50" y2="44.60" stroke="#555" stroke-width="1.2"/>
<line x1="676.40" y1="66.20" x2="680.50" y2="66.20" stroke="#555" stroke-width="1.2"/>
<line x1="675.30" y1="87.20" x2="680.50" y2="87.20" stroke="#555" stroke-width="1.2"/>
<line x1="676.40" y1="110.30" x2="680.50" y2="110.30" stroke="#555" stroke-width="1.2"/>
<line x1="675.30" y1="131.50" x2="680.50" y2="131.50" stroke="#555" stroke-width="1.2"/>
<line x1="676.40" y1="152.80" x2="680.50" y2="152.80" stroke="#555" stroke-width="1.2"/>
<line x1="675.30" y1="175.30" x2="680.50" y2="175.30" stroke="#555" stroke-width="1.2"/>
<line x1="676.40" y1="196.80" x2="680.50" y2="196.80" stroke="#555" stroke-width="1.2"/>
<line x1="675.30" y1="218.20" x2="680.50" y2="218.20" stroke="#555" stroke-width="1.2"/>
<line x1="675.30" y1="410.50" x2="680.50" y2="410.50" stroke="#2a2a2a" stroke-width="1.2"/>
<line x1="676.40" y1="404.10" x2="680.50" y2="404.10" stroke="#2a2a2a" stroke-width="1.2"/>
<line x1="676.40" y1="397.70" x2="680.50" y2="397.70" stroke="#2a2a2a" stroke-width="1.2"/>
<line x1="676.40" y1="391.30" x2="680.50" y2="391.30" stroke="#2a2a2a" stroke-width="1.2"/>
<line x1="676.40" y1="384.90" x2="680.50" y2="384.90" stroke="#2a2a2a" stroke-width="1.2"/>
<line x1="675.30" y1="378.50" x2="680.50" y2="378.50" stroke="#2a2a2a" stroke-width="1.2"/>
<line x1="676.40" y1="372.10" x2="680.50" y2="372.10" stroke="#2a2a2a" stroke-width="1.2"/>
<line x1="676.40" y1="365.70" x2="680.50" y2="365.70" stroke="#2a2a2a" stroke-width="1.2"/>
<line x1="676.40" y1="359.30" x2="680.50" y2="359.30" stroke="#2a2a2a" stroke-width="1.2"/>
<line x1="676.40" y1="352.90" x2="680.50" y2="352.90" stroke="#2a2a2a" stroke-width="1.2"/>
<line x1="675.30" y1="346.50" x2="680.50" y2="346.50" stroke="#2a2a2a" stroke-width="1.2"/>
<line x1="676.40" y1="340.10" x2="680.50" y2="340.10" stroke="#2a2a2a" stroke-width="1.2"/>
<line x1="676.40" y1="333.70" x2="680.50" y2="333.70" stroke="#2a2a2a" stroke-width="1.2"/>
<line x1="676.40" y1="327.30" x2="680.50" y2="327.30" stroke="#2a2a2a" stroke-width="1.2"/>
<line x1="676.40" y1="320.90" x2="680.50" y2="320.90" stroke="#2a2a2a" stroke-width="1.2"/>
<line x1="675.30" y1="314.50" x2="680.50" y2="314.50" stroke="#2a2a2a" stroke-width="1.2"/>
<line x1="676.40" y1="308.10" x2="680.50" y2="308.10" stroke="#2a2a2a" stroke-width="1.2"/>
<line x1="676.40" y1="301.70" x2="680.50" y2="301.70" stroke="#2a2a2a" stroke-width="1.2"/>
<line x1="676.40" y1="295.30" x2="680.50" y2="295.30" stroke="#2a2a2a" stroke-width="1.2"/>
<line x1="676.40" y1="288.90" x2="680.50" y2="288.90" stroke="#2a2a2a" stroke-width="1.2"/>
<line x1="675.30" y1="282.50" x2="680.50" y2="282.50" stroke="#2a2a2a" stroke-width="1.2"/>
<line x1="676.40" y1="276.10" x2="680.50" y2="276.10" stroke="#2a2a2a" stroke-width="1.2"/>
<line x1="676.40" y1="269.70" x2="680.50" y2="269.70" stroke="#2a2a2a" stroke-width="1.2"/>
<line x1="676.40" y1="263.30" x2="680.50" y2="263.30" stroke="#2a2a2a" stroke-width="1.2"/>
<line x1="676.40" y1="256.90" x2="680.50" y2="256.90" stroke="#2a2a2a" stroke-width="1.2"/>
<line x1="675.30" y1="250.50" x2="680.50" y2="250.50" stroke="#2a2a2a" stroke-width="1.2"/>
<line x1="676.40" y1="244.10" x2="680.50" y2="244.10" stroke="#2a2a2a" stroke-width="1.2"/>
<line x1="676.40" y1="237.70" x2="680.50" y2="237.70" stroke="#2a2a2a" stroke-width="1.2"/>
<line x1="676.40" y1="231.30" x2="680.50" y2="231.30" stroke="#2a2a2a" stroke-width="1.2"/>
<line x1="675.30" y1="598.20" x2="680.50" y2="598.20" stroke="#2a2a2a" stroke-width="1.2"/>
<line x1="676.40" y1="588.40" x2="680.50" y2="588.40" stroke="#2a2a2a" stroke-width="1.2"/>
<line x1="676.40" y1="578.60" x2="680.50" y2="578.60" stroke="#2a2a2a" stroke-width="1.2"/>
<line x1="676.40" y1="568.80" x2="680.50" y2="568.80" stroke="#2a2a2a" stroke-width="1.2"/>
<line x1="676.40" y1="559.00" x2="680.50" y2="559.00" stroke="#2a2a2a" stroke-width="1.2"/>
<line x1="675.30" y1="549.20" x2="680.50" y2="549.20" stroke="#2a2a2a" stroke-width="1.2"/>
<line x1="676.40" y1="539.40" x2="680.50" y2="539.40" stroke="#2a2a2a" stroke-width="1.2"/>
<line x1="676.40" y1="529.60" x2="680.50" y2="529.60" stroke="#2a2a2a" stroke-width="1.2"/>
<line x1="676.40" y1="519.80" x2="680.50" y2="519.80" stroke="#2a2a2a" stroke-width="1.2"/>
<line x1="676.40" y1="510.00" x2="680.50" y2="510.00" stroke="#2a2a2a" stroke-width="1.2"/>
<line x1="675.30" y1="500.20" x2="680.50" y2="500.20" stroke="#2a2a2a" stroke-width="1.2"/>
<line x1="676.40" y1="490.40" x2="680.50" y2="490.40" stroke="#2a2a2a" stroke-width="1.2"/>
<line x1="676.40" y1="480.60" x2="680.50" y2="480.60" stroke="#2a2a2a" stroke-width="1.2"/>
<line x1="676.40" y1="470.80" x2="680.50" y2="470.80" stroke="#2a2a2a" stroke-width="1.2"/>
<line x1="676.40" y1="461.00" x2="680.50" y2="461.00" stroke="#2a2a2a" stroke-width="1.2"/>
<line x1="675.30" y1="451.20" x2="680.50" y2="451.20" stroke="#2a2a2a" stroke-width="1.2"/>
<line x1="676.40" y1="441.40" x2="680.50" y2="441.40" stroke="#2a2a2a" stroke-width="1.2"/>
<line x1="676.40" y1="431.60" x2="680.50" y2="431.60" stroke="#2a2a2a" stroke-width="1.2"/>
<line x1="676.40" y1="421.80" x2="680.50" y2="421.80" stroke="#2a2a2a" stroke-width="1.2"/>
<line x1="676.40" y1="797.59" x2="680.50" y2="797.59" stroke="#2a2a2a" stroke-width="1.2"/>
<line x1="675.30" y1="792.10" x2="680.50" y2="792.10" stroke="#2a2a2a" stroke-width="1.2"/>
<line x1="676.40" y1="786.61" x2="680.50" y2="786.61" stroke="#2a2a2a" stroke-width="1.2"/>
<line x1="676.40" y1="781.12" x2="680.50" y2="781.12" stroke="#2a2a2a" stroke-width="1.2"/>
<line x1="676.40" y1="775.63" x2="680.50" y2="775.63" stroke="#2a2a2a" stroke-width="1.2"/>
<line x1="676.40" y1="770.14" x2="680.50" y2="770.14" stroke="#2a2a2a" stroke-width="1.2"/>
<line x1="675.30" y1="764.65" x2="680.50" y2="764.65" stroke="#2a2a2a" stroke-width="1.2"/>
<line x1="676.40" y1="759.16" x2="680.50" y2="759.16" stroke="#2a2a2a" stroke-width="1.2"/>
<line x1="676.40" y1="753.67" x2="680.50" y2="753.67" stroke="#2a2a2a" stroke-width="1.2"/>
<line x1="676.40" y1="748.18" x2="680.50" y2="748.18" stroke="#2a2a2a" stroke-width="1.2"/>
<line x1="676.40" y1="742.69" x2="680.50" y2="742.69" stroke="#2a2a2a" stroke-width="1.2"/>
<line x1="675.30" y1="737.20" x2="680.50" y2="737.20" stroke="#2a2a2a" stroke-width="1.2"/>
<line x1="676.40" y1="731.71" x2="680.50" y2="731.71" stroke="#2a2a2a" stroke-width="1.2"/>
<line x1="676.40" y1="726.22" x2="680.50" y2="726.22" stroke="#2a2a2a" stroke-width="1.2"/>
<line x1="676.40" y1="720.73" x2="680.50" y2="720.73" stroke="#2a2a2a" stroke-width="1.2"/>
<line x1="676.40" y1="715.24" x2="680.50" y2="715.24" stroke="#2a2a2a" stroke-width="1.2"/>
<line x1="675.30" y1="709.75" x2="680.50" y2="709.75" stroke="#2a2a2a" stroke-width="1.2"/>
<line x1="676.40" y1="704.26" x2="680.50" y2="704.26" stroke="#2a2a2a" stroke-width="1.2"/>
<line x1="676.40" y1="698.77" x2="680.50" y2="698.77" stroke="#2a2a2a" stroke-width="1.2"/>
<line x1="676.40" y1="693.28" x2="680.50" y2="693.28" stroke="#2a2a2a" stroke-width="1.2"/>
<line x1="676.40" y1="687.79" x2="680.50" y2="687.79" stroke="#2a2a2a" stroke-width="1.2"/>
<line x1="675.30" y1="682.30" x2="680.50" y2="682.30" stroke="#2a2a2a" stroke-width="1.2"/>
<line x1="676.40" y1="676.81" x2="680.50" y2="676.81" stroke="#2a2a2a" stroke-width="1.2"/>
<line x1="676.40" y1="671.32" x2="680.50" y2="671.32" stroke="#2a2a2a" stroke-width="1.2"/>
<line x1="676.40" y1="665.83" x2="680.50" y2="665.83" stroke="#2a2a2a" stroke-width="1.2"/>
<line x1="676.40" y1="660.34" x2="680.50" y2="660.34" stroke="#2a2a2a" stroke-width="1.2"/>
<line x1="675.30" y1="654.85" x2="680.50" y2="654.85" stroke="#2a2a2a" stroke-width="1.2"/>
<line x1="676.40" y1="649.36" x2="680.50" y2="649.36" stroke="#2a2a2a" stroke-width="1.2"/>
<line x1="676.40" y1="643.87" x2="680.50" y2="643.87" stroke="#2a2a2a" stroke-width="1.2"/>
<line x1="676.40" y1="638.38" x2="680.50" y2="638.38" stroke="#2a2a2a" stroke-width="1.2"/>
<line x1="676.40" y1="632.89" x2="680.50" y2="632.89" stroke="#2a2a2a" stroke-width="1.2"/>
<line x1="675.30" y1="627.40" x2="680.50" y2="627.40" stroke="#2a2a2a" stroke-width="1.2"/>
<line x1="676.40" y1="621.91" x2="680.50" y2="621.91" stroke="#2a2a2a" stroke-width="1.2"/>
<line x1="676.40" y1="616.42" x2="680.50" y2="616.42" stroke="#2a2a2a" stroke-width="1.2"/>
<line x1="680.10" y1="798.90" x2="680.10" y2="804.60" stroke="#555" stroke-width="1.3"/>
<line x1="730.31" y1="798.90" x2="730.31" y2="804.60" stroke="#555" stroke-width="1.3"/>
<line x1="780.51" y1="798.90" x2="780.51" y2="804.60" stroke="#555" stroke-width="1.3"/>
<line x1="830.72" y1="798.90" x2="830.72" y2="804.60" stroke="#555" stroke-width="1.3"/>
<line x1="880.92" y1="798.90" x2="880.92" y2="804.60" stroke="#555" stroke-width="1.3"/>
<line x1="931.13" y1="798.90" x2="931.13" y2="804.60" stroke="#555" stroke-width="1.3"/>
<line x1="981.34" y1="798.90" x2="981.34" y2="804.60" stroke="#555" stroke-width="1.3"/>
<line x1="1031.54" y1="798.90" x2="1031.54" y2="804.60" stroke="#555" stroke-width="1.3"/>
<line x1="1081.75" y1="798.90" x2="1081.75" y2="804.60" stroke="#555" stroke-width="1.3"/>
<line x1="1131.95" y1="798.90" x2="1131.95" y2="804.60" stroke="#555" stroke-width="1.3"/>
<line x1="1182.16" y1="798.90" x2="1182.16" y2="804.60" stroke="#555" stroke-width="1.3"/>
<line x1="1232.37" y1="798.90" x2="1232.37" y2="804.60" stroke="#555" stroke-width="1.3"/>
<line x1="1282.57" y1="798.90" x2="1282.57" y2="804.60" stroke="#555" stroke-width="1.3"/>
<line x1="1332.78" y1="798.90" x2="1332.78" y2="804.60" stroke="#555" stroke-width="1.3"/>
<line x1="1382.98" y1="798.90" x2="1382.98" y2="804.60" stroke="#555" stroke-width="1.3"/>
<line x1="1433.19" y1="798.90" x2="1433.19" y2="804.60" stroke="#555" stroke-width="1.3"/>
<line x1="1483.40" y1="798.90" x2="1483.40" y2="804.60" stroke="#555" stroke-width="1.3"/>
<line x1="1533.60" y1="798.90" x2="1533.60" y2="804.60" stroke="#555" stroke-width="1.3"/>
<line x1="1583.81" y1="798.90" x2="1583.81" y2="804.60" stroke="#555" stroke-width="1.3"/>
<text transform="translate(643.50,51.21) scale(0.9353,1)" font-size="19.01" font-weight="bold" fill="#000" stroke="#000" stroke-width="0.45" stroke-linejoin="round">800</text>
<text transform="translate(640.90,92.93) scale(1.0286,1)" font-size="17.46" font-weight="bold" fill="#000" stroke="#000" stroke-width="0.45" stroke-linejoin="round">600</text>
<text transform="translate(640.90,136.21) scale(0.9518,1)" font-size="18.87" font-weight="bold" fill="#000" stroke="#000" stroke-width="0.45" stroke-linejoin="round">400</text>
<text transform="translate(641.80,180.41) scale(0.9106,1)" font-size="18.87" font-weight="bold" fill="#000" stroke="#000" stroke-width="0.45" stroke-linejoin="round">200</text>
<text transform="translate(663.50,222.82) scale(0.9695,1)" font-size="18.03" font-weight="bold" fill="#000" stroke="#000" stroke-width="0.45" stroke-linejoin="round">0</text>
<text transform="translate(635.20,255.64) scale(1.0461,1)" font-size="16.20" font-weight="bold" fill="#000" stroke="#000" stroke-width="0.45" stroke-linejoin="round">1250</text>
<text transform="translate(635.20,288.03) scale(1.0195,1)" font-size="16.62" font-weight="bold" fill="#000" stroke="#000" stroke-width="0.45" stroke-linejoin="round">1000</text>
<text transform="translate(640.30,320.33) scale(1.0141,1)" font-size="17.18" font-weight="bold" fill="#000" stroke="#000" stroke-width="0.45" stroke-linejoin="round">750</text>
<text transform="translate(640.10,351.74) scale(1.0502,1)" font-size="16.48" font-weight="bold" fill="#000" stroke="#000" stroke-width="0.45" stroke-linejoin="round">500</text>
<text transform="translate(643.10,385.44) scale(1.0465,1)" font-size="16.48" font-weight="bold" fill="#000" stroke="#000" stroke-width="0.45" stroke-linejoin="round">250</text>
<text transform="translate(663.30,416.12) scale(0.9818,1)" font-size="18.17" font-weight="bold" fill="#000" stroke="#000" stroke-width="0.45" stroke-linejoin="round">0</text>
<text transform="translate(644.20,456.24) scale(1.0611,1)" font-size="16.48" font-weight="bold" fill="#000" stroke="#000" stroke-width="0.45" stroke-linejoin="round">150</text>
<text transform="translate(644.70,505.72) scale(0.9785,1)" font-size="17.75" font-weight="bold" fill="#000" stroke="#000" stroke-width="0.45" stroke-linejoin="round">100</text>
<text transform="translate(659.50,553.63) scale(0.9406,1)" font-size="16.86" font-weight="bold" fill="#000" stroke="#000" stroke-width="0.45" stroke-linejoin="round">5</text>
<text transform="translate(659.50,577.94) scale(1.0661,1)" font-size="16.06" font-weight="bold" fill="#000" stroke="#000" stroke-width="0.45" stroke-linejoin="round">0</text>
<text transform="translate(662.00,602.33) scale(1.0486,1)" font-size="17.18" font-weight="bold" fill="#000" stroke="#000" stroke-width="0.45" stroke-linejoin="round">0</text>
<text transform="translate(632.60,632.72) scale(0.9748,1)" font-size="18.03" font-weight="bold" fill="#000" stroke="#000" stroke-width="0.45" stroke-linejoin="round">3000</text>
<text transform="translate(632.60,659.93) scale(1.0311,1)" font-size="17.04" font-weight="bold" fill="#000" stroke="#000" stroke-width="0.45" stroke-linejoin="round">2500</text>
<text transform="translate(632.10,686.73) scale(1.0530,1)" font-size="16.90" font-weight="bold" fill="#000" stroke="#000" stroke-width="0.45" stroke-linejoin="round">2000</text>
<text transform="translate(633.00,714.73) scale(1.0358,1)" font-size="17.18" font-weight="bold" fill="#000" stroke="#000" stroke-width="0.45" stroke-linejoin="round">1500</text>
<text transform="translate(631.00,741.53) scale(1.0682,1)" font-size="16.62" font-weight="bold" fill="#000" stroke="#000" stroke-width="0.45" stroke-linejoin="round">1000</text>
<text transform="translate(644.30,770.13) scale(1.0521,1)" font-size="16.62" font-weight="bold" fill="#000" stroke="#000" stroke-width="0.45" stroke-linejoin="round">500</text>
<text transform="translate(662.10,797.62) scale(1.0577,1)" font-size="17.89" font-weight="bold" fill="#000" stroke="#000" stroke-width="0.45" stroke-linejoin="round">0</text>
<text transform="translate(628.20,170.20) rotate(-90) scale(0.9681,1)" font-size="23.62" font-weight="bold" fill="#000" stroke="#000" stroke-width="0.45" stroke-linejoin="round">Intens. [a.u.]</text>
<text transform="translate(720.40,819.03) scale(1.0468,1)" font-size="16.76" font-weight="bold" fill="#000" stroke="#000" stroke-width="0.45" stroke-linejoin="round">800</text>
<text transform="translate(811.80,819.03) scale(1.0222,1)" font-size="17.32" font-weight="bold" fill="#000" stroke="#000" stroke-width="0.45" stroke-linejoin="round">1000</text>
<text transform="translate(911.00,819.03) scale(1.0325,1)" font-size="17.32" font-weight="bold" fill="#000" stroke="#000" stroke-width="0.45" stroke-linejoin="round">1200</text>
<text transform="translate(1013.00,819.03) scale(1.0248,1)" font-size="17.32" font-weight="bold" fill="#000" stroke="#000" stroke-width="0.45" stroke-linejoin="round">1400</text>
<text transform="translate(1111.50,820.23) scale(1.0592,1)" font-size="16.76" font-weight="bold" fill="#000" stroke="#000" stroke-width="0.45" stroke-linejoin="round">1600</text>
<text transform="translate(1212.80,818.83) scale(1.0602,1)" font-size="17.04" font-weight="bold" fill="#000" stroke="#000" stroke-width="0.45" stroke-linejoin="round">1800</text>
<text transform="translate(1315.70,819.03) scale(1.0066,1)" font-size="17.32" font-weight="bold" fill="#000" stroke="#000" stroke-width="0.45" stroke-linejoin="round">2000</text>
<text transform="translate(1415.00,819.63) scale(1.0438,1)" font-size="16.62" font-weight="bold" fill="#000" stroke="#000" stroke-width="0.45" stroke-linejoin="round">2200</text>
<text transform="translate(1515.50,818.83) scale(1.0285,1)" font-size="17.04" font-weight="bold" fill="#000" stroke="#000" stroke-width="0.45" stroke-linejoin="round">2400</text>
<text transform="translate(1615.80,817.90) scale(1.2030,1)" font-size="16.42" font-weight="bold" fill="#000" stroke="#000" stroke-width="0.45" stroke-linejoin="round">m<tspan font-size="21.74" dy="2.67">/</tspan><tspan dy="-2.67">z</tspan></text>
<text transform="translate(685.70,73.40) scale(1.0249,1)" font-size="20.00" font-weight="bold" fill="#000" stroke="#000" stroke-width="0.45" stroke-linejoin="round">773.296</text>
<text transform="translate(742.00,132.57) scale(0.9121,1)" font-size="22.54" font-weight="bold" fill="#000" stroke="#000" stroke-width="0.45" stroke-linejoin="round">902.292</text>
<text transform="translate(1012.80,175.39) scale(1.0082,1)" font-size="20.70" font-weight="bold" fill="#000" stroke="#000" stroke-width="0.45" stroke-linejoin="round">1453.118</text>
<text transform="translate(1185.60,162.99) scale(0.9839,1)" font-size="20.85" font-weight="bold" fill="#000" stroke="#000" stroke-width="0.45" stroke-linejoin="round">1811.455</text>
<text transform="translate(1310.70,72.89) scale(0.9782,1)" font-size="20.99" font-weight="bold" fill="#000" stroke="#000" stroke-width="0.45" stroke-linejoin="round">2051.718</text>
<text transform="translate(1507.50,165.59) scale(0.9836,1)" font-size="20.85" font-weight="bold" fill="#000" stroke="#000" stroke-width="0.45" stroke-linejoin="round">2433.826</text>
<text transform="translate(750.40,340.69) scale(0.9728,1)" font-size="20.99" font-weight="bold" fill="#000" stroke="#000" stroke-width="0.45" stroke-linejoin="round">902.379</text>
<text transform="translate(963.00,261.79) scale(0.9705,1)" font-size="21.13" font-weight="bold" fill="#000" stroke="#000" stroke-width="0.45" stroke-linejoin="round">1360.054</text>
<text transform="translate(1028.20,349.99) scale(0.9682,1)" font-size="21.13" font-weight="bold" fill="#000" stroke="#000" stroke-width="0.45" stroke-linejoin="round">1453.170</text>
<text transform="translate(1187.20,285.79) scale(0.9510,1)" font-size="21.41" font-weight="bold" fill="#000" stroke="#000" stroke-width="0.45" stroke-linejoin="round">1810.525</text>
<text transform="translate(1374.00,259.18) scale(0.9212,1)" font-size="21.97" font-weight="bold" fill="#000" stroke="#000" stroke-width="0.45" stroke-linejoin="round">2051.779</text>
<text transform="translate(1507.50,319.59) scale(0.9521,1)" font-size="21.41" font-weight="bold" fill="#000" stroke="#000" stroke-width="0.45" stroke-linejoin="round">2433.883</text>
<text transform="translate(684.70,451.58) scale(0.9380,1)" font-size="21.97" font-weight="bold" fill="#000" stroke="#000" stroke-width="0.45" stroke-linejoin="round">730.456</text>
<text transform="translate(705.20,637.49) scale(0.9754,1)" font-size="20.99" font-weight="bold" fill="#000" stroke="#000" stroke-width="0.45" stroke-linejoin="round">823.974</text>
<text transform="translate(789.70,743.19) scale(0.9727,1)" font-size="20.85" font-weight="bold" fill="#000" stroke="#000" stroke-width="0.45" stroke-linejoin="round">992.705</text>
<rect x="999.65" y="149.15" width="113.70" height="40.00" fill="none" stroke="#000" stroke-width="1.5"/>
<rect x="1170.85" y="136.25" width="115.40" height="38.30" fill="none" stroke="#000" stroke-width="1.5"/>
<rect x="1298.95" y="46.35" width="111.20" height="40.00" fill="none" stroke="#000" stroke-width="1.5"/>
<rect x="1496.35" y="139.75" width="110.90" height="38.30" fill="none" stroke="#000" stroke-width="1.5"/>
<rect x="1016.95" y="325.15" width="109.20" height="38.10" fill="none" stroke="#000" stroke-width="1.5"/>
<rect x="1175.75" y="259.55" width="110.70" height="38.40" fill="none" stroke="#000" stroke-width="1.5"/>
<rect x="1361.65" y="232.35" width="110.50" height="38.60" fill="none" stroke="#000" stroke-width="1.5"/>
<rect x="1496.25" y="293.35" width="111.00" height="38.70" fill="none" stroke="#000" stroke-width="1.5"/>
<text transform="translate(1613.00,73.10) scale(0.8872,1)" font-size="29.86" font-weight="bold" fill="#000" stroke="#000" stroke-width="0.45" stroke-linejoin="round">1</text>
<text transform="translate(1612.50,263.50) scale(0.9309,1)" font-size="30.00" font-weight="bold" fill="#000" stroke="#000" stroke-width="0.45" stroke-linejoin="round">2</text>
<text transform="translate(1609.60,453.59) scale(0.8784,1)" font-size="30.56" font-weight="bold" fill="#000" stroke="#000" stroke-width="0.45" stroke-linejoin="round">3</text>
<text transform="translate(1612.00,646.50) scale(0.9449,1)" font-size="28.99" font-weight="bold" fill="#000" stroke="#000" stroke-width="0.45" stroke-linejoin="round">4</text>
<rect x="1.55" y="372.65" width="573.70" height="696.10" fill="none" stroke="#111" stroke-width="1.7"/>
<line x1="0.70" y1="410.90" x2="576.10" y2="410.90" stroke="#1a1a1a" stroke-width="1.5"/>
<text transform="translate(26.50,400.31) scale(0.9468,1)" font-size="19.32" font-weight="bold" fill="#000" stroke="#000" stroke-width="0.45" stroke-linejoin="round">slice</text>
<text transform="translate(124.00,400.20) scale(1.0357,1)" font-size="20.19" font-weight="bold" fill="#000" stroke="#000" stroke-width="0.45" stroke-linejoin="round">m<tspan font-size="25.91" dy="2.18">/</tspan><tspan dy="-2.18">z</tspan></text>
<text transform="translate(338.80,400.20) scale(0.9466,1)" font-size="20.19" font-weight="bold" fill="#000" stroke="#000" stroke-width="0.45" stroke-linejoin="round">sequence</text>
<text transform="translate(34.70,435.73) scale(1.0030,1)" font-size="17.04" fill="#000" stroke="#000" stroke-width="0.32" stroke-linejoin="round">1-2</text>
<text transform="translate(105.45,435.73) scale(1.0314,1)" font-size="17.04" fill="#000" stroke="#000" stroke-width="0.32" stroke-linejoin="round">306.1594</text>
<text transform="translate(370.20,435.90) scale(0.9881,1)" font-size="17.25" fill="#000" stroke="#000" stroke-width="0.32" stroke-linejoin="round">MR</text>
<text transform="translate(29.40,469.23) scale(1.0357,1)" font-size="17.04" fill="#000" stroke="#000" stroke-width="0.32" stroke-linejoin="round">3-28</text>
<text transform="translate(105.45,469.23) scale(1.0503,1)" font-size="17.04" fill="#000" stroke="#000" stroke-width="0.32" stroke-linejoin="round">2711.176</text>
<text transform="translate(244.00,469.40) scale(0.9011,1)" font-size="17.25" fill="#000" stroke="#000" stroke-width="0.32" stroke-linejoin="round">GSHHHHHHGSTFCSGALAATSDDDVK</text>
<text transform="translate(24.75,504.63) scale(1.0223,1)" font-size="17.04" fill="#000" stroke="#000" stroke-width="0.32" stroke-linejoin="round">29-29</text>
<text transform="translate(105.45,504.63) scale(1.0503,1)" font-size="17.04" fill="#000" stroke="#000" stroke-width="0.32" stroke-linejoin="round">147.1128</text>
<text transform="translate(378.30,504.80) scale(0.8806,1)" font-size="17.25" fill="#000" stroke="#000" stroke-width="0.32" stroke-linejoin="round">K</text>
<text transform="translate(24.75,538.03) scale(1.0223,1)" font-size="17.04" fill="#000" stroke="#000" stroke-width="0.32" stroke-linejoin="round">30-49</text>
<text transform="translate(105.45,538.03) scale(1.0314,1)" font-size="17.04" fill="#000" stroke="#000" stroke-width="0.32" stroke-linejoin="round">2051.056</text>
<text transform="translate(280.70,538.20) scale(0.9369,1)" font-size="17.25" fill="#000" stroke="#000" stroke-width="0.32" stroke-linejoin="round">AATVAIVAAYNNGQEINGFK</text>
<text transform="translate(24.75,573.13) scale(1.0223,1)" font-size="17.04" fill="#000" stroke="#000" stroke-width="0.32" stroke-linejoin="round">50-66</text>
<text transform="translate(105.45,573.13) scale(1.0314,1)" font-size="17.04" fill="#000" stroke="#000" stroke-width="0.32" stroke-linejoin="round">1810.871</text>
<text transform="translate(300.90,573.30) scale(0.9042,1)" font-size="17.25" fill="#000" stroke="#000" stroke-width="0.32" stroke-linejoin="round">AGETIYDIGEDGTITQK</text>
<text transform="translate(24.75,608.83) scale(1.0223,1)" font-size="17.04" fill="#000" stroke="#000" stroke-width="0.32" stroke-linejoin="round">67-79</text>
<text transform="translate(105.45,608.83) scale(1.0314,1)" font-size="17.04" fill="#000" stroke="#000" stroke-width="0.32" stroke-linejoin="round">1367.596</text>
<text transform="translate(315.20,609.00) scale(0.9151,1)" font-size="17.25" fill="#000" stroke="#000" stroke-width="0.32" stroke-linejoin="round">DATAADVEADDFK</text>
<text transform="translate(24.75,642.53) scale(1.0223,1)" font-size="17.04" fill="#000" stroke="#000" stroke-width="0.32" stroke-linejoin="round">80-84</text>
<text transform="translate(105.45,642.53) scale(1.0314,1)" font-size="17.04" fill="#000" stroke="#000" stroke-width="0.32" stroke-linejoin="round">487.3239</text>
<text transform="translate(358.10,642.70) scale(0.8693,1)" font-size="17.25" fill="#000" stroke="#000" stroke-width="0.32" stroke-linejoin="round">GLGLK</text>
<text transform="translate(24.75,677.63) scale(1.0223,1)" font-size="17.04" fill="#000" stroke="#000" stroke-width="0.32" stroke-linejoin="round">85-85</text>
<text transform="translate(105.45,677.63) scale(1.0503,1)" font-size="17.04" fill="#000" stroke="#000" stroke-width="0.32" stroke-linejoin="round">147.1128</text>
<text transform="translate(378.30,677.80) scale(0.8806,1)" font-size="17.25" fill="#000" stroke="#000" stroke-width="0.32" stroke-linejoin="round">K</text>
<text transform="translate(24.75,711.43) scale(1.0223,1)" font-size="17.04" fill="#000" stroke="#000" stroke-width="0.32" stroke-linejoin="round">86-92</text>
<text transform="translate(110.40,711.43) scale(1.0291,1)" font-size="17.04" fill="#000" stroke="#000" stroke-width="0.32" stroke-linejoin="round">774.472</text>
<text transform="translate(348.20,711.60) scale(0.9120,1)" font-size="17.25" fill="#000" stroke="#000" stroke-width="0.32" stroke-linejoin="round">VVTNLTK</text>
<text transform="translate(24.75,746.33) scale(1.0223,1)" font-size="17.04" fill="#000" stroke="#000" stroke-width="0.32" stroke-linejoin="round">93-98</text>
<text transform="translate(105.45,746.33) scale(1.0314,1)" font-size="17.04" fill="#000" stroke="#000" stroke-width="0.32" stroke-linejoin="round">704.3573</text>
<text transform="translate(350.90,746.50) scale(0.9209,1)" font-size="17.25" fill="#000" stroke="#000" stroke-width="0.32" stroke-linejoin="round">TVNENK</text>
<text transform="translate(19.80,781.43) scale(1.0266,1)" font-size="17.04" fill="#000" stroke="#000" stroke-width="0.32" stroke-linejoin="round">99-104</text>
<text transform="translate(105.45,781.43) scale(1.0314,1)" font-size="17.04" fill="#000" stroke="#000" stroke-width="0.32" stroke-linejoin="round">674.3468</text>
<text transform="translate(348.20,781.60) scale(0.9552,1)" font-size="17.25" fill="#000" stroke="#000" stroke-width="0.32" stroke-linejoin="round">QNVDAK</text>
<text transform="translate(14.90,815.03) scale(1.0281,1)" font-size="17.04" fill="#000" stroke="#000" stroke-width="0.32" stroke-linejoin="round">105-106</text>
<text transform="translate(105.45,815.03) scale(1.0314,1)" font-size="17.04" fill="#000" stroke="#000" stroke-width="0.32" stroke-linejoin="round">246.1812</text>
<text transform="translate(373.00,815.20) scale(0.8947,1)" font-size="17.25" fill="#000" stroke="#000" stroke-width="0.32" stroke-linejoin="round">VK</text>
<text transform="translate(14.90,850.13) scale(1.0495,1)" font-size="17.04" fill="#000" stroke="#000" stroke-width="0.32" stroke-linejoin="round">107-114</text>
<text transform="translate(105.45,850.13) scale(1.0314,1)" font-size="17.04" fill="#000" stroke="#000" stroke-width="0.32" stroke-linejoin="round">876.4309</text>
<text transform="translate(345.70,850.30) scale(0.8712,1)" font-size="17.25" fill="#000" stroke="#000" stroke-width="0.32" stroke-linejoin="round">AAESEIEK</text>
<text transform="translate(14.90,884.23) scale(1.0719,1)" font-size="17.04" fill="#000" stroke="#000" stroke-width="0.32" stroke-linejoin="round">115-118</text>
<text transform="translate(105.45,884.23) scale(1.0314,1)" font-size="17.04" fill="#000" stroke="#000" stroke-width="0.32" stroke-linejoin="round">462.2922</text>
<text transform="translate(365.80,884.40) scale(0.8563,1)" font-size="17.25" fill="#000" stroke="#000" stroke-width="0.32" stroke-linejoin="round">LTTK</text>
<text transform="translate(14.90,919.13) scale(1.0495,1)" font-size="17.04" fill="#000" stroke="#000" stroke-width="0.32" stroke-linejoin="round">119-142</text>
<text transform="translate(105.45,919.13) scale(1.0314,1)" font-size="17.04" fill="#000" stroke="#000" stroke-width="0.32" stroke-linejoin="round">2433.163</text>
<text transform="translate(258.40,919.30) scale(0.9211,1)" font-size="17.25" fill="#000" stroke="#000" stroke-width="0.32" stroke-linejoin="round">LADTDAALADTDAALDETTNALNK</text>
<text transform="translate(14.90,954.83) scale(1.0281,1)" font-size="17.04" fill="#000" stroke="#000" stroke-width="0.32" stroke-linejoin="round">143-155</text>
<text transform="translate(105.45,954.83) scale(1.0314,1)" font-size="17.04" fill="#000" stroke="#000" stroke-width="0.32" stroke-linejoin="round">1452.722</text>
<text transform="translate(322.00,955.00) scale(0.8796,1)" font-size="17.25" fill="#000" stroke="#000" stroke-width="0.32" stroke-linejoin="round">LGENITTFAEETK</text>
<text transform="translate(14.90,987.83) scale(1.0281,1)" font-size="17.04" fill="#000" stroke="#000" stroke-width="0.32" stroke-linejoin="round">156-160</text>
<text transform="translate(105.45,987.83) scale(1.0314,1)" font-size="17.04" fill="#000" stroke="#000" stroke-width="0.32" stroke-linejoin="round">574.3559</text>
<text transform="translate(359.80,988.00) scale(0.9175,1)" font-size="17.25" fill="#000" stroke="#000" stroke-width="0.32" stroke-linejoin="round">TNIVK</text>
<text transform="translate(14.90,1023.33) scale(1.0281,1)" font-size="17.04" fill="#000" stroke="#000" stroke-width="0.32" stroke-linejoin="round">161-164</text>
<text transform="translate(105.45,1023.33) scale(1.0314,1)" font-size="17.04" fill="#000" stroke="#000" stroke-width="0.32" stroke-linejoin="round">504.2664</text>
<text transform="translate(365.80,1023.50) scale(0.8691,1)" font-size="17.25" fill="#000" stroke="#000" stroke-width="0.32" stroke-linejoin="round">IDEK</text>
<text transform="translate(14.90,1057.03) scale(1.0281,1)" font-size="17.04" fill="#000" stroke="#000" stroke-width="0.32" stroke-linejoin="round">165-176</text>
<text transform="translate(105.45,1057.03) scale(1.0503,1)" font-size="17.04" fill="#000" stroke="#000" stroke-width="0.32" stroke-linejoin="round">1189.595</text>
<text transform="translate(321.40,1057.20) scale(0.9109,1)" font-size="17.25" fill="#000" stroke="#000" stroke-width="0.32" stroke-linejoin="round">LEAVADTVGTVD</text>
<rect x="263.20" y="515.10" width="240.60" height="32.10" fill="none" stroke="#000" stroke-width="3.2"/>
<rect x="277.70" y="550.90" width="211.40" height="31.40" fill="none" stroke="#000" stroke-width="3.2"/>
<rect x="240.50" y="894.90" width="284.20" height="32.30" fill="none" stroke="#000" stroke-width="3.2"/>
<rect x="306.10" y="932.10" width="154.40" height="32.10" fill="none" stroke="#000" stroke-width="3.2"/>
</svg>
</body>
</html>
